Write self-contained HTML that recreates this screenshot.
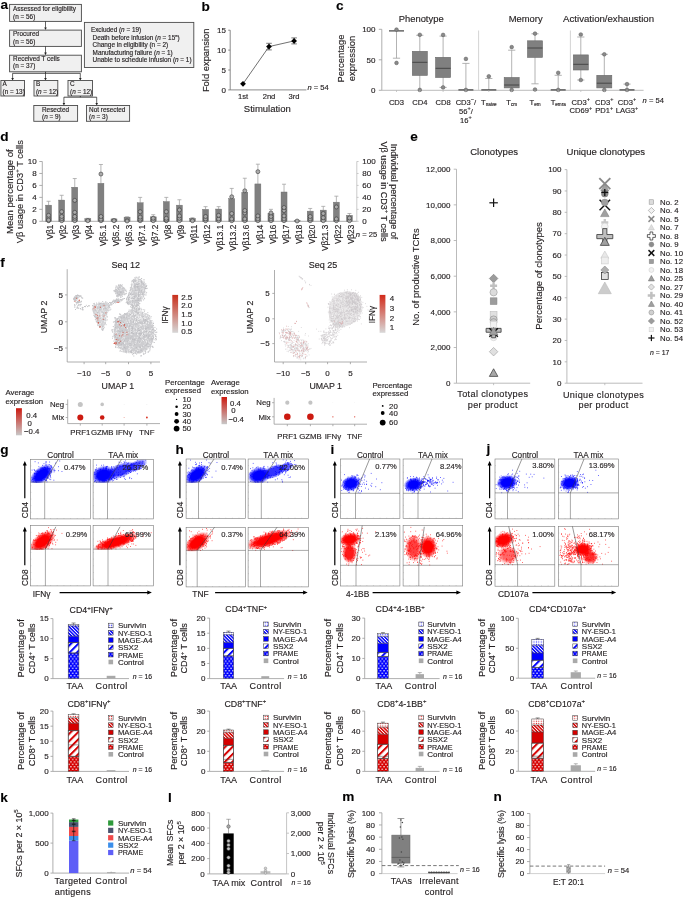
<!DOCTYPE html>
<html><head><meta charset="utf-8"><title>Figure</title>
<style>
html,body{margin:0;padding:0;background:#fff;}
body{width:685px;height:897px;overflow:hidden;}
svg{display:block;will-change:transform;font-family:"Liberation Sans",sans-serif;fill:#231f20;}
text{fill:#231f20;stroke:#231f20;stroke-width:0.15px;}
</style></head><body>
<svg width="685" height="897" viewBox="0 0 685 897">
<rect x="9.6" y="4.4" width="71.8" height="17" fill="#f0f0f0" stroke="#4a4a4a" stroke-width="0.9"/>
<text x="13.1" y="11.04" style="font-size:6.4px">Assessed for eligibility</text>
<text x="13.1" y="18.84" style="font-size:6.4px">(n = 56)</text>
<line x1="45.5" y1="21.4" x2="45.5" y2="27.9" stroke="#222" stroke-width="0.7"/>
<path d="M44.2 27.5L46.8 27.5L45.5 30.1Z" fill="#222"/>
<rect x="9.6" y="30.1" width="71.8" height="16.3" fill="#f0f0f0" stroke="#4a4a4a" stroke-width="0.9"/>
<text x="13.1" y="35.84" style="font-size:6.4px">Procured</text>
<text x="13.1" y="43.74" style="font-size:6.4px">(n = 56)</text>
<line x1="45.5" y1="46.4" x2="45.5" y2="53" stroke="#222" stroke-width="0.7"/>
<path d="M44.2 52.6L46.8 52.6L45.5 55.2Z" fill="#222"/>
<rect x="9.6" y="55.2" width="71.8" height="16.6" fill="#f0f0f0" stroke="#4a4a4a" stroke-width="0.9"/>
<text x="13.1" y="61.24" style="font-size:6.4px">Received T cells</text>
<text x="13.1" y="68.44" style="font-size:6.4px">(n = 37)</text>
<rect x="84.4" y="22.4" width="109.4" height="45.1" fill="#f0f0f0" stroke="#4a4a4a" stroke-width="0.9"/>
<text x="90.9" y="32.14" style="font-size:6.4px">Excluded (<tspan style="font-style:italic">n</tspan> = 19)</text>
<text x="92.6" y="39.64" style="font-size:6.4px">Death before infusion (<tspan style="font-style:italic">n</tspan> = 15<tspan dy="-2.6" style="font-size:4.2px">a</tspan><tspan dy="2.6">)</tspan></text>
<text x="92.6" y="47.24" style="font-size:6.4px">Change in eligibility (n = 2)</text>
<text x="92.6" y="54.84" style="font-size:6.4px">Manufacturing failure (<tspan style="font-style:italic">n</tspan> = 1)</text>
<text x="92.6" y="62.34" style="font-size:6.4px">Unable to schedule infusion (<tspan style="font-style:italic">n</tspan> = 1)</text>
<line x1="45.5" y1="71.8" x2="45.5" y2="73.3" stroke="#222" stroke-width="0.8"/>
<line x1="12.6" y1="73.3" x2="80.3" y2="73.3" stroke="#222" stroke-width="0.8"/>
<line x1="12.6" y1="73.3" x2="12.6" y2="78.3" stroke="#222" stroke-width="0.7"/>
<path d="M11.3 77.9L13.9 77.9L12.6 80.5Z" fill="#222"/>
<line x1="45.5" y1="73.3" x2="45.5" y2="78.3" stroke="#222" stroke-width="0.7"/>
<path d="M44.2 77.9L46.8 77.9L45.5 80.5Z" fill="#222"/>
<line x1="80.3" y1="73.3" x2="80.3" y2="78.3" stroke="#222" stroke-width="0.7"/>
<path d="M79 77.9L81.6 77.9L80.3 80.5Z" fill="#222"/>
<rect x="0.9" y="80.5" width="23.6" height="15.5" fill="#f0f0f0" stroke="#4a4a4a" stroke-width="0.9"/>
<text x="2.6" y="86.44" style="font-size:6.4px">A</text>
<text x="2.6" y="93.74" style="font-size:6.4px">(n = 13)</text>
<rect x="34" y="80.5" width="23.8" height="15.5" fill="#f0f0f0" stroke="#4a4a4a" stroke-width="0.9"/>
<text x="35.9" y="86.44" style="font-size:6.4px">B</text>
<text x="35.9" y="93.74" style="font-size:6.4px">(<tspan style="font-style:italic">n</tspan> = 12)</text>
<rect x="68" y="80.5" width="24.5" height="15.5" fill="#f0f0f0" stroke="#4a4a4a" stroke-width="0.9"/>
<text x="70" y="86.44" style="font-size:6.4px">C</text>
<text x="70" y="93.74" style="font-size:6.4px">(<tspan style="font-style:italic">n</tspan> = 12)</text>
<line x1="80.3" y1="96" x2="80.3" y2="97.2" stroke="#222" stroke-width="0.8"/>
<line x1="63.9" y1="97.2" x2="96.7" y2="97.2" stroke="#222" stroke-width="0.8"/>
<line x1="63.9" y1="97.2" x2="63.9" y2="103.3" stroke="#222" stroke-width="0.7"/>
<path d="M62.6 102.9L65.2 102.9L63.9 105.5Z" fill="#222"/>
<line x1="96.7" y1="97.2" x2="96.7" y2="103.3" stroke="#222" stroke-width="0.7"/>
<path d="M95.4 102.9L98 102.9L96.7 105.5Z" fill="#222"/>
<rect x="33.8" y="105.5" width="43.8" height="15.8" fill="#f0f0f0" stroke="#4a4a4a" stroke-width="0.9"/>
<text x="42" y="111.84" style="font-size:6.4px">Resected</text>
<text x="42" y="119.14" style="font-size:6.4px">(<tspan style="font-style:italic">n</tspan> = 9)</text>
<rect x="86.5" y="105.5" width="43.1" height="15.8" fill="#f0f0f0" stroke="#4a4a4a" stroke-width="0.9"/>
<text x="89.1" y="111.84" style="font-size:6.4px">Not resected</text>
<text x="89.1" y="119.14" style="font-size:6.4px">(<tspan style="font-style:italic">n</tspan> = 3)</text>
<text x="0.5" y="9.2" style="font-size:13.6px;font-weight:bold;fill:#000">a</text>
<text x="201.4" y="10.7" style="font-size:13.6px;font-weight:bold;fill:#000">b</text>
<line x1="230.2" y1="30.2" x2="230.2" y2="89.9" stroke="#6d6d6d" stroke-width="0.8"/>
<line x1="230.2" y1="89.9" x2="306.4" y2="89.9" stroke="#6d6d6d" stroke-width="0.8"/>
<line x1="228.2" y1="30.2" x2="230.2" y2="30.2" stroke="#6d6d6d" stroke-width="0.8"/>
<text x="226" y="33" text-anchor="end" style="font-size:8px">15</text>
<line x1="228.2" y1="50.1" x2="230.2" y2="50.1" stroke="#6d6d6d" stroke-width="0.8"/>
<text x="226" y="52.9" text-anchor="end" style="font-size:8px">10</text>
<line x1="228.2" y1="70" x2="230.2" y2="70" stroke="#6d6d6d" stroke-width="0.8"/>
<text x="226" y="72.8" text-anchor="end" style="font-size:8px">5</text>
<line x1="228.2" y1="89.9" x2="230.2" y2="89.9" stroke="#6d6d6d" stroke-width="0.8"/>
<text x="226" y="92.7" text-anchor="end" style="font-size:8px">0</text>
<path d="M243.0 83.8L269.0 46.6L294.1 40.9" fill="none" stroke="#333" stroke-width="0.7"/>
<path d="M243 80.9L245.9 83.8L243 86.7L240.1 83.8Z" fill="#000"/>
<line x1="269" y1="43.3" x2="269" y2="49.9" stroke="#444" stroke-width="0.7"/>
<line x1="266.2" y1="43.3" x2="271.8" y2="43.3" stroke="#444" stroke-width="0.7"/>
<line x1="266.2" y1="49.9" x2="271.8" y2="49.9" stroke="#444" stroke-width="0.7"/>
<path d="M269 43.7L271.9 46.6L269 49.5L266.1 46.6Z" fill="#000"/>
<line x1="294.1" y1="37.9" x2="294.1" y2="43.9" stroke="#444" stroke-width="0.7"/>
<line x1="291.3" y1="37.9" x2="296.9" y2="37.9" stroke="#444" stroke-width="0.7"/>
<line x1="291.3" y1="43.9" x2="296.9" y2="43.9" stroke="#444" stroke-width="0.7"/>
<path d="M294.1 38L297 40.9L294.1 43.8L291.2 40.9Z" fill="#000"/>
<text x="206.2" y="63.59" text-anchor="middle" style="font-size:9.4px" transform="rotate(-90 206.2 60.3)">Fold expansion</text>
<text x="243" y="98.96" text-anchor="middle" style="font-size:7.6px">1st</text>
<text x="269" y="98.96" text-anchor="middle" style="font-size:7.6px">2nd</text>
<text x="294.1" y="98.96" text-anchor="middle" style="font-size:7.6px">3rd</text>
<text x="267.3" y="111.92" text-anchor="middle" style="font-size:9.5px">Stimulation</text>
<text x="307.4" y="89.56" style="font-size:7.6px"><tspan style="font-style:italic">n</tspan> = 54</text>
<text x="336" y="9.6" style="font-size:13.6px;font-weight:bold;fill:#000">c</text>
<text x="421.2" y="22.19" text-anchor="middle" style="font-size:9.4px">Phenotype</text>
<text x="525.7" y="22.09" text-anchor="middle" style="font-size:9.4px">Memory</text>
<text x="608.6" y="22.18" text-anchor="middle" style="font-size:9.65px">Activation/exhaustion</text>
<line x1="381.8" y1="29.3" x2="381.8" y2="90.3" stroke="#9a9a9a" stroke-width="0.8"/>
<line x1="378.8" y1="29.3" x2="381.8" y2="29.3" stroke="#9a9a9a" stroke-width="0.8"/>
<text x="375.5" y="32.1" text-anchor="end" style="font-size:8px">100</text>
<line x1="378.8" y1="59.8" x2="381.8" y2="59.8" stroke="#9a9a9a" stroke-width="0.8"/>
<text x="375.5" y="62.6" text-anchor="end" style="font-size:8px">50</text>
<line x1="378.8" y1="90.3" x2="381.8" y2="90.3" stroke="#9a9a9a" stroke-width="0.8"/>
<text x="375.5" y="93.1" text-anchor="end" style="font-size:8px">0</text>
<line x1="381.8" y1="90.3" x2="643.6" y2="90.3" stroke="#b4b4b4" stroke-width="0.9"/>
<line x1="478.6" y1="30.5" x2="478.6" y2="90.3" stroke="#c8c8c8" stroke-width="0.8"/>
<line x1="570.4" y1="30.5" x2="570.4" y2="90.3" stroke="#c8c8c8" stroke-width="0.8"/>
<text x="340.5" y="61.79" text-anchor="middle" style="font-size:9.4px" transform="rotate(-90 340.5 58.5)">Percentage</text>
<text x="351.3" y="61.79" text-anchor="middle" style="font-size:9.4px" transform="rotate(-90 351.3 58.5)">expression</text>
<line x1="396.5" y1="30.9" x2="396.5" y2="58.2" stroke="#a0a0a0" stroke-width="0.8"/>
<line x1="392.9" y1="58.2" x2="400.1" y2="58.2" stroke="#a0a0a0" stroke-width="0.8"/>
<line x1="389" y1="30.9" x2="404" y2="30.9" stroke="#404040" stroke-width="1.2"/>
<circle cx="396.5" cy="29.6" r="1.85" fill="#8a8a8a" stroke="#5a5a5a" stroke-width="0.5"/>
<circle cx="396.5" cy="62.9" r="1.85" fill="#8a8a8a" stroke="#5a5a5a" stroke-width="0.5"/>
<line x1="396.5" y1="90.3" x2="396.5" y2="92" stroke="#b4b4b4" stroke-width="0.7"/>
<line x1="419.8" y1="35.3" x2="419.8" y2="89.9" stroke="#a0a0a0" stroke-width="0.8"/>
<line x1="416.2" y1="35.3" x2="423.4" y2="35.3" stroke="#a0a0a0" stroke-width="0.8"/>
<rect x="412.3" y="51.3" width="15" height="24.1" fill="#808080" stroke="#6a6a6a" stroke-width="0.6"/>
<line x1="412.3" y1="62.3" x2="427.3" y2="62.3" stroke="#404040" stroke-width="0.9"/>
<circle cx="419.8" cy="34.8" r="1.85" fill="#8a8a8a" stroke="#5a5a5a" stroke-width="0.5"/>
<circle cx="419.8" cy="89.9" r="1.85" fill="#8a8a8a" stroke="#5a5a5a" stroke-width="0.5"/>
<line x1="419.8" y1="90.3" x2="419.8" y2="92" stroke="#b4b4b4" stroke-width="0.7"/>
<line x1="443.1" y1="36.1" x2="443.1" y2="87.4" stroke="#a0a0a0" stroke-width="0.8"/>
<line x1="439.5" y1="36.1" x2="446.7" y2="36.1" stroke="#a0a0a0" stroke-width="0.8"/>
<line x1="439.5" y1="87.4" x2="446.7" y2="87.4" stroke="#a0a0a0" stroke-width="0.8"/>
<rect x="435.6" y="57.3" width="15" height="20.2" fill="#808080" stroke="#6a6a6a" stroke-width="0.6"/>
<line x1="435.6" y1="68.3" x2="450.6" y2="68.3" stroke="#404040" stroke-width="0.9"/>
<circle cx="443.1" cy="34.9" r="1.85" fill="#8a8a8a" stroke="#5a5a5a" stroke-width="0.5"/>
<circle cx="443.1" cy="87.4" r="1.85" fill="#8a8a8a" stroke="#5a5a5a" stroke-width="0.5"/>
<line x1="443.1" y1="90.3" x2="443.1" y2="92" stroke="#b4b4b4" stroke-width="0.7"/>
<line x1="465.9" y1="63.4" x2="465.9" y2="89.9" stroke="#a0a0a0" stroke-width="0.8"/>
<line x1="462.3" y1="63.4" x2="469.5" y2="63.4" stroke="#a0a0a0" stroke-width="0.8"/>
<line x1="458.4" y1="89.9" x2="473.4" y2="89.9" stroke="#404040" stroke-width="1.2"/>
<circle cx="465.9" cy="58.9" r="1.85" fill="#8a8a8a" stroke="#5a5a5a" stroke-width="0.5"/>
<circle cx="465.9" cy="89.9" r="1.85" fill="#8a8a8a" stroke="#5a5a5a" stroke-width="0.5"/>
<line x1="465.9" y1="90.3" x2="465.9" y2="92" stroke="#b4b4b4" stroke-width="0.7"/>
<line x1="488.8" y1="78.5" x2="488.8" y2="89.9" stroke="#a0a0a0" stroke-width="0.8"/>
<line x1="485.2" y1="78.5" x2="492.4" y2="78.5" stroke="#a0a0a0" stroke-width="0.8"/>
<line x1="481.3" y1="89.9" x2="496.3" y2="89.9" stroke="#404040" stroke-width="1.2"/>
<circle cx="488.8" cy="76.3" r="1.85" fill="#8a8a8a" stroke="#5a5a5a" stroke-width="0.5"/>
<line x1="488.8" y1="90.3" x2="488.8" y2="92" stroke="#b4b4b4" stroke-width="0.7"/>
<line x1="511.7" y1="50.2" x2="511.7" y2="89.9" stroke="#a0a0a0" stroke-width="0.8"/>
<line x1="508.1" y1="50.2" x2="515.3" y2="50.2" stroke="#a0a0a0" stroke-width="0.8"/>
<rect x="504.2" y="77.5" width="15" height="10.4" fill="#808080" stroke="#6a6a6a" stroke-width="0.6"/>
<line x1="504.2" y1="85" x2="519.2" y2="85" stroke="#404040" stroke-width="0.9"/>
<circle cx="511.7" cy="47.1" r="1.85" fill="#8a8a8a" stroke="#5a5a5a" stroke-width="0.5"/>
<circle cx="511.7" cy="89.9" r="1.85" fill="#8a8a8a" stroke="#5a5a5a" stroke-width="0.5"/>
<line x1="511.7" y1="90.3" x2="511.7" y2="92" stroke="#b4b4b4" stroke-width="0.7"/>
<line x1="535" y1="33.8" x2="535" y2="83.8" stroke="#a0a0a0" stroke-width="0.8"/>
<line x1="531.4" y1="33.8" x2="538.6" y2="33.8" stroke="#a0a0a0" stroke-width="0.8"/>
<line x1="531.4" y1="83.8" x2="538.6" y2="83.8" stroke="#a0a0a0" stroke-width="0.8"/>
<rect x="527.5" y="40.8" width="15" height="16.6" fill="#808080" stroke="#6a6a6a" stroke-width="0.6"/>
<line x1="527.5" y1="48" x2="542.5" y2="48" stroke="#404040" stroke-width="0.9"/>
<circle cx="535" cy="33.6" r="1.85" fill="#8a8a8a" stroke="#5a5a5a" stroke-width="0.5"/>
<circle cx="535" cy="89.5" r="1.85" fill="#8a8a8a" stroke="#5a5a5a" stroke-width="0.5"/>
<line x1="535" y1="90.3" x2="535" y2="92" stroke="#b4b4b4" stroke-width="0.7"/>
<line x1="558.2" y1="75.3" x2="558.2" y2="89.9" stroke="#a0a0a0" stroke-width="0.8"/>
<line x1="554.6" y1="75.3" x2="561.8" y2="75.3" stroke="#a0a0a0" stroke-width="0.8"/>
<line x1="550.7" y1="89.9" x2="565.7" y2="89.9" stroke="#404040" stroke-width="1.2"/>
<circle cx="558.2" cy="72.8" r="1.85" fill="#8a8a8a" stroke="#5a5a5a" stroke-width="0.5"/>
<circle cx="558.2" cy="89.9" r="1.85" fill="#8a8a8a" stroke="#5a5a5a" stroke-width="0.5"/>
<line x1="558.2" y1="90.3" x2="558.2" y2="92" stroke="#b4b4b4" stroke-width="0.7"/>
<line x1="580.8" y1="37" x2="580.8" y2="80" stroke="#a0a0a0" stroke-width="0.8"/>
<line x1="577.2" y1="37" x2="584.4" y2="37" stroke="#a0a0a0" stroke-width="0.8"/>
<line x1="577.2" y1="80" x2="584.4" y2="80" stroke="#a0a0a0" stroke-width="0.8"/>
<rect x="573.3" y="54.9" width="15" height="15.1" fill="#808080" stroke="#6a6a6a" stroke-width="0.6"/>
<line x1="573.3" y1="64.3" x2="588.3" y2="64.3" stroke="#404040" stroke-width="0.9"/>
<circle cx="580.8" cy="34.5" r="1.85" fill="#8a8a8a" stroke="#5a5a5a" stroke-width="0.5"/>
<circle cx="580.8" cy="80" r="1.85" fill="#8a8a8a" stroke="#5a5a5a" stroke-width="0.5"/>
<line x1="580.8" y1="90.3" x2="580.8" y2="92" stroke="#b4b4b4" stroke-width="0.7"/>
<line x1="604.3" y1="54.3" x2="604.3" y2="89.9" stroke="#a0a0a0" stroke-width="0.8"/>
<line x1="600.7" y1="54.3" x2="607.9" y2="54.3" stroke="#a0a0a0" stroke-width="0.8"/>
<rect x="596.8" y="75.3" width="15" height="12.6" fill="#808080" stroke="#6a6a6a" stroke-width="0.6"/>
<line x1="596.8" y1="83.2" x2="611.8" y2="83.2" stroke="#404040" stroke-width="0.9"/>
<circle cx="604.3" cy="54.3" r="1.85" fill="#8a8a8a" stroke="#5a5a5a" stroke-width="0.5"/>
<circle cx="604.3" cy="89.9" r="1.85" fill="#8a8a8a" stroke="#5a5a5a" stroke-width="0.5"/>
<line x1="604.3" y1="90.3" x2="604.3" y2="92" stroke="#b4b4b4" stroke-width="0.7"/>
<line x1="627" y1="84.1" x2="627" y2="89.9" stroke="#a0a0a0" stroke-width="0.8"/>
<line x1="623.4" y1="84.1" x2="630.6" y2="84.1" stroke="#a0a0a0" stroke-width="0.8"/>
<line x1="619.5" y1="89.9" x2="634.5" y2="89.9" stroke="#404040" stroke-width="1.2"/>
<circle cx="627" cy="84.1" r="1.85" fill="#8a8a8a" stroke="#5a5a5a" stroke-width="0.5"/>
<circle cx="627" cy="89.9" r="1.85" fill="#8a8a8a" stroke="#5a5a5a" stroke-width="0.5"/>
<line x1="627" y1="90.3" x2="627" y2="92" stroke="#b4b4b4" stroke-width="0.7"/>
<text x="396.5" y="104.66" text-anchor="middle" style="font-size:7.6px">CD3</text>
<text x="419.8" y="104.66" text-anchor="middle" style="font-size:7.6px">CD4</text>
<text x="443.1" y="104.66" text-anchor="middle" style="font-size:7.6px">CD8</text>
<text x="465.9" y="104.66" text-anchor="middle" style="font-size:7.6px">CD3<tspan dy="-3.4" style="font-size:5.5px">−</tspan><tspan dy="3.4">/</tspan></text>
<text x="465.9" y="113.56" text-anchor="middle" style="font-size:7.6px">56<tspan dy="-3.4" style="font-size:5.5px">+</tspan><tspan dy="3.4">/</tspan></text>
<text x="465.9" y="122.66" text-anchor="middle" style="font-size:7.6px">16<tspan dy="-3.4" style="font-size:5.5px">+</tspan></text>
<text x="488.8" y="104.66" text-anchor="middle" style="font-size:7.6px">T<tspan dy="1.8" style="font-size:4.6px">naive</tspan></text>
<text x="511.7" y="104.66" text-anchor="middle" style="font-size:7.6px">T<tspan dy="1.8" style="font-size:4.6px">cm</tspan></text>
<text x="535" y="104.66" text-anchor="middle" style="font-size:7.6px">T<tspan dy="1.8" style="font-size:4.6px">em</tspan></text>
<text x="558.2" y="104.66" text-anchor="middle" style="font-size:7.6px">T<tspan dy="1.8" style="font-size:4.6px">emra</tspan></text>
<text x="580.8" y="104.66" text-anchor="middle" style="font-size:7.6px">CD3<tspan dy="-3.4" style="font-size:5.5px">+</tspan></text>
<text x="580.8" y="113.26" text-anchor="middle" style="font-size:7.6px">CD69<tspan dy="-3.4" style="font-size:5.5px">+</tspan></text>
<text x="604.3" y="104.66" text-anchor="middle" style="font-size:7.6px">CD3<tspan dy="-3.4" style="font-size:5.5px">+</tspan></text>
<text x="604.3" y="113.26" text-anchor="middle" style="font-size:7.6px">PD1<tspan dy="-3.4" style="font-size:5.5px">+</tspan></text>
<text x="627" y="104.66" text-anchor="middle" style="font-size:7.6px">CD3<tspan dy="-3.4" style="font-size:5.5px">+</tspan></text>
<text x="627" y="113.26" text-anchor="middle" style="font-size:7.6px">LAG3<tspan dy="-3.4" style="font-size:5.5px">+</tspan></text>
<text x="642.6" y="103.06" style="font-size:7.6px"><tspan style="font-style:italic">n</tspan> = 54</text>
<text x="0.3" y="141" style="font-size:13.6px;font-weight:bold;fill:#000">d</text>
<line x1="42.3" y1="161.5" x2="42.3" y2="221.3" stroke="#9a9a9a" stroke-width="0.8"/>
<line x1="39.3" y1="221.3" x2="42.3" y2="221.3" stroke="#9a9a9a" stroke-width="0.8"/>
<text x="36.6" y="224.1" text-anchor="end" style="font-size:8px">0</text>
<line x1="39.3" y1="209.34" x2="42.3" y2="209.34" stroke="#9a9a9a" stroke-width="0.8"/>
<text x="36.6" y="212.14" text-anchor="end" style="font-size:8px">2</text>
<line x1="39.3" y1="197.38" x2="42.3" y2="197.38" stroke="#9a9a9a" stroke-width="0.8"/>
<text x="36.6" y="200.18" text-anchor="end" style="font-size:8px">4</text>
<line x1="39.3" y1="185.42" x2="42.3" y2="185.42" stroke="#9a9a9a" stroke-width="0.8"/>
<text x="36.6" y="188.22" text-anchor="end" style="font-size:8px">6</text>
<line x1="39.3" y1="173.46" x2="42.3" y2="173.46" stroke="#9a9a9a" stroke-width="0.8"/>
<text x="36.6" y="176.26" text-anchor="end" style="font-size:8px">8</text>
<line x1="39.3" y1="161.5" x2="42.3" y2="161.5" stroke="#9a9a9a" stroke-width="0.8"/>
<text x="36.6" y="164.3" text-anchor="end" style="font-size:8px">10</text>
<line x1="42.3" y1="221.3" x2="356.8" y2="221.3" stroke="#9a9a9a" stroke-width="0.8"/>
<line x1="356.8" y1="161.5" x2="356.8" y2="221.3" stroke="#bdbdbd" stroke-width="0.8"/>
<line x1="356.8" y1="221.3" x2="358.6" y2="221.3" stroke="#bdbdbd" stroke-width="0.8"/>
<text x="362.3" y="224.1" style="font-size:8px">0</text>
<line x1="356.8" y1="209.34" x2="358.6" y2="209.34" stroke="#bdbdbd" stroke-width="0.8"/>
<text x="362.3" y="212.14" style="font-size:8px">20</text>
<line x1="356.8" y1="197.38" x2="358.6" y2="197.38" stroke="#bdbdbd" stroke-width="0.8"/>
<text x="362.3" y="200.18" style="font-size:8px">40</text>
<line x1="356.8" y1="185.42" x2="358.6" y2="185.42" stroke="#bdbdbd" stroke-width="0.8"/>
<text x="362.3" y="188.22" style="font-size:8px">60</text>
<line x1="356.8" y1="173.46" x2="358.6" y2="173.46" stroke="#bdbdbd" stroke-width="0.8"/>
<text x="362.3" y="176.26" style="font-size:8px">80</text>
<line x1="356.8" y1="161.5" x2="358.6" y2="161.5" stroke="#bdbdbd" stroke-width="0.8"/>
<text x="362.3" y="164.3" style="font-size:8px">100</text>
<text x="366.5" y="236.66" text-anchor="middle" style="font-size:7.6px"><tspan style="font-style:italic">n</tspan> = 25</text>
<text x="10" y="195.02" text-anchor="middle" style="font-size:9.5px" transform="rotate(-90 10 191.7)">Mean percentage of</text>
<text x="20.2" y="194.95" text-anchor="middle" style="font-size:9.3px" transform="rotate(-90 20.2 191.7)">Vβ usage in CD3<tspan dy="-4.0" style="font-size:6px">+</tspan><tspan dy="4.0"> T cells</tspan></text>
<text x="394.6" y="194.65" text-anchor="middle" style="font-size:9px" transform="rotate(90 394.6 191.5)">Individual percentage of</text>
<text x="383.7" y="194.65" text-anchor="middle" style="font-size:9px" transform="rotate(90 383.7 191.5)">Vβ usage in CD3<tspan dy="-4.0" style="font-size:6px">+</tspan><tspan dy="4.0"> T cells</tspan></text>
<line x1="48.6" y1="201.27" x2="48.6" y2="205.15" stroke="#a5a5a5" stroke-width="0.8"/>
<line x1="46.6" y1="201.27" x2="50.6" y2="201.27" stroke="#a5a5a5" stroke-width="0.8"/>
<rect x="45.6" y="205.15" width="6" height="16.15" fill="#808080" stroke="#6a6a6a" stroke-width="0.4"/>
<circle cx="48.6" cy="220.7" r="2" fill="#ababab" stroke="#2e2e2e" stroke-width="0.55"/>
<circle cx="48.6" cy="218.31" r="2" fill="#ababab" stroke="#2e2e2e" stroke-width="0.55"/>
<circle cx="48.6" cy="215.32" r="2" fill="#ababab" stroke="#2e2e2e" stroke-width="0.55"/>
<circle cx="48.6" cy="220.1" r="2" fill="#ababab" stroke="#2e2e2e" stroke-width="0.55"/>
<text x="50.4" y="227.67" text-anchor="end" style="font-size:8.2px" transform="rotate(-90 50.4 224.8)">Vβ1</text>
<line x1="61.68" y1="195.29" x2="61.68" y2="200.07" stroke="#a5a5a5" stroke-width="0.8"/>
<line x1="59.68" y1="195.29" x2="63.68" y2="195.29" stroke="#a5a5a5" stroke-width="0.8"/>
<rect x="58.68" y="200.07" width="6" height="21.23" fill="#808080" stroke="#6a6a6a" stroke-width="0.4"/>
<circle cx="61.68" cy="220.7" r="2" fill="#ababab" stroke="#2e2e2e" stroke-width="0.55"/>
<circle cx="61.68" cy="218.61" r="2" fill="#ababab" stroke="#2e2e2e" stroke-width="0.55"/>
<circle cx="61.68" cy="216.52" r="2" fill="#ababab" stroke="#2e2e2e" stroke-width="0.55"/>
<circle cx="61.68" cy="211.73" r="2" fill="#ababab" stroke="#2e2e2e" stroke-width="0.55"/>
<text x="63.48" y="227.67" text-anchor="end" style="font-size:8.2px" transform="rotate(-90 63.48 224.8)">Vβ2</text>
<line x1="74.76" y1="178.54" x2="74.76" y2="187.21" stroke="#a5a5a5" stroke-width="0.8"/>
<line x1="72.76" y1="178.54" x2="76.76" y2="178.54" stroke="#a5a5a5" stroke-width="0.8"/>
<rect x="71.76" y="187.21" width="6" height="34.09" fill="#808080" stroke="#6a6a6a" stroke-width="0.4"/>
<circle cx="74.76" cy="220.7" r="2" fill="#ababab" stroke="#2e2e2e" stroke-width="0.55"/>
<circle cx="74.76" cy="218.31" r="2" fill="#ababab" stroke="#2e2e2e" stroke-width="0.55"/>
<circle cx="74.76" cy="216.52" r="2" fill="#ababab" stroke="#2e2e2e" stroke-width="0.55"/>
<circle cx="74.76" cy="212.33" r="2" fill="#ababab" stroke="#2e2e2e" stroke-width="0.55"/>
<circle cx="74.76" cy="200.37" r="2" fill="#ababab" stroke="#2e2e2e" stroke-width="0.55"/>
<text x="76.56" y="227.67" text-anchor="end" style="font-size:8.2px" transform="rotate(-90 76.56 224.8)">Vβ3</text>
<line x1="87.84" y1="218.31" x2="87.84" y2="218.61" stroke="#a5a5a5" stroke-width="0.8"/>
<line x1="85.84" y1="218.31" x2="89.84" y2="218.31" stroke="#a5a5a5" stroke-width="0.8"/>
<rect x="84.84" y="218.61" width="6" height="2.69" fill="#808080" stroke="#6a6a6a" stroke-width="0.4"/>
<circle cx="87.84" cy="220.7" r="2" fill="#ababab" stroke="#2e2e2e" stroke-width="0.55"/>
<text x="89.64" y="227.67" text-anchor="end" style="font-size:8.2px" transform="rotate(-90 89.64 224.8)">Vβ4</text>
<line x1="100.92" y1="164.49" x2="100.92" y2="183.33" stroke="#a5a5a5" stroke-width="0.8"/>
<line x1="98.92" y1="164.49" x2="102.92" y2="164.49" stroke="#a5a5a5" stroke-width="0.8"/>
<rect x="97.92" y="183.33" width="6" height="37.97" fill="#808080" stroke="#6a6a6a" stroke-width="0.4"/>
<circle cx="100.92" cy="220.7" r="2" fill="#ababab" stroke="#2e2e2e" stroke-width="0.55"/>
<circle cx="100.92" cy="219.21" r="2" fill="#ababab" stroke="#2e2e2e" stroke-width="0.55"/>
<circle cx="100.92" cy="216.52" r="2" fill="#ababab" stroke="#2e2e2e" stroke-width="0.55"/>
<circle cx="100.92" cy="174.06" r="2" fill="#ababab" stroke="#2e2e2e" stroke-width="0.55"/>
<text x="102.72" y="227.67" text-anchor="end" style="font-size:8.2px" transform="rotate(-90 102.72 224.8)">Vβ5.1</text>
<line x1="114" y1="218.61" x2="114" y2="218.91" stroke="#a5a5a5" stroke-width="0.8"/>
<line x1="112" y1="218.61" x2="116" y2="218.61" stroke="#a5a5a5" stroke-width="0.8"/>
<rect x="111" y="218.91" width="6" height="2.39" fill="#808080" stroke="#6a6a6a" stroke-width="0.4"/>
<circle cx="114" cy="220.7" r="2" fill="#ababab" stroke="#2e2e2e" stroke-width="0.55"/>
<text x="115.8" y="227.67" text-anchor="end" style="font-size:8.2px" transform="rotate(-90 115.8 224.8)">Vβ5.2</text>
<line x1="127.08" y1="216.81" x2="127.08" y2="217.11" stroke="#a5a5a5" stroke-width="0.8"/>
<line x1="125.08" y1="216.81" x2="129.08" y2="216.81" stroke="#a5a5a5" stroke-width="0.8"/>
<rect x="124.08" y="217.11" width="6" height="4.19" fill="#808080" stroke="#6a6a6a" stroke-width="0.4"/>
<circle cx="127.08" cy="221" r="2" fill="#ababab" stroke="#2e2e2e" stroke-width="0.55"/>
<text x="128.88" y="227.67" text-anchor="end" style="font-size:8.2px" transform="rotate(-90 128.88 224.8)">Vβ5.3</text>
<line x1="140.16" y1="197.38" x2="140.16" y2="202.76" stroke="#a5a5a5" stroke-width="0.8"/>
<line x1="138.16" y1="197.38" x2="142.16" y2="197.38" stroke="#a5a5a5" stroke-width="0.8"/>
<rect x="137.16" y="202.76" width="6" height="18.54" fill="#808080" stroke="#6a6a6a" stroke-width="0.4"/>
<circle cx="140.16" cy="220.7" r="2" fill="#ababab" stroke="#2e2e2e" stroke-width="0.55"/>
<circle cx="140.16" cy="219.21" r="2" fill="#ababab" stroke="#2e2e2e" stroke-width="0.55"/>
<circle cx="140.16" cy="217.11" r="2" fill="#ababab" stroke="#2e2e2e" stroke-width="0.55"/>
<circle cx="140.16" cy="211.73" r="2" fill="#ababab" stroke="#2e2e2e" stroke-width="0.55"/>
<text x="141.96" y="227.67" text-anchor="end" style="font-size:8.2px" transform="rotate(-90 141.96 224.8)">Vβ7.1</text>
<line x1="153.24" y1="214.72" x2="153.24" y2="216.81" stroke="#a5a5a5" stroke-width="0.8"/>
<line x1="151.24" y1="214.72" x2="155.24" y2="214.72" stroke="#a5a5a5" stroke-width="0.8"/>
<rect x="150.24" y="216.81" width="6" height="4.49" fill="#808080" stroke="#6a6a6a" stroke-width="0.4"/>
<circle cx="153.24" cy="220.7" r="2" fill="#ababab" stroke="#2e2e2e" stroke-width="0.55"/>
<circle cx="153.24" cy="218.31" r="2" fill="#ababab" stroke="#2e2e2e" stroke-width="0.55"/>
<text x="155.04" y="227.67" text-anchor="end" style="font-size:8.2px" transform="rotate(-90 155.04 224.8)">Vβ7.2</text>
<line x1="166.32" y1="197.38" x2="166.32" y2="201.57" stroke="#a5a5a5" stroke-width="0.8"/>
<line x1="164.32" y1="197.38" x2="168.32" y2="197.38" stroke="#a5a5a5" stroke-width="0.8"/>
<rect x="163.32" y="201.57" width="6" height="19.73" fill="#808080" stroke="#6a6a6a" stroke-width="0.4"/>
<circle cx="166.32" cy="220.7" r="2" fill="#ababab" stroke="#2e2e2e" stroke-width="0.55"/>
<circle cx="166.32" cy="220.1" r="2" fill="#ababab" stroke="#2e2e2e" stroke-width="0.55"/>
<circle cx="166.32" cy="218.31" r="2" fill="#ababab" stroke="#2e2e2e" stroke-width="0.55"/>
<circle cx="166.32" cy="211.73" r="2" fill="#ababab" stroke="#2e2e2e" stroke-width="0.55"/>
<text x="168.12" y="227.67" text-anchor="end" style="font-size:8.2px" transform="rotate(-90 168.12 224.8)">Vβ8</text>
<line x1="179.4" y1="199.77" x2="179.4" y2="205.15" stroke="#a5a5a5" stroke-width="0.8"/>
<line x1="177.4" y1="199.77" x2="181.4" y2="199.77" stroke="#a5a5a5" stroke-width="0.8"/>
<rect x="176.4" y="205.15" width="6" height="16.15" fill="#808080" stroke="#6a6a6a" stroke-width="0.4"/>
<circle cx="179.4" cy="220.7" r="2" fill="#ababab" stroke="#2e2e2e" stroke-width="0.55"/>
<circle cx="179.4" cy="218.31" r="2" fill="#ababab" stroke="#2e2e2e" stroke-width="0.55"/>
<circle cx="179.4" cy="215.92" r="2" fill="#ababab" stroke="#2e2e2e" stroke-width="0.55"/>
<circle cx="179.4" cy="209.94" r="2" fill="#ababab" stroke="#2e2e2e" stroke-width="0.55"/>
<text x="181.2" y="227.67" text-anchor="end" style="font-size:8.2px" transform="rotate(-90 181.2 224.8)">Vβ9</text>
<line x1="192.48" y1="217.71" x2="192.48" y2="218.31" stroke="#a5a5a5" stroke-width="0.8"/>
<line x1="190.48" y1="217.71" x2="194.48" y2="217.71" stroke="#a5a5a5" stroke-width="0.8"/>
<rect x="189.48" y="218.31" width="6" height="2.99" fill="#808080" stroke="#6a6a6a" stroke-width="0.4"/>
<circle cx="192.48" cy="220.7" r="2" fill="#ababab" stroke="#2e2e2e" stroke-width="0.55"/>
<text x="194.28" y="227.67" text-anchor="end" style="font-size:8.2px" transform="rotate(-90 194.28 224.8)">Vβ11</text>
<line x1="205.56" y1="206.65" x2="205.56" y2="209.34" stroke="#a5a5a5" stroke-width="0.8"/>
<line x1="203.56" y1="206.65" x2="207.56" y2="206.65" stroke="#a5a5a5" stroke-width="0.8"/>
<rect x="202.56" y="209.34" width="6" height="11.96" fill="#808080" stroke="#6a6a6a" stroke-width="0.4"/>
<circle cx="205.56" cy="220.7" r="2" fill="#ababab" stroke="#2e2e2e" stroke-width="0.55"/>
<circle cx="205.56" cy="218.91" r="2" fill="#ababab" stroke="#2e2e2e" stroke-width="0.55"/>
<circle cx="205.56" cy="216.52" r="2" fill="#ababab" stroke="#2e2e2e" stroke-width="0.55"/>
<text x="207.36" y="227.67" text-anchor="end" style="font-size:8.2px" transform="rotate(-90 207.36 224.8)">Vβ12</text>
<line x1="218.64" y1="206.65" x2="218.64" y2="209.04" stroke="#a5a5a5" stroke-width="0.8"/>
<line x1="216.64" y1="206.65" x2="220.64" y2="206.65" stroke="#a5a5a5" stroke-width="0.8"/>
<rect x="215.64" y="209.04" width="6" height="12.26" fill="#808080" stroke="#6a6a6a" stroke-width="0.4"/>
<circle cx="218.64" cy="220.7" r="2" fill="#ababab" stroke="#2e2e2e" stroke-width="0.55"/>
<circle cx="218.64" cy="218.91" r="2" fill="#ababab" stroke="#2e2e2e" stroke-width="0.55"/>
<circle cx="218.64" cy="215.32" r="2" fill="#ababab" stroke="#2e2e2e" stroke-width="0.55"/>
<text x="220.44" y="227.67" text-anchor="end" style="font-size:8.2px" transform="rotate(-90 220.44 224.8)">Vβ13.1</text>
<line x1="231.72" y1="188.41" x2="231.72" y2="198.58" stroke="#a5a5a5" stroke-width="0.8"/>
<line x1="229.72" y1="188.41" x2="233.72" y2="188.41" stroke="#a5a5a5" stroke-width="0.8"/>
<rect x="228.72" y="198.58" width="6" height="22.72" fill="#808080" stroke="#6a6a6a" stroke-width="0.4"/>
<circle cx="231.72" cy="220.7" r="2" fill="#ababab" stroke="#2e2e2e" stroke-width="0.55"/>
<circle cx="231.72" cy="218.91" r="2" fill="#ababab" stroke="#2e2e2e" stroke-width="0.55"/>
<circle cx="231.72" cy="213.53" r="2" fill="#ababab" stroke="#2e2e2e" stroke-width="0.55"/>
<circle cx="231.72" cy="196.78" r="2" fill="#ababab" stroke="#2e2e2e" stroke-width="0.55"/>
<text x="233.52" y="227.67" text-anchor="end" style="font-size:8.2px" transform="rotate(-90 233.52 224.8)">Vβ13.2</text>
<line x1="244.8" y1="178.24" x2="244.8" y2="192.3" stroke="#a5a5a5" stroke-width="0.8"/>
<line x1="242.8" y1="178.24" x2="246.8" y2="178.24" stroke="#a5a5a5" stroke-width="0.8"/>
<rect x="241.8" y="192.3" width="6" height="29" fill="#808080" stroke="#6a6a6a" stroke-width="0.4"/>
<circle cx="244.8" cy="220.7" r="2" fill="#ababab" stroke="#2e2e2e" stroke-width="0.55"/>
<circle cx="244.8" cy="218.91" r="2" fill="#ababab" stroke="#2e2e2e" stroke-width="0.55"/>
<circle cx="244.8" cy="212.93" r="2" fill="#ababab" stroke="#2e2e2e" stroke-width="0.55"/>
<circle cx="244.8" cy="210.54" r="2" fill="#ababab" stroke="#2e2e2e" stroke-width="0.55"/>
<circle cx="244.8" cy="190.8" r="2" fill="#ababab" stroke="#2e2e2e" stroke-width="0.55"/>
<text x="246.6" y="227.67" text-anchor="end" style="font-size:8.2px" transform="rotate(-90 246.6 224.8)">Vβ13.6</text>
<line x1="257.88" y1="164.19" x2="257.88" y2="183.93" stroke="#a5a5a5" stroke-width="0.8"/>
<line x1="255.88" y1="164.19" x2="259.88" y2="164.19" stroke="#a5a5a5" stroke-width="0.8"/>
<rect x="254.88" y="183.93" width="6" height="37.38" fill="#808080" stroke="#6a6a6a" stroke-width="0.4"/>
<circle cx="257.88" cy="220.7" r="2" fill="#ababab" stroke="#2e2e2e" stroke-width="0.55"/>
<circle cx="257.88" cy="218.91" r="2" fill="#ababab" stroke="#2e2e2e" stroke-width="0.55"/>
<circle cx="257.88" cy="215.92" r="2" fill="#ababab" stroke="#2e2e2e" stroke-width="0.55"/>
<circle cx="257.88" cy="171.67" r="2" fill="#ababab" stroke="#2e2e2e" stroke-width="0.55"/>
<text x="259.68" y="227.67" text-anchor="end" style="font-size:8.2px" transform="rotate(-90 259.68 224.8)">Vβ14</text>
<line x1="270.96" y1="209.34" x2="270.96" y2="213.23" stroke="#a5a5a5" stroke-width="0.8"/>
<line x1="268.96" y1="209.34" x2="272.96" y2="209.34" stroke="#a5a5a5" stroke-width="0.8"/>
<rect x="267.96" y="213.23" width="6" height="8.07" fill="#808080" stroke="#6a6a6a" stroke-width="0.4"/>
<circle cx="270.96" cy="220.7" r="2" fill="#ababab" stroke="#2e2e2e" stroke-width="0.55"/>
<circle cx="270.96" cy="218.91" r="2" fill="#ababab" stroke="#2e2e2e" stroke-width="0.55"/>
<circle cx="270.96" cy="216.52" r="2" fill="#ababab" stroke="#2e2e2e" stroke-width="0.55"/>
<circle cx="270.96" cy="212.93" r="2" fill="#ababab" stroke="#2e2e2e" stroke-width="0.55"/>
<text x="272.76" y="227.67" text-anchor="end" style="font-size:8.2px" transform="rotate(-90 272.76 224.8)">Vβ16</text>
<line x1="284.04" y1="184.22" x2="284.04" y2="192" stroke="#a5a5a5" stroke-width="0.8"/>
<line x1="282.04" y1="184.22" x2="286.04" y2="184.22" stroke="#a5a5a5" stroke-width="0.8"/>
<rect x="281.04" y="192" width="6" height="29.3" fill="#808080" stroke="#6a6a6a" stroke-width="0.4"/>
<circle cx="284.04" cy="220.7" r="2" fill="#ababab" stroke="#2e2e2e" stroke-width="0.55"/>
<circle cx="284.04" cy="218.91" r="2" fill="#ababab" stroke="#2e2e2e" stroke-width="0.55"/>
<circle cx="284.04" cy="215.92" r="2" fill="#ababab" stroke="#2e2e2e" stroke-width="0.55"/>
<circle cx="284.04" cy="210.54" r="2" fill="#ababab" stroke="#2e2e2e" stroke-width="0.55"/>
<circle cx="284.04" cy="207.55" r="2" fill="#ababab" stroke="#2e2e2e" stroke-width="0.55"/>
<text x="285.84" y="227.67" text-anchor="end" style="font-size:8.2px" transform="rotate(-90 285.84 224.8)">Vβ17</text>
<line x1="297.12" y1="220.4" x2="297.12" y2="220.58" stroke="#a5a5a5" stroke-width="0.8"/>
<line x1="295.12" y1="220.4" x2="299.12" y2="220.4" stroke="#a5a5a5" stroke-width="0.8"/>
<rect x="294.12" y="220.58" width="6" height="0.72" fill="#808080" stroke="#6a6a6a" stroke-width="0.4"/>
<circle cx="297.12" cy="221" r="2" fill="#ababab" stroke="#2e2e2e" stroke-width="0.55"/>
<text x="298.92" y="227.67" text-anchor="end" style="font-size:8.2px" transform="rotate(-90 298.92 224.8)">Vβ18</text>
<line x1="310.2" y1="208.44" x2="310.2" y2="211.13" stroke="#a5a5a5" stroke-width="0.8"/>
<line x1="308.2" y1="208.44" x2="312.2" y2="208.44" stroke="#a5a5a5" stroke-width="0.8"/>
<rect x="307.2" y="211.13" width="6" height="10.17" fill="#808080" stroke="#6a6a6a" stroke-width="0.4"/>
<circle cx="310.2" cy="220.7" r="2" fill="#ababab" stroke="#2e2e2e" stroke-width="0.55"/>
<circle cx="310.2" cy="218.91" r="2" fill="#ababab" stroke="#2e2e2e" stroke-width="0.55"/>
<circle cx="310.2" cy="216.52" r="2" fill="#ababab" stroke="#2e2e2e" stroke-width="0.55"/>
<text x="312" y="227.67" text-anchor="end" style="font-size:8.2px" transform="rotate(-90 312 224.8)">Vβ20</text>
<line x1="323.28" y1="206.35" x2="323.28" y2="210.12" stroke="#a5a5a5" stroke-width="0.8"/>
<line x1="321.28" y1="206.35" x2="325.28" y2="206.35" stroke="#a5a5a5" stroke-width="0.8"/>
<rect x="320.28" y="210.12" width="6" height="11.18" fill="#808080" stroke="#6a6a6a" stroke-width="0.4"/>
<circle cx="323.28" cy="220.7" r="2" fill="#ababab" stroke="#2e2e2e" stroke-width="0.55"/>
<circle cx="323.28" cy="217.71" r="2" fill="#ababab" stroke="#2e2e2e" stroke-width="0.55"/>
<circle cx="323.28" cy="213.53" r="2" fill="#ababab" stroke="#2e2e2e" stroke-width="0.55"/>
<text x="325.08" y="227.67" text-anchor="end" style="font-size:8.2px" transform="rotate(-90 325.08 224.8)">Vβ21.3</text>
<line x1="336.36" y1="196.18" x2="336.36" y2="202.16" stroke="#a5a5a5" stroke-width="0.8"/>
<line x1="334.36" y1="196.18" x2="338.36" y2="196.18" stroke="#a5a5a5" stroke-width="0.8"/>
<rect x="333.36" y="202.16" width="6" height="19.14" fill="#808080" stroke="#6a6a6a" stroke-width="0.4"/>
<circle cx="336.36" cy="220.7" r="2" fill="#ababab" stroke="#2e2e2e" stroke-width="0.55"/>
<circle cx="336.36" cy="218.91" r="2" fill="#ababab" stroke="#2e2e2e" stroke-width="0.55"/>
<circle cx="336.36" cy="206.95" r="2" fill="#ababab" stroke="#2e2e2e" stroke-width="0.55"/>
<text x="338.16" y="227.67" text-anchor="end" style="font-size:8.2px" transform="rotate(-90 338.16 224.8)">Vβ22</text>
<line x1="349.44" y1="213.53" x2="349.44" y2="215.32" stroke="#a5a5a5" stroke-width="0.8"/>
<line x1="347.44" y1="213.53" x2="351.44" y2="213.53" stroke="#a5a5a5" stroke-width="0.8"/>
<rect x="346.44" y="215.32" width="6" height="5.98" fill="#808080" stroke="#6a6a6a" stroke-width="0.4"/>
<circle cx="349.44" cy="220.7" r="2" fill="#ababab" stroke="#2e2e2e" stroke-width="0.55"/>
<circle cx="349.44" cy="218.01" r="2" fill="#ababab" stroke="#2e2e2e" stroke-width="0.55"/>
<text x="351.24" y="227.67" text-anchor="end" style="font-size:8.2px" transform="rotate(-90 351.24 224.8)">Vβ23</text>
<text x="410.3" y="141.2" style="font-size:13.6px;font-weight:bold;fill:#000">e</text>
<text x="494.1" y="155.14" text-anchor="middle" style="font-size:9.55px">Clonotypes</text>
<text x="605.8" y="155.14" text-anchor="middle" style="font-size:9.55px">Unique clonotypes</text>
<line x1="456.5" y1="169.2" x2="456.5" y2="383.2" stroke="#aaaaaa" stroke-width="0.8"/>
<line x1="456.5" y1="383.2" x2="530.2" y2="383.2" stroke="#aaaaaa" stroke-width="0.8"/>
<line x1="453.7" y1="383.2" x2="456.5" y2="383.2" stroke="#aaaaaa" stroke-width="0.8"/>
<text x="450.5" y="386" text-anchor="end" style="font-size:8px">0</text>
<line x1="453.7" y1="347.53" x2="456.5" y2="347.53" stroke="#aaaaaa" stroke-width="0.8"/>
<text x="450.5" y="350.33" text-anchor="end" style="font-size:8px">2,000</text>
<line x1="453.7" y1="311.87" x2="456.5" y2="311.87" stroke="#aaaaaa" stroke-width="0.8"/>
<text x="450.5" y="314.67" text-anchor="end" style="font-size:8px">4,000</text>
<line x1="453.7" y1="276.2" x2="456.5" y2="276.2" stroke="#aaaaaa" stroke-width="0.8"/>
<text x="450.5" y="279" text-anchor="end" style="font-size:8px">6,000</text>
<line x1="453.7" y1="240.53" x2="456.5" y2="240.53" stroke="#aaaaaa" stroke-width="0.8"/>
<text x="450.5" y="243.33" text-anchor="end" style="font-size:8px">8,000</text>
<line x1="453.7" y1="204.87" x2="456.5" y2="204.87" stroke="#aaaaaa" stroke-width="0.8"/>
<text x="450.5" y="207.67" text-anchor="end" style="font-size:8px">10,000</text>
<line x1="453.7" y1="169.2" x2="456.5" y2="169.2" stroke="#aaaaaa" stroke-width="0.8"/>
<text x="450.5" y="172" text-anchor="end" style="font-size:8px">12,000</text>
<line x1="493.6" y1="383.2" x2="493.6" y2="385.2" stroke="#aaaaaa" stroke-width="0.7"/>
<text x="415.3" y="280.3" text-anchor="middle" style="font-size:9.42px" transform="rotate(-90 415.3 277)">No. of productive TCRs</text>
<text x="492.8" y="397.38" text-anchor="middle" style="font-size:9.1px;letter-spacing:0.37px">Total clonotypes</text>
<text x="492.8" y="407.69" text-anchor="middle" style="font-size:9.1px;letter-spacing:0.37px">per product</text>
<line x1="566.9" y1="169.6" x2="566.9" y2="383.2" stroke="#aaaaaa" stroke-width="0.8"/>
<line x1="566.9" y1="383.2" x2="642.5" y2="383.2" stroke="#aaaaaa" stroke-width="0.8"/>
<line x1="564.7" y1="383.2" x2="566.9" y2="383.2" stroke="#aaaaaa" stroke-width="0.8"/>
<text x="561.5" y="386" text-anchor="end" style="font-size:8px">0</text>
<line x1="564.7" y1="361.84" x2="566.9" y2="361.84" stroke="#aaaaaa" stroke-width="0.8"/>
<text x="561.5" y="364.64" text-anchor="end" style="font-size:8px">10</text>
<line x1="564.7" y1="340.48" x2="566.9" y2="340.48" stroke="#aaaaaa" stroke-width="0.8"/>
<text x="561.5" y="343.28" text-anchor="end" style="font-size:8px">20</text>
<line x1="564.7" y1="319.12" x2="566.9" y2="319.12" stroke="#aaaaaa" stroke-width="0.8"/>
<text x="561.5" y="321.92" text-anchor="end" style="font-size:8px">30</text>
<line x1="564.7" y1="297.76" x2="566.9" y2="297.76" stroke="#aaaaaa" stroke-width="0.8"/>
<text x="561.5" y="300.56" text-anchor="end" style="font-size:8px">40</text>
<line x1="564.7" y1="276.4" x2="566.9" y2="276.4" stroke="#aaaaaa" stroke-width="0.8"/>
<text x="561.5" y="279.2" text-anchor="end" style="font-size:8px">50</text>
<line x1="564.7" y1="255.04" x2="566.9" y2="255.04" stroke="#aaaaaa" stroke-width="0.8"/>
<text x="561.5" y="257.84" text-anchor="end" style="font-size:8px">60</text>
<line x1="564.7" y1="233.68" x2="566.9" y2="233.68" stroke="#aaaaaa" stroke-width="0.8"/>
<text x="561.5" y="236.48" text-anchor="end" style="font-size:8px">70</text>
<line x1="564.7" y1="212.32" x2="566.9" y2="212.32" stroke="#aaaaaa" stroke-width="0.8"/>
<text x="561.5" y="215.12" text-anchor="end" style="font-size:8px">80</text>
<line x1="564.7" y1="190.96" x2="566.9" y2="190.96" stroke="#aaaaaa" stroke-width="0.8"/>
<text x="561.5" y="193.76" text-anchor="end" style="font-size:8px">90</text>
<line x1="564.7" y1="169.6" x2="566.9" y2="169.6" stroke="#aaaaaa" stroke-width="0.8"/>
<text x="561.5" y="172.4" text-anchor="end" style="font-size:8px">100</text>
<line x1="604.8" y1="383.2" x2="604.8" y2="385.2" stroke="#aaaaaa" stroke-width="0.7"/>
<text x="538.6" y="279.24" text-anchor="middle" style="font-size:9.54px" transform="rotate(-90 538.6 275.9)">Percentage of clonotypes</text>
<text x="603.5" y="397.79" text-anchor="middle" style="font-size:9.1px;letter-spacing:0.37px">Unique clonotypes</text>
<text x="603.5" y="407.99" text-anchor="middle" style="font-size:9.1px;letter-spacing:0.37px">per product</text>
<rect x="649.15" y="199.75" width="4.5" height="4.5" fill="#dcdcdc" stroke="#9a9a9a" stroke-width="0.55"/>
<text x="660" y="204.73" style="font-size:7.8px">No. 2</text>
<path d="M651.4 207.4L654.5 210.5L651.4 213.6L648.29 210.5Z" fill="#f2f2f2" stroke="#8a8a8a" stroke-width="0.55"/>
<text x="660" y="213.23" style="font-size:7.8px">No. 4</text>
<line x1="648.52" y1="216.12" x2="654.27" y2="221.88" stroke="#8a8a8a" stroke-width="1.43"/>
<line x1="648.52" y1="221.88" x2="654.27" y2="216.12" stroke="#8a8a8a" stroke-width="1.43"/>
<text x="660" y="221.73" style="font-size:7.8px">No. 5</text>
<path d="M651.4 224.51L654.39 229.89L648.41 229.89Z" fill="#dedede" stroke="#c4c4c4" stroke-width="0.55"/>
<text x="660" y="230.23" style="font-size:7.8px">No. 7</text>
<path d="M650.03 231.97H652.77V234.63H655.42V237.37H652.77V240.03H650.03V237.37H647.38V234.63H650.03Z" fill="#ffffff" stroke="#333333" stroke-width="0.77"/>
<text x="660" y="238.73" style="font-size:7.8px">No. 8</text>
<circle cx="651.4" cy="244.5" r="2.44" fill="#8c8c8c" stroke="#777777" stroke-width="0.44"/>
<text x="660" y="247.23" style="font-size:7.8px">No. 9</text>
<line x1="648.52" y1="250.12" x2="654.27" y2="255.88" stroke="#111111" stroke-width="1.43"/>
<line x1="648.52" y1="255.88" x2="654.27" y2="250.12" stroke="#111111" stroke-width="1.43"/>
<text x="660" y="255.73" style="font-size:7.8px">No. 10</text>
<rect x="649.15" y="259.25" width="4.5" height="4.5" fill="#9c9c9c" stroke="#8a8a8a" stroke-width="0.44"/>
<text x="660" y="264.23" style="font-size:7.8px">No. 12</text>
<circle cx="651.4" cy="270" r="2.44" fill="#f2f2f2" stroke="#cccccc" stroke-width="0.55"/>
<text x="660" y="272.73" style="font-size:7.8px">No. 18</text>
<path d="M651.4 275.51L654.39 280.89L648.41 280.89Z" fill="#a0a0a0" stroke="#6a6a6a" stroke-width="0.55"/>
<text x="660" y="281.23" style="font-size:7.8px">No. 25</text>
<path d="M651.4 283.89L654.5 287L651.4 290.11L648.29 287Z" fill="#e2e2e2" stroke="#8f8f8f" stroke-width="0.55"/>
<text x="660" y="289.73" style="font-size:7.8px">No. 27</text>
<path d="M650.15 291.82H652.65V294.25H655.08V296.75H652.65V299.18H650.15V296.75H647.72V294.25H650.15Z" fill="#c0c0c0"/>
<text x="660" y="298.23" style="font-size:7.8px">No. 29</text>
<path d="M651.4 301.01L654.39 306.39L648.41 306.39Z" fill="#a0a0a0" stroke="#777777" stroke-width="0.55"/>
<text x="660" y="306.73" style="font-size:7.8px">No. 40</text>
<circle cx="651.4" cy="312.5" r="2.44" fill="#d0d0d0" stroke="#8a8a8a" stroke-width="0.55"/>
<text x="660" y="315.23" style="font-size:7.8px">No. 41</text>
<path d="M651.4 317.89L654.5 321L651.4 324.11L648.29 321Z" fill="#9c9c9c" stroke="#7a7a7a" stroke-width="0.55"/>
<text x="660" y="323.73" style="font-size:7.8px">No. 52</text>
<rect x="649.15" y="327.25" width="4.5" height="4.5" fill="#f0f0f0" stroke="#cfcfcf" stroke-width="0.55"/>
<text x="660" y="332.23" style="font-size:7.8px">No. 53</text>
<line x1="648.29" y1="338" x2="654.5" y2="338" stroke="#111111" stroke-width="1.21"/>
<line x1="651.4" y1="334.89" x2="651.4" y2="341.11" stroke="#111111" stroke-width="1.21"/>
<text x="660" y="340.73" style="font-size:7.8px">No. 54</text>
<text x="650" y="355.22" style="font-size:6.9px"><tspan style="font-style:italic">n</tspan> = 17</text>
<line x1="489.35" y1="202.8" x2="497.85" y2="202.8" stroke="#111" stroke-width="1.2"/>
<line x1="493.6" y1="198.55" x2="493.6" y2="207.05" stroke="#111" stroke-width="1.2"/>
<path d="M493.6 274.25L497.85 278.5L493.6 282.75L489.35 278.5Z" fill="#9c9c9c" stroke="#7a7a7a" stroke-width="0.6"/>
<path d="M492.41 282.2H494.79V284.51H497.1V286.89H494.79V289.2H492.41V286.89H490.1V284.51H492.41Z" fill="#c0c0c0"/>
<circle cx="493.6" cy="292.3" r="3.61" fill="#dcdcdc" stroke="#9a9a9a" stroke-width="0.6"/>
<rect x="490.2" y="297.8" width="6.8" height="6.8" fill="#9c9c9c" stroke="#8a8a8a" stroke-width="0.5"/>
<circle cx="493.6" cy="337.3" r="3.4" fill="#f2f2f2" stroke="#cccccc" stroke-width="0.6"/>
<path d="M491.65 322.8H495.55V328.35H501.1V332.25H495.55V337.8H491.65V332.25H486.1V328.35H491.65Z" fill="#bfbfbf" stroke="#333333" stroke-width="0.8"/>
<line x1="489.35" y1="328.25" x2="497.85" y2="336.75" stroke="#111" stroke-width="1.4"/>
<line x1="489.35" y1="336.75" x2="497.85" y2="328.25" stroke="#111" stroke-width="1.4"/>
<rect x="490.2" y="311.6" width="6.8" height="6.8" fill="#e0e0e0" stroke="#bdbdbd" stroke-width="0.6"/>
<circle cx="493.6" cy="319.5" r="3.61" fill="#d0d0d0" stroke="#8a8a8a" stroke-width="0.6"/>
<circle cx="493.6" cy="322" r="3.4" fill="#c8c8c8" stroke="#8a8a8a" stroke-width="0.6"/>
<rect x="490.41" y="321.31" width="6.38" height="6.38" fill="#f2f2f2" stroke="#d0d0d0" stroke-width="0.6"/>
<path d="M493.6 327.25L497.85 334.9L489.35 334.9Z" fill="#a0a0a0" stroke="#6a6a6a" stroke-width="0.6"/>
<path d="M493.6 347.45L497.85 351.7L493.6 355.95L489.35 351.7Z" fill="#e0e0e0" stroke="#9a9a9a" stroke-width="0.6"/>
<path d="M493.6 368.75L497.85 376.4L489.35 376.4Z" fill="#a8a8a8" stroke="#333" stroke-width="0.7"/>
<path d="M604.8 183.7L608.8 190.9L600.8 190.9Z" fill="#a0a0a0" stroke="#777" stroke-width="0.5"/>
<line x1="599.3" y1="178.2" x2="610.3" y2="189.2" stroke="#8a8a8a" stroke-width="1.9"/>
<line x1="599.3" y1="189.2" x2="610.3" y2="178.2" stroke="#8a8a8a" stroke-width="1.9"/>
<circle cx="604.8" cy="193.7" r="3.4" fill="#8c8c8c" stroke="#777" stroke-width="0.5"/>
<line x1="601.3" y1="192.4" x2="608.3" y2="192.4" stroke="#111" stroke-width="1.3"/>
<line x1="604.8" y1="188.9" x2="604.8" y2="195.9" stroke="#111" stroke-width="1.3"/>
<line x1="599.55" y1="199.85" x2="610.05" y2="210.35" stroke="#111" stroke-width="1.4"/>
<line x1="599.55" y1="210.35" x2="610.05" y2="199.85" stroke="#111" stroke-width="1.4"/>
<circle cx="604.8" cy="202.5" r="3.4" fill="#a0a0a0" stroke="#888" stroke-width="0.5"/>
<path d="M604.8 208.95L609.05 216.6L600.55 216.6Z" fill="#a0a0a0" stroke="#777" stroke-width="0.5"/>
<path d="M603.61 219H605.99V221.31H608.3V223.69H605.99V226H603.61V223.69H601.3V221.31H603.61Z" fill="#c8c8c8"/>
<circle cx="604.8" cy="226.5" r="3.4" fill="#f2f2f2" stroke="#cccccc" stroke-width="0.6"/>
<path d="M602.72 228.6H606.88V234.52H612.8V238.68H606.88V244.6H602.72V238.68H596.8V234.52H602.72Z" fill="#c0c0c0" stroke="#333" stroke-width="0.8"/>
<path d="M604.8 237.3L609.3 245.4L600.3 245.4Z" fill="#a0a0a0" stroke="#333" stroke-width="0.7"/>
<path d="M604.8 251L608.8 258.2L600.8 258.2Z" fill="#e8e8e8" stroke="#c8c8c8" stroke-width="0.6"/>
<rect x="601.4" y="257.1" width="6.8" height="6.8" fill="#eeeeee" stroke="#cccccc" stroke-width="0.6"/>
<rect x="601.4" y="272.6" width="6.8" height="6.8" fill="#e0e0e0" stroke="#222" stroke-width="0.7"/>
<path d="M604.8 266L608.8 270L604.8 274L600.8 270Z" fill="#b0b0b0" stroke="#8a8a8a" stroke-width="0.6"/>
<path d="M604.8 282L611.3 293.7L598.3 293.7Z" fill="#cccccc" stroke="#bbbbbb" stroke-width="0.6"/>
<text x="0.3" y="266.9" style="font-size:13.6px;font-weight:bold;fill:#000">f</text>
<text x="125.8" y="267.85" text-anchor="middle" style="font-size:9px">Seq 12</text>
<line x1="67.2" y1="269.2" x2="67.2" y2="362" stroke="#9a9a9a" stroke-width="0.8"/>
<line x1="67.2" y1="362" x2="160" y2="362" stroke="#9a9a9a" stroke-width="0.8"/>
<line x1="65" y1="294.9" x2="67.2" y2="294.9" stroke="#9a9a9a" stroke-width="0.8"/>
<text x="63" y="297.7" text-anchor="end" style="font-size:8px">5</text>
<line x1="65" y1="321.8" x2="67.2" y2="321.8" stroke="#9a9a9a" stroke-width="0.8"/>
<text x="63" y="324.6" text-anchor="end" style="font-size:8px">0</text>
<line x1="65" y1="348" x2="67.2" y2="348" stroke="#9a9a9a" stroke-width="0.8"/>
<text x="63" y="350.8" text-anchor="end" style="font-size:8px">−5</text>
<line x1="84.1" y1="362" x2="84.1" y2="364.2" stroke="#9a9a9a" stroke-width="0.8"/>
<text x="84.1" y="376.4" text-anchor="middle" style="font-size:8px">−10</text>
<line x1="105.7" y1="362" x2="105.7" y2="364.2" stroke="#9a9a9a" stroke-width="0.8"/>
<text x="105.7" y="376.4" text-anchor="middle" style="font-size:8px">−5</text>
<line x1="128.5" y1="362" x2="128.5" y2="364.2" stroke="#9a9a9a" stroke-width="0.8"/>
<text x="128.5" y="376.4" text-anchor="middle" style="font-size:8px">0</text>
<line x1="150.9" y1="362" x2="150.9" y2="364.2" stroke="#9a9a9a" stroke-width="0.8"/>
<text x="150.9" y="376.4" text-anchor="middle" style="font-size:8px">5</text>
<path d="M116.0 319.0L122.0 315.0L128.0 312.0L133.0 310.0L136.5 309.0L141.0 311.0L145.0 313.0L149.0 317.0L152.0 322.0L154.5 330.0L154.0 338.0L151.5 345.0L147.0 350.0L140.0 353.5L132.0 353.5L126.0 352.0L120.0 349.0L115.5 344.0L113.5 336.0L114.0 326.0ZM132.0 280.0L138.0 278.0L143.0 281.0L145.5 287.0L145.5 294.0L142.0 300.0L137.0 304.5L131.0 305.5L126.5 303.0L126.5 298.0L129.5 292.0L131.0 286.0ZM115.5 286.5L120.0 285.0L124.5 287.5L125.0 293.0L121.5 296.5L117.0 296.0L114.5 291.0Z" fill="#cdcdd0"/>
<path d="M92.7 305.1L98.6 303.2L105.9 302.2L110.3 304.4L109.5 310.3L106.6 314.6L105.9 323.4L102.2 328.5L98.6 326.3L95.7 319.0L92.7 311.7Z" fill="#d4d4d7"/>
<path d="M115.1 346.8h1M112.4 329.6h1M116.4 318.7h1M147.6 315.3h1M155.0 330.6h1M119.4 314.1h1M152.7 347.2h1M144.9 353.3h1M114.1 317.8h1M131.4 309.5h1M156.0 339.2h1M143.2 354.4h1M112.0 338.2h1M144.8 351.3h1M147.4 352.1h1M114.8 343.8h1M112.3 336.4h1M120.3 314.9h1M148.0 352.0h1M149.4 348.8h1M143.6 353.8h1M156.1 329.0h1M111.5 330.0h1M153.8 342.5h1M151.4 346.2h1M120.8 351.3h1M133.4 307.9h1M147.7 315.1h1M155.4 332.6h1M138.8 307.8h1M155.5 332.2h1M142.7 309.7h1M148.4 351.3h1M150.3 318.0h1M152.4 322.2h1M125.4 352.4h1M147.3 312.7h1M119.5 316.6h1M119.9 314.7h1M134.5 307.2h1M152.0 346.4h1M122.8 351.9h1M144.2 310.0h1M128.2 311.4h1M122.5 351.6h1M155.4 334.8h1M139.0 309.4h1M154.4 327.4h1M141.0 355.8h1M145.2 352.3h1M114.7 321.6h1M124.0 313.6h1M151.4 320.5h1M112.0 332.1h1M155.4 338.9h1M144.8 351.3h1M155.4 340.0h1M150.2 346.6h1M149.3 350.7h1M155.0 338.4h1M113.7 321.8h1M122.9 350.7h1M153.0 323.5h1M136.1 354.1h1M111.5 330.0h1M140.2 355.9h1M149.8 347.4h1M114.8 319.9h1M143.9 311.3h1M154.9 335.7h1M148.9 316.8h1M118.2 347.9h1M114.5 321.7h1M132.2 354.6h1M154.4 334.5h1M115.1 317.7h1M129.7 310.1h1M156.3 332.2h1M114.8 318.6h1M126.1 352.8h1M116.6 347.6h1M124.2 351.2h1M149.1 315.7h1M140.4 308.3h1M155.0 336.4h1M133.3 356.0h1M149.5 349.1h1M113.4 341.1h1M115.5 345.9h1M152.1 347.1h1M137.9 308.7h1M124.5 352.4h1M119.8 350.3h1M142.9 353.2h1M131.4 310.4h1M153.5 339.7h1M135.4 308.7h1M115.0 320.7h1M119.5 351.2h1M128.6 352.8h1M146.8 314.7h1M133.9 308.2h1M119.2 314.0h1M111.8 331.2h1M112.9 322.1h1M115.0 347.3h1M113.8 326.9h1M130.5 310.3h1M156.0 336.9h1M112.8 326.5h1M140.8 309.4h1M118.5 316.6h1M150.6 316.6h1M128.6 310.1h1M127.2 303.4h1M136.5 278.0h1M138.1 277.2h1M146.2 285.5h1M131.4 281.2h1M129.4 290.7h1M146.0 286.5h1M137.9 305.3h1M126.4 298.2h1M146.3 288.3h1M145.3 284.0h1M143.0 299.9h1M145.6 288.7h1M136.8 305.6h1M134.6 305.9h1M130.1 288.8h1M145.6 286.2h1M138.5 303.6h1M136.4 277.3h1M143.9 298.2h1M143.8 282.3h1M133.2 279.4h1M138.5 304.0h1M144.1 298.7h1M145.4 295.1h1M136.2 305.3h1M134.9 278.2h1M134.8 305.7h1M144.5 284.0h1M127.5 303.9h1M146.5 288.4h1M130.0 306.8h1M129.9 287.7h1M141.2 278.8h1M125.7 302.7h1M128.1 293.8h1M134.2 277.9h1M143.5 279.5h1M143.5 281.0h1M146.1 292.4h1M128.7 292.6h1M131.8 306.0h1M127.8 304.6h1M139.3 303.6h1M145.5 293.8h1M126.5 302.0h1M130.8 284.6h1M137.2 304.8h1M139.0 277.0h1M141.0 278.5h1M132.0 305.6h1M137.3 304.7h1M129.9 289.0h1M135.5 277.2h1M120.5 297.3h1M124.9 290.1h1M121.1 285.5h1M125.4 293.8h1M121.8 296.5h1M125.3 290.8h1M121.7 284.8h1M113.8 291.7h1M125.8 293.3h1M124.2 294.7h1M120.0 284.9h1M119.6 284.9h1M125.7 291.6h1M115.2 288.0h1M113.7 290.6h1M120.0 297.1h1M116.4 296.0h1M115.7 285.9h1M116.7 295.9h1M123.4 294.6h1M113.6 290.7h1M118.3 284.7h1M116.0 296.0h1M117.8 296.7h1M115.2 293.7h1M115.2 293.2h1M124.6 293.9h1M125.4 290.1h1M118.1 285.5h1M116.9 296.8h1M98.5 302.3h1M94.0 316.4h1M106.6 316.4h1M110.3 303.2h1M96.0 303.1h1M92.6 305.6h1M91.9 309.8h1M92.4 308.5h1M101.7 329.8h1M110.3 309.2h1M93.4 315.5h1M102.6 328.7h1M97.3 325.6h1M105.6 324.7h1M103.7 327.7h1M102.8 328.6h1M92.1 305.6h1M95.3 319.9h1M110.5 304.4h1M106.6 317.2h1M102.3 330.2h1M106.7 302.5h1M94.6 317.1h1M106.7 319.9h1M101.0 329.0h1M109.1 302.5h1M99.5 327.0h1M99.0 327.3h1M102.2 329.7h1M96.6 321.6h1M111.1 304.9h1M94.9 319.3h1M97.3 324.6h1M102.1 330.0h1M102.8 328.9h1M102.2 301.6h1M93.9 303.4h1M105.3 301.7h1M95.8 321.6h1M96.1 322.0h1M92.9 303.8h1M135.8 311.5h1M134.6 310.0h1M136.1 308.5h1M132.1 307.4h1M139.1 309.2h1M132.6 307.3h1M135.7 306.4h1M136.0 308.9h1M136.7 305.3h1M133.7 311.6h1M135.8 304.4h1M136.5 305.7h1M138.2 309.7h1M131.8 305.2h1M135.0 311.6h1M133.6 305.7h1M136.5 308.7h1M135.9 306.8h1M138.3 305.6h1M137.3 305.1h1M135.2 311.7h1M132.8 305.9h1M139.2 309.2h1M131.1 305.1h1M132.8 306.0h1M138.5 309.5h1M136.5 306.8h1M137.3 307.7h1M131.1 307.7h1M134.1 308.0h1M133.6 304.8h1M136.1 311.3h1M132.2 307.8h1M135.2 310.0h1M135.9 305.5h1M132.3 309.7h1M134.9 310.7h1M136.4 309.8h1M137.7 309.6h1M131.9 304.9h1M138.8 306.7h1M138.5 308.6h1M131.6 305.9h1M132.4 308.9h1M132.1 304.9h1M135.6 306.7h1M131.9 308.3h1M135.3 306.8h1M136.3 305.1h1M138.9 308.5h1M134.2 308.1h1M134.1 309.5h1M134.0 309.5h1M133.2 306.0h1M137.6 310.2h1M137.1 311.4h1M132.3 306.8h1M138.6 310.0h1M137.5 310.9h1M133.9 308.6h1M136.0 311.1h1M136.7 311.7h1M131.9 306.9h1M135.9 304.6h1M136.5 305.9h1M133.6 308.7h1M132.3 307.3h1M133.0 306.6h1M137.1 305.1h1M135.8 306.4h1M110.3 304.0h1M126.1 299.4h1M113.0 303.4h1M114.9 302.9h1M118.0 300.0h1M128.1 298.8h1M115.8 302.4h1M112.5 301.0h1M122.0 299.0h1M128.8 297.4h1M114.7 301.6h1M120.9 300.8h1M121.5 299.9h1M116.5 299.8h1M109.8 302.5h1M128.4 297.4h1M127.2 298.3h1M127.9 299.1h1M118.7 300.9h1M117.3 301.5h1M120.2 300.1h1M112.4 302.1h1M116.6 300.5h1M120.1 299.6h1M126.1 298.7h1M115.6 301.4h1M124.0 298.5h1M112.0 301.6h1M111.6 302.3h1M112.9 301.0h1M109.1 304.5h1M128.3 297.6h1M119.4 299.3h1M110.5 303.7h1M114.0 301.9h1M123.0 298.9h1M114.6 301.3h1M121.7 300.0h1M111.1 302.6h1M111.8 304.0h1M114.1 302.4h1M130.5 297.5h1M127.5 299.0h1M120.9 299.7h1M128.9 297.0h1M116.3 299.4h1M114.6 300.2h1M118.5 300.4h1M114.5 300.9h1M116.3 300.6h1M119.4 301.8h1M118.2 301.6h1M115.8 299.4h1M118.1 299.0h1M114.6 300.4h1M116.6 299.6h1M117.5 299.1h1M114.9 301.2h1M113.3 300.0h1M114.1 302.1h1M116.8 301.0h1M116.5 301.0h1M116.5 301.6h1M116.2 298.9h1M113.4 301.3h1M119.1 301.7h1M119.1 301.7h1M115.0 300.4h1M114.4 300.8h1M118.1 300.5h1M73.1 298.3h1M73.8 301.1h1M78.3 296.8h1M76.1 299.1h1M77.2 297.0h1M74.3 300.0h1M74.2 297.7h1M79.0 296.3h1M74.7 300.0h1M75.9 297.5h1M75.8 297.3h1M73.8 298.6h1M76.0 295.8h1M78.0 302.1h1M80.9 301.2h1M77.3 301.7h1M80.2 302.0h1M74.6 299.6h1M74.0 297.6h1M77.0 298.9h1M76.6 302.4h1M75.0 297.7h1M80.3 296.3h1M76.2 300.3h1M77.1 295.1h1M73.6 298.7h1M77.7 302.9h1M75.1 300.3h1M79.7 302.1h1M77.1 302.5h1M73.9 297.2h1M76.3 302.9h1M74.5 299.2h1M78.4 302.6h1M78.3 302.3h1M79.4 296.7h1M76.4 295.5h1M75.1 295.8h1M76.2 296.3h1M76.3 298.5h1M80.4 296.4h1M74.9 298.0h1M77.5 295.6h1M77.7 295.5h1M75.9 297.7h1M78.1 295.6h1M81.2 297.6h1M77.4 302.4h1M73.7 299.7h1M76.1 295.5h1M77.0 301.6h1M76.8 295.4h1M77.0 298.2h1M77.8 301.3h1M76.0 297.1h1M75.8 302.6h1M78.2 297.9h1M77.4 295.2h1M78.6 301.5h1M73.9 300.0h1M74.5 296.8h1M73.1 299.3h1M74.6 298.3h1M76.9 301.8h1M79.3 295.6h1M76.7 297.1h1M76.7 302.9h1M74.4 297.3h1M81.0 301.7h1M78.6 302.3h1M75.6 302.3h1M80.3 295.7h1M79.1 301.7h1M77.1 297.6h1M81.6 298.0h1M82.2 298.2h1M77.4 302.6h1M73.7 298.5h1M75.4 296.2h1M77.4 301.6h1M74.3 307.3h1M78.0 305.1h1M76.8 307.1h1M78.2 304.8h1M76.1 304.1h1M80.4 309.1h1M78.3 308.2h1M75.0 309.5h1M77.8 308.2h1M79.6 305.8h1M79.5 304.8h1M82.3 309.9h1M82.5 309.7h1M79.6 304.6h1M74.2 304.5h1M81.7 307.3h1M77.4 305.7h1M82.1 307.5h1M74.3 306.1h1M82.1 308.6h1M82.6 307.6h1M80.0 308.5h1M74.4 305.5h1M80.4 304.7h1M77.1 307.9h1M76.3 308.1h1M81.8 309.6h1M80.4 304.4h1M76.9 307.1h1M80.5 304.3h1M88.5 305.7h1M85.8 305.3h1M88.5 305.9h1M84.0 306.5h1M84.9 306.7h1M84.7 306.5h1M87.0 306.6h1M88.3 305.8h1M98.7 304.1h1M104.4 303.6h1M104.5 318.1h1M103.5 319.0h1M92.9 310.8h1M99.6 309.4h1M104.9 304.8h1M98.1 312.6h1M100.1 323.3h1M96.1 316.2h1M97.8 315.0h1M101.9 309.2h1M102.1 303.9h1M98.8 309.7h1M105.0 317.8h1M93.7 305.6h1M95.5 317.1h1M103.7 318.1h1M101.7 309.3h1M97.3 307.9h1M98.0 318.2h1M98.3 319.7h1M94.0 304.8h1M109.4 305.5h1M105.3 316.1h1M100.6 302.9h1M105.0 303.2h1M102.0 326.5h1M104.6 305.3h1M105.4 320.7h1M98.5 322.5h1M102.9 313.1h1M102.0 309.5h1M98.9 322.5h1M99.2 307.2h1M103.1 303.8h1M103.5 318.6h1M109.5 310.0h1M96.8 308.0h1M101.4 313.2h1M98.2 324.0h1M102.1 304.9h1M108.1 303.5h1M105.1 308.3h1M104.8 324.1h1M105.5 308.6h1M102.2 303.6h1M99.2 326.1h1M93.9 310.0h1M98.9 304.4h1M99.0 307.6h1M100.3 318.4h1M104.3 304.7h1M102.1 303.7h1M100.5 323.4h1M97.0 312.5h1M102.5 316.3h1M104.9 308.1h1M96.2 314.9h1M97.7 316.8h1M100.0 303.5h1M109.3 307.7h1M92.8 305.5h1M103.4 314.7h1M95.1 305.7h1M103.2 319.1h1M95.1 310.2h1M95.2 315.1h1M104.7 323.5h1M101.3 326.2h1M106.9 307.9h1M98.8 303.7h1M106.2 314.7h1M100.3 325.0h1M97.5 318.4h1M95.3 317.2h1M93.9 314.3h1M94.1 313.2h1M100.5 303.6h1M99.9 306.0h1M100.8 303.9h1M100.2 305.8h1M95.5 309.5h1M104.1 318.8h1M93.5 307.5h1M100.3 324.4h1M102.5 313.0h1M109.1 307.6h1M108.0 306.2h1M97.0 318.4h1M97.6 318.2h1M97.8 322.2h1M102.9 309.0h1M104.1 310.4h1M103.4 308.6h1M97.5 311.8h1M103.3 326.8h1M103.7 317.5h1M98.4 312.2h1M102.7 308.7h1" stroke="#c4c4c7" stroke-width="1" fill="none"/>
<path d="M139.8 347.4h1M143.0 319.0h1M114.6 325.3h1M131.3 346.7h1M135.9 332.0h1M138.3 333.6h1M141.3 333.8h1M136.2 319.5h1M118.6 328.6h1M125.5 334.6h1M134.8 329.2h1M120.8 344.1h1M117.0 319.1h1M124.9 318.0h1M135.0 316.7h1M139.8 335.7h1M139.1 330.4h1M138.6 322.2h1M132.5 339.6h1M122.3 341.6h1M137.5 352.4h1M138.8 333.4h1M145.0 321.8h1M128.8 328.2h1M143.6 341.0h1M153.8 331.0h1M129.3 312.9h1M114.2 335.3h1M143.0 336.4h1M145.6 328.4h1M143.9 335.9h1M139.5 333.4h1M140.9 333.9h1M117.2 339.0h1M142.4 328.0h1M153.3 330.4h1M120.3 331.8h1M128.2 316.4h1M142.7 316.6h1M134.7 353.4h1M150.7 329.0h1M139.6 329.5h1M120.2 324.8h1M131.6 347.7h1M118.2 333.0h1M132.8 333.6h1M146.0 335.7h1M126.8 351.5h1M138.1 321.1h1M135.9 347.6h1M115.4 337.8h1M133.5 321.8h1M120.0 319.3h1M131.4 327.8h1M138.2 321.0h1M138.9 330.1h1M146.1 344.8h1M135.9 323.9h1M123.9 340.7h1M131.4 339.4h1M124.0 347.3h1M124.3 347.7h1M131.5 326.8h1M137.2 332.3h1M136.0 333.9h1M152.4 342.1h1M147.1 321.3h1M133.8 346.5h1M126.4 330.8h1M153.2 337.8h1M148.5 335.3h1M150.8 339.0h1M123.3 325.6h1M133.2 313.9h1M151.4 330.5h1M121.7 330.9h1M146.5 321.2h1M137.6 313.1h1M123.4 317.3h1M134.2 339.6h1M122.8 339.6h1M137.5 342.4h1M134.4 316.9h1M117.0 337.7h1M117.0 333.1h1M121.5 320.7h1M145.0 328.9h1M119.5 339.2h1M131.7 332.9h1M142.3 346.3h1M145.7 320.0h1M145.5 313.6h1M118.8 331.6h1M121.1 334.0h1M125.1 351.0h1M131.3 345.3h1M152.2 329.1h1M145.0 330.9h1M129.9 314.5h1M140.5 350.0h1M141.7 323.1h1M135.0 324.9h1M129.5 343.4h1M134.5 315.5h1M143.5 320.3h1M130.0 320.0h1M138.0 328.2h1M141.5 327.9h1M145.6 333.5h1M117.8 330.9h1M123.9 322.3h1M152.4 330.4h1M143.8 315.9h1M139.3 314.3h1M153.0 325.4h1M140.7 311.0h1M123.1 343.7h1M145.0 319.4h1M134.3 344.6h1M138.2 332.4h1M121.2 332.3h1M137.9 329.5h1M139.6 334.1h1M140.0 327.3h1M148.0 332.7h1M147.4 343.4h1M141.8 333.6h1M140.6 320.0h1M138.6 333.4h1M138.4 328.1h1M123.3 322.5h1M142.1 348.4h1M126.6 323.0h1M131.9 328.1h1M139.4 342.6h1M145.0 345.0h1M131.9 328.9h1M140.2 323.0h1M147.5 327.6h1M136.3 332.1h1M124.9 330.2h1M145.9 321.4h1M116.3 322.3h1M152.0 339.0h1M147.3 346.1h1M120.8 331.4h1M117.4 325.9h1M133.8 345.4h1M125.4 338.7h1M119.3 320.4h1M115.9 334.8h1M137.5 340.7h1M130.7 350.7h1M143.1 334.3h1M125.5 333.5h1M138.1 351.5h1M152.2 329.8h1M121.9 342.9h1M139.3 347.0h1M136.1 320.4h1M132.8 329.7h1M127.9 334.8h1M119.6 320.3h1M135.0 341.8h1M130.0 349.1h1M138.4 338.3h1M125.2 349.0h1M127.8 346.6h1M141.5 316.9h1M143.5 315.9h1M129.3 325.8h1M127.2 325.1h1M120.1 326.8h1M117.3 344.4h1M128.0 340.7h1M131.0 352.4h1M149.6 340.4h1M151.6 327.4h1M137.8 312.1h1M128.4 323.6h1M130.8 330.6h1M148.0 337.1h1M119.6 338.7h1M123.1 336.5h1M130.5 351.5h1M131.9 321.1h1M126.2 351.6h1M127.8 319.8h1M135.4 338.8h1M127.0 341.2h1M133.8 339.8h1M141.2 313.1h1M126.0 317.1h1M125.3 314.1h1M114.6 332.3h1M144.6 316.1h1M117.4 341.4h1M133.6 322.2h1M145.7 331.5h1M135.0 325.6h1M129.5 345.8h1M117.8 328.2h1M135.6 315.9h1M135.8 341.6h1M138.2 330.3h1M120.5 337.6h1M131.7 339.2h1M115.2 322.1h1M118.1 343.0h1M133.1 321.7h1M145.5 332.2h1M125.4 326.5h1M149.5 333.2h1M152.1 333.0h1M141.4 313.7h1M131.4 336.2h1M130.3 338.0h1M127.6 338.1h1M122.0 330.8h1M131.0 332.4h1M142.8 316.4h1M133.0 353.3h1M138.5 341.7h1M129.4 326.6h1M132.7 321.1h1M136.3 341.6h1M148.8 331.6h1M141.9 312.5h1M140.5 350.4h1M138.7 330.8h1M134.4 327.3h1M120.8 317.8h1M146.1 332.0h1M115.1 336.4h1M147.6 338.0h1M121.0 331.6h1M132.4 316.4h1M124.4 317.3h1M140.0 338.7h1M130.9 329.3h1M151.5 337.9h1M132.6 342.2h1M143.9 322.7h1M116.4 341.6h1M144.2 335.7h1M118.3 342.1h1M120.7 344.5h1M139.0 337.3h1M116.6 325.2h1M143.5 313.9h1M115.1 327.4h1M148.5 337.0h1M147.8 346.5h1M142.2 318.2h1M120.6 323.2h1M120.1 341.7h1M144.8 320.9h1M136.7 312.8h1M143.8 337.9h1M147.6 342.8h1M135.3 290.3h1M138.6 299.7h1M137.7 303.9h1M131.7 302.7h1M143.2 287.5h1M137.1 297.9h1M140.9 282.6h1M139.2 290.1h1M133.4 298.2h1M137.0 286.8h1M127.6 299.7h1M140.8 301.0h1M131.8 290.7h1M132.1 300.7h1M135.1 279.4h1M138.0 292.9h1M136.4 286.4h1M135.7 288.1h1M137.6 296.5h1M131.7 294.7h1M131.4 298.5h1M130.4 294.3h1M140.5 300.0h1M136.6 303.1h1M133.3 285.3h1M138.4 281.5h1M138.9 288.6h1M136.6 287.4h1M128.6 302.0h1M145.1 288.5h1M141.2 290.5h1M135.5 295.8h1M127.0 303.2h1M132.9 296.6h1M128.1 299.7h1M136.6 280.5h1M141.3 291.9h1M141.4 295.4h1M137.3 282.7h1M134.7 285.9h1M140.9 281.3h1M128.5 303.4h1M130.7 294.4h1M137.6 289.0h1M133.1 281.9h1M139.7 288.2h1M137.9 300.5h1M133.2 303.6h1M138.3 283.4h1M136.3 279.9h1M136.7 283.9h1M137.6 286.6h1M139.9 279.4h1M142.5 290.3h1M138.4 280.6h1M143.8 284.1h1M134.3 280.0h1M135.2 304.4h1M136.9 295.6h1M138.0 284.6h1M127.0 297.1h1M142.7 283.8h1M132.4 294.5h1M138.2 295.2h1M137.0 284.4h1M128.1 302.1h1M133.4 286.5h1M135.7 284.4h1M136.0 300.0h1M133.2 298.7h1M141.3 287.7h1M140.6 287.7h1M128.7 297.7h1M131.3 291.7h1M141.9 294.5h1M139.7 298.4h1M137.8 296.2h1M136.9 292.7h1M144.4 286.3h1M130.1 291.8h1M132.4 297.6h1M130.5 295.0h1M134.0 296.7h1M135.4 281.1h1M128.2 294.9h1M138.2 294.8h1M136.1 291.9h1M134.8 300.4h1M139.2 300.1h1M130.8 291.4h1M137.7 302.6h1M144.9 286.0h1M138.2 298.7h1M132.1 286.4h1M138.4 298.3h1M137.3 286.9h1M139.5 300.4h1M145.1 287.9h1M136.7 300.3h1M126.9 302.0h1M141.2 298.2h1M133.0 291.5h1M128.1 295.6h1M130.1 290.7h1M141.5 293.5h1M139.0 279.4h1M130.3 294.1h1M140.3 280.5h1M134.4 287.2h1M128.9 294.9h1M118.3 294.7h1M120.8 292.1h1M115.9 290.0h1M115.4 291.4h1M116.9 293.0h1M117.3 291.0h1M122.0 286.4h1M121.0 286.5h1M120.1 286.1h1M117.5 290.2h1M120.2 292.5h1M124.2 288.9h1M118.2 287.4h1M122.2 289.2h1M116.7 287.2h1M118.9 294.6h1M119.1 294.4h1M119.5 291.7h1M117.2 289.7h1M119.3 287.9h1M117.6 288.9h1M116.6 291.6h1M117.3 287.1h1M123.3 292.9h1M116.5 288.6h1" stroke="#bcbcc0" stroke-width="1" fill="none"/>
<path d="M134.3 346.1h0.8M147.7 347.3h0.8M127.3 328.1h0.8M122.1 323.2h0.8M120.7 346.7h0.8M118.1 328.6h0.8M122.5 320.0h0.8M143.7 324.8h0.8M139.6 319.1h0.8M115.5 333.2h0.8M133.4 347.4h0.8M138.6 310.7h0.8M146.1 342.0h0.8M151.9 322.3h0.8M145.1 333.0h0.8M133.5 332.4h0.8M129.7 346.9h0.8M120.7 324.5h0.8M133.1 311.7h0.8M124.3 343.4h0.8M131.0 334.7h0.8M118.7 325.8h0.8M136.3 342.1h0.8M124.0 342.4h0.8M135.8 316.7h0.8M146.9 348.3h0.8M152.8 324.8h0.8M145.9 341.1h0.8M136.7 326.2h0.8M126.3 345.3h0.8M116.3 334.4h0.8M142.4 318.7h0.8M145.5 340.7h0.8M127.1 328.5h0.8M143.1 340.5h0.8M132.5 351.4h0.8M139.4 348.3h0.8M121.5 327.2h0.8M125.5 331.2h0.8M143.7 313.0h0.8M130.2 330.8h0.8M128.8 319.8h0.8M116.9 332.9h0.8M127.3 351.2h0.8M139.5 328.1h0.8M141.7 336.2h0.8M133.8 331.5h0.8M130.3 349.3h0.8M146.1 323.0h0.8M127.1 328.2h0.8M125.6 342.8h0.8M117.4 333.7h0.8M142.8 324.3h0.8M143.4 324.8h0.8M139.0 313.6h0.8M126.5 333.9h0.8M138.6 329.6h0.8M115.0 333.0h0.8M149.0 321.1h0.8M122.0 336.6h0.8M116.5 336.8h0.8M149.7 343.3h0.8M137.7 347.9h0.8M148.3 320.9h0.8M129.1 352.3h0.8M152.1 337.5h0.8M139.3 324.2h0.8M117.2 323.7h0.8M123.0 337.1h0.8M140.4 337.0h0.8M128.7 349.7h0.8M132.7 344.6h0.8M121.0 324.8h0.8M146.3 322.0h0.8M143.4 335.7h0.8M128.9 321.4h0.8M142.0 330.5h0.8M139.1 326.3h0.8M124.8 322.0h0.8M122.8 339.9h0.8M134.3 353.0h0.8M145.5 338.8h0.8M143.9 318.2h0.8M134.4 309.8h0.8M134.8 310.4h0.8M127.7 330.1h0.8M119.1 318.0h0.8M119.6 337.9h0.8M148.1 323.1h0.8M143.6 350.7h0.8M144.7 344.0h0.8M142.3 327.8h0.8M137.0 350.4h0.8M136.9 310.1h0.8M131.8 347.8h0.8M142.6 330.5h0.8M151.8 342.7h0.8M122.7 340.2h0.8M151.9 328.2h0.8M126.6 322.5h0.8M122.4 338.3h0.8M146.1 337.9h0.8M125.3 326.9h0.8M146.0 341.8h0.8M135.2 341.9h0.8M147.1 332.2h0.8M141.4 347.0h0.8M147.6 316.0h0.8M114.7 340.5h0.8M146.9 317.4h0.8M148.4 342.7h0.8M140.5 336.7h0.8M122.3 346.1h0.8M142.2 333.5h0.8M151.0 328.8h0.8M130.4 319.4h0.8M148.2 323.2h0.8M143.2 351.3h0.8M126.7 335.3h0.8M130.5 311.9h0.8M147.9 331.0h0.8M120.2 319.2h0.8M114.4 325.8h0.8M129.3 346.7h0.8M148.7 319.7h0.8M143.9 324.9h0.8M144.9 338.4h0.8M116.4 329.9h0.8M130.9 329.4h0.8M136.3 339.7h0.8M130.0 332.1h0.8M147.4 339.3h0.8M129.4 348.1h0.8M153.1 340.1h0.8M128.6 342.2h0.8M134.1 351.4h0.8M134.1 337.3h0.8M141.6 337.0h0.8M120.8 334.3h0.8M131.1 339.3h0.8M145.2 318.2h0.8M128.7 320.4h0.8M152.9 330.8h0.8M131.9 351.9h0.8M145.6 347.2h0.8M134.1 314.6h0.8M128.8 312.7h0.8M129.9 329.1h0.8M133.2 352.5h0.8M135.3 316.4h0.8M120.8 339.2h0.8M134.7 327.2h0.8M133.7 327.2h0.8M141.3 335.4h0.8M115.5 331.1h0.8M123.8 334.9h0.8M132.5 342.9h0.8M138.8 331.6h0.8M118.1 341.5h0.8M121.6 325.9h0.8M137.4 320.8h0.8M148.9 333.3h0.8M132.5 323.4h0.8M137.1 337.8h0.8M137.7 350.8h0.8M131.6 325.5h0.8M144.2 333.7h0.8M124.5 350.0h0.8M135.6 349.5h0.8M148.5 345.3h0.8M138.5 331.7h0.8M125.4 316.3h0.8M131.7 346.1h0.8M136.2 352.7h0.8M146.3 333.2h0.8M137.7 327.6h0.8M120.8 349.1h0.8M141.3 325.0h0.8M144.0 327.8h0.8M141.9 331.5h0.8M139.4 350.0h0.8M150.0 330.4h0.8M129.4 340.8h0.8M140.9 313.2h0.8M134.4 321.4h0.8M140.1 316.4h0.8M125.7 320.2h0.8M125.0 334.2h0.8M148.9 337.5h0.8M140.0 342.9h0.8M129.5 328.0h0.8M140.2 318.2h0.8M144.4 350.0h0.8M118.8 336.5h0.8M127.7 317.0h0.8M138.4 332.9h0.8M135.5 331.8h0.8M138.8 343.6h0.8M143.1 340.4h0.8M147.4 329.9h0.8M139.7 314.0h0.8M116.8 329.1h0.8M141.4 319.4h0.8M133.6 329.9h0.8M123.8 337.2h0.8M128.4 324.3h0.8M131.6 334.7h0.8M123.6 350.6h0.8M117.8 340.0h0.8M116.2 332.6h0.8M126.8 351.3h0.8M131.5 346.3h0.8M128.4 332.5h0.8M129.1 322.6h0.8M133.0 329.9h0.8M121.0 332.1h0.8M137.2 334.5h0.8M143.8 329.2h0.8M118.3 322.5h0.8M130.6 327.4h0.8M122.1 347.3h0.8M125.9 333.3h0.8M138.5 314.8h0.8M131.2 314.9h0.8M135.7 341.5h0.8M118.1 329.4h0.8M140.8 325.6h0.8M152.2 331.0h0.8M129.4 340.0h0.8M147.8 331.0h0.8M148.7 342.8h0.8M130.4 340.5h0.8M134.7 314.0h0.8M150.1 319.5h0.8M134.0 322.5h0.8M134.2 326.0h0.8M136.0 328.3h0.8M144.6 338.3h0.8M124.9 317.8h0.8M123.2 323.5h0.8M130.9 331.4h0.8M124.2 322.1h0.8M139.5 310.7h0.8M137.9 335.1h0.8M117.9 319.7h0.8M143.8 341.9h0.8M128.0 348.3h0.8M120.2 319.2h0.8M136.9 332.7h0.8M145.9 322.7h0.8M150.5 337.1h0.8M141.8 334.6h0.8M122.2 334.1h0.8M127.0 322.7h0.8M124.0 343.3h0.8M140.1 315.0h0.8M142.4 348.1h0.8M138.2 348.2h0.8M136.1 331.5h0.8M130.2 334.2h0.8M150.9 335.6h0.8M144.1 329.7h0.8M149.7 343.2h0.8M134.4 322.4h0.8M139.7 312.2h0.8M134.8 328.0h0.8M138.0 321.6h0.8M150.6 330.5h0.8M147.5 320.6h0.8M149.9 333.3h0.8M135.9 328.3h0.8M152.1 334.0h0.8M135.4 325.2h0.8M132.3 321.0h0.8M131.7 320.7h0.8M116.7 325.3h0.8M114.6 338.5h0.8M126.5 321.1h0.8M136.0 322.0h0.8M143.2 322.5h0.8M141.7 320.7h0.8M139.9 325.0h0.8M134.3 321.2h0.8M135.6 337.9h0.8M148.2 320.4h0.8M136.9 334.2h0.8M149.3 330.4h0.8M130.2 327.1h0.8M153.2 334.8h0.8M135.3 343.6h0.8M138.3 332.1h0.8M140.5 320.6h0.8M143.0 345.7h0.8M144.5 313.8h0.8M126.7 350.0h0.8M146.2 315.6h0.8M122.1 341.6h0.8M135.2 317.4h0.8M148.7 332.8h0.8M114.0 326.6h0.8M149.9 341.0h0.8M124.3 338.0h0.8M144.8 333.9h0.8M118.3 319.9h0.8M143.5 314.5h0.8M128.9 350.5h0.8M130.3 315.8h0.8M140.2 324.5h0.8M145.9 325.3h0.8M147.5 345.7h0.8M120.8 333.3h0.8M131.8 314.5h0.8M150.9 324.2h0.8M138.6 311.7h0.8M141.5 314.8h0.8M140.7 329.9h0.8M132.9 318.7h0.8M119.7 346.6h0.8M138.3 342.2h0.8M143.8 326.9h0.8M136.0 322.5h0.8M140.4 328.2h0.8M145.6 322.0h0.8M129.1 312.7h0.8M114.2 327.9h0.8M129.1 348.3h0.8M117.4 345.9h0.8M128.2 319.9h0.8M138.5 324.8h0.8M141.3 341.0h0.8M145.0 324.2h0.8M134.6 321.4h0.8M130.4 349.7h0.8M123.8 327.9h0.8M150.7 329.1h0.8M146.8 332.8h0.8M127.8 341.1h0.8M140.3 325.9h0.8M148.3 341.1h0.8M142.6 330.1h0.8M141.0 347.5h0.8M130.2 342.0h0.8M142.0 331.3h0.8M145.1 330.6h0.8M118.4 332.3h0.8M144.4 316.3h0.8M132.4 346.1h0.8M127.9 325.2h0.8M142.1 334.5h0.8M125.3 315.9h0.8M130.7 348.6h0.8M142.0 339.6h0.8M119.4 346.5h0.8M114.3 332.3h0.8M130.0 349.9h0.8M139.1 319.0h0.8M116.1 330.0h0.8M136.1 329.8h0.8M137.3 311.7h0.8M128.2 345.9h0.8M132.0 283.2h0.8M129.9 303.8h0.8M143.0 289.1h0.8M132.8 288.1h0.8M139.4 281.2h0.8M140.5 287.8h0.8M131.3 302.4h0.8M129.9 296.4h0.8M134.8 279.3h0.8M131.9 286.5h0.8M141.2 299.2h0.8M130.5 288.3h0.8M132.6 283.7h0.8M136.7 281.7h0.8M132.5 286.0h0.8M135.3 303.8h0.8M140.5 289.8h0.8M130.1 295.5h0.8M141.1 297.9h0.8M136.1 297.9h0.8M132.8 304.1h0.8M140.6 300.0h0.8M136.8 303.2h0.8M135.4 304.2h0.8M134.9 304.2h0.8M132.5 292.2h0.8M137.1 293.1h0.8M130.0 297.4h0.8M136.5 289.1h0.8M128.7 303.0h0.8M137.3 280.3h0.8M132.6 287.0h0.8M133.5 289.4h0.8M144.6 293.3h0.8M130.9 290.4h0.8M133.4 291.3h0.8M129.9 298.5h0.8M144.2 295.3h0.8M136.7 292.4h0.8M139.6 288.1h0.8M142.0 296.6h0.8M127.3 300.7h0.8M130.9 294.9h0.8M136.1 279.7h0.8M132.1 282.1h0.8M142.7 287.9h0.8M135.6 299.6h0.8M129.9 291.8h0.8M144.1 293.6h0.8M132.2 295.4h0.8M136.0 291.7h0.8M138.6 297.6h0.8M139.5 300.0h0.8M142.5 290.0h0.8M126.9 298.5h0.8M142.2 285.3h0.8M141.6 288.5h0.8M137.2 296.8h0.8M140.1 283.7h0.8M139.3 282.6h0.8M131.1 299.4h0.8M128.7 294.0h0.8M145.1 290.2h0.8M136.0 278.9h0.8M138.3 282.2h0.8M140.6 295.9h0.8M132.0 286.7h0.8M131.7 293.1h0.8M137.3 281.6h0.8M129.4 295.2h0.8M131.8 296.3h0.8M127.8 301.6h0.8M136.7 278.5h0.8M133.3 295.4h0.8M130.7 300.9h0.8M137.4 283.2h0.8M145.3 293.0h0.8M129.0 298.8h0.8M142.4 295.6h0.8M131.6 303.5h0.8M142.0 280.9h0.8M132.7 283.7h0.8M130.5 291.7h0.8M130.5 296.8h0.8M133.2 303.2h0.8M137.1 291.6h0.8M140.9 293.5h0.8M135.1 282.8h0.8M141.7 295.3h0.8M135.3 298.4h0.8M138.5 285.1h0.8M138.8 297.8h0.8M131.7 299.2h0.8M142.9 290.6h0.8M137.2 296.0h0.8M130.0 292.4h0.8M138.6 301.5h0.8M131.6 282.6h0.8M134.5 282.5h0.8M131.4 291.4h0.8M139.5 280.9h0.8M129.8 291.0h0.8M136.4 282.8h0.8M139.0 293.5h0.8M138.4 280.4h0.8M136.4 285.5h0.8M139.6 296.1h0.8M131.7 284.3h0.8M145.4 293.2h0.8M139.7 284.8h0.8M136.2 281.1h0.8M130.5 299.5h0.8M133.0 304.6h0.8M136.6 279.3h0.8M137.2 279.9h0.8M132.6 286.9h0.8M145.4 290.0h0.8M132.2 287.1h0.8M132.2 282.5h0.8M132.5 297.0h0.8M133.2 284.3h0.8M127.2 299.7h0.8M132.2 285.4h0.8M137.0 279.9h0.8M142.4 299.0h0.8M142.4 291.1h0.8M128.7 296.4h0.8M139.3 278.8h0.8M143.7 286.6h0.8M133.6 299.8h0.8M136.8 295.2h0.8M129.3 300.7h0.8M141.2 295.8h0.8M142.3 297.7h0.8M145.4 290.2h0.8M133.1 285.4h0.8M139.7 282.5h0.8M135.3 291.8h0.8M132.5 299.6h0.8M130.7 300.1h0.8M141.1 295.3h0.8M131.0 296.3h0.8M127.7 297.1h0.8M133.3 297.2h0.8M129.6 295.6h0.8M131.7 290.1h0.8M130.1 299.5h0.8M139.7 280.3h0.8M130.7 297.4h0.8M135.9 288.1h0.8M108.2 309.2h0.8M99.9 324.2h0.8M106.0 307.0h0.8M99.7 316.9h0.8M104.2 321.1h0.8M99.6 312.2h0.8M95.8 318.7h0.8M98.5 322.9h0.8M107.2 311.6h0.8M94.4 307.7h0.8M106.9 302.8h0.8M100.7 316.7h0.8M100.8 314.6h0.8M95.4 308.5h0.8M96.0 309.6h0.8M102.3 309.0h0.8M97.4 305.1h0.8M100.4 314.1h0.8M93.5 309.8h0.8M101.3 314.2h0.8M105.1 317.2h0.8M105.1 304.0h0.8M97.9 309.4h0.8M101.2 313.2h0.8M94.6 305.6h0.8M103.1 307.4h0.8M103.5 315.2h0.8M97.7 323.3h0.8M97.3 310.2h0.8M93.5 308.6h0.8M105.5 315.1h0.8M97.4 311.5h0.8M101.7 310.3h0.8M101.8 302.9h0.8M99.5 305.2h0.8M101.1 316.1h0.8M97.9 324.5h0.8M94.8 312.2h0.8M105.0 316.5h0.8M100.5 323.4h0.8M101.0 327.1h0.8M102.2 313.5h0.8M99.8 311.9h0.8M98.3 319.7h0.8M104.4 318.5h0.8M101.9 319.9h0.8M104.9 321.4h0.8M107.0 308.1h0.8M103.6 323.8h0.8M96.2 307.1h0.8M96.5 316.2h0.8M108.4 311.4h0.8M99.7 319.6h0.8M104.8 311.7h0.8M95.9 315.7h0.8M102.2 308.0h0.8M95.3 308.5h0.8M98.1 314.6h0.8M109.3 309.3h0.8M109.2 308.4h0.8M98.0 313.1h0.8M102.4 308.7h0.8M101.2 317.0h0.8M104.2 321.7h0.8M93.1 305.3h0.8M97.2 305.6h0.8M95.4 308.3h0.8M101.5 316.7h0.8M105.9 317.7h0.8M94.1 314.3h0.8M96.3 314.6h0.8M98.4 317.5h0.8M104.3 310.2h0.8M99.6 315.3h0.8M104.1 302.8h0.8M96.6 319.3h0.8M98.5 315.8h0.8M104.5 317.0h0.8M100.2 313.1h0.8M96.3 313.4h0.8M101.9 309.7h0.8M102.3 317.8h0.8M99.6 323.5h0.8M100.7 326.5h0.8M93.5 309.7h0.8M104.4 316.5h0.8M105.6 316.6h0.8M106.8 306.3h0.8M101.0 318.7h0.8M108.8 304.5h0.8M105.6 321.1h0.8M103.9 317.9h0.8M101.1 313.8h0.8M103.3 311.1h0.8M100.4 315.7h0.8M105.2 324.2h0.8M94.8 304.4h0.8M101.6 304.2h0.8M101.0 322.1h0.8M100.5 325.2h0.8M118.3 290.6h0.8M117.3 286.5h0.8M120.6 286.4h0.8M116.1 288.3h0.8M116.8 287.8h0.8M124.7 291.7h0.8M121.4 287.8h0.8M121.3 287.7h0.8M119.5 288.5h0.8M122.6 289.6h0.8M118.0 287.0h0.8M121.8 286.5h0.8M120.9 290.1h0.8M123.9 292.4h0.8M123.1 293.9h0.8M116.3 288.6h0.8M116.3 294.3h0.8M124.4 291.6h0.8M121.5 296.2h0.8M120.0 290.1h0.8M115.8 287.2h0.8M116.6 291.1h0.8M117.0 289.4h0.8M115.3 288.3h0.8M115.6 293.0h0.8M132.6 317.1h0.8M128.7 317.2h0.8M132.1 314.3h0.8M138.3 316.3h0.8M134.1 312.8h0.8M138.5 311.3h0.8M128.2 314.1h0.8M135.9 313.8h0.8M142.9 315.6h0.8M140.8 317.5h0.8M139.8 318.6h0.8M139.7 311.8h0.8M145.5 316.8h0.8M138.5 321.4h0.8M136.8 316.2h0.8M144.2 315.9h0.8M137.1 319.1h0.8M142.7 317.2h0.8M139.6 313.4h0.8M133.9 313.8h0.8M132.6 313.2h0.8M145.1 318.4h0.8M134.5 312.2h0.8M142.1 319.2h0.8M141.5 318.9h0.8M140.6 311.3h0.8M131.5 315.2h0.8M129.9 312.9h0.8M135.3 319.7h0.8M145.4 315.4h0.8M136.7 318.7h0.8M135.3 313.6h0.8M131.9 317.7h0.8M143.1 313.4h0.8M143.6 317.6h0.8M140.0 316.8h0.8M139.3 318.3h0.8M141.6 312.8h0.8M146.0 315.6h0.8M138.3 317.9h0.8M134.8 317.5h0.8M130.0 313.3h0.8M143.4 313.5h0.8M130.4 318.1h0.8M146.5 318.8h0.8M128.2 312.7h0.8M140.2 316.9h0.8M141.1 311.8h0.8M138.2 319.5h0.8M144.4 314.3h0.8M141.4 317.0h0.8M138.4 317.6h0.8M137.3 315.2h0.8M144.0 318.1h0.8M138.6 316.5h0.8M135.1 317.6h0.8M136.1 315.2h0.8M141.4 318.6h0.8M138.4 316.0h0.8M130.3 316.5h0.8" stroke="#ffffff" stroke-width="0.8" fill="none" opacity="0.85"/>
<path d="M103.5 305.7h1M102.7 319.4h1M99.3 315.9h1M100.0 307.3h1M103.6 316.0h1M105.4 312.9h1M99.6 326.6h1M97.9 323.1h1M97.5 317.7h1M95.6 314.4h1M99.4 327.1h1M94.6 306.8h1M94.9 307.8h1M97.6 322.9h1M96.4 318.4h1M97.9 322.6h1M97.4 319.9h1M96.8 315.6h1M93.4 308.9h1M94.4 307.0h1M75.9 298.3h1M78.6 300.3h1M78.9 300.2h1M74.5 301.3h1M115.8 339.5h1M122.6 332.4h1M117.7 322.0h1M120.0 322.6h1M117.6 340.0h1M120.9 325.8h1M119.0 335.9h1M118.3 321.3h1M118.9 324.9h1M115.6 334.2h1M125.1 327.6h1M122.3 334.7h1M124.1 324.5h1M120.1 341.2h1M117.3 321.6h1M126.4 332.3h1M118.7 342.9h1M126.5 334.8h1M121.4 336.0h1M115.7 343.3h1M123.5 325.3h1M124.0 325.9h1M113.6 343.5h1M113.9 343.5h1M115.2 344.2h1M115.3 342.9h1M114.0 342.8h1M115.7 342.8h1M118.1 302.4h1M116.8 302.4h1" stroke="#cf4a3a" stroke-width="1" fill="none" opacity="0.8"/>
<text x="43.8" y="320.08" text-anchor="middle" style="font-size:8.8px" transform="rotate(-90 43.8 317)">UMAP 2</text>
<defs><linearGradient id="g1" x1="0" y1="0" x2="0" y2="1"><stop offset="0" stop-color="#c9301c"/><stop offset="1" stop-color="#d6d6d6"/></linearGradient></defs>
<rect x="172.3" y="294.9" width="5.8" height="37.9" fill="url(#g1)"/>
<text x="181.2" y="299.8" style="font-size:8px">2.5</text>
<text x="181.2" y="308.4" style="font-size:8px">2.0</text>
<text x="181.2" y="317" style="font-size:8px">1.5</text>
<text x="181.2" y="325.6" style="font-size:8px">1.0</text>
<text x="181.2" y="334.2" style="font-size:8px">0.5</text>
<text x="165" y="317.87" text-anchor="middle" style="font-size:8.2px" transform="rotate(-90 165 315)">IFNγ</text>
<text x="117.9" y="389.38" text-anchor="middle" style="font-size:8.8px">UMAP 1</text>
<text x="322.9" y="267.85" text-anchor="middle" style="font-size:9px">Seq 25</text>
<line x1="274.5" y1="270" x2="274.5" y2="362" stroke="#9a9a9a" stroke-width="0.8"/>
<line x1="274.5" y1="362" x2="367" y2="362" stroke="#9a9a9a" stroke-width="0.8"/>
<line x1="272.3" y1="293.4" x2="274.5" y2="293.4" stroke="#9a9a9a" stroke-width="0.8"/>
<text x="269.6" y="296.2" text-anchor="end" style="font-size:8px">5</text>
<line x1="272.3" y1="318.8" x2="274.5" y2="318.8" stroke="#9a9a9a" stroke-width="0.8"/>
<text x="269.6" y="321.6" text-anchor="end" style="font-size:8px">0</text>
<line x1="272.3" y1="343.6" x2="274.5" y2="343.6" stroke="#9a9a9a" stroke-width="0.8"/>
<text x="269.6" y="346.4" text-anchor="end" style="font-size:8px">−5</text>
<line x1="283.2" y1="362" x2="283.2" y2="364.2" stroke="#9a9a9a" stroke-width="0.8"/>
<text x="283.2" y="376.4" text-anchor="middle" style="font-size:8px">−10</text>
<line x1="305.7" y1="362" x2="305.7" y2="364.2" stroke="#9a9a9a" stroke-width="0.8"/>
<text x="305.7" y="376.4" text-anchor="middle" style="font-size:8px">−5</text>
<line x1="327.6" y1="362" x2="327.6" y2="364.2" stroke="#9a9a9a" stroke-width="0.8"/>
<text x="327.6" y="376.4" text-anchor="middle" style="font-size:8px">0</text>
<line x1="350.4" y1="362" x2="350.4" y2="364.2" stroke="#9a9a9a" stroke-width="0.8"/>
<text x="350.4" y="376.4" text-anchor="middle" style="font-size:8px">5</text>
<path d="M338.0 293.0L347.0 291.0L355.0 292.5L360.0 297.0L362.0 305.0L361.0 313.0L357.0 320.0L350.0 325.0L342.0 327.5L335.0 326.0L330.0 321.0L328.5 313.0L329.5 304.0L333.0 297.0Z" fill="#e7e5e6"/>
<path d="M339.9 312.7h0.8M336.1 298.7h0.8M338.0 323.8h0.8M337.4 317.1h0.8M349.3 317.7h0.8M329.0 311.7h0.8M329.4 312.0h0.8M345.1 319.0h0.8M352.2 318.1h0.8M359.9 313.1h0.8M336.0 304.8h0.8M342.6 325.2h0.8M346.6 310.9h0.8M351.4 309.8h0.8M339.9 316.8h0.8M349.7 314.1h0.8M344.2 315.2h0.8M357.2 310.7h0.8M337.9 312.0h0.8M355.8 307.9h0.8M345.8 305.4h0.8M341.6 327.3h0.8M348.6 307.9h0.8M329.9 308.3h0.8M331.0 320.9h0.8M354.7 303.1h0.8M337.1 322.1h0.8M353.1 317.9h0.8M331.7 310.7h0.8M354.2 302.5h0.8M344.1 326.8h0.8M356.7 306.0h0.8M353.5 314.1h0.8M339.9 324.0h0.8M344.3 303.9h0.8M334.9 322.3h0.8M336.6 306.0h0.8M338.0 316.1h0.8M345.2 297.0h0.8M336.3 308.6h0.8M333.5 308.8h0.8M332.4 321.3h0.8M354.0 319.2h0.8M337.7 303.2h0.8M355.4 319.9h0.8M350.9 295.4h0.8M329.5 310.5h0.8M337.6 305.6h0.8M346.6 310.3h0.8M336.8 298.9h0.8M354.7 316.1h0.8M346.7 310.6h0.8M338.2 317.4h0.8M337.6 304.0h0.8M348.3 313.7h0.8M341.1 318.5h0.8M356.4 313.9h0.8M338.7 319.1h0.8M341.8 296.0h0.8M329.4 316.8h0.8M349.3 310.2h0.8M359.1 315.2h0.8M342.9 297.6h0.8M329.9 312.5h0.8M360.2 298.4h0.8M341.2 311.2h0.8M346.4 296.8h0.8M337.7 320.9h0.8M332.9 321.3h0.8M340.8 296.7h0.8M337.6 308.4h0.8M339.6 318.1h0.8M342.4 301.7h0.8M340.5 320.1h0.8M340.5 322.4h0.8M357.3 310.8h0.8M342.1 298.3h0.8M336.6 323.5h0.8M346.5 310.4h0.8M333.0 315.1h0.8M347.0 303.4h0.8M349.6 323.9h0.8M341.4 314.7h0.8M336.6 317.9h0.8M334.1 302.2h0.8M346.0 311.3h0.8M343.5 304.8h0.8M336.5 300.3h0.8M339.2 295.6h0.8M341.3 293.9h0.8M349.5 314.6h0.8M343.4 317.9h0.8M356.9 319.3h0.8M355.2 304.3h0.8M335.7 325.5h0.8M353.7 318.8h0.8M349.9 301.6h0.8M343.5 306.8h0.8M349.8 303.3h0.8M338.6 304.4h0.8M354.4 321.7h0.8M332.9 309.3h0.8M354.4 299.9h0.8M342.6 326.9h0.8M339.9 321.6h0.8M346.6 298.3h0.8M333.3 318.6h0.8M334.8 320.2h0.8M356.9 312.3h0.8M332.9 316.5h0.8M335.7 295.8h0.8M355.3 309.3h0.8M352.7 302.1h0.8M357.7 297.9h0.8M348.4 318.5h0.8M333.7 300.7h0.8M332.9 304.0h0.8M349.9 303.9h0.8M356.2 306.7h0.8M331.4 318.8h0.8M346.1 313.8h0.8M353.7 307.2h0.8M353.2 300.1h0.8M352.2 298.1h0.8M347.5 297.9h0.8M337.3 321.7h0.8M339.3 296.8h0.8M335.5 311.0h0.8M349.1 304.2h0.8M340.1 305.6h0.8M356.6 298.4h0.8M339.0 299.8h0.8M334.9 309.8h0.8M347.9 317.2h0.8M338.8 318.9h0.8M339.8 296.7h0.8M357.1 307.4h0.8M334.0 303.0h0.8M341.0 296.4h0.8M347.1 291.3h0.8M347.4 304.2h0.8M357.2 305.2h0.8M353.9 303.7h0.8M338.6 316.0h0.8M350.7 309.5h0.8M356.0 295.3h0.8M329.2 308.1h0.8M333.5 307.5h0.8M350.0 296.3h0.8M337.4 316.9h0.8M352.8 321.1h0.8M346.3 319.2h0.8M344.4 292.9h0.8M355.8 293.6h0.8M333.4 306.0h0.8M338.4 324.8h0.8M343.7 316.8h0.8M340.6 296.4h0.8M339.2 323.9h0.8M352.1 308.2h0.8M347.6 297.7h0.8M339.7 312.1h0.8M352.1 295.5h0.8M335.4 309.4h0.8M341.4 302.3h0.8M347.2 321.2h0.8M347.5 312.1h0.8M347.0 296.1h0.8M333.2 309.0h0.8M341.6 319.1h0.8M337.7 309.5h0.8M344.8 317.9h0.8M349.1 310.6h0.8M356.4 307.3h0.8M338.6 321.8h0.8M354.9 303.2h0.8M351.6 323.3h0.8M357.3 313.4h0.8M334.4 298.5h0.8M357.5 318.4h0.8M334.3 303.7h0.8M345.0 293.0h0.8M335.3 318.4h0.8M349.7 306.4h0.8M353.7 309.1h0.8M332.9 320.7h0.8M343.0 310.1h0.8M343.9 319.2h0.8M350.9 310.7h0.8M351.3 323.0h0.8M335.4 324.6h0.8M351.6 319.8h0.8M353.4 321.6h0.8M345.6 306.9h0.8M340.0 323.8h0.8M347.0 323.3h0.8M331.4 321.0h0.8M351.1 315.6h0.8M353.9 299.3h0.8M341.4 312.6h0.8M337.1 306.3h0.8M336.2 300.9h0.8M343.8 297.6h0.8M353.1 292.4h0.8M356.1 296.9h0.8M354.5 321.4h0.8M360.9 310.9h0.8M338.2 304.1h0.8M352.0 308.9h0.8M360.9 304.6h0.8M351.8 301.2h0.8M360.0 308.3h0.8M347.3 294.4h0.8M350.4 296.0h0.8M347.5 320.7h0.8M345.8 301.4h0.8M349.6 307.5h0.8M330.5 315.3h0.8M346.6 294.3h0.8M349.3 294.8h0.8M330.5 317.4h0.8M355.0 299.2h0.8M353.7 295.4h0.8M344.3 319.0h0.8M333.0 306.0h0.8M349.2 301.0h0.8M337.5 318.1h0.8M360.3 307.1h0.8M341.2 319.3h0.8M349.5 321.1h0.8M345.6 324.2h0.8M361.5 304.4h0.8M344.3 294.9h0.8M344.8 317.1h0.8M332.9 316.6h0.8M333.9 320.6h0.8M345.5 314.8h0.8M360.5 302.9h0.8M346.9 305.9h0.8M355.8 312.6h0.8M351.3 303.4h0.8M347.0 300.6h0.8M348.2 298.2h0.8M352.6 318.5h0.8M340.7 322.7h0.8M333.9 309.2h0.8M338.6 296.2h0.8M345.1 298.4h0.8M350.5 294.4h0.8M333.2 305.4h0.8M347.8 312.0h0.8M341.4 313.6h0.8M353.5 306.4h0.8M353.0 299.0h0.8M338.6 322.9h0.8M342.3 326.9h0.8M346.5 310.6h0.8M349.2 318.9h0.8M349.4 292.0h0.8M345.5 320.5h0.8M352.6 293.1h0.8M331.2 320.6h0.8M339.9 316.4h0.8M356.9 296.9h0.8M332.0 301.7h0.8M361.5 307.4h0.8M338.8 296.1h0.8M329.6 315.1h0.8M333.6 311.9h0.8M335.6 308.9h0.8M351.8 298.6h0.8M354.6 311.8h0.8M333.9 313.4h0.8M331.3 318.8h0.8M350.6 317.7h0.8M352.6 303.8h0.8M340.2 313.4h0.8M329.7 304.9h0.8M331.3 314.0h0.8M335.4 315.5h0.8M336.7 315.5h0.8M338.0 322.4h0.8M353.3 301.9h0.8M348.1 304.3h0.8M338.4 313.6h0.8M342.3 312.5h0.8M345.9 295.9h0.8M344.6 318.5h0.8M343.7 317.7h0.8M331.5 308.4h0.8M329.5 313.3h0.8M346.2 300.9h0.8M345.9 303.7h0.8M354.0 303.3h0.8M356.6 300.1h0.8M332.8 308.7h0.8M336.0 324.3h0.8M338.8 320.1h0.8M344.7 299.2h0.8M349.3 317.4h0.8M344.1 316.0h0.8M351.1 305.9h0.8M348.8 313.3h0.8M340.7 309.0h0.8M351.2 296.3h0.8M336.7 299.6h0.8M360.0 309.2h0.8M352.3 300.5h0.8M340.2 300.7h0.8M350.3 314.0h0.8M343.3 294.9h0.8M348.3 304.1h0.8M339.1 307.5h0.8M347.1 293.1h0.8M335.4 305.4h0.8M333.4 307.2h0.8M341.5 321.4h0.8M334.9 311.9h0.8M334.7 320.3h0.8M354.8 306.4h0.8M342.1 295.4h0.8M341.5 309.1h0.8M336.7 314.1h0.8M344.5 298.6h0.8M345.2 304.8h0.8M332.9 322.6h0.8M345.1 314.1h0.8M342.8 299.3h0.8M341.9 296.0h0.8M351.0 313.5h0.8M347.1 315.7h0.8M340.6 326.8h0.8M355.0 318.4h0.8M341.7 315.5h0.8M336.1 316.9h0.8M350.8 307.5h0.8M344.7 305.7h0.8M342.7 323.1h0.8M341.3 303.6h0.8M353.2 311.5h0.8M342.6 322.8h0.8M333.4 314.8h0.8M348.9 299.7h0.8M353.4 314.8h0.8M349.8 311.0h0.8M345.3 295.5h0.8M349.7 294.4h0.8M344.5 312.7h0.8M348.8 321.1h0.8M355.8 302.7h0.8M350.0 295.4h0.8M355.5 306.1h0.8M352.9 295.1h0.8M357.6 298.3h0.8M341.6 302.4h0.8M354.0 300.8h0.8M351.2 321.2h0.8M334.0 324.5h0.8M341.6 318.7h0.8M348.9 295.3h0.8M340.5 303.8h0.8M335.9 323.8h0.8M336.7 311.2h0.8M352.8 313.2h0.8M333.4 301.4h0.8M359.2 311.8h0.8M338.4 306.8h0.8M346.3 306.4h0.8M352.0 321.7h0.8M330.2 313.0h0.8M349.0 317.5h0.8M332.6 299.9h0.8M359.0 302.3h0.8M358.2 315.0h0.8M359.7 312.1h0.8M335.1 311.7h0.8M337.8 323.3h0.8M336.8 315.2h0.8M355.0 302.2h0.8M333.7 314.9h0.8M340.2 307.1h0.8M339.9 302.3h0.8M342.4 319.9h0.8M348.0 318.6h0.8M345.5 314.0h0.8M360.0 299.3h0.8M345.3 303.5h0.8M356.7 299.3h0.8M354.7 314.2h0.8M336.7 311.4h0.8M358.2 301.2h0.8M330.7 320.8h0.8M335.0 318.9h0.8M346.6 292.6h0.8M349.6 314.3h0.8M341.4 319.4h0.8M330.2 311.1h0.8M341.9 295.2h0.8M346.9 313.6h0.8M345.8 321.2h0.8M346.1 297.9h0.8M347.0 302.6h0.8M332.7 308.3h0.8M355.8 308.7h0.8M336.6 318.6h0.8M343.0 311.7h0.8M336.3 316.6h0.8M343.5 294.7h0.8M346.9 294.7h0.8M337.4 323.7h0.8M348.3 311.7h0.8M357.1 299.4h0.8M359.5 304.8h0.8M330.9 316.4h0.8M335.6 305.0h0.8M341.3 312.7h0.8M330.8 319.0h0.8M338.5 309.8h0.8M349.6 298.7h0.8M339.2 315.4h0.8M333.3 302.9h0.8M359.2 309.7h0.8M352.8 298.7h0.8M339.4 307.8h0.8M346.2 298.6h0.8M335.8 311.0h0.8M337.0 323.0h0.8M357.0 317.1h0.8M336.3 305.4h0.8M352.8 314.5h0.8M345.9 293.1h0.8M348.3 297.4h0.8M341.8 326.0h0.8M345.9 318.0h0.8M334.1 309.6h0.8M344.0 314.2h0.8M329.5 307.1h0.8M338.5 310.2h0.8M351.9 302.0h0.8M341.2 324.7h0.8M336.8 317.2h0.8M334.7 325.2h0.8M342.0 300.1h0.8M339.1 312.0h0.8M348.8 313.9h0.8M354.3 295.2h0.8M338.2 297.9h0.8M354.4 313.0h0.8M343.3 320.7h0.8M349.1 297.0h0.8M352.2 293.7h0.8M342.5 293.6h0.8M353.3 302.0h0.8M332.2 321.2h0.8M355.2 303.6h0.8M340.0 294.5h0.8M336.4 309.3h0.8M354.5 299.2h0.8M353.4 312.5h0.8M336.9 310.1h0.8M340.0 307.4h0.8M352.6 320.8h0.8M353.9 309.1h0.8M343.9 300.5h0.8M343.6 296.2h0.8M353.6 322.0h0.8M332.3 318.6h0.8M351.6 299.6h0.8M354.3 296.9h0.8M342.8 309.1h0.8M357.6 315.5h0.8M352.7 316.8h0.8M329.6 304.1h0.8M355.9 313.0h0.8M337.2 298.4h0.8M333.1 322.9h0.8M345.7 322.0h0.8M351.7 309.9h0.8M331.6 317.1h0.8M360.4 313.9h0.8M338.2 321.0h0.8M347.2 313.0h0.8M342.4 323.9h0.8M337.8 300.8h0.8M337.5 309.7h0.8M340.4 326.6h0.8M350.0 324.5h0.8M331.8 312.5h0.8M349.2 311.9h0.8M354.1 317.5h0.8M355.2 312.0h0.8M337.6 326.1h0.8M340.6 292.9h0.8M350.7 297.0h0.8M344.1 315.1h0.8M334.9 324.0h0.8M337.3 312.1h0.8M339.2 315.5h0.8M360.8 307.3h0.8M337.5 298.9h0.8M342.1 306.5h0.8M342.2 304.7h0.8M342.1 319.7h0.8M349.6 300.2h0.8M350.5 299.2h0.8M341.0 316.7h0.8M357.5 309.3h0.8M349.2 296.6h0.8M345.1 311.3h0.8M354.8 292.7h0.8M355.8 295.9h0.8M343.1 302.1h0.8M357.1 305.8h0.8M351.2 310.2h0.8M347.8 298.8h0.8M343.6 304.1h0.8M355.5 302.0h0.8M347.3 297.0h0.8M334.3 321.1h0.8M331.9 299.2h0.8M357.4 300.2h0.8M358.2 299.7h0.8M355.0 306.1h0.8M359.4 310.3h0.8M351.0 310.2h0.8M359.3 304.6h0.8M355.9 304.4h0.8M354.3 296.1h0.8M356.5 294.6h0.8M355.4 309.6h0.8M360.7 309.6h0.8M350.7 294.0h0.8M359.6 302.3h0.8M355.2 310.2h0.8M354.3 307.4h0.8M351.3 305.6h0.8M351.1 298.1h0.8M356.4 303.6h0.8M349.3 302.4h0.8M354.9 306.6h0.8M354.4 293.5h0.8M351.0 303.7h0.8M357.8 300.5h0.8M351.9 309.1h0.8M348.3 302.0h0.8M352.3 298.1h0.8M352.1 293.4h0.8M354.6 297.3h0.8M345.3 301.7h0.8M352.4 303.9h0.8M352.3 310.2h0.8M350.9 298.7h0.8M351.0 302.9h0.8M347.9 296.7h0.8M357.3 295.7h0.8M356.7 301.3h0.8M351.5 307.2h0.8M358.8 300.5h0.8M346.6 292.3h0.8M359.3 305.2h0.8M350.0 295.0h0.8M349.5 303.3h0.8M353.7 308.2h0.8M356.7 310.4h0.8M350.9 309.7h0.8M358.6 309.0h0.8M355.9 311.9h0.8M352.2 301.8h0.8M347.8 293.3h0.8M353.3 292.9h0.8M349.8 298.2h0.8M358.2 301.9h0.8M355.0 308.4h0.8M348.5 292.8h0.8M345.6 292.9h0.8M357.0 295.3h0.8M350.6 293.7h0.8M349.9 298.1h0.8M347.9 293.5h0.8M360.1 300.2h0.8M350.7 294.9h0.8M350.6 308.1h0.8M355.8 296.6h0.8M357.1 303.4h0.8M356.2 299.0h0.8M351.4 299.2h0.8M352.9 311.3h0.8M347.7 301.8h0.8M353.0 302.7h0.8M359.0 306.8h0.8M355.8 299.8h0.8M357.4 299.3h0.8M349.6 293.0h0.8M357.6 298.7h0.8M356.8 296.4h0.8M353.0 311.1h0.8M357.9 308.9h0.8M358.7 307.1h0.8M359.6 308.1h0.8M358.4 302.1h0.8M348.9 302.9h0.8M350.1 303.4h0.8M359.6 305.0h0.8M359.1 298.1h0.8M357.1 308.0h0.8M357.8 300.1h0.8M347.6 302.2h0.8M359.6 299.7h0.8M353.3 308.9h0.8M360.8 301.3h0.8M352.6 304.5h0.8M351.5 301.2h0.8M356.1 293.9h0.8M348.8 301.0h0.8M353.4 309.4h0.8M351.0 305.1h0.8M352.3 304.4h0.8M352.3 297.2h0.8M355.4 307.3h0.8M350.0 293.1h0.8M356.6 310.3h0.8M360.2 307.4h0.8M357.8 300.2h0.8M360.3 304.3h0.8M349.4 296.3h0.8M356.4 311.7h0.8M356.7 297.7h0.8M352.1 301.1h0.8M352.7 303.2h0.8M360.7 311.9h0.8M351.8 296.2h0.8M349.3 292.9h0.8M351.1 308.0h0.8M352.3 311.7h0.8M351.7 299.2h0.8M351.9 306.7h0.8M351.5 303.4h0.8M357.4 306.6h0.8M346.1 298.3h0.8M352.8 306.8h0.8M347.4 300.0h0.8M351.0 297.4h0.8M350.6 299.4h0.8M357.4 304.0h0.8M349.3 297.7h0.8M360.6 311.4h0.8M357.4 300.3h0.8M360.7 306.2h0.8M357.0 295.7h0.8M355.9 295.3h0.8M355.5 309.1h0.8M353.9 301.1h0.8M353.1 312.0h0.8M354.5 295.7h0.8M359.8 304.8h0.8M352.7 311.5h0.8M356.2 307.9h0.8M351.4 311.1h0.8M355.9 297.2h0.8M357.1 310.4h0.8M351.5 295.7h0.8M346.2 299.9h0.8M347.6 297.1h0.8M359.9 306.5h0.8M358.9 302.8h0.8M355.4 293.6h0.8M358.1 298.1h0.8M350.2 302.9h0.8M359.8 311.6h0.8M359.6 309.6h0.8M352.2 309.5h0.8M345.8 296.7h0.8M351.6 300.4h0.8M345.6 293.1h0.8M349.1 302.9h0.8M347.0 294.4h0.8M360.3 307.3h0.8M355.7 297.3h0.8M357.2 303.6h0.8M356.7 306.9h0.8M360.8 306.9h0.8M354.6 297.8h0.8M351.5 297.0h0.8M354.2 308.6h0.8M354.3 294.8h0.8M355.4 309.5h0.8M346.3 302.1h0.8M359.9 299.6h0.8M348.0 300.7h0.8M345.8 302.0h0.8M355.3 308.8h0.8M352.5 297.4h0.8M359.6 308.3h0.8M346.6 301.6h0.8M352.1 301.7h0.8M348.4 304.7h0.8M360.1 301.9h0.8M353.6 301.8h0.8M348.4 301.1h0.8M348.4 296.1h0.8M347.1 294.1h0.8M348.9 306.9h0.8M355.2 311.7h0.8M348.7 306.1h0.8M355.5 302.0h0.8M354.9 293.1h0.8M348.7 293.6h0.8M351.9 303.4h0.8M350.4 298.2h0.8M360.4 304.0h0.8M353.8 302.0h0.8M351.9 292.7h0.8M346.1 301.1h0.8M350.3 297.7h0.8M349.2 306.6h0.8M358.0 311.2h0.8M354.1 295.9h0.8M358.0 296.7h0.8M351.0 305.6h0.8M352.6 294.6h0.8M331.8 296.9h0.8M344.2 290.2h0.8M351.2 289.8h0.8M359.0 319.6h0.8M357.2 293.3h0.8M337.0 328.1h0.8M362.8 307.6h0.8M358.0 319.3h0.8M358.0 295.1h0.8M330.4 302.1h0.8M328.2 304.3h0.8M358.2 292.3h0.8M360.2 297.2h0.8M360.2 316.4h0.8M338.6 327.6h0.8M355.4 290.4h0.8M340.5 329.4h0.8M361.8 313.0h0.8M327.6 307.2h0.8M329.4 318.0h0.8M334.1 294.1h0.8M360.3 318.0h0.8M329.6 322.3h0.8M332.8 325.1h0.8M362.1 307.0h0.8M360.1 295.7h0.8M327.9 303.5h0.8M333.9 294.7h0.8M361.4 297.4h0.8M358.6 319.4h0.8M361.6 310.1h0.8M328.0 303.9h0.8M359.0 316.7h0.8M357.1 320.0h0.8M356.9 321.2h0.8M333.4 326.5h0.8M330.7 340.5h0.8M323.0 336.2h0.8M324.7 342.9h0.8M329.6 332.5h0.8M321.0 338.2h0.8M330.7 332.3h0.8M337.5 329.5h0.8M328.4 332.3h0.8M337.6 326.7h0.8M324.0 337.2h0.8M323.8 332.7h0.8M332.2 328.3h0.8M335.5 326.7h0.8M340.7 326.3h0.8M332.2 334.8h0.8M336.5 333.8h0.8M327.2 339.6h0.8M328.7 328.4h0.8M331.8 328.6h0.8M324.3 338.4h0.8M328.9 341.1h0.8M326.1 334.9h0.8M322.1 342.2h0.8M329.2 328.2h0.8M334.9 333.7h0.8M337.4 326.4h0.8M332.4 337.0h0.8M323.8 339.0h0.8M339.4 325.6h0.8M326.5 332.7h0.8M330.9 335.3h0.8M333.3 327.1h0.8M328.2 333.2h0.8M328.2 336.5h0.8M336.4 327.6h0.8M335.8 336.6h0.8M330.8 339.7h0.8M325.8 343.3h0.8M331.0 335.4h0.8M336.4 330.1h0.8M338.9 330.3h0.8M334.9 329.7h0.8M338.5 332.3h0.8M329.3 341.5h0.8M325.0 336.5h0.8M326.5 341.5h0.8M329.1 329.2h0.8M330.1 332.0h0.8M325.8 334.9h0.8M329.4 333.1h0.8M328.2 334.0h0.8M324.6 332.3h0.8M337.7 328.8h0.8M325.9 340.5h0.8M331.3 338.4h0.8M332.8 331.1h0.8M338.8 325.1h0.8M325.6 335.5h0.8M329.4 342.1h0.8M334.8 326.5h0.8M328.9 333.0h0.8M326.4 340.0h0.8M320.9 338.6h0.8M334.0 332.1h0.8M324.3 338.1h0.8M333.1 326.1h0.8M321.0 339.7h0.8M334.2 325.5h0.8M333.7 336.4h0.8M323.5 341.8h0.8M339.0 327.2h0.8M335.3 330.0h0.8M339.6 326.3h0.8M335.7 332.4h0.8M324.5 339.4h0.8M332.4 324.0h0.8M321.6 340.0h0.8M326.8 343.3h0.8M326.5 332.3h0.8M325.5 338.2h0.8M334.7 327.9h0.8M333.6 337.5h0.8M335.8 332.4h0.8M335.2 338.8h0.8M337.6 330.7h0.8M336.8 327.6h0.8M330.2 337.5h0.8M332.4 333.4h0.8M330.0 335.0h0.8M332.9 323.6h0.8M322.4 337.9h0.8M325.0 340.0h0.8M336.0 336.3h0.8M330.4 340.2h0.8M332.2 334.2h0.8M326.1 333.1h0.8M328.9 343.1h0.8M325.8 339.5h0.8M324.2 340.8h0.8M330.3 341.1h0.8M335.8 332.8h0.8M327.0 340.2h0.8M328.3 331.7h0.8M322.4 340.0h0.8M333.0 335.2h0.8M321.9 340.7h0.8M337.2 325.2h0.8M333.7 332.5h0.8M333.3 330.5h0.8M328.7 334.8h0.8M323.2 340.8h0.8M339.3 325.4h0.8M339.4 325.5h0.8M335.4 326.7h0.8M323.1 338.7h0.8M328.7 341.4h0.8M325.1 342.9h0.8M325.1 334.5h0.8M324.2 334.4h0.8M326.8 340.4h0.8M332.0 330.1h0.8M323.4 338.6h0.8M325.7 338.8h0.8M335.4 336.2h0.8M326.3 337.3h0.8M323.0 337.9h0.8M324.2 334.5h0.8M329.7 332.5h0.8M333.4 334.3h0.8M325.7 340.3h0.8M332.6 327.8h0.8M330.7 327.7h0.8M325.3 338.4h0.8M335.4 323.9h0.8M327.2 334.9h0.8M329.8 328.1h0.8M335.2 330.5h0.8M322.4 336.8h0.8M324.4 339.6h0.8M324.2 337.0h0.8M338.4 326.0h0.8M332.2 327.9h0.8M322.5 340.0h0.8M325.3 343.7h0.8M326.9 337.5h0.8M328.7 334.0h0.8M339.0 327.2h0.8M323.3 334.8h0.8M322.9 334.9h0.8M332.1 338.4h0.8M337.6 325.3h0.8M328.1 328.3h0.8M327.9 343.9h0.8M332.7 324.9h0.8M333.0 331.9h0.8M324.0 343.3h0.8M333.8 330.7h0.8M324.2 335.8h0.8M333.6 334.6h0.8M325.0 333.0h0.8M324.6 336.4h0.8M325.0 341.2h0.8M329.0 343.8h0.8M337.9 326.1h0.8M321.0 338.8h0.8M335.1 329.3h0.8M334.1 339.9h0.8M321.5 336.1h0.8M322.9 338.6h0.8M329.7 342.7h0.8M327.8 338.8h0.8M332.9 324.2h0.8M334.8 329.1h0.8M334.2 332.8h0.8M330.5 338.6h0.8M327.6 337.1h0.8M331.3 326.0h0.8M323.4 337.6h0.8M322.2 335.1h0.8M329.9 330.7h0.8M334.9 327.7h0.8M330.5 335.1h0.8M332.4 332.3h0.8M336.9 331.5h0.8M322.4 335.7h0.8M323.6 342.9h0.8M333.8 336.1h0.8M329.8 341.6h0.8M328.9 343.3h0.8M335.6 337.7h0.8M330.1 331.2h0.8M328.9 330.8h0.8M328.9 335.8h0.8M324.0 342.6h0.8M333.2 326.9h0.8M327.1 336.4h0.8M333.1 330.7h0.8M331.2 325.4h0.8M324.5 340.3h0.8M322.3 342.4h0.8M324.2 340.6h0.8M335.9 326.8h0.8M337.7 326.0h0.8M338.7 328.0h0.8M329.0 336.7h0.8M332.5 335.5h0.8M331.1 328.8h0.8M328.0 344.2h0.8M333.5 334.1h0.8M337.4 335.4h0.8M329.7 345.1h0.8M332.6 341.8h0.8M336.3 322.8h0.8M329.6 325.5h0.8M324.4 344.7h0.8M333.4 342.8h0.8M330.4 325.0h0.8M336.6 323.2h0.8M321.3 336.0h0.8M332.5 343.1h0.8M329.8 345.0h0.8M325.5 328.9h0.8M331.2 343.4h0.8M337.4 324.3h0.8M321.6 343.6h0.8M332.6 342.2h0.8M335.5 339.6h0.8M328.4 326.9h0.8M330.1 325.0h0.8M318.8 339.0h0.8M334.1 322.7h0.8M338.6 323.8h0.8M329.0 345.2h0.8M324.0 345.2h0.8M333.2 342.3h0.8M340.3 323.7h0.8M320.6 335.6h0.8M335.7 339.5h0.8M321.6 335.2h0.8M301.7 346.1h0.8M285.3 334.8h0.8M297.1 347.2h0.8M291.2 331.7h0.8M282.1 331.1h0.8M289.8 345.6h0.8M298.2 340.1h0.8M303.8 344.1h0.8M302.0 344.6h0.8M292.7 352.9h0.8M306.7 348.1h0.8M296.9 342.7h0.8M306.5 348.8h0.8M294.4 350.4h0.8M297.1 337.4h0.8M289.3 333.2h0.8M288.7 337.8h0.8M299.0 355.7h0.8M286.4 332.4h0.8M299.1 344.6h0.8M294.4 355.8h0.8M293.0 335.8h0.8M302.9 346.9h0.8M281.9 330.3h0.8M302.9 340.8h0.8M293.7 349.6h0.8M294.4 337.6h0.8M297.9 350.1h0.8M301.8 352.4h0.8M305.1 350.2h0.8M293.4 347.2h0.8M290.2 333.5h0.8M288.7 339.0h0.8M303.5 345.7h0.8M295.4 345.0h0.8M295.7 349.9h0.8M305.8 345.4h0.8M285.2 332.7h0.8M281.9 335.5h0.8M281.4 332.3h0.8M306.9 350.3h0.8M290.4 333.7h0.8M301.1 343.8h0.8M281.7 334.7h0.8M290.9 328.9h0.8M296.6 349.7h0.8M295.1 348.0h0.8M303.9 351.3h0.8M291.6 346.8h0.8M289.6 348.8h0.8M291.8 351.9h0.8M294.9 354.1h0.8M298.3 348.2h0.8M294.2 337.9h0.8M285.0 330.8h0.8M305.2 345.0h0.8M304.8 350.6h0.8M289.9 335.7h0.8M300.0 345.4h0.8M285.9 339.0h0.8M294.1 333.0h0.8M291.8 343.2h0.8M299.4 352.2h0.8M300.6 347.1h0.8M300.0 348.1h0.8M288.6 339.5h0.8M291.2 349.1h0.8M298.2 339.7h0.8M298.2 338.7h0.8M296.7 356.4h0.8M292.5 346.1h0.8M289.4 337.9h0.8M291.6 342.9h0.8M294.8 344.9h0.8M293.4 351.6h0.8M289.0 347.5h0.8M289.9 339.6h0.8M301.0 356.6h0.8M285.2 339.2h0.8M304.3 342.8h0.8M295.8 339.3h0.8M296.9 353.1h0.8M297.4 340.0h0.8M292.3 346.7h0.8M306.2 349.5h0.8M295.6 344.7h0.8M292.2 347.2h0.8M291.9 335.1h0.8M298.6 349.8h0.8M289.8 350.2h0.8M303.5 347.9h0.8M287.5 342.0h0.8M287.9 330.4h0.8M301.1 340.5h0.8M282.7 335.2h0.8M290.7 344.6h0.8M293.1 345.0h0.8M297.4 337.6h0.8M301.8 356.6h0.8M289.1 337.2h0.8M284.5 329.9h0.8M281.7 331.3h0.8M301.5 355.8h0.8M290.6 336.1h0.8M301.8 353.1h0.8M294.2 352.4h0.8M287.6 345.3h0.8M294.3 335.3h0.8M287.3 329.6h0.8M295.5 351.9h0.8M299.7 346.0h0.8M288.8 337.8h0.8M293.4 342.5h0.8M298.6 351.0h0.8M282.0 335.5h0.8M298.1 337.8h0.8M301.8 350.0h0.8M296.1 345.0h0.8M288.6 331.4h0.8M297.5 340.4h0.8M296.2 348.5h0.8M292.9 349.9h0.8M302.2 355.9h0.8M285.7 341.3h0.8M299.4 355.2h0.8M291.9 349.9h0.8M282.0 335.8h0.8M307.6 347.2h0.8M291.2 337.3h0.8M298.6 350.6h0.8M298.3 339.3h0.8M288.0 333.3h0.8M297.7 344.3h0.8M288.8 334.4h0.8M296.2 354.6h0.8M284.7 335.8h0.8M293.7 340.7h0.8M298.2 346.2h0.8M294.2 348.4h0.8M288.8 331.7h0.8M305.7 351.1h0.8M300.0 346.1h0.8M287.7 347.5h0.8M286.7 338.4h0.8M301.2 343.0h0.8M295.6 348.2h0.8M284.9 335.8h0.8M289.4 345.0h0.8M282.1 337.5h0.8M305.6 344.3h0.8M287.0 337.3h0.8M301.6 354.4h0.8M291.5 349.8h0.8M294.3 348.2h0.8M303.4 342.5h0.8M301.2 350.5h0.8M296.3 338.3h0.8M297.5 349.6h0.8M292.6 350.5h0.8M297.1 345.8h0.8M289.6 342.6h0.8M305.4 348.0h0.8M286.5 337.5h0.8M283.2 332.2h0.8M289.6 329.6h0.8M295.1 336.2h0.8M283.7 330.1h0.8M283.2 331.0h0.8M295.7 347.2h0.8M304.8 347.8h0.8M303.4 348.9h0.8M306.3 345.7h0.8M290.5 344.9h0.8M291.1 336.5h0.8M295.1 349.9h0.8M293.3 333.8h0.8M296.1 341.4h0.8M306.7 348.7h0.8M297.0 338.8h0.8M299.1 353.8h0.8M301.1 344.7h0.8M303.3 344.3h0.8M290.3 344.4h0.8M286.2 337.9h0.8M291.0 345.8h0.8M302.3 355.3h0.8M295.9 348.1h0.8M286.9 330.1h0.8M302.0 348.4h0.8M306.1 344.8h0.8M304.1 349.8h0.8M290.2 347.7h0.8M284.8 330.5h0.8M291.3 340.7h0.8M296.4 352.1h0.8M291.2 336.3h0.8M288.2 346.2h0.8M299.9 353.9h0.8M292.0 331.6h0.8M289.4 333.5h0.8M295.4 335.2h0.8M289.6 331.9h0.8M303.3 350.2h0.8M289.1 332.6h0.8M291.4 343.6h0.8M290.2 337.5h0.8M290.0 333.6h0.8M300.3 347.5h0.8M301.0 344.5h0.8M293.3 347.0h0.8M284.0 336.5h0.8M298.8 344.9h0.8M288.9 339.0h0.8M303.9 349.1h0.8M290.3 330.3h0.8M304.9 343.6h0.8M301.6 349.7h0.8M299.2 356.5h0.8M299.2 350.8h0.8M292.0 349.3h0.8M288.6 350.3h0.8M303.1 347.3h0.8M297.1 348.1h0.8M300.6 339.6h0.8M291.5 347.3h0.8M302.8 343.0h0.8M286.4 336.4h0.8M289.4 329.1h0.8M298.7 342.2h0.8M290.7 352.6h0.8M300.5 348.1h0.8M306.1 348.5h0.8M298.0 340.9h0.8M303.1 353.9h0.8M295.0 343.5h0.8M286.7 338.3h0.8M290.8 347.0h0.8M306.9 348.3h0.8M286.7 345.2h0.8M288.4 339.8h0.8M305.2 344.0h0.8M295.7 336.0h0.8M303.4 351.0h0.8M289.2 332.2h0.8M295.0 345.0h0.8M289.5 340.6h0.8M284.0 342.2h0.8M284.0 341.3h0.8M301.3 342.1h0.8M289.8 346.2h0.8M294.2 349.0h0.8M284.9 342.8h0.8M296.1 348.0h0.8M301.4 343.6h0.8M294.1 345.1h0.8M301.6 351.2h0.8M290.4 350.0h0.8M291.0 348.3h0.8M283.3 337.6h0.8M291.8 334.2h0.8M297.4 336.1h0.8M291.1 331.7h0.8M297.9 356.6h0.8M289.4 350.4h0.8M290.3 348.4h0.8M291.4 349.4h0.8M293.3 332.0h0.8M285.0 334.6h0.8M304.4 341.9h0.8M283.6 331.5h0.8M307.6 346.0h0.8M279.7 338.6h0.8M305.0 356.9h0.8M302.9 358.8h0.8M300.4 358.0h0.8M306.7 355.9h0.8M310.6 348.4h0.8M307.5 352.8h0.8M281.7 330.7h0.8M303.4 358.1h0.8M308.7 354.9h0.8M280.5 337.1h0.8M298.6 359.0h0.8M296.7 358.3h0.8M298.5 335.7h0.8M303.4 340.3h0.8M288.2 351.7h0.8M283.2 329.2h0.8M309.2 349.0h0.8M293.3 355.8h0.8M280.8 337.5h0.8M307.4 344.9h0.8M306.4 356.2h0.8M291.2 326.7h0.8M280.1 337.2h0.8M287.9 326.5h0.8M304.9 357.1h0.8M304.8 358.1h0.8M293.1 356.6h0.8M297.2 357.3h0.8M298.9 336.5h0.8M283.1 328.0h0.8M307.9 351.2h0.8M279.8 337.1h0.8M281.0 340.6h0.8M300.4 359.8h0.8M307.8 351.0h0.8M278.8 332.6h0.8M304.9 358.8h0.8M309.6 349.0h0.8M283.1 341.6h0.8M302.4 339.9h0.8M297.7 335.5h0.8M284.8 344.6h0.8M307.8 343.6h0.8M309.2 284.8h0.8M310.6 285.4h0.8M299.1 276.8h0.8M305.2 282.9h0.8M300.6 277.9h0.8M309.2 284.4h0.8M301.1 278.0h0.8M300.1 277.7h0.8M301.7 279.2h0.8M298.7 276.2h0.8M300.9 277.9h0.8M305.3 282.0h0.8M299.8 277.0h0.8M302.1 278.5h0.8M304.3 280.8h0.8M302.3 279.1h0.8M307.7 305.6h0.8M308.6 307.6h0.8M308.0 306.1h0.8M308.3 305.9h0.8M308.6 307.3h0.8M307.5 304.8h0.8M323.0 332.2h0.8M323.1 331.2h0.8M323.7 331.1h0.8M316.0 329.1h0.8M320.5 331.3h0.8M318.4 331.4h0.8M329.9 306.5h0.8M329.1 308.9h0.8M345.8 321.6h0.8M355.0 297.1h0.8M327.9 312.1h0.8M348.8 316.2h0.8M343.8 305.9h0.8M365.1 303.6h0.8M348.0 295.0h0.8M337.0 312.0h0.8M352.1 303.3h0.8M366.5 306.4h0.8M347.4 305.3h0.8M354.7 318.5h0.8M351.8 302.9h0.8M348.6 305.5h0.8M346.9 289.7h0.8M367.6 309.9h0.8M358.2 308.1h0.8M355.3 312.5h0.8M343.8 312.5h0.8M339.2 293.5h0.8M347.0 305.8h0.8M350.6 317.7h0.8M335.0 307.3h0.8M347.7 308.4h0.8M360.9 323.9h0.8M328.6 303.9h0.8M328.8 319.9h0.8M339.2 325.2h0.8M340.0 306.1h0.8M356.0 304.4h0.8M347.7 323.8h0.8M331.3 294.0h0.8M333.6 311.0h0.8M340.0 314.1h0.8M340.3 314.3h0.8M349.0 327.7h0.8M332.5 307.4h0.8M362.5 302.4h0.8M350.3 303.0h0.8M337.7 300.9h0.8M332.7 324.1h0.8M361.6 308.4h0.8M355.2 321.0h0.8M350.9 294.8h0.8M332.0 316.8h0.8M333.6 307.2h0.8M359.4 296.8h0.8M329.1 301.9h0.8M308.1 336.0h0.8M297.3 339.9h0.8M304.7 335.1h0.8M304.9 347.0h0.8M300.9 327.5h0.8M288.1 339.6h0.8M289.6 334.4h0.8M301.5 347.1h0.8M288.4 340.5h0.8M306.2 341.4h0.8M286.7 351.3h0.8M285.2 346.0h0.8M290.7 329.5h0.8M302.8 351.4h0.8M284.4 336.0h0.8M295.8 337.8h0.8M296.4 337.8h0.8M305.1 333.5h0.8M302.9 347.7h0.8M289.5 331.6h0.8M285.0 349.2h0.8M284.4 341.6h0.8M298.3 331.4h0.8M302.6 343.1h0.8M286.6 349.1h0.8M297.5 346.0h0.8M288.1 345.6h0.8M296.6 357.4h0.8M305.6 343.0h0.8M296.4 341.2h0.8" stroke="#cac6c8" stroke-width="0.8" fill="none" opacity="0.9"/>
<path d="M352.4 294.9h0.7M339.7 304.7h0.7M332.4 323.0h0.7M359.8 304.8h0.7M332.0 317.4h0.7M344.1 296.8h0.7M351.3 305.8h0.7M336.2 307.1h0.7M340.5 295.4h0.7M335.2 301.5h0.7M342.4 295.6h0.7M332.8 314.6h0.7M353.1 304.7h0.7M351.0 295.7h0.7M330.8 319.7h0.7M335.3 296.2h0.7M334.9 299.5h0.7M349.1 314.0h0.7M344.9 325.8h0.7M337.5 305.8h0.7M338.2 302.5h0.7M355.8 293.3h0.7M349.0 321.1h0.7M340.7 298.6h0.7M334.4 302.8h0.7M345.0 314.0h0.7M330.8 317.1h0.7M330.7 306.3h0.7M343.9 320.3h0.7M347.3 293.9h0.7M351.7 321.5h0.7M337.7 297.6h0.7M343.9 299.6h0.7M358.7 314.6h0.7M340.0 310.9h0.7M350.2 319.7h0.7M341.7 322.3h0.7M332.9 322.2h0.7M337.6 293.8h0.7M352.5 308.6h0.7M346.5 324.7h0.7M331.2 310.7h0.7M345.6 295.4h0.7M339.0 311.2h0.7M341.1 308.6h0.7M339.6 297.1h0.7M361.2 308.9h0.7M339.0 323.7h0.7M351.0 306.0h0.7M348.1 325.4h0.7M331.6 311.4h0.7M349.9 303.4h0.7M346.2 319.7h0.7M344.3 298.7h0.7M347.3 294.7h0.7M355.2 314.8h0.7M341.1 326.7h0.7M332.9 321.4h0.7M358.4 302.3h0.7M359.9 301.8h0.7M355.6 318.0h0.7M336.9 298.2h0.7M347.3 300.3h0.7M344.0 304.4h0.7M350.7 291.7h0.7M347.7 319.6h0.7M332.5 308.0h0.7M339.8 321.7h0.7M361.0 307.8h0.7M355.8 312.8h0.7M344.8 294.8h0.7M348.7 292.2h0.7M339.2 319.0h0.7M336.9 323.1h0.7M360.6 312.9h0.7M334.5 316.3h0.7M330.2 305.9h0.7M361.0 306.6h0.7M359.3 306.7h0.7M348.5 315.2h0.7M351.3 316.8h0.7M351.2 303.1h0.7M358.6 312.6h0.7M345.6 310.1h0.7M354.1 297.4h0.7M341.8 309.2h0.7M350.5 324.6h0.7M345.3 303.7h0.7M351.8 316.9h0.7M338.1 326.2h0.7M347.6 320.5h0.7M344.8 320.9h0.7M336.5 314.8h0.7M354.7 305.7h0.7M349.4 308.4h0.7M359.7 313.8h0.7M338.4 303.2h0.7M333.4 322.2h0.7M360.0 312.0h0.7M342.8 326.7h0.7M359.4 313.1h0.7M351.8 312.1h0.7M346.1 322.8h0.7M351.6 321.6h0.7M357.2 295.4h0.7M349.7 296.5h0.7M358.8 307.0h0.7M347.7 294.8h0.7M351.1 296.8h0.7M358.3 314.5h0.7M343.5 316.3h0.7M355.9 317.5h0.7M352.0 313.7h0.7M359.6 307.6h0.7M331.9 306.7h0.7M360.2 302.1h0.7M353.0 303.5h0.7M355.1 315.2h0.7M342.3 309.6h0.7M347.7 306.6h0.7M336.9 325.8h0.7M350.6 316.7h0.7M356.1 297.2h0.7M347.4 323.0h0.7M334.0 298.8h0.7M345.4 312.4h0.7M353.2 313.2h0.7M332.4 302.4h0.7M335.4 313.3h0.7M336.5 299.1h0.7M347.0 292.1h0.7M345.8 308.4h0.7M331.9 317.3h0.7M340.9 299.3h0.7M352.0 305.8h0.7M346.5 313.0h0.7M332.2 315.6h0.7M352.3 320.1h0.7M347.5 312.5h0.7M331.2 301.3h0.7M330.2 310.3h0.7M352.8 317.9h0.7M339.3 308.1h0.7M338.4 325.8h0.7M336.7 295.1h0.7M348.9 297.6h0.7M353.5 317.5h0.7M332.3 315.5h0.7M353.2 299.5h0.7M335.4 320.5h0.7M349.1 298.6h0.7M359.3 298.4h0.7M341.6 292.6h0.7M344.9 293.6h0.7M339.3 294.4h0.7M330.6 315.5h0.7M356.2 305.9h0.7M358.2 308.9h0.7M338.1 314.8h0.7M361.5 305.8h0.7" stroke="#ffffff" stroke-width="0.7" fill="none" opacity="0.8"/>
<path d="M282.8 336.6h0.8M303.4 351.1h0.8M296.0 335.4h0.8M295.1 337.4h0.8M287.1 337.4h0.8M307.2 347.1h0.8M296.9 350.4h0.8M302.9 350.2h0.8M291.8 338.6h0.8M302.0 353.5h0.8M296.6 342.2h0.8M289.0 336.7h0.8M286.7 333.5h0.8M299.7 351.1h0.8M295.0 356.0h0.8M302.8 348.8h0.8M294.0 333.4h0.8M296.3 340.0h0.8M301.6 355.3h0.8M283.5 338.2h0.8M285.4 329.0h0.8M293.9 334.3h0.8M289.7 334.4h0.8M293.8 352.6h0.8M292.6 337.4h0.8M291.3 345.9h0.8M286.0 332.9h0.8M286.3 339.2h0.8M285.0 332.6h0.8M305.8 346.2h0.8M291.6 333.9h0.8M290.5 352.3h0.8M288.0 331.6h0.8M282.6 332.5h0.8M287.6 342.7h0.8M281.9 332.8h0.8M288.8 333.5h0.8M295.2 335.3h0.8M299.2 337.4h0.8M303.0 342.1h0.8M305.5 354.6h0.8M296.9 339.4h0.8M301.5 350.3h0.8M302.9 343.3h0.8M303.3 342.7h0.8M302.3 345.8h0.8M290.8 340.9h0.8M293.0 346.6h0.8M282.8 337.4h0.8M284.0 335.6h0.8M282.7 333.4h0.8M295.4 350.9h0.8M288.7 335.2h0.8M297.6 343.9h0.8M289.7 333.9h0.8M286.3 329.2h0.8M295.4 354.5h0.8M294.5 346.4h0.8M297.3 354.9h0.8M296.9 353.5h0.8M282.3 335.3h0.8M296.8 345.6h0.8M303.6 341.5h0.8M289.8 332.6h0.8M296.4 341.9h0.8M288.8 337.4h0.8M283.1 329.7h0.8M305.9 347.7h0.8M300.2 355.7h0.8M287.1 332.7h0.8M292.0 341.9h0.8M292.8 353.4h0.8M297.0 354.0h0.8M288.7 338.5h0.8M285.8 337.9h0.8M283.0 330.3h0.8M299.3 340.9h0.8M307.9 349.5h0.8M290.1 335.0h0.8M298.5 356.7h0.8M299.9 343.4h0.8M286.4 336.2h0.8M301.3 351.0h0.8M298.5 350.9h0.8M286.3 343.7h0.8M292.9 347.0h0.8M286.0 332.4h0.8M301.1 345.8h0.8M289.9 332.2h0.8M300.5 345.4h0.8M301.7 346.0h0.8M285.2 337.7h0.8M295.4 344.6h0.8M292.4 337.9h0.8M285.1 338.3h0.8M306.0 348.7h0.8M287.6 347.0h0.8M285.9 342.7h0.8M298.9 356.0h0.8M293.5 352.9h0.8M289.4 340.4h0.8M303.4 352.0h0.8M306.9 350.0h0.8M300.5 342.6h0.8M304.6 354.3h0.8M287.7 328.8h0.8M307.2 347.8h0.8M294.4 338.5h0.8M295.3 350.9h0.8M305.5 349.7h0.8M297.0 348.8h0.8M289.7 332.3h0.8M295.7 341.4h0.8M286.6 337.8h0.8M303.4 349.0h0.8M290.0 333.4h0.8M289.9 332.6h0.8M291.3 349.7h0.8M299.4 346.8h0.8M293.0 335.9h0.8M279.1 333.7h0.8M281.1 329.7h0.8M293.1 355.7h0.8M305.2 357.4h0.8M280.1 335.9h0.8M304.7 341.1h0.8M306.4 341.9h0.8M298.9 357.2h0.8M298.9 357.8h0.8M286.1 326.2h0.8M341.9 322.4h0.8M333.8 321.3h0.8M339.0 322.6h0.8M340.0 322.9h0.8M342.1 321.6h0.8M341.4 323.5h0.8M341.1 324.1h0.8M341.8 323.3h0.8M301.3 289.1h0.8M301.7 288.7h0.8M302.0 288.9h0.8M301.1 289.8h0.8M302.4 287.5h0.8M307.8 306.0h0.8M307.3 305.0h0.8M306.7 303.6h0.8M306.4 302.7h0.8M307.8 306.6h0.8M294.8 323.5h0.8M296.0 321.6h0.8M296.2 321.3h0.8M294.7 323.4h0.8M294.6 323.3h0.8" stroke="#d99a9a" stroke-width="0.8" fill="none" opacity="0.85"/>
<text x="249.6" y="320.08" text-anchor="middle" style="font-size:8.8px" transform="rotate(-90 249.6 317)">UMAP 2</text>
<defs><linearGradient id="g2" x1="0" y1="0" x2="0" y2="1"><stop offset="0" stop-color="#d22a1a"/><stop offset="1" stop-color="#d8d8d8"/></linearGradient></defs>
<rect x="379.6" y="294.9" width="5.8" height="37.9" fill="url(#g2)"/>
<text x="389.8" y="300.6" style="font-size:8px">4</text>
<text x="389.8" y="311.4" style="font-size:8px">3</text>
<text x="389.8" y="321" style="font-size:8px">2</text>
<text x="389.8" y="330.4" style="font-size:8px">1</text>
<text x="372.3" y="317.37" text-anchor="middle" style="font-size:8.2px" transform="rotate(-90 372.3 314.5)">IFNγ</text>
<text x="325.7" y="388.78" text-anchor="middle" style="font-size:8.8px">UMAP 1</text>
<line x1="67.7" y1="399.4" x2="67.7" y2="423.6" stroke="#9a9a9a" stroke-width="0.8"/>
<line x1="67.7" y1="423.6" x2="160" y2="423.6" stroke="#9a9a9a" stroke-width="0.8"/>
<line x1="65.7" y1="404.4" x2="67.7" y2="404.4" stroke="#9a9a9a" stroke-width="0.8"/>
<line x1="65.7" y1="417.5" x2="67.7" y2="417.5" stroke="#9a9a9a" stroke-width="0.8"/>
<text x="64.2" y="407.13" text-anchor="end" style="font-size:7.8px">Neg</text>
<text x="64.2" y="420.23" text-anchor="end" style="font-size:7.8px">Mix</text>
<line x1="80.3" y1="423.6" x2="80.3" y2="425.6" stroke="#9a9a9a" stroke-width="0.8"/>
<circle cx="80.3" cy="404.4" r="2.5" fill="#c4c4c4"/>
<circle cx="80.3" cy="417.5" r="3" fill="#cc1a10"/>
<text x="80.3" y="434.73" text-anchor="middle" style="font-size:7.8px">PRF1</text>
<line x1="102.2" y1="423.6" x2="102.2" y2="425.6" stroke="#9a9a9a" stroke-width="0.8"/>
<circle cx="102.2" cy="404.4" r="1.8" fill="#c4c4c4"/>
<circle cx="102.2" cy="417.5" r="2.3" fill="#cc1a10"/>
<text x="102.2" y="434.73" text-anchor="middle" style="font-size:7.8px">GZMB</text>
<line x1="124.1" y1="423.6" x2="124.1" y2="425.6" stroke="#9a9a9a" stroke-width="0.8"/>
<circle cx="124.1" cy="404.4" r="0.35" fill="#dddddd"/>
<circle cx="124.1" cy="417.5" r="0.45" fill="#e07060"/>
<text x="124.1" y="434.73" text-anchor="middle" style="font-size:7.8px">IFNγ</text>
<line x1="146.9" y1="423.6" x2="146.9" y2="425.6" stroke="#9a9a9a" stroke-width="0.8"/>
<circle cx="146.9" cy="404.4" r="0.4" fill="#d8d8d8"/>
<circle cx="146.9" cy="417.5" r="0.9" fill="#d83020"/>
<text x="146.9" y="434.73" text-anchor="middle" style="font-size:7.8px">TNF</text>
<text x="5.5" y="394.83" style="font-size:7.8px">Average</text>
<text x="5.5" y="404.23" style="font-size:7.8px">expression</text>
<defs><linearGradient id="g3" x1="0" y1="0" x2="0" y2="1"><stop offset="0" stop-color="#cc1a10"/><stop offset="1" stop-color="#c8c8c8"/></linearGradient></defs>
<rect x="16" y="408.2" width="5.9" height="27.1" fill="url(#g3)"/>
<text x="26.3" y="417.63" style="font-size:7.8px">0.4</text>
<text x="27.5" y="425.53" style="font-size:7.8px">0</text>
<text x="24" y="433.73" style="font-size:7.8px">−0.4</text>
<text x="165" y="384.63" style="font-size:7.8px">Percentage</text>
<text x="165" y="393.43" style="font-size:7.8px">expressed</text>
<circle cx="176.6" cy="399.4" r="0.6" fill="#000"/>
<text x="182.5" y="402.13" style="font-size:7.8px">10</text>
<circle cx="176.6" cy="406.7" r="1.3" fill="#000"/>
<text x="182.5" y="409.43" style="font-size:7.8px">20</text>
<circle cx="176.6" cy="414" r="1.9" fill="#000"/>
<text x="182.5" y="416.73" style="font-size:7.8px">30</text>
<circle cx="176.6" cy="421.3" r="2.4" fill="#000"/>
<text x="182.5" y="424.03" style="font-size:7.8px">40</text>
<circle cx="176.6" cy="428.6" r="2.9" fill="#000"/>
<text x="182.5" y="431.33" style="font-size:7.8px">50</text>
<line x1="274.1" y1="397.9" x2="274.1" y2="424.2" stroke="#9a9a9a" stroke-width="0.8"/>
<line x1="274.1" y1="424.2" x2="367" y2="424.2" stroke="#9a9a9a" stroke-width="0.8"/>
<line x1="272.1" y1="402.7" x2="274.1" y2="402.7" stroke="#9a9a9a" stroke-width="0.8"/>
<line x1="272.1" y1="416.8" x2="274.1" y2="416.8" stroke="#9a9a9a" stroke-width="0.8"/>
<text x="270.6" y="405.43" text-anchor="end" style="font-size:7.8px">Neg</text>
<text x="270.6" y="419.53" text-anchor="end" style="font-size:7.8px">Mix</text>
<line x1="287.3" y1="424.2" x2="287.3" y2="426.2" stroke="#9a9a9a" stroke-width="0.8"/>
<circle cx="287.3" cy="402.7" r="2.1" fill="#c4c4c4"/>
<circle cx="287.3" cy="416.8" r="3.3" fill="#cc1a10"/>
<text x="287.3" y="438.83" text-anchor="middle" style="font-size:7.8px">PRF1</text>
<line x1="310.4" y1="424.2" x2="310.4" y2="426.2" stroke="#9a9a9a" stroke-width="0.8"/>
<circle cx="310.4" cy="402.7" r="2.1" fill="#c4c4c4"/>
<circle cx="310.4" cy="416.8" r="3.3" fill="#cc1a10"/>
<text x="310.4" y="438.83" text-anchor="middle" style="font-size:7.8px">GZMB</text>
<line x1="332.9" y1="424.2" x2="332.9" y2="426.2" stroke="#9a9a9a" stroke-width="0.8"/>
<circle cx="332.9" cy="402.7" r="0.3" fill="#dddddd"/>
<circle cx="332.9" cy="416.8" r="0.6" fill="#d83020"/>
<text x="332.9" y="438.83" text-anchor="middle" style="font-size:7.8px">IFNγ</text>
<line x1="354.7" y1="424.2" x2="354.7" y2="426.2" stroke="#9a9a9a" stroke-width="0.8"/>
<circle cx="354.7" cy="402.7" r="0.3" fill="#dddddd"/>
<circle cx="354.7" cy="416.8" r="0.6" fill="#d83020"/>
<text x="354.7" y="438.83" text-anchor="middle" style="font-size:7.8px">TNF</text>
<text x="210.9" y="385.23" style="font-size:7.8px">Average</text>
<text x="210.9" y="394.23" style="font-size:7.8px">expression</text>
<defs><linearGradient id="g4" x1="0" y1="0" x2="0" y2="1"><stop offset="0" stop-color="#cc1a10"/><stop offset="1" stop-color="#c8c8c8"/></linearGradient></defs>
<rect x="221.5" y="397" width="5.5" height="27.2" fill="url(#g4)"/>
<text x="230.1" y="406.13" style="font-size:7.8px">0.4</text>
<text x="231.3" y="413.43" style="font-size:7.8px">0</text>
<text x="228.5" y="421.53" style="font-size:7.8px">−0.4</text>
<text x="372.4" y="387.73" style="font-size:7.8px">Percentage</text>
<text x="372.4" y="396.43" style="font-size:7.8px">expressed</text>
<circle cx="382.7" cy="405.9" r="0.9" fill="#000"/>
<text x="389.1" y="408.63" style="font-size:7.8px">20</text>
<circle cx="382.7" cy="413" r="1.9" fill="#000"/>
<text x="389.1" y="415.73" style="font-size:7.8px">40</text>
<circle cx="382.7" cy="422.6" r="2.9" fill="#000"/>
<text x="389.1" y="425.33" style="font-size:7.8px">60</text>
<defs><radialGradient id="rgB"><stop offset="0" stop-color="#0000ff"/><stop offset="0.5" stop-color="#0000ff"/><stop offset="0.72" stop-color="#0000ff" stop-opacity="0.6"/><stop offset="1" stop-color="#0000ff" stop-opacity="0"/></radialGradient><radialGradient id="rgR"><stop offset="0" stop-color="#ff0000"/><stop offset="0.5" stop-color="#ff0000"/><stop offset="0.72" stop-color="#ff0000" stop-opacity="0.6"/><stop offset="1" stop-color="#ff0000" stop-opacity="0"/></radialGradient></defs>
<text x="0.3" y="453.6" style="font-size:13.6px;font-weight:bold;fill:#000">g</text>
<text x="60.55" y="457.87" text-anchor="middle" style="font-size:8.2px">Control</text>
<text x="123.25" y="457.87" text-anchor="middle" style="font-size:8.2px">TAA mix</text>
<clipPath id="cpg0"><rect x="30.5" y="459.3" width="60.1" height="23.6"/></clipPath>
<g clip-path="url(#cpg0)">
<ellipse cx="41.5" cy="474.8" rx="14.44" ry="7.79" fill="url(#rgB)" transform="rotate(-40 41.5 474.8)"/>
<path d="M36.7 472.0h0.75M37.4 471.5h0.75M31.9 479.3h0.75M50.4 479.6h0.75M46.1 465.0h0.75M33.7 480.1h0.75M41.3 468.9h0.75M55.0 463.1h0.75M32.7 479.3h0.75M34.7 478.8h0.75M48.8 470.4h0.75M43.7 469.1h0.75M34.4 478.4h0.75M34.1 478.0h0.75M41.0 480.0h0.75M34.1 473.3h0.75M31.6 477.4h0.75M47.0 467.9h0.75M51.7 467.8h0.75M36.8 471.7h0.75M49.5 473.6h0.75M45.1 467.8h0.75M31.2 480.9h0.75M35.5 481.4h0.75M59.4 461.0h0.75M40.1 470.7h0.75M45.7 469.2h0.75M43.9 467.1h0.75M37.7 470.2h0.75M40.2 468.9h0.75M46.8 476.3h0.75M33.8 469.5h0.75M42.8 479.4h0.75M46.7 468.7h0.75M48.7 472.7h0.75M41.2 480.7h0.75M48.8 472.7h0.75M35.0 480.9h0.75M32.4 481.3h0.75M36.6 473.1h0.75M47.6 468.8h0.75M41.8 468.2h0.75M47.4 468.4h0.75M45.8 480.3h0.75M44.5 467.5h0.75M47.5 478.2h0.75M36.5 473.7h0.75M46.6 466.8h0.75M40.2 469.9h0.75M38.3 471.6h0.75M44.3 479.5h0.75M47.7 468.9h0.75M33.4 477.8h0.75M36.2 480.1h0.75M42.0 465.4h0.75M49.0 468.3h0.75M48.7 468.7h0.75M46.2 468.1h0.75M49.5 474.1h0.75M50.4 477.7h0.75M47.3 469.5h0.75M39.4 480.7h0.75M42.2 468.0h0.75M43.7 467.8h0.75M50.0 476.3h0.75M53.5 480.2h0.75M36.5 473.3h0.75M45.1 465.0h0.75M36.4 470.9h0.75M36.2 482.2h0.75M41.6 468.5h0.75M47.2 474.8h0.75M35.5 480.3h0.75M49.2 469.5h0.75M35.7 481.0h0.75M39.9 470.8h0.75M34.1 474.9h0.75M48.4 471.3h0.75M40.2 480.1h0.75M46.6 481.8h0.75M33.3 481.3h0.75M34.3 473.4h0.75M54.3 470.7h0.75M42.7 467.7h0.75M47.5 466.8h0.75M34.9 476.4h0.75M35.4 479.3h0.75M51.3 467.3h0.75M38.0 472.4h0.75M50.1 471.5h0.75M45.0 477.4h0.75M46.9 467.4h0.75M51.3 470.1h0.75M42.8 468.6h0.75M50.0 475.7h0.75M47.8 472.9h0.75M35.2 477.5h0.75M33.3 478.6h0.75M46.7 475.0h0.75M44.3 478.2h0.75M50.8 466.1h0.75M48.3 473.9h0.75M51.1 471.4h0.75M49.3 479.1h0.75M48.6 471.6h0.75M34.4 476.6h0.75M54.6 470.6h0.75M39.6 469.9h0.75M50.0 469.9h0.75M44.4 467.5h0.75M34.2 478.7h0.75M45.5 468.3h0.75M48.2 477.9h0.75M31.9 479.1h0.75M45.5 480.2h0.75M50.8 466.7h0.75M41.3 469.9h0.75M34.9 474.0h0.75M38.2 472.1h0.75M41.7 480.6h0.75M40.7 467.7h0.75M50.1 468.6h0.75M45.5 468.7h0.75M46.3 480.3h0.75M49.5 470.8h0.75M37.0 471.7h0.75M46.5 477.7h0.75M35.7 473.2h0.75M36.2 473.9h0.75M47.2 478.0h0.75M34.7 473.7h0.75M45.8 462.0h0.75M53.8 469.2h0.75M40.8 474.1h0.75M44.4 472.0h0.75M44.6 467.8h0.75M51.3 472.4h0.75M45.6 461.9h0.75M53.7 471.9h0.75M45.5 463.1h0.75M45.6 475.9h0.75M48.8 464.5h0.75M48.8 474.2h0.75M34.0 470.5h0.75M42.5 477.4h0.75M37.6 470.3h0.75M58.1 470.7h0.75M40.7 473.6h0.75M43.6 463.7h0.75M41.1 474.3h0.75M33.8 476.2h0.75M61.6 471.5h0.75M43.2 473.4h0.75M37.9 462.9h0.75M43.4 468.4h0.75M34.7 461.7h0.75M50.5 465.5h0.75M44.8 468.5h0.75M49.3 462.0h0.75M31.7 470.1h0.75M46.1 475.8h0.75M58.0 466.7h0.75M45.8 471.0h0.75M35.2 471.2h0.75M48.4 468.8h0.75M38.3 475.0h0.75M47.6 468.7h0.75M38.5 466.7h0.75M53.3 470.1h0.75" stroke="#0000ff" stroke-width="0.75" fill="none"/>
</g>
<clipPath id="cpg1"><rect x="93.1" y="459.3" width="60.3" height="23.6"/></clipPath>
<g clip-path="url(#cpg1)">
<ellipse cx="103.5" cy="475" rx="12.35" ry="9.5" fill="url(#rgB)" transform="rotate(-15 103.5 475)"/>
<ellipse cx="121" cy="470.5" rx="17.1" ry="7.22" fill="url(#rgB)" transform="rotate(-22 121 470.5)" opacity="0.8"/>
<ellipse cx="137" cy="465.5" rx="11.4" ry="5.32" fill="url(#rgB)" transform="rotate(-25 137 465.5)" opacity="0.65"/>
<path d="M100.7 469.2h0.75M97.3 472.8h0.75M108.8 477.8h0.75M111.2 468.7h0.75M114.3 468.2h0.75M111.4 466.9h0.75M104.1 480.9h0.75M120.0 472.0h0.75M110.1 471.9h0.75M113.9 470.1h0.75M108.8 477.9h0.75M97.0 471.0h0.75M106.0 468.8h0.75M102.5 469.7h0.75M102.8 469.1h0.75M108.0 478.0h0.75M113.9 474.7h0.75M109.0 477.0h0.75M95.2 480.7h0.75M94.5 472.3h0.75M104.0 480.8h0.75M100.2 470.0h0.75M99.0 470.9h0.75M97.0 473.0h0.75M111.3 475.4h0.75M98.2 479.6h0.75M110.2 471.7h0.75M94.5 473.7h0.75M113.4 477.7h0.75M112.4 472.1h0.75M96.6 473.5h0.75M106.8 478.9h0.75M110.4 470.0h0.75M108.0 470.7h0.75M103.2 480.7h0.75M109.8 479.7h0.75M111.6 471.9h0.75M95.6 469.5h0.75M110.0 475.9h0.75M98.7 468.9h0.75M95.1 470.8h0.75M97.1 475.3h0.75M96.1 465.1h0.75M106.1 481.1h0.75M96.3 476.5h0.75M101.5 480.4h0.75M103.4 468.5h0.75M114.7 478.4h0.75M97.1 475.1h0.75M106.0 466.9h0.75M97.6 472.0h0.75M97.0 470.7h0.75M94.7 480.7h0.75M113.1 470.1h0.75M97.4 473.9h0.75M105.8 466.5h0.75M97.4 477.4h0.75M112.9 475.3h0.75M111.3 471.8h0.75M106.4 470.2h0.75M96.9 477.5h0.75M108.0 481.8h0.75M102.2 480.4h0.75M96.2 477.0h0.75M103.1 467.3h0.75M105.7 468.3h0.75M99.1 479.9h0.75M104.6 480.5h0.75M96.4 475.1h0.75M95.9 470.1h0.75M111.3 479.6h0.75M96.0 467.9h0.75M99.0 481.2h0.75M94.5 472.3h0.75M102.1 481.3h0.75M99.2 479.5h0.75M98.7 470.0h0.75M96.6 472.9h0.75M96.1 482.2h0.75M110.8 478.6h0.75M99.9 469.1h0.75M100.1 469.6h0.75M103.3 480.2h0.75M106.2 468.4h0.75M98.3 470.6h0.75M110.7 475.9h0.75M100.1 470.5h0.75M97.1 476.0h0.75M109.9 473.5h0.75M110.1 472.2h0.75M94.0 474.4h0.75M104.4 480.7h0.75M103.3 465.1h0.75M110.2 470.0h0.75M110.7 472.7h0.75M106.4 467.1h0.75M110.1 477.5h0.75M112.8 477.7h0.75M105.1 469.7h0.75M108.2 479.7h0.75M95.1 474.3h0.75M110.9 470.2h0.75M104.9 467.9h0.75M108.4 478.6h0.75M105.3 468.6h0.75M109.5 479.9h0.75M112.1 477.6h0.75M99.5 480.2h0.75M104.0 481.6h0.75M95.1 478.2h0.75M110.3 474.7h0.75M98.8 471.5h0.75M111.4 473.0h0.75M113.3 480.3h0.75M107.0 466.4h0.75M105.3 480.8h0.75M103.0 480.4h0.75M111.9 479.1h0.75M99.8 469.7h0.75M97.1 477.2h0.75M112.6 471.6h0.75M112.2 471.3h0.75M96.9 475.5h0.75M110.6 477.6h0.75M116.2 472.2h0.75M96.5 478.5h0.75M94.1 481.7h0.75M96.6 474.2h0.75M102.8 481.7h0.75M109.6 472.7h0.75M112.0 480.9h0.75M109.5 472.6h0.75M109.0 479.9h0.75M111.0 478.6h0.75M109.7 476.9h0.75M111.8 477.1h0.75M118.2 474.5h0.75M111.1 479.0h0.75M123.7 461.7h0.75M106.3 469.3h0.75M128.1 471.2h0.75M125.7 462.4h0.75M129.8 469.9h0.75M130.3 464.2h0.75M119.0 466.8h0.75M109.7 478.7h0.75M118.6 462.2h0.75M115.8 466.0h0.75M129.4 477.4h0.75M116.1 477.6h0.75M120.4 475.1h0.75M114.0 478.3h0.75M136.2 462.7h0.75M127.9 473.3h0.75M111.7 473.7h0.75M119.4 467.0h0.75M108.6 469.5h0.75M102.8 481.3h0.75M124.3 478.3h0.75M130.2 472.4h0.75M138.1 467.3h0.75M119.7 465.3h0.75M118.0 475.6h0.75M112.1 469.3h0.75M124.2 476.2h0.75M122.5 466.0h0.75M109.1 471.6h0.75M115.9 479.4h0.75M129.2 469.2h0.75M133.0 463.4h0.75M123.7 473.5h0.75M120.4 466.5h0.75M115.7 469.0h0.75M128.8 469.9h0.75M122.4 474.2h0.75M113.1 476.7h0.75M136.4 466.0h0.75M129.1 468.9h0.75M109.5 470.6h0.75M109.7 472.4h0.75M130.2 472.3h0.75M131.1 463.7h0.75M134.2 464.0h0.75M111.4 470.3h0.75M122.5 474.3h0.75M113.5 475.3h0.75M108.3 479.4h0.75M109.6 473.0h0.75M103.9 477.3h0.75M122.0 466.0h0.75M142.3 463.2h0.75M114.3 478.8h0.75M111.3 476.1h0.75M133.1 467.1h0.75M114.0 476.0h0.75M104.8 476.4h0.75M125.9 473.9h0.75M107.1 475.0h0.75M117.3 467.4h0.75M107.7 472.7h0.75M125.9 465.7h0.75M130.3 469.2h0.75M110.2 470.9h0.75M130.6 469.3h0.75M108.9 472.6h0.75M103.8 476.9h0.75M138.6 463.0h0.75M109.2 473.9h0.75M129.0 471.3h0.75M127.0 463.8h0.75M131.3 465.3h0.75M104.8 475.3h0.75M113.4 466.8h0.75M110.8 478.7h0.75M117.3 467.8h0.75M125.3 460.9h0.75M111.9 469.0h0.75M123.7 463.9h0.75M128.3 470.7h0.75M130.3 469.4h0.75M125.7 473.8h0.75M114.7 475.7h0.75M113.8 469.9h0.75M127.7 463.8h0.75M130.7 467.9h0.75M138.0 465.6h0.75M126.3 465.0h0.75M129.3 465.5h0.75M117.5 475.4h0.75M120.5 475.5h0.75M132.5 465.0h0.75M113.6 475.0h0.75M107.4 475.3h0.75M113.0 476.0h0.75M122.2 466.0h0.75M113.2 475.5h0.75M137.2 460.1h0.75M118.7 465.6h0.75M111.5 467.2h0.75M124.2 462.6h0.75M126.3 465.7h0.75M117.5 465.9h0.75M109.6 471.8h0.75M110.4 472.2h0.75M112.8 476.6h0.75M134.9 463.2h0.75M110.8 471.3h0.75M106.9 476.5h0.75M139.6 461.9h0.75M130.3 465.0h0.75M136.2 469.7h0.75M130.5 467.8h0.75M130.3 470.4h0.75M131.7 463.8h0.75M132.6 465.1h0.75M135.2 471.0h0.75M142.5 461.9h0.75M126.4 466.8h0.75M133.2 471.1h0.75M134.2 470.5h0.75M134.8 469.6h0.75M140.3 468.7h0.75M144.0 464.2h0.75M131.4 464.6h0.75M130.6 465.5h0.75M145.4 460.2h0.75M131.0 468.4h0.75M136.7 469.4h0.75M138.6 468.8h0.75M129.5 465.6h0.75M127.4 470.7h0.75M128.0 463.0h0.75M140.8 468.6h0.75M129.3 469.4h0.75M131.0 471.8h0.75M132.8 469.9h0.75M131.7 464.3h0.75M128.4 466.0h0.75M129.7 465.8h0.75M141.5 465.9h0.75M131.1 468.1h0.75M142.5 461.2h0.75M138.8 466.2h0.75M136.9 464.4h0.75M94.6 481.6h0.75M118.1 472.4h0.75M123.1 476.7h0.75M117.9 469.4h0.75M122.3 474.2h0.75M95.9 471.4h0.75M125.8 471.2h0.75M121.0 474.9h0.75M99.0 476.2h0.75M117.8 474.2h0.75M120.7 462.6h0.75M105.4 475.8h0.75M124.9 479.5h0.75M120.0 477.4h0.75M130.9 464.9h0.75M111.3 467.0h0.75M105.0 480.2h0.75M135.8 462.7h0.75M133.6 464.9h0.75M137.6 467.0h0.75M116.7 479.3h0.75M125.5 471.8h0.75M139.1 463.5h0.75M129.2 471.5h0.75M136.8 468.9h0.75M133.6 466.7h0.75M106.2 480.4h0.75M105.7 467.9h0.75M129.3 478.3h0.75M136.9 473.8h0.75M136.2 465.4h0.75M111.8 475.3h0.75M125.5 470.1h0.75M108.1 469.4h0.75M101.3 465.3h0.75M137.7 463.9h0.75M101.8 480.5h0.75M134.2 465.2h0.75M94.8 469.3h0.75M131.3 478.6h0.75M114.0 474.0h0.75" stroke="#0000ff" stroke-width="0.75" fill="none"/>
</g>
<clipPath id="cpg2"><rect x="30.5" y="525.6" width="60.1" height="24.3"/></clipPath>
<g clip-path="url(#cpg2)">
<ellipse cx="42.5" cy="541.5" rx="14.82" ry="8.17" fill="url(#rgR)" transform="rotate(-38 42.5 541.5)"/>
<path d="M48.9 545.7h0.75M46.4 547.2h0.75M48.1 542.1h0.75M41.7 533.1h0.75M45.2 548.3h0.75M51.0 531.6h0.75M42.6 548.9h0.75M49.7 535.6h0.75M40.1 548.2h0.75M31.3 544.9h0.75M36.1 543.0h0.75M48.2 541.4h0.75M48.3 544.2h0.75M44.5 535.0h0.75M42.0 535.5h0.75M49.8 543.0h0.75M35.3 545.6h0.75M50.8 535.3h0.75M47.4 543.8h0.75M41.2 537.2h0.75M44.3 545.6h0.75M51.5 535.1h0.75M44.0 535.5h0.75M39.8 548.5h0.75M42.7 547.2h0.75M50.5 537.1h0.75M36.2 546.8h0.75M48.1 543.3h0.75M49.6 539.5h0.75M45.2 548.1h0.75M35.7 546.2h0.75M37.1 537.8h0.75M49.5 543.6h0.75M49.9 536.3h0.75M52.0 533.1h0.75M34.5 548.3h0.75M47.8 534.0h0.75M47.0 532.9h0.75M38.5 539.2h0.75M35.5 548.1h0.75M48.1 533.5h0.75M39.3 536.4h0.75M49.2 539.4h0.75M48.7 540.5h0.75M38.4 539.2h0.75M37.9 536.5h0.75M35.6 543.6h0.75M49.6 539.0h0.75M49.1 545.1h0.75M45.6 547.5h0.75M42.6 534.9h0.75M34.8 540.5h0.75M38.7 538.2h0.75M38.4 533.0h0.75M31.7 548.7h0.75M50.1 540.0h0.75M53.4 534.2h0.75M40.4 548.2h0.75M45.1 532.4h0.75M32.2 547.2h0.75M37.7 535.7h0.75M39.7 536.7h0.75M46.7 530.7h0.75M33.3 544.2h0.75M36.9 549.1h0.75M55.3 544.8h0.75M48.5 547.0h0.75M39.3 538.5h0.75M32.9 540.4h0.75M39.6 535.3h0.75M48.3 544.7h0.75M35.8 549.1h0.75M36.9 547.0h0.75M53.7 540.6h0.75M53.4 538.1h0.75M43.6 533.7h0.75M41.3 533.5h0.75M51.2 536.7h0.75M39.8 535.4h0.75M51.7 532.4h0.75M47.7 534.6h0.75M41.8 534.1h0.75M45.7 535.0h0.75M48.1 533.1h0.75M36.9 539.6h0.75M47.0 545.0h0.75M32.3 547.3h0.75M49.2 533.8h0.75M40.9 549.1h0.75M47.2 531.7h0.75M36.3 540.9h0.75M42.8 535.5h0.75M49.5 539.5h0.75M45.6 534.3h0.75M46.7 530.5h0.75M48.1 543.3h0.75M44.2 545.6h0.75M49.3 536.4h0.75M47.2 544.1h0.75M35.7 540.6h0.75M44.1 535.0h0.75M52.1 543.2h0.75M49.5 540.4h0.75M43.8 534.6h0.75M39.5 533.7h0.75M49.0 539.3h0.75M52.5 544.1h0.75M48.9 536.8h0.75M37.3 539.7h0.75M45.5 547.0h0.75M44.8 546.7h0.75M54.3 539.7h0.75M39.2 537.6h0.75M54.2 536.0h0.75M47.7 548.6h0.75M50.2 537.2h0.75M40.8 548.5h0.75M38.3 547.2h0.75M44.5 547.4h0.75M41.3 535.7h0.75M32.8 542.0h0.75M36.1 542.2h0.75M46.4 546.4h0.75M46.8 535.4h0.75M51.5 539.6h0.75M47.0 533.9h0.75M35.5 539.5h0.75M43.7 535.7h0.75M35.6 542.7h0.75M42.0 533.1h0.75M53.2 531.6h0.75M48.2 536.1h0.75M55.0 535.4h0.75M50.1 538.4h0.75M48.1 527.6h0.75M43.4 547.1h0.75M37.9 539.1h0.75M53.3 532.2h0.75M50.0 529.7h0.75M46.7 534.3h0.75M50.1 535.5h0.75M49.5 534.3h0.75M33.8 544.6h0.75M31.1 547.1h0.75M47.7 532.9h0.75M33.3 539.8h0.75M51.3 539.4h0.75M42.4 542.6h0.75M52.3 535.8h0.75M45.2 539.3h0.75M61.6 533.4h0.75M52.9 529.7h0.75M51.3 535.6h0.75M37.9 535.1h0.75M56.8 540.0h0.75M45.8 545.7h0.75M55.4 542.3h0.75M40.9 542.3h0.75M35.9 535.5h0.75M51.9 538.1h0.75M45.0 532.7h0.75M50.0 542.7h0.75M41.8 536.4h0.75M52.1 535.0h0.75M37.8 542.3h0.75M48.6 540.7h0.75M42.5 549.0h0.75M39.0 549.0h0.75M47.0 545.1h0.75M34.1 540.6h0.75M44.5 546.1h0.75M38.0 541.0h0.75M44.7 535.7h0.75M44.5 538.9h0.75M50.0 542.5h0.75M41.9 543.9h0.75M51.6 548.7h0.75M56.2 530.1h0.75M51.3 530.1h0.75M45.4 535.9h0.75" stroke="#ff0000" stroke-width="0.75" fill="none"/>
</g>
<clipPath id="cpg3"><rect x="93.1" y="525.6" width="60.3" height="24.3"/></clipPath>
<g clip-path="url(#cpg3)">
<ellipse cx="116" cy="542" rx="23.94" ry="6.46" fill="url(#rgR)" transform="rotate(-18 116 542)"/>
<path d="M114.9 536.4h0.75M100.1 541.5h0.75M127.7 535.6h0.75M127.4 535.5h0.75M122.7 543.1h0.75M118.3 535.5h0.75M111.1 548.0h0.75M129.3 537.0h0.75M127.8 544.7h0.75M107.5 547.3h0.75M127.8 535.9h0.75M107.8 541.5h0.75M121.1 536.3h0.75M126.0 541.1h0.75M105.2 542.2h0.75M104.1 545.5h0.75M131.5 541.0h0.75M126.7 536.8h0.75M98.2 545.3h0.75M104.5 542.0h0.75M110.0 540.2h0.75M104.0 546.1h0.75M102.0 543.8h0.75M135.4 537.3h0.75M109.0 538.9h0.75M107.0 540.3h0.75M128.4 542.6h0.75M120.3 535.5h0.75M123.7 543.9h0.75M113.8 538.6h0.75M119.6 544.9h0.75M104.0 543.0h0.75M126.0 541.7h0.75M106.7 547.9h0.75M107.0 541.2h0.75M108.2 547.3h0.75M128.9 538.4h0.75M110.7 539.2h0.75M104.9 544.0h0.75M121.3 536.4h0.75M122.9 530.5h0.75M124.8 536.4h0.75M142.8 536.6h0.75M127.2 534.5h0.75M123.8 542.5h0.75M106.9 548.4h0.75M129.7 531.0h0.75M135.3 536.5h0.75M110.4 539.7h0.75M105.5 542.6h0.75M101.9 544.7h0.75M132.9 531.7h0.75M131.8 535.3h0.75M104.0 546.2h0.75M131.9 541.3h0.75M103.8 546.7h0.75M101.8 544.0h0.75M128.8 534.6h0.75M131.8 536.7h0.75M98.1 544.7h0.75M111.6 548.9h0.75M114.0 539.0h0.75M104.7 542.7h0.75M111.7 539.6h0.75M97.5 548.7h0.75M107.2 539.4h0.75M114.4 547.2h0.75M103.9 546.0h0.75M113.4 546.4h0.75M118.0 545.2h0.75M120.0 537.2h0.75M105.3 543.3h0.75M111.2 548.9h0.75M118.8 535.3h0.75M106.6 542.3h0.75M110.2 548.4h0.75M126.5 542.9h0.75M100.4 547.7h0.75M132.5 533.8h0.75M111.7 539.0h0.75M131.3 540.0h0.75M97.6 547.0h0.75M122.0 537.2h0.75M130.8 541.1h0.75M123.3 536.8h0.75M100.1 547.0h0.75M107.0 539.3h0.75M101.6 547.9h0.75M112.9 546.3h0.75M118.6 546.5h0.75M132.1 540.6h0.75M102.2 539.9h0.75M127.6 536.0h0.75M117.3 545.5h0.75M127.8 537.0h0.75M108.3 539.6h0.75M114.8 538.2h0.75M117.6 537.7h0.75M124.9 542.8h0.75M102.7 542.6h0.75M106.6 541.1h0.75M133.7 535.7h0.75M129.7 536.5h0.75M104.9 546.8h0.75M102.2 546.9h0.75M105.6 547.5h0.75M102.2 548.2h0.75M111.5 538.3h0.75M127.8 541.2h0.75M112.8 546.9h0.75M132.1 534.3h0.75M120.3 533.6h0.75M131.6 534.8h0.75M115.0 538.7h0.75M116.6 536.2h0.75M99.0 547.4h0.75M123.5 543.6h0.75M98.0 548.9h0.75M118.0 533.6h0.75M133.5 539.1h0.75M121.4 536.2h0.75M130.1 536.1h0.75M113.2 546.7h0.75M120.4 532.3h0.75M98.0 548.2h0.75M128.1 537.8h0.75M129.0 537.1h0.75M133.2 537.9h0.75M120.0 544.7h0.75M126.3 536.3h0.75M101.2 542.9h0.75M126.7 535.3h0.75M133.3 544.0h0.75M133.2 538.7h0.75M108.5 549.1h0.75M105.8 547.8h0.75M123.0 543.7h0.75M132.7 541.2h0.75M113.1 547.9h0.75M123.9 543.9h0.75M125.5 536.5h0.75M97.8 546.3h0.75M132.5 531.9h0.75M102.9 541.3h0.75M105.6 547.2h0.75M122.0 536.4h0.75M107.5 539.0h0.75M97.9 546.7h0.75M109.6 538.8h0.75M126.7 542.6h0.75M115.0 536.7h0.75M128.0 541.0h0.75M111.7 539.3h0.75M128.4 535.4h0.75M115.5 538.4h0.75M104.1 545.3h0.75M97.5 541.3h0.75M128.1 536.4h0.75M105.4 541.6h0.75M102.0 544.9h0.75M142.4 533.8h0.75M129.3 535.5h0.75M128.1 540.8h0.75M131.7 539.4h0.75M107.3 548.9h0.75M96.7 546.2h0.75M117.8 536.2h0.75M107.8 541.9h0.75M134.4 536.3h0.75M109.5 546.9h0.75M117.9 545.0h0.75M129.7 539.6h0.75M109.4 540.8h0.75M128.3 535.0h0.75M102.4 541.6h0.75M134.3 532.5h0.75M131.6 530.7h0.75M102.3 546.9h0.75M130.1 540.6h0.75M108.9 540.4h0.75M137.1 533.9h0.75M115.5 538.1h0.75M106.0 547.7h0.75M104.1 542.5h0.75M107.2 548.0h0.75M125.9 536.0h0.75M103.0 544.7h0.75M102.0 544.9h0.75M123.0 534.5h0.75M128.9 539.3h0.75M119.4 535.7h0.75M96.6 547.2h0.75M131.1 533.6h0.75M104.8 546.5h0.75M127.6 536.0h0.75M111.7 539.7h0.75M132.9 540.9h0.75M122.8 544.8h0.75M130.0 537.2h0.75M132.0 540.8h0.75M99.9 542.5h0.75M112.1 539.7h0.75M135.4 538.1h0.75M96.2 546.2h0.75M131.2 536.5h0.75M116.6 537.4h0.75M103.3 544.6h0.75M118.9 537.7h0.75M124.9 542.4h0.75M118.5 545.6h0.75M100.2 544.0h0.75M99.4 546.3h0.75M97.9 545.6h0.75M97.7 548.6h0.75M125.3 534.7h0.75M133.1 532.5h0.75M127.4 539.6h0.75M102.7 544.8h0.75M122.4 543.7h0.75M101.0 548.9h0.75M122.1 536.6h0.75M130.1 538.6h0.75M112.9 536.0h0.75M118.8 545.1h0.75M102.7 546.1h0.75M129.5 539.6h0.75M133.2 539.2h0.75M97.7 547.8h0.75M104.0 548.3h0.75M126.8 540.8h0.75M108.5 539.4h0.75M109.1 539.4h0.75M123.6 543.0h0.75M124.1 543.0h0.75M108.1 547.5h0.75M115.9 545.7h0.75M102.7 544.7h0.75M108.1 541.7h0.75M120.5 534.1h0.75M124.7 536.5h0.75M114.9 542.7h0.75M113.5 543.2h0.75M111.2 537.2h0.75M121.2 539.4h0.75M150.8 532.7h0.75M119.7 547.8h0.75M99.5 544.3h0.75M107.3 537.9h0.75M131.7 540.7h0.75M132.3 529.5h0.75M119.9 538.4h0.75M121.6 540.7h0.75M97.8 547.1h0.75M124.0 535.5h0.75M118.5 542.2h0.75M117.7 539.8h0.75M99.6 540.8h0.75M114.9 544.9h0.75M99.4 544.6h0.75M107.7 546.5h0.75M110.4 547.2h0.75M132.2 539.9h0.75M131.5 537.3h0.75M131.0 538.2h0.75M110.8 543.6h0.75M104.1 545.9h0.75M123.2 536.5h0.75M131.2 541.5h0.75M101.1 543.1h0.75M112.0 542.6h0.75M127.2 541.9h0.75M135.5 545.4h0.75M130.2 546.5h0.75M118.3 533.7h0.75M115.6 549.0h0.75M126.1 546.2h0.75M110.1 547.5h0.75M121.7 546.7h0.75M114.6 544.8h0.75M125.0 541.9h0.75M101.4 547.7h0.75M117.1 538.3h0.75M116.4 535.4h0.75M121.0 537.9h0.75M127.1 547.7h0.75M127.2 535.9h0.75M108.1 542.6h0.75M110.3 542.6h0.75M124.0 537.8h0.75M120.0 538.3h0.75M128.3 537.8h0.75M132.0 532.4h0.75M123.4 538.3h0.75M102.4 545.6h0.75M131.5 543.9h0.75" stroke="#ff0000" stroke-width="0.75" fill="none"/>
</g>
<rect x="30.5" y="459.3" width="60.1" height="59.6" fill="none" stroke="#7a7a7a" stroke-width="0.6"/>
<line x1="30.5" y1="482.1" x2="90.6" y2="482.1" stroke="#555" stroke-width="0.5"/>
<line x1="44.7" y1="482.1" x2="44.7" y2="518.9" stroke="#555" stroke-width="0.5"/>
<line x1="44.7" y1="482.1" x2="58.3" y2="459.3" stroke="#333" stroke-width="0.5"/>
<line x1="30.5" y1="465.92" x2="31.4" y2="465.92" stroke="#999" stroke-width="0.35"/>
<line x1="37.18" y1="518" x2="37.18" y2="518.9" stroke="#999" stroke-width="0.35"/>
<line x1="30.5" y1="472.54" x2="31.4" y2="472.54" stroke="#999" stroke-width="0.35"/>
<line x1="43.86" y1="518" x2="43.86" y2="518.9" stroke="#999" stroke-width="0.35"/>
<line x1="30.5" y1="479.17" x2="31.4" y2="479.17" stroke="#999" stroke-width="0.35"/>
<line x1="50.53" y1="518" x2="50.53" y2="518.9" stroke="#999" stroke-width="0.35"/>
<line x1="30.5" y1="485.79" x2="31.4" y2="485.79" stroke="#999" stroke-width="0.35"/>
<line x1="57.21" y1="518" x2="57.21" y2="518.9" stroke="#999" stroke-width="0.35"/>
<line x1="30.5" y1="492.41" x2="31.4" y2="492.41" stroke="#999" stroke-width="0.35"/>
<line x1="63.89" y1="518" x2="63.89" y2="518.9" stroke="#999" stroke-width="0.35"/>
<line x1="30.5" y1="499.03" x2="31.4" y2="499.03" stroke="#999" stroke-width="0.35"/>
<line x1="70.57" y1="518" x2="70.57" y2="518.9" stroke="#999" stroke-width="0.35"/>
<line x1="30.5" y1="505.66" x2="31.4" y2="505.66" stroke="#999" stroke-width="0.35"/>
<line x1="77.24" y1="518" x2="77.24" y2="518.9" stroke="#999" stroke-width="0.35"/>
<line x1="30.5" y1="512.28" x2="31.4" y2="512.28" stroke="#999" stroke-width="0.35"/>
<line x1="83.92" y1="518" x2="83.92" y2="518.9" stroke="#999" stroke-width="0.35"/>
<text x="85.6" y="469.86" text-anchor="end" style="font-size:7.6px">0.47%</text>
<rect x="93.1" y="459.3" width="60.3" height="59.6" fill="none" stroke="#7a7a7a" stroke-width="0.6"/>
<line x1="93.1" y1="482.1" x2="153.4" y2="482.1" stroke="#555" stroke-width="0.5"/>
<line x1="107.5" y1="482.1" x2="107.5" y2="518.9" stroke="#555" stroke-width="0.5"/>
<line x1="107.5" y1="482.1" x2="121.5" y2="459.3" stroke="#333" stroke-width="0.5"/>
<line x1="93.1" y1="465.92" x2="94" y2="465.92" stroke="#999" stroke-width="0.35"/>
<line x1="99.8" y1="518" x2="99.8" y2="518.9" stroke="#999" stroke-width="0.35"/>
<line x1="93.1" y1="472.54" x2="94" y2="472.54" stroke="#999" stroke-width="0.35"/>
<line x1="106.5" y1="518" x2="106.5" y2="518.9" stroke="#999" stroke-width="0.35"/>
<line x1="93.1" y1="479.17" x2="94" y2="479.17" stroke="#999" stroke-width="0.35"/>
<line x1="113.2" y1="518" x2="113.2" y2="518.9" stroke="#999" stroke-width="0.35"/>
<line x1="93.1" y1="485.79" x2="94" y2="485.79" stroke="#999" stroke-width="0.35"/>
<line x1="119.9" y1="518" x2="119.9" y2="518.9" stroke="#999" stroke-width="0.35"/>
<line x1="93.1" y1="492.41" x2="94" y2="492.41" stroke="#999" stroke-width="0.35"/>
<line x1="126.6" y1="518" x2="126.6" y2="518.9" stroke="#999" stroke-width="0.35"/>
<line x1="93.1" y1="499.03" x2="94" y2="499.03" stroke="#999" stroke-width="0.35"/>
<line x1="133.3" y1="518" x2="133.3" y2="518.9" stroke="#999" stroke-width="0.35"/>
<line x1="93.1" y1="505.66" x2="94" y2="505.66" stroke="#999" stroke-width="0.35"/>
<line x1="140" y1="518" x2="140" y2="518.9" stroke="#999" stroke-width="0.35"/>
<line x1="93.1" y1="512.28" x2="94" y2="512.28" stroke="#999" stroke-width="0.35"/>
<line x1="146.7" y1="518" x2="146.7" y2="518.9" stroke="#999" stroke-width="0.35"/>
<text x="148.2" y="469.86" text-anchor="end" style="font-size:7.6px">26.37%</text>
<rect x="30.5" y="525.6" width="60.1" height="60.3" fill="none" stroke="#7a7a7a" stroke-width="0.6"/>
<line x1="30.5" y1="549.1" x2="90.6" y2="549.1" stroke="#555" stroke-width="0.5"/>
<line x1="45.4" y1="549.1" x2="45.4" y2="585.9" stroke="#555" stroke-width="0.5"/>
<line x1="45.4" y1="549.1" x2="55.8" y2="526.8" stroke="#333" stroke-width="0.5"/>
<line x1="30.5" y1="532.3" x2="31.4" y2="532.3" stroke="#999" stroke-width="0.35"/>
<line x1="37.18" y1="585" x2="37.18" y2="585.9" stroke="#999" stroke-width="0.35"/>
<line x1="30.5" y1="539" x2="31.4" y2="539" stroke="#999" stroke-width="0.35"/>
<line x1="43.86" y1="585" x2="43.86" y2="585.9" stroke="#999" stroke-width="0.35"/>
<line x1="30.5" y1="545.7" x2="31.4" y2="545.7" stroke="#999" stroke-width="0.35"/>
<line x1="50.53" y1="585" x2="50.53" y2="585.9" stroke="#999" stroke-width="0.35"/>
<line x1="30.5" y1="552.4" x2="31.4" y2="552.4" stroke="#999" stroke-width="0.35"/>
<line x1="57.21" y1="585" x2="57.21" y2="585.9" stroke="#999" stroke-width="0.35"/>
<line x1="30.5" y1="559.1" x2="31.4" y2="559.1" stroke="#999" stroke-width="0.35"/>
<line x1="63.89" y1="585" x2="63.89" y2="585.9" stroke="#999" stroke-width="0.35"/>
<line x1="30.5" y1="565.8" x2="31.4" y2="565.8" stroke="#999" stroke-width="0.35"/>
<line x1="70.57" y1="585" x2="70.57" y2="585.9" stroke="#999" stroke-width="0.35"/>
<line x1="30.5" y1="572.5" x2="31.4" y2="572.5" stroke="#999" stroke-width="0.35"/>
<line x1="77.24" y1="585" x2="77.24" y2="585.9" stroke="#999" stroke-width="0.35"/>
<line x1="30.5" y1="579.2" x2="31.4" y2="579.2" stroke="#999" stroke-width="0.35"/>
<line x1="83.92" y1="585" x2="83.92" y2="585.9" stroke="#999" stroke-width="0.35"/>
<text x="87.4" y="536.86" text-anchor="end" style="font-size:7.6px">0.29%</text>
<rect x="93.1" y="525.6" width="60.3" height="60.3" fill="none" stroke="#7a7a7a" stroke-width="0.6"/>
<line x1="93.1" y1="549.1" x2="153.4" y2="549.1" stroke="#555" stroke-width="0.5"/>
<line x1="108" y1="549.1" x2="108" y2="585.9" stroke="#555" stroke-width="0.5"/>
<line x1="108" y1="549.1" x2="120" y2="526.8" stroke="#333" stroke-width="0.5"/>
<line x1="93.1" y1="532.3" x2="94" y2="532.3" stroke="#999" stroke-width="0.35"/>
<line x1="99.8" y1="585" x2="99.8" y2="585.9" stroke="#999" stroke-width="0.35"/>
<line x1="93.1" y1="539" x2="94" y2="539" stroke="#999" stroke-width="0.35"/>
<line x1="106.5" y1="585" x2="106.5" y2="585.9" stroke="#999" stroke-width="0.35"/>
<line x1="93.1" y1="545.7" x2="94" y2="545.7" stroke="#999" stroke-width="0.35"/>
<line x1="113.2" y1="585" x2="113.2" y2="585.9" stroke="#999" stroke-width="0.35"/>
<line x1="93.1" y1="552.4" x2="94" y2="552.4" stroke="#999" stroke-width="0.35"/>
<line x1="119.9" y1="585" x2="119.9" y2="585.9" stroke="#999" stroke-width="0.35"/>
<line x1="93.1" y1="559.1" x2="94" y2="559.1" stroke="#999" stroke-width="0.35"/>
<line x1="126.6" y1="585" x2="126.6" y2="585.9" stroke="#999" stroke-width="0.35"/>
<line x1="93.1" y1="565.8" x2="94" y2="565.8" stroke="#999" stroke-width="0.35"/>
<line x1="133.3" y1="585" x2="133.3" y2="585.9" stroke="#999" stroke-width="0.35"/>
<line x1="93.1" y1="572.5" x2="94" y2="572.5" stroke="#999" stroke-width="0.35"/>
<line x1="140" y1="585" x2="140" y2="585.9" stroke="#999" stroke-width="0.35"/>
<line x1="93.1" y1="579.2" x2="94" y2="579.2" stroke="#999" stroke-width="0.35"/>
<line x1="146.7" y1="585" x2="146.7" y2="585.9" stroke="#999" stroke-width="0.35"/>
<text x="150.7" y="536.86" text-anchor="end" style="font-size:7.6px">65.99%</text>
<line x1="24.8" y1="498.3" x2="24.8" y2="464" stroke="#000" stroke-width="1.2"/>
<path d="M22.8 465.6L26.8 465.6L24.8 461Z" fill="#000"/>
<line x1="24.8" y1="565.3" x2="24.8" y2="529.8" stroke="#000" stroke-width="1.2"/>
<path d="M22.8 531.4L26.8 531.4L24.8 526.8Z" fill="#000"/>
<text x="24.8" y="512.87" text-anchor="middle" style="font-size:8.2px" transform="rotate(-90 24.8 510)">CD4</text>
<text x="24.8" y="580.57" text-anchor="middle" style="font-size:8.2px" transform="rotate(-90 24.8 577.7)">CD8</text>
<text x="32.8" y="596.54" style="font-size:8.4px">IFNγ</text>
<line x1="59.6" y1="592.6" x2="148.9" y2="592.6" stroke="#000" stroke-width="1.2"/>
<path d="M147.3 590.6L147.3 594.6L151.9 592.6Z" fill="#000"/>
<text x="175.5" y="454.3" style="font-size:13.6px;font-weight:bold;fill:#000">h</text>
<text x="215.85" y="457.87" text-anchor="middle" style="font-size:8.2px">Control</text>
<text x="278.25" y="457.87" text-anchor="middle" style="font-size:8.2px">TAA mix</text>
<clipPath id="cph0"><rect x="186.1" y="459" width="59.5" height="23.9"/></clipPath>
<g clip-path="url(#cph0)">
<ellipse cx="196.5" cy="474.8" rx="13.87" ry="7.79" fill="url(#rgB)" transform="rotate(-38 196.5 474.8)"/>
<path d="M204.5 466.4h0.75M195.8 481.1h0.75M205.1 475.7h0.75M203.4 473.5h0.75M195.9 480.6h0.75M198.4 469.1h0.75M189.9 475.9h0.75M201.4 475.8h0.75M203.1 472.9h0.75M195.7 468.0h0.75M189.2 474.0h0.75M189.4 478.6h0.75M206.2 460.0h0.75M203.5 471.9h0.75M192.4 472.3h0.75M190.3 478.1h0.75M197.8 468.4h0.75M199.3 465.8h0.75M188.6 480.0h0.75M203.0 472.7h0.75M187.4 477.8h0.75M187.8 475.6h0.75M203.7 469.6h0.75M206.9 470.4h0.75M194.7 470.5h0.75M199.2 481.5h0.75M193.7 467.8h0.75M191.0 473.4h0.75M205.0 473.2h0.75M196.3 467.8h0.75M202.7 468.9h0.75M202.0 469.1h0.75M199.7 477.7h0.75M202.0 475.1h0.75M206.8 474.3h0.75M200.5 479.5h0.75M197.1 468.2h0.75M197.8 479.3h0.75M203.8 469.4h0.75M202.1 470.1h0.75M191.6 482.0h0.75M188.6 474.4h0.75M189.3 479.7h0.75M188.7 474.5h0.75M201.1 466.7h0.75M204.0 466.7h0.75M196.6 470.0h0.75M201.3 469.2h0.75M195.0 469.2h0.75M195.8 481.0h0.75M206.6 468.5h0.75M190.2 477.0h0.75M206.0 477.3h0.75M200.7 477.9h0.75M189.4 481.6h0.75M192.4 470.2h0.75M200.2 469.0h0.75M202.4 474.8h0.75M193.3 470.8h0.75M191.6 473.3h0.75M202.6 468.4h0.75M196.9 480.7h0.75M189.3 480.5h0.75M188.5 474.7h0.75M207.3 467.7h0.75M189.3 472.6h0.75M198.4 465.6h0.75M201.2 462.5h0.75M188.1 477.2h0.75M190.2 477.5h0.75M206.1 473.9h0.75M202.7 468.5h0.75M198.7 467.0h0.75M189.8 473.5h0.75M199.2 480.0h0.75M199.3 465.3h0.75M187.9 474.2h0.75M186.9 475.6h0.75M190.5 473.2h0.75M197.9 468.6h0.75M200.3 477.6h0.75M186.7 479.5h0.75M186.9 476.6h0.75M204.2 474.6h0.75M198.1 478.9h0.75M198.5 469.2h0.75M193.1 480.4h0.75M190.9 474.5h0.75M203.2 468.3h0.75M200.0 467.1h0.75M202.5 469.1h0.75M195.7 469.8h0.75M201.7 469.0h0.75M199.4 468.0h0.75M188.5 468.2h0.75M191.0 479.4h0.75M192.0 481.4h0.75M198.4 467.6h0.75M201.1 478.7h0.75M203.6 470.5h0.75M192.3 472.1h0.75M197.8 468.0h0.75M189.2 478.8h0.75M199.0 478.4h0.75M189.3 475.0h0.75M191.2 481.1h0.75M187.9 471.9h0.75M203.8 467.8h0.75M203.1 470.4h0.75M193.0 480.9h0.75M207.9 469.7h0.75M191.6 482.2h0.75M193.6 481.2h0.75M190.1 475.9h0.75M201.5 467.3h0.75M201.3 467.2h0.75M207.1 466.5h0.75M191.6 481.6h0.75M208.7 471.4h0.75M196.7 480.6h0.75M191.6 469.3h0.75M196.9 469.8h0.75M199.1 463.0h0.75M192.8 477.6h0.75M211.7 477.2h0.75M201.6 475.1h0.75M196.0 468.4h0.75M197.9 468.5h0.75M202.8 478.2h0.75M193.5 467.6h0.75M215.6 471.1h0.75M206.8 467.2h0.75M193.2 481.5h0.75M206.0 467.3h0.75M200.1 478.3h0.75M195.1 462.3h0.75M195.8 469.5h0.75M190.0 460.1h0.75M196.1 463.9h0.75M192.1 467.1h0.75M201.1 464.4h0.75M191.0 470.6h0.75M209.3 468.4h0.75M201.0 477.9h0.75M216.6 462.5h0.75M199.6 480.4h0.75M207.1 474.8h0.75M195.6 464.7h0.75M195.5 464.5h0.75M209.8 463.2h0.75M203.3 472.2h0.75M208.6 462.7h0.75M186.9 472.9h0.75M196.6 467.7h0.75M205.2 477.5h0.75M198.0 480.9h0.75" stroke="#0000ff" stroke-width="0.75" fill="none"/>
</g>
<clipPath id="cph1"><rect x="248.1" y="459" width="60.3" height="23.9"/></clipPath>
<g clip-path="url(#cph1)">
<ellipse cx="259" cy="475.5" rx="11.78" ry="8.74" fill="url(#rgB)" transform="rotate(-15 259 475.5)"/>
<ellipse cx="274" cy="471.5" rx="13.3" ry="6.27" fill="url(#rgB)" transform="rotate(-22 274 471.5)" opacity="0.8"/>
<ellipse cx="286" cy="467" rx="7.6" ry="4.56" fill="url(#rgB)" transform="rotate(-25 286 467)" opacity="0.65"/>
<path d="M265.3 471.8h0.75M263.2 471.2h0.75M256.7 480.2h0.75M262.6 480.0h0.75M251.4 478.2h0.75M254.7 481.7h0.75M259.7 469.3h0.75M262.0 480.5h0.75M268.3 477.9h0.75M265.2 475.0h0.75M253.0 477.4h0.75M252.6 472.3h0.75M267.8 475.3h0.75M257.4 482.1h0.75M250.6 472.6h0.75M267.6 472.6h0.75M252.6 476.7h0.75M253.1 478.6h0.75M260.1 468.0h0.75M260.1 481.2h0.75M264.9 475.9h0.75M252.5 467.8h0.75M262.9 470.6h0.75M267.2 471.6h0.75M266.2 474.9h0.75M255.1 480.1h0.75M253.1 474.7h0.75M253.0 478.7h0.75M265.1 475.5h0.75M264.5 478.6h0.75M264.4 470.7h0.75M250.7 473.7h0.75M251.3 474.2h0.75M265.2 476.7h0.75M265.2 476.8h0.75M265.4 470.4h0.75M252.7 478.4h0.75M250.2 475.7h0.75M264.0 470.8h0.75M251.7 470.4h0.75M265.7 472.5h0.75M251.9 476.6h0.75M265.0 477.5h0.75M252.9 472.3h0.75M263.8 466.4h0.75M254.2 470.2h0.75M260.5 470.3h0.75M266.8 476.6h0.75M263.3 468.1h0.75M265.8 477.3h0.75M259.5 469.9h0.75M255.8 480.4h0.75M249.9 476.9h0.75M260.4 479.9h0.75M261.2 480.0h0.75M266.5 471.4h0.75M252.2 477.0h0.75M257.8 468.2h0.75M253.7 473.3h0.75M268.1 475.9h0.75M261.9 482.1h0.75M258.7 470.9h0.75M249.9 477.9h0.75M250.4 481.4h0.75M252.5 474.2h0.75M252.8 480.1h0.75M267.6 478.2h0.75M258.0 481.9h0.75M254.1 481.2h0.75M250.3 474.8h0.75M250.2 468.6h0.75M250.9 474.8h0.75M262.0 471.0h0.75M264.9 473.5h0.75M264.4 468.4h0.75M253.4 478.6h0.75M267.4 482.2h0.75M267.4 474.4h0.75M254.9 479.5h0.75M256.6 481.8h0.75M260.5 470.6h0.75M252.8 463.4h0.75M255.5 479.7h0.75M252.2 473.9h0.75M257.6 466.8h0.75M255.1 482.2h0.75M253.1 477.8h0.75M264.3 469.9h0.75M251.4 477.1h0.75M252.6 473.4h0.75M252.2 476.0h0.75M251.2 476.3h0.75M262.8 471.3h0.75M263.2 466.9h0.75M250.6 473.1h0.75M265.4 476.8h0.75M259.7 480.6h0.75M267.2 478.2h0.75M265.0 472.9h0.75M255.2 472.4h0.75M267.2 473.0h0.75M267.5 476.6h0.75M252.9 476.3h0.75M251.6 479.5h0.75M262.0 471.1h0.75M253.8 472.2h0.75M264.6 470.7h0.75M264.9 473.3h0.75M265.0 477.7h0.75M258.2 469.4h0.75M270.3 468.9h0.75M252.7 474.7h0.75M252.0 474.2h0.75M258.3 471.0h0.75M254.2 479.9h0.75M253.6 474.1h0.75M260.5 480.2h0.75M262.8 468.4h0.75M260.3 470.7h0.75M250.4 475.5h0.75M254.7 472.0h0.75M267.2 470.6h0.75M265.5 471.4h0.75M257.2 481.5h0.75M251.1 476.0h0.75M253.8 471.6h0.75M256.3 467.4h0.75M254.8 481.0h0.75M262.8 471.3h0.75M278.3 467.2h0.75M278.3 472.8h0.75M270.4 476.9h0.75M277.8 465.2h0.75M271.2 468.5h0.75M277.0 478.8h0.75M258.2 476.2h0.75M282.2 472.3h0.75M263.1 471.1h0.75M281.8 468.8h0.75M276.4 466.0h0.75M279.0 472.6h0.75M266.6 476.9h0.75M276.4 474.5h0.75M267.5 472.1h0.75M281.6 471.5h0.75M269.5 477.0h0.75M273.3 468.1h0.75M266.7 474.6h0.75M285.4 462.2h0.75M277.0 467.2h0.75M279.6 466.3h0.75M264.9 474.4h0.75M278.9 467.7h0.75M266.2 472.9h0.75M264.9 474.6h0.75M283.9 474.7h0.75M268.4 469.3h0.75M284.4 466.4h0.75M281.6 468.4h0.75M285.0 469.4h0.75M270.6 477.0h0.75M263.9 475.4h0.75M280.1 468.0h0.75M269.8 477.5h0.75M262.5 481.4h0.75M284.2 468.3h0.75M279.4 472.0h0.75M279.7 466.9h0.75M267.1 473.0h0.75M280.9 466.7h0.75M275.4 474.8h0.75M263.3 472.3h0.75M283.2 467.9h0.75M278.6 472.7h0.75M283.2 471.3h0.75M282.6 465.7h0.75M265.8 470.6h0.75M275.7 462.9h0.75M276.0 466.2h0.75M279.9 467.9h0.75M266.7 476.0h0.75M269.6 475.4h0.75M285.1 471.9h0.75M274.9 479.8h0.75M281.4 468.0h0.75M279.9 465.8h0.75M267.7 475.3h0.75M269.6 478.1h0.75M282.1 472.8h0.75M281.8 469.1h0.75M261.3 475.5h0.75M275.6 476.1h0.75M279.6 467.4h0.75M281.1 470.9h0.75M275.4 466.4h0.75M271.2 475.6h0.75M283.9 465.2h0.75M274.6 466.9h0.75M278.2 475.1h0.75M274.4 475.7h0.75M281.0 470.1h0.75M279.1 473.2h0.75M280.3 466.9h0.75M279.8 467.4h0.75M272.5 466.7h0.75M269.3 475.6h0.75M276.2 464.1h0.75M267.7 471.8h0.75M276.0 474.4h0.75M261.4 473.5h0.75M268.2 471.2h0.75M266.2 474.0h0.75M267.0 477.6h0.75M268.0 475.5h0.75M272.4 477.5h0.75M287.5 469.5h0.75M293.9 464.5h0.75M287.4 470.5h0.75M278.8 469.2h0.75M288.4 464.4h0.75M287.8 470.1h0.75M290.6 463.6h0.75M287.7 462.8h0.75M290.3 465.7h0.75M288.3 464.1h0.75M289.8 467.7h0.75M291.5 466.1h0.75M295.5 464.6h0.75M284.4 464.1h0.75M279.1 469.0h0.75M291.4 465.6h0.75M282.4 468.9h0.75M286.4 471.1h0.75M285.2 464.2h0.75M287.4 463.3h0.75M282.2 468.6h0.75M283.9 470.3h0.75M288.4 468.8h0.75M287.1 470.4h0.75M288.5 463.0h0.75M284.8 470.5h0.75M292.0 464.7h0.75M287.8 469.5h0.75M282.6 469.2h0.75M280.2 471.0h0.75M290.9 464.1h0.75M290.6 467.2h0.75M289.6 466.6h0.75M278.8 474.3h0.75M282.6 465.2h0.75M262.7 472.0h0.75M248.8 474.0h0.75M290.0 477.0h0.75M285.6 471.8h0.75M282.8 459.8h0.75M262.9 473.9h0.75M286.6 464.2h0.75M290.0 461.4h0.75M255.6 468.2h0.75M276.7 467.4h0.75M256.1 472.8h0.75M274.5 466.7h0.75M282.0 482.1h0.75M288.7 477.5h0.75M276.3 472.5h0.75M297.3 467.8h0.75M294.3 460.6h0.75M281.0 471.0h0.75M279.0 471.5h0.75M267.5 466.9h0.75M259.7 476.7h0.75M281.5 479.7h0.75M281.9 481.2h0.75M283.1 465.1h0.75M259.2 472.6h0.75M285.3 473.0h0.75M250.4 475.8h0.75M275.2 471.5h0.75M274.9 473.4h0.75M272.9 475.6h0.75M285.9 460.2h0.75M287.7 475.2h0.75M263.8 473.0h0.75M272.4 462.7h0.75M264.0 472.1h0.75M287.0 462.7h0.75" stroke="#0000ff" stroke-width="0.75" fill="none"/>
</g>
<clipPath id="cph2"><rect x="186.1" y="527.3" width="59.5" height="23.9"/></clipPath>
<g clip-path="url(#cph2)">
<ellipse cx="197" cy="542.5" rx="14.44" ry="8.17" fill="url(#rgR)" transform="rotate(-36 197 542.5)"/>
<path d="M196.6 547.6h0.75M194.8 538.7h0.75M198.6 531.3h0.75M202.3 544.6h0.75M190.1 548.7h0.75M202.5 543.5h0.75M204.3 542.8h0.75M211.7 540.7h0.75M206.5 533.1h0.75M207.1 536.2h0.75M205.3 545.6h0.75M189.1 530.8h0.75M187.9 546.4h0.75M191.4 541.9h0.75M200.1 545.7h0.75M192.5 538.6h0.75M204.7 538.3h0.75M188.7 548.9h0.75M206.3 540.5h0.75M204.6 539.5h0.75M187.0 544.7h0.75M188.0 545.7h0.75M207.2 536.5h0.75M203.0 542.2h0.75M190.4 540.1h0.75M212.1 531.4h0.75M198.6 536.7h0.75M197.0 549.3h0.75M195.0 536.8h0.75M205.1 536.7h0.75M190.6 543.6h0.75M203.1 534.2h0.75M198.5 547.2h0.75M196.8 548.8h0.75M202.0 549.3h0.75M206.5 541.5h0.75M203.6 544.1h0.75M189.7 546.9h0.75M192.2 548.3h0.75M201.5 536.6h0.75M191.6 542.1h0.75M189.8 544.3h0.75M190.1 549.2h0.75M196.0 549.3h0.75M204.5 538.6h0.75M202.5 544.4h0.75M194.1 539.3h0.75M190.0 544.1h0.75M206.3 538.5h0.75M191.9 538.2h0.75M205.9 544.1h0.75M203.7 541.5h0.75M208.5 537.8h0.75M199.7 536.9h0.75M204.4 541.1h0.75M190.8 531.7h0.75M200.1 550.5h0.75M203.6 540.9h0.75M205.5 535.1h0.75M192.6 535.0h0.75M195.1 537.5h0.75M190.1 544.9h0.75M208.2 540.9h0.75M198.6 536.3h0.75M190.9 538.5h0.75M204.5 539.7h0.75M197.4 536.8h0.75M201.9 543.7h0.75M189.6 545.8h0.75M200.2 546.8h0.75M190.4 541.9h0.75M202.4 543.4h0.75M190.7 547.0h0.75M204.6 542.5h0.75M190.0 538.8h0.75M196.1 535.5h0.75M199.1 536.5h0.75M189.8 544.8h0.75M205.3 542.4h0.75M203.0 535.8h0.75M202.0 529.3h0.75M204.6 548.1h0.75M196.4 537.8h0.75M192.2 548.1h0.75M202.1 546.0h0.75M202.4 544.5h0.75M201.9 544.6h0.75M187.3 547.2h0.75M206.9 541.7h0.75M194.9 538.5h0.75M210.0 538.0h0.75M191.6 550.1h0.75M197.0 548.6h0.75M197.3 547.9h0.75M203.5 546.5h0.75M201.5 544.7h0.75M211.5 534.3h0.75M206.9 535.9h0.75M204.1 536.7h0.75M189.0 540.9h0.75M197.6 547.8h0.75M200.1 534.9h0.75M197.8 547.4h0.75M202.0 543.8h0.75M191.0 541.0h0.75M198.2 547.5h0.75M187.6 542.2h0.75M190.3 541.0h0.75M203.4 544.0h0.75M191.9 540.9h0.75M197.1 532.9h0.75M201.9 535.6h0.75M188.5 550.0h0.75M196.3 537.1h0.75M194.0 536.6h0.75M188.6 550.2h0.75M188.9 547.6h0.75M196.9 537.1h0.75M206.0 536.9h0.75M195.8 548.9h0.75M206.2 528.5h0.75M209.8 536.6h0.75M191.7 547.7h0.75M205.5 545.6h0.75M190.9 547.7h0.75M208.7 536.6h0.75M191.5 550.3h0.75M209.6 536.1h0.75M197.8 536.3h0.75M203.1 545.1h0.75M204.3 540.4h0.75M206.2 543.6h0.75M189.4 546.6h0.75M189.4 540.5h0.75M195.6 542.6h0.75M212.3 533.0h0.75M197.5 549.2h0.75M192.8 537.6h0.75M203.7 538.5h0.75M188.7 540.8h0.75M191.6 545.6h0.75M194.7 535.1h0.75M190.6 539.2h0.75M190.5 543.7h0.75M194.5 548.8h0.75M195.6 544.7h0.75M194.3 539.3h0.75M195.5 536.3h0.75M210.5 529.7h0.75M204.7 539.6h0.75M196.0 540.7h0.75M197.0 544.0h0.75M210.2 535.3h0.75M201.1 535.4h0.75M193.6 545.2h0.75M206.3 546.8h0.75M200.3 538.9h0.75M201.9 535.9h0.75M201.0 539.8h0.75M206.8 530.1h0.75M196.4 542.9h0.75M200.0 536.0h0.75M194.7 548.9h0.75M189.7 545.6h0.75M201.7 535.4h0.75M196.1 540.9h0.75M203.5 539.2h0.75M189.1 536.9h0.75M197.0 536.4h0.75" stroke="#ff0000" stroke-width="0.75" fill="none"/>
</g>
<clipPath id="cph3"><rect x="248.1" y="527.3" width="60.3" height="23.9"/></clipPath>
<g clip-path="url(#cph3)">
<ellipse cx="269" cy="539.5" rx="24.7" ry="7.22" fill="url(#rgR)" transform="rotate(-17 269 539.5)"/>
<path d="M283.4 529.9h0.75M283.9 540.3h0.75M276.4 534.0h0.75M277.3 533.5h0.75M257.2 548.5h0.75M276.3 533.1h0.75M251.3 545.1h0.75M256.1 542.3h0.75M261.2 546.3h0.75M255.8 544.6h0.75M278.9 542.3h0.75M265.0 536.0h0.75M285.1 538.8h0.75M259.0 539.8h0.75M272.9 546.8h0.75M274.6 533.2h0.75M255.6 544.0h0.75M256.9 545.4h0.75M272.8 533.7h0.75M283.3 540.4h0.75M265.1 533.2h0.75M256.1 537.7h0.75M275.4 533.8h0.75M271.9 543.0h0.75M254.4 545.1h0.75M277.5 543.5h0.75M255.0 543.7h0.75M264.9 545.6h0.75M258.8 538.5h0.75M262.3 545.7h0.75M283.2 534.7h0.75M285.8 534.2h0.75M255.8 544.2h0.75M269.1 547.1h0.75M267.9 532.9h0.75M254.4 543.6h0.75M260.2 538.0h0.75M269.1 545.4h0.75M257.4 548.1h0.75M254.6 542.7h0.75M250.8 539.5h0.75M283.3 536.8h0.75M259.2 539.1h0.75M256.5 543.2h0.75M258.1 548.2h0.75M269.8 545.0h0.75M261.5 537.8h0.75M270.2 535.1h0.75M272.0 542.5h0.75M272.6 543.0h0.75M265.2 534.5h0.75M275.6 533.5h0.75M286.0 535.6h0.75M281.8 533.1h0.75M280.2 532.4h0.75M272.5 543.7h0.75M262.4 544.8h0.75M268.6 546.0h0.75M264.5 536.4h0.75M250.3 540.4h0.75M257.6 544.8h0.75M275.6 534.3h0.75M275.9 541.4h0.75M252.0 548.8h0.75M256.0 540.4h0.75M249.7 548.6h0.75M279.8 541.6h0.75M256.4 541.0h0.75M274.3 541.7h0.75M268.2 546.0h0.75M282.2 534.6h0.75M259.7 548.7h0.75M254.4 543.8h0.75M253.3 536.8h0.75M276.3 541.4h0.75M261.3 545.3h0.75M261.8 546.9h0.75M255.8 538.5h0.75M271.1 532.6h0.75M258.0 547.4h0.75M270.9 535.1h0.75M257.6 538.2h0.75M253.1 544.3h0.75M280.5 533.3h0.75M279.2 533.0h0.75M294.3 534.0h0.75M265.9 545.3h0.75M258.5 544.9h0.75M279.3 543.1h0.75M259.1 546.4h0.75M281.7 536.4h0.75M276.5 534.1h0.75M253.8 538.1h0.75M267.1 546.1h0.75M264.6 536.9h0.75M259.7 544.9h0.75M268.5 544.1h0.75M285.7 535.3h0.75M253.7 542.7h0.75M277.4 534.0h0.75M253.9 536.8h0.75M255.2 538.3h0.75M280.6 539.3h0.75M280.8 538.6h0.75M276.8 531.8h0.75M280.3 538.0h0.75M265.9 544.5h0.75M268.3 533.3h0.75M288.6 529.4h0.75M289.3 532.0h0.75M271.8 533.5h0.75M259.9 544.7h0.75M254.0 543.3h0.75M285.8 534.4h0.75M251.7 542.8h0.75M256.9 539.2h0.75M265.7 536.7h0.75M264.7 545.4h0.75M256.1 547.7h0.75M273.1 543.5h0.75M278.8 530.6h0.75M258.1 540.3h0.75M249.9 547.2h0.75M261.4 538.2h0.75M277.7 542.5h0.75M256.4 545.6h0.75M280.5 540.4h0.75M261.0 537.5h0.75M281.9 537.7h0.75M255.8 539.5h0.75M264.0 545.4h0.75M260.2 536.9h0.75M253.4 542.6h0.75M255.7 539.2h0.75M254.0 546.3h0.75M265.1 545.5h0.75M285.1 533.3h0.75M253.3 543.7h0.75M278.0 532.7h0.75M262.9 546.7h0.75M254.9 541.9h0.75M277.5 543.3h0.75M259.5 539.0h0.75M278.2 532.7h0.75M274.5 533.5h0.75M261.9 536.2h0.75M286.6 533.6h0.75M264.8 536.6h0.75M260.2 535.8h0.75M284.7 534.6h0.75M254.0 545.7h0.75M268.3 533.5h0.75M275.5 533.7h0.75M252.9 546.3h0.75M254.1 543.3h0.75M280.5 538.9h0.75M263.0 548.1h0.75M289.1 536.4h0.75M258.4 545.5h0.75M251.2 544.0h0.75M260.7 546.7h0.75M269.7 543.5h0.75M257.0 541.5h0.75M282.4 534.3h0.75M277.5 530.8h0.75M262.0 536.8h0.75M284.4 539.6h0.75M277.9 533.7h0.75M260.6 545.8h0.75M257.3 548.3h0.75M249.6 540.9h0.75M274.8 544.5h0.75M280.5 538.4h0.75M291.0 530.6h0.75M289.1 532.3h0.75M282.3 534.8h0.75M280.5 534.9h0.75M280.1 540.7h0.75M269.0 545.1h0.75M274.8 534.4h0.75M260.1 538.0h0.75M277.7 530.6h0.75M255.0 541.6h0.75M251.6 540.0h0.75M257.3 538.0h0.75M272.5 531.1h0.75M272.1 544.5h0.75M277.9 539.7h0.75M271.4 542.8h0.75M282.1 531.6h0.75M265.6 532.9h0.75M268.5 534.7h0.75M263.6 532.1h0.75M255.2 538.0h0.75M276.9 542.0h0.75M256.6 545.5h0.75M256.4 542.8h0.75M262.6 546.0h0.75M254.4 542.6h0.75M270.0 543.3h0.75M255.1 539.8h0.75M274.0 533.9h0.75M277.8 532.0h0.75M273.3 533.4h0.75M254.0 545.6h0.75M254.7 542.6h0.75M286.0 537.4h0.75M291.3 532.0h0.75M282.2 535.4h0.75M254.2 539.4h0.75M271.0 534.2h0.75M269.4 543.5h0.75M278.0 543.0h0.75M257.3 544.3h0.75M254.8 545.3h0.75M251.4 545.5h0.75M251.1 541.2h0.75M261.4 548.9h0.75M286.1 531.6h0.75M255.5 545.3h0.75M271.6 543.1h0.75M256.1 542.3h0.75M252.1 544.5h0.75M273.8 544.5h0.75M292.1 533.7h0.75M263.3 546.4h0.75M292.9 539.7h0.75M297.7 529.0h0.75M254.6 545.5h0.75M250.6 546.3h0.75M255.9 547.8h0.75M281.9 540.1h0.75M257.6 545.9h0.75M268.4 534.4h0.75M265.4 533.4h0.75M259.8 546.2h0.75M275.9 533.8h0.75M286.1 533.5h0.75M253.3 544.4h0.75M285.2 536.3h0.75M282.0 541.0h0.75M254.5 538.7h0.75M283.1 530.3h0.75M255.0 542.9h0.75M269.4 533.6h0.75M273.6 532.0h0.75M276.1 533.7h0.75M286.2 538.8h0.75M252.7 546.0h0.75M266.9 544.6h0.75M281.4 538.2h0.75M254.1 541.7h0.75M256.9 538.3h0.75M264.2 545.0h0.75M283.3 535.0h0.75M287.7 533.1h0.75M296.6 531.4h0.75M283.8 536.8h0.75M279.0 539.1h0.75M283.5 534.9h0.75M265.3 534.5h0.75M253.0 544.2h0.75M249.6 544.9h0.75M272.3 534.7h0.75M262.1 544.2h0.75M274.3 537.5h0.75M271.4 545.2h0.75M284.5 538.4h0.75M254.4 543.2h0.75M264.1 549.3h0.75M276.7 534.5h0.75M287.2 530.3h0.75M258.6 543.8h0.75M261.3 543.8h0.75M262.6 544.3h0.75M280.7 547.8h0.75M282.9 533.4h0.75M259.4 548.8h0.75M269.0 537.4h0.75M281.8 547.6h0.75M281.6 532.5h0.75M260.1 543.9h0.75M284.7 532.8h0.75M270.3 539.5h0.75M278.9 531.3h0.75M271.4 538.5h0.75M255.4 550.3h0.75M264.0 547.6h0.75M263.8 539.6h0.75M259.1 538.1h0.75M266.4 537.0h0.75M269.6 531.4h0.75M274.7 531.1h0.75M282.4 539.0h0.75M271.8 532.4h0.75M286.4 533.8h0.75M285.3 537.0h0.75M270.5 539.9h0.75M272.4 538.4h0.75M292.4 550.6h0.75M266.3 542.1h0.75M255.7 548.5h0.75M270.9 531.8h0.75M264.3 541.1h0.75M280.2 536.0h0.75M266.8 539.5h0.75M279.9 542.4h0.75M289.9 536.2h0.75M288.0 530.7h0.75M267.7 538.3h0.75M274.5 541.0h0.75M277.4 542.7h0.75M260.2 541.5h0.75M257.6 537.9h0.75M289.8 535.5h0.75M283.0 529.0h0.75M277.0 544.5h0.75M272.1 541.7h0.75M271.9 531.4h0.75" stroke="#ff0000" stroke-width="0.75" fill="none"/>
</g>
<rect x="186.1" y="459" width="59.5" height="59.6" fill="none" stroke="#7a7a7a" stroke-width="0.6"/>
<line x1="186.1" y1="482.1" x2="245.6" y2="482.1" stroke="#555" stroke-width="0.5"/>
<line x1="198.5" y1="482.1" x2="198.5" y2="518.6" stroke="#555" stroke-width="0.5"/>
<line x1="198.5" y1="482.1" x2="214" y2="459" stroke="#333" stroke-width="0.5"/>
<line x1="186.1" y1="465.62" x2="187" y2="465.62" stroke="#999" stroke-width="0.35"/>
<line x1="192.71" y1="517.7" x2="192.71" y2="518.6" stroke="#999" stroke-width="0.35"/>
<line x1="186.1" y1="472.24" x2="187" y2="472.24" stroke="#999" stroke-width="0.35"/>
<line x1="199.32" y1="517.7" x2="199.32" y2="518.6" stroke="#999" stroke-width="0.35"/>
<line x1="186.1" y1="478.87" x2="187" y2="478.87" stroke="#999" stroke-width="0.35"/>
<line x1="205.93" y1="517.7" x2="205.93" y2="518.6" stroke="#999" stroke-width="0.35"/>
<line x1="186.1" y1="485.49" x2="187" y2="485.49" stroke="#999" stroke-width="0.35"/>
<line x1="212.54" y1="517.7" x2="212.54" y2="518.6" stroke="#999" stroke-width="0.35"/>
<line x1="186.1" y1="492.11" x2="187" y2="492.11" stroke="#999" stroke-width="0.35"/>
<line x1="219.16" y1="517.7" x2="219.16" y2="518.6" stroke="#999" stroke-width="0.35"/>
<line x1="186.1" y1="498.73" x2="187" y2="498.73" stroke="#999" stroke-width="0.35"/>
<line x1="225.77" y1="517.7" x2="225.77" y2="518.6" stroke="#999" stroke-width="0.35"/>
<line x1="186.1" y1="505.36" x2="187" y2="505.36" stroke="#999" stroke-width="0.35"/>
<line x1="232.38" y1="517.7" x2="232.38" y2="518.6" stroke="#999" stroke-width="0.35"/>
<line x1="186.1" y1="511.98" x2="187" y2="511.98" stroke="#999" stroke-width="0.35"/>
<line x1="238.99" y1="517.7" x2="238.99" y2="518.6" stroke="#999" stroke-width="0.35"/>
<text x="242.9" y="469.66" text-anchor="end" style="font-size:7.6px">0.74%</text>
<rect x="248.1" y="459" width="60.3" height="59.6" fill="none" stroke="#7a7a7a" stroke-width="0.6"/>
<line x1="248.1" y1="482.1" x2="308.4" y2="482.1" stroke="#555" stroke-width="0.5"/>
<line x1="261.3" y1="482.1" x2="261.3" y2="518.6" stroke="#555" stroke-width="0.5"/>
<line x1="261.3" y1="482.1" x2="276" y2="459" stroke="#333" stroke-width="0.5"/>
<line x1="248.1" y1="465.62" x2="249" y2="465.62" stroke="#999" stroke-width="0.35"/>
<line x1="254.8" y1="517.7" x2="254.8" y2="518.6" stroke="#999" stroke-width="0.35"/>
<line x1="248.1" y1="472.24" x2="249" y2="472.24" stroke="#999" stroke-width="0.35"/>
<line x1="261.5" y1="517.7" x2="261.5" y2="518.6" stroke="#999" stroke-width="0.35"/>
<line x1="248.1" y1="478.87" x2="249" y2="478.87" stroke="#999" stroke-width="0.35"/>
<line x1="268.2" y1="517.7" x2="268.2" y2="518.6" stroke="#999" stroke-width="0.35"/>
<line x1="248.1" y1="485.49" x2="249" y2="485.49" stroke="#999" stroke-width="0.35"/>
<line x1="274.9" y1="517.7" x2="274.9" y2="518.6" stroke="#999" stroke-width="0.35"/>
<line x1="248.1" y1="492.11" x2="249" y2="492.11" stroke="#999" stroke-width="0.35"/>
<line x1="281.6" y1="517.7" x2="281.6" y2="518.6" stroke="#999" stroke-width="0.35"/>
<line x1="248.1" y1="498.73" x2="249" y2="498.73" stroke="#999" stroke-width="0.35"/>
<line x1="288.3" y1="517.7" x2="288.3" y2="518.6" stroke="#999" stroke-width="0.35"/>
<line x1="248.1" y1="505.36" x2="249" y2="505.36" stroke="#999" stroke-width="0.35"/>
<line x1="295" y1="517.7" x2="295" y2="518.6" stroke="#999" stroke-width="0.35"/>
<line x1="248.1" y1="511.98" x2="249" y2="511.98" stroke="#999" stroke-width="0.35"/>
<line x1="301.7" y1="517.7" x2="301.7" y2="518.6" stroke="#999" stroke-width="0.35"/>
<text x="305" y="469.66" text-anchor="end" style="font-size:7.6px">22.06%</text>
<rect x="186.1" y="527.3" width="59.5" height="59.6" fill="none" stroke="#7a7a7a" stroke-width="0.6"/>
<line x1="186.1" y1="550.4" x2="245.6" y2="550.4" stroke="#555" stroke-width="0.5"/>
<line x1="197.2" y1="550.4" x2="197.2" y2="586.9" stroke="#555" stroke-width="0.5"/>
<line x1="197.2" y1="550.4" x2="214.5" y2="527.3" stroke="#333" stroke-width="0.5"/>
<line x1="186.1" y1="533.92" x2="187" y2="533.92" stroke="#999" stroke-width="0.35"/>
<line x1="192.71" y1="586" x2="192.71" y2="586.9" stroke="#999" stroke-width="0.35"/>
<line x1="186.1" y1="540.54" x2="187" y2="540.54" stroke="#999" stroke-width="0.35"/>
<line x1="199.32" y1="586" x2="199.32" y2="586.9" stroke="#999" stroke-width="0.35"/>
<line x1="186.1" y1="547.17" x2="187" y2="547.17" stroke="#999" stroke-width="0.35"/>
<line x1="205.93" y1="586" x2="205.93" y2="586.9" stroke="#999" stroke-width="0.35"/>
<line x1="186.1" y1="553.79" x2="187" y2="553.79" stroke="#999" stroke-width="0.35"/>
<line x1="212.54" y1="586" x2="212.54" y2="586.9" stroke="#999" stroke-width="0.35"/>
<line x1="186.1" y1="560.41" x2="187" y2="560.41" stroke="#999" stroke-width="0.35"/>
<line x1="219.16" y1="586" x2="219.16" y2="586.9" stroke="#999" stroke-width="0.35"/>
<line x1="186.1" y1="567.03" x2="187" y2="567.03" stroke="#999" stroke-width="0.35"/>
<line x1="225.77" y1="586" x2="225.77" y2="586.9" stroke="#999" stroke-width="0.35"/>
<line x1="186.1" y1="573.66" x2="187" y2="573.66" stroke="#999" stroke-width="0.35"/>
<line x1="232.38" y1="586" x2="232.38" y2="586.9" stroke="#999" stroke-width="0.35"/>
<line x1="186.1" y1="580.28" x2="187" y2="580.28" stroke="#999" stroke-width="0.35"/>
<line x1="238.99" y1="586" x2="238.99" y2="586.9" stroke="#999" stroke-width="0.35"/>
<text x="242.9" y="537.16" text-anchor="end" style="font-size:7.6px">0.37%</text>
<rect x="248.1" y="527.3" width="60.3" height="59.6" fill="none" stroke="#7a7a7a" stroke-width="0.6"/>
<line x1="248.1" y1="550.4" x2="308.4" y2="550.4" stroke="#555" stroke-width="0.5"/>
<line x1="260.5" y1="550.4" x2="260.5" y2="586.9" stroke="#555" stroke-width="0.5"/>
<line x1="260.5" y1="550.4" x2="277" y2="527.3" stroke="#333" stroke-width="0.5"/>
<line x1="248.1" y1="533.92" x2="249" y2="533.92" stroke="#999" stroke-width="0.35"/>
<line x1="254.8" y1="586" x2="254.8" y2="586.9" stroke="#999" stroke-width="0.35"/>
<line x1="248.1" y1="540.54" x2="249" y2="540.54" stroke="#999" stroke-width="0.35"/>
<line x1="261.5" y1="586" x2="261.5" y2="586.9" stroke="#999" stroke-width="0.35"/>
<line x1="248.1" y1="547.17" x2="249" y2="547.17" stroke="#999" stroke-width="0.35"/>
<line x1="268.2" y1="586" x2="268.2" y2="586.9" stroke="#999" stroke-width="0.35"/>
<line x1="248.1" y1="553.79" x2="249" y2="553.79" stroke="#999" stroke-width="0.35"/>
<line x1="274.9" y1="586" x2="274.9" y2="586.9" stroke="#999" stroke-width="0.35"/>
<line x1="248.1" y1="560.41" x2="249" y2="560.41" stroke="#999" stroke-width="0.35"/>
<line x1="281.6" y1="586" x2="281.6" y2="586.9" stroke="#999" stroke-width="0.35"/>
<line x1="248.1" y1="567.03" x2="249" y2="567.03" stroke="#999" stroke-width="0.35"/>
<line x1="288.3" y1="586" x2="288.3" y2="586.9" stroke="#999" stroke-width="0.35"/>
<line x1="248.1" y1="573.66" x2="249" y2="573.66" stroke="#999" stroke-width="0.35"/>
<line x1="295" y1="586" x2="295" y2="586.9" stroke="#999" stroke-width="0.35"/>
<line x1="248.1" y1="580.28" x2="249" y2="580.28" stroke="#999" stroke-width="0.35"/>
<line x1="301.7" y1="586" x2="301.7" y2="586.9" stroke="#999" stroke-width="0.35"/>
<text x="305" y="537.16" text-anchor="end" style="font-size:7.6px">64.39%</text>
<line x1="179.9" y1="498.3" x2="179.9" y2="464" stroke="#000" stroke-width="1.2"/>
<path d="M177.9 465.6L181.9 465.6L179.9 461Z" fill="#000"/>
<line x1="179.9" y1="565.3" x2="179.9" y2="529.8" stroke="#000" stroke-width="1.2"/>
<path d="M177.9 531.4L181.9 531.4L179.9 526.8Z" fill="#000"/>
<text x="179.9" y="512.87" text-anchor="middle" style="font-size:8.2px" transform="rotate(-90 179.9 510)">CD4</text>
<text x="179.9" y="580.57" text-anchor="middle" style="font-size:8.2px" transform="rotate(-90 179.9 577.7)">CD8</text>
<text x="192.3" y="596.54" style="font-size:8.4px">TNF</text>
<line x1="215.1" y1="592.6" x2="304.7" y2="592.6" stroke="#000" stroke-width="1.2"/>
<path d="M303.1 590.6L303.1 594.6L307.7 592.6Z" fill="#000"/>
<text x="330.6" y="454.3" style="font-size:13.6px;font-weight:bold;fill:#000">i</text>
<text x="370.15" y="457.87" text-anchor="middle" style="font-size:8.2px">Control</text>
<text x="432.9" y="457.87" text-anchor="middle" style="font-size:8.2px">TAA mix</text>
<clipPath id="cpi0"><rect x="340.4" y="459" width="59.5" height="35.1"/></clipPath>
<g clip-path="url(#cpi0)">
<ellipse cx="351" cy="483.5" rx="10.07" ry="7.6" fill="url(#rgB)" transform="rotate(-15 351 483.5)"/>
<path d="M351.6 475.5h0.75M349.6 489.1h0.75M348.2 488.8h0.75M355.6 486.2h0.75M343.2 487.3h0.75M356.5 481.7h0.75M357.9 480.1h0.75M363.6 474.8h0.75M352.8 478.0h0.75M357.6 475.5h0.75M357.4 481.0h0.75M347.7 486.9h0.75M344.0 485.2h0.75M344.5 480.8h0.75M345.4 484.6h0.75M357.7 480.4h0.75M356.2 479.9h0.75M344.1 486.0h0.75M356.6 475.6h0.75M343.3 482.3h0.75M353.3 490.4h0.75M351.8 476.2h0.75M344.0 474.6h0.75M353.5 487.3h0.75M351.6 489.9h0.75M344.9 485.5h0.75M352.8 479.5h0.75M355.3 486.7h0.75M350.3 479.4h0.75M357.9 483.3h0.75M354.4 477.3h0.75M349.8 478.9h0.75M354.3 487.1h0.75M348.3 489.3h0.75M350.8 477.5h0.75M347.9 480.4h0.75M346.9 491.0h0.75M354.6 479.1h0.75M345.0 486.7h0.75M358.6 479.2h0.75M346.1 482.2h0.75M343.6 487.0h0.75M349.0 478.9h0.75M356.7 481.3h0.75M341.4 490.5h0.75M346.6 480.3h0.75M348.0 490.6h0.75M358.4 484.0h0.75M348.5 487.7h0.75M349.1 487.8h0.75M363.5 482.7h0.75M353.9 486.6h0.75M361.5 480.6h0.75M353.1 488.1h0.75M344.0 483.2h0.75M358.7 486.4h0.75M357.5 489.1h0.75M355.2 487.5h0.75M349.5 487.5h0.75M346.0 483.1h0.75M346.8 489.9h0.75M343.5 486.5h0.75M344.8 481.8h0.75M355.2 477.4h0.75M352.7 479.0h0.75M355.6 479.5h0.75M348.7 489.1h0.75M356.0 484.9h0.75M341.1 480.1h0.75M355.2 478.1h0.75M356.2 481.4h0.75M350.1 479.6h0.75M354.5 486.1h0.75M351.2 489.4h0.75M359.4 479.2h0.75M343.9 488.2h0.75M359.7 493.0h0.75M345.4 483.0h0.75M345.1 483.9h0.75M347.6 478.9h0.75M353.1 479.6h0.75M354.2 476.9h0.75M347.4 479.8h0.75M344.1 485.6h0.75M345.1 481.4h0.75M347.7 488.2h0.75M345.2 489.5h0.75M351.7 489.2h0.75M350.5 479.1h0.75M358.2 488.7h0.75M351.8 477.1h0.75M349.8 479.7h0.75M351.2 479.2h0.75M354.2 478.7h0.75M353.6 488.4h0.75M347.3 478.8h0.75M345.6 479.7h0.75M354.9 487.6h0.75M345.9 485.7h0.75M346.4 489.3h0.75M344.7 488.0h0.75M355.4 476.6h0.75M360.9 486.5h0.75M346.1 481.9h0.75M356.7 474.6h0.75M358.2 482.8h0.75M346.3 487.5h0.75M346.1 488.3h0.75M359.1 490.4h0.75M342.3 485.1h0.75M341.1 486.0h0.75M355.9 485.5h0.75M351.7 487.8h0.75M345.9 486.3h0.75M357.4 484.7h0.75M361.6 477.6h0.75M344.9 484.3h0.75M356.3 482.3h0.75M347.5 490.1h0.75M344.7 483.2h0.75M355.5 485.2h0.75M354.6 486.3h0.75M353.3 479.3h0.75M359.7 479.3h0.75M346.1 481.4h0.75M350.0 488.4h0.75M349.8 487.6h0.75M355.7 480.1h0.75M357.3 487.7h0.75M356.4 482.9h0.75M350.6 478.7h0.75M358.2 482.3h0.75M344.9 487.4h0.75M355.3 485.8h0.75M346.6 489.4h0.75M349.7 479.7h0.75M355.9 484.3h0.75M352.8 490.8h0.75M347.1 480.3h0.75M351.0 489.5h0.75M350.9 478.9h0.75M345.7 487.9h0.75M356.2 481.9h0.75M350.0 488.1h0.75M348.4 492.4h0.75M358.5 480.9h0.75M344.9 488.1h0.75M364.4 477.0h0.75M366.3 484.1h0.75M358.6 483.8h0.75M348.7 490.2h0.75M353.7 484.7h0.75M351.4 487.4h0.75M370.8 473.4h0.75M343.4 481.2h0.75M357.8 492.2h0.75M357.1 481.6h0.75M351.5 488.7h0.75M361.0 491.6h0.75M364.0 484.3h0.75M346.4 486.4h0.75M350.2 484.1h0.75M353.8 485.6h0.75M376.0 479.0h0.75M347.7 477.0h0.75M353.6 476.0h0.75M360.1 484.3h0.75M381.5 482.7h0.75M366.2 484.5h0.75M363.9 479.9h0.75M353.9 482.5h0.75M371.5 483.4h0.75M355.9 482.0h0.75M364.7 475.8h0.75M348.4 483.2h0.75M370.5 485.3h0.75M358.3 478.0h0.75M349.3 492.2h0.75M361.9 484.2h0.75M343.4 489.2h0.75M353.1 484.1h0.75M379.9 489.7h0.75M365.1 488.1h0.75M361.0 490.7h0.75M360.9 478.7h0.75M348.7 480.4h0.75M366.3 481.3h0.75M353.3 489.3h0.75M371.3 486.3h0.75M375.4 486.7h0.75M368.0 489.2h0.75" stroke="#0000ff" stroke-width="0.75" fill="none"/>
</g>
<clipPath id="cpi1"><rect x="403.1" y="459" width="59.6" height="35.1"/></clipPath>
<g clip-path="url(#cpi1)">
<ellipse cx="413.5" cy="484.5" rx="9.88" ry="7.22" fill="url(#rgB)" transform="rotate(-10 413.5 484.5)"/>
<path d="M410.6 480.3h0.75M409.9 480.8h0.75M421.0 480.5h0.75M412.5 490.0h0.75M406.9 478.1h0.75M407.3 488.2h0.75M423.8 489.1h0.75M420.3 488.2h0.75M419.0 484.1h0.75M412.5 490.6h0.75M407.3 487.3h0.75M421.1 483.2h0.75M418.7 489.5h0.75M419.9 481.6h0.75M410.1 488.6h0.75M417.8 487.2h0.75M416.6 487.7h0.75M407.7 484.0h0.75M414.1 491.9h0.75M407.1 477.8h0.75M410.4 489.2h0.75M407.5 486.1h0.75M420.0 486.4h0.75M407.8 485.9h0.75M419.1 477.9h0.75M418.1 486.7h0.75M409.1 481.5h0.75M412.3 490.3h0.75M410.2 479.5h0.75M411.4 479.5h0.75M407.5 482.8h0.75M412.9 488.4h0.75M411.2 480.6h0.75M410.2 479.0h0.75M413.0 476.6h0.75M423.1 485.0h0.75M406.5 488.7h0.75M415.7 479.3h0.75M407.7 487.2h0.75M417.1 488.6h0.75M411.3 481.0h0.75M422.6 482.3h0.75M417.1 490.7h0.75M417.4 480.9h0.75M419.8 487.0h0.75M410.2 476.6h0.75M420.0 487.9h0.75M408.2 490.8h0.75M406.5 490.6h0.75M419.5 485.7h0.75M414.5 490.4h0.75M409.7 488.4h0.75M406.2 483.9h0.75M408.3 489.3h0.75M418.0 487.9h0.75M420.5 483.8h0.75M413.8 478.9h0.75M412.6 488.5h0.75M421.6 483.3h0.75M408.3 484.4h0.75M417.1 480.0h0.75M412.9 480.7h0.75M409.1 486.8h0.75M414.2 488.3h0.75M409.0 487.1h0.75M423.2 485.5h0.75M417.6 480.4h0.75M419.9 490.2h0.75M408.7 482.4h0.75M418.1 488.4h0.75M406.2 487.1h0.75M407.7 488.0h0.75M413.3 479.1h0.75M405.7 486.0h0.75M408.4 486.8h0.75M420.5 484.9h0.75M406.6 490.0h0.75M414.8 488.6h0.75M419.3 484.3h0.75M415.8 488.1h0.75M413.4 492.1h0.75M408.2 484.9h0.75M422.7 483.4h0.75M415.1 479.4h0.75M417.1 487.5h0.75M410.6 488.8h0.75M419.1 483.9h0.75M419.3 487.5h0.75M406.2 489.4h0.75M415.5 478.7h0.75M413.0 489.1h0.75M415.0 480.6h0.75M414.7 479.6h0.75M411.8 493.0h0.75M424.5 486.6h0.75M407.9 485.8h0.75M412.8 489.9h0.75M410.8 488.0h0.75M408.7 489.2h0.75M418.8 483.8h0.75M409.9 489.5h0.75M419.0 482.7h0.75M416.0 490.0h0.75M420.5 488.1h0.75M419.6 482.6h0.75M420.8 487.7h0.75M417.8 481.3h0.75M415.4 488.5h0.75M412.0 489.6h0.75M415.9 477.6h0.75M406.6 485.9h0.75M415.2 479.8h0.75M415.4 488.4h0.75M417.4 486.6h0.75M419.2 478.9h0.75M415.6 489.2h0.75M419.3 482.5h0.75M419.4 480.1h0.75M408.2 486.4h0.75M409.8 488.3h0.75M414.6 480.1h0.75M416.0 489.2h0.75M417.1 478.0h0.75M423.3 484.4h0.75M428.1 485.3h0.75M425.2 484.4h0.75M431.3 479.4h0.75M426.1 482.9h0.75M421.3 486.9h0.75M421.4 486.6h0.75M421.4 481.0h0.75M431.5 481.9h0.75M431.4 484.4h0.75M422.9 482.3h0.75M422.9 482.1h0.75M421.6 483.7h0.75M430.2 479.2h0.75M428.7 481.5h0.75M425.3 478.8h0.75M429.6 482.3h0.75M428.4 480.6h0.75M422.6 486.8h0.75M430.8 482.1h0.75M435.2 482.5h0.75M429.4 480.2h0.75M418.2 482.8h0.75M437.3 482.8h0.75M422.4 481.7h0.75M430.7 483.8h0.75M425.4 479.0h0.75M429.5 481.8h0.75M429.9 479.8h0.75M427.6 481.3h0.75M428.5 486.0h0.75M427.0 483.2h0.75M432.5 481.8h0.75M431.8 480.6h0.75M436.0 483.4h0.75M437.3 482.3h0.75M427.2 480.6h0.75M420.1 482.3h0.75M422.0 479.1h0.75M421.6 479.1h0.75M423.7 481.7h0.75M432.6 483.2h0.75M436.0 482.4h0.75M427.6 480.5h0.75M421.8 486.1h0.75M429.1 486.2h0.75M429.7 480.0h0.75M437.3 479.8h0.75M436.8 482.6h0.75M427.0 480.6h0.75M427.1 481.4h0.75M422.6 482.7h0.75M431.8 484.7h0.75M423.7 478.5h0.75M424.6 485.5h0.75M425.9 484.3h0.75M422.4 481.6h0.75M434.6 483.8h0.75M427.3 479.9h0.75M432.9 480.4h0.75M425.8 479.6h0.75M432.1 478.7h0.75M434.7 488.2h0.75M433.3 483.2h0.75M417.4 483.8h0.75M430.0 480.8h0.75M433.0 485.3h0.75M430.1 481.9h0.75M423.6 478.2h0.75M430.2 486.2h0.75M425.0 482.0h0.75M420.8 482.9h0.75M441.3 483.9h0.75M427.0 483.3h0.75M439.2 482.0h0.75M420.6 483.6h0.75M428.6 477.3h0.75M427.7 480.9h0.75M432.1 477.7h0.75M428.5 486.1h0.75M427.7 484.4h0.75M420.3 483.9h0.75M429.5 482.9h0.75M423.1 482.3h0.75M421.6 481.7h0.75M421.7 483.1h0.75M430.2 479.5h0.75M423.5 476.5h0.75M424.0 482.5h0.75M420.9 481.8h0.75M417.5 482.0h0.75M437.2 485.3h0.75M414.7 486.0h0.75M452.7 482.3h0.75M425.6 484.5h0.75M416.7 487.9h0.75M436.0 478.4h0.75M411.7 481.3h0.75M431.5 483.6h0.75M421.5 479.1h0.75M433.9 482.5h0.75M417.5 493.2h0.75M420.8 482.5h0.75M414.3 491.6h0.75M441.9 480.2h0.75M415.3 488.4h0.75M419.3 485.8h0.75M425.9 483.0h0.75M423.2 481.8h0.75M427.7 474.8h0.75M428.9 478.2h0.75M410.9 488.5h0.75M413.2 483.1h0.75M416.0 477.2h0.75M435.1 481.8h0.75M438.0 479.8h0.75M429.4 486.8h0.75M430.2 492.0h0.75M422.9 482.3h0.75M440.2 477.5h0.75M412.5 484.6h0.75M447.4 491.0h0.75M428.3 480.6h0.75M428.0 485.7h0.75M436.3 477.1h0.75M408.5 490.3h0.75M410.5 490.9h0.75M405.2 488.4h0.75M442.7 482.1h0.75M417.7 479.0h0.75M411.0 485.5h0.75M443.5 478.4h0.75M419.9 483.9h0.75M417.4 480.5h0.75M424.4 481.6h0.75" stroke="#0000ff" stroke-width="0.75" fill="none"/>
</g>
<clipPath id="cpi2"><rect x="340.4" y="525.6" width="59.5" height="40.5"/></clipPath>
<g clip-path="url(#cpi2)">
<ellipse cx="350" cy="539.5" rx="11.02" ry="6.84" fill="url(#rgR)" transform="rotate(-10 350 539.5)"/>
<ellipse cx="349.5" cy="553" rx="7.6" ry="10.45" fill="url(#rgR)" transform="rotate(0 349.5 553)" opacity="0.9"/>
<path d="M342.3 545.8h0.75M353.0 532.8h0.75M354.0 534.1h0.75M360.1 540.1h0.75M348.6 545.0h0.75M343.0 539.6h0.75M348.3 544.6h0.75M362.7 538.2h0.75M350.7 543.4h0.75M346.8 535.0h0.75M352.6 533.2h0.75M352.4 535.8h0.75M354.6 545.8h0.75M355.9 540.3h0.75M346.5 544.8h0.75M345.3 535.9h0.75M354.5 544.8h0.75M343.6 542.7h0.75M355.4 537.0h0.75M353.1 542.4h0.75M358.5 538.3h0.75M343.8 541.9h0.75M354.3 534.7h0.75M350.4 534.7h0.75M356.0 539.6h0.75M347.6 534.4h0.75M356.4 542.8h0.75M357.2 535.3h0.75M348.7 546.2h0.75M344.9 544.8h0.75M343.1 537.9h0.75M350.6 534.5h0.75M353.1 536.2h0.75M344.2 536.2h0.75M348.5 548.4h0.75M359.3 536.2h0.75M354.4 536.6h0.75M357.1 533.9h0.75M353.8 543.8h0.75M344.5 537.6h0.75M359.8 542.3h0.75M342.4 540.1h0.75M357.3 543.4h0.75M344.7 536.4h0.75M342.9 544.5h0.75M352.6 534.9h0.75M350.4 546.7h0.75M342.8 542.5h0.75M342.3 538.6h0.75M350.2 535.3h0.75M353.4 543.7h0.75M350.2 545.5h0.75M343.7 536.8h0.75M347.7 530.9h0.75M347.6 543.7h0.75M355.4 535.3h0.75M357.4 533.4h0.75M346.4 537.1h0.75M348.4 536.0h0.75M348.9 533.1h0.75M349.6 543.8h0.75M356.4 542.9h0.75M347.9 547.0h0.75M359.4 538.1h0.75M346.0 536.9h0.75M346.0 535.7h0.75M357.5 539.2h0.75M357.5 535.4h0.75M360.0 540.6h0.75M350.1 533.2h0.75M355.7 539.5h0.75M358.3 536.2h0.75M349.9 534.5h0.75M344.9 536.0h0.75M344.4 538.2h0.75M354.4 535.5h0.75M343.6 535.3h0.75M343.0 538.3h0.75M359.6 543.6h0.75M350.5 544.0h0.75M347.6 543.3h0.75M346.0 537.0h0.75M353.2 534.3h0.75M356.4 537.3h0.75M354.6 536.9h0.75M342.9 540.2h0.75M353.9 544.7h0.75M341.4 542.2h0.75M342.5 542.4h0.75M345.2 542.8h0.75M359.1 538.9h0.75M356.9 533.0h0.75M345.3 537.2h0.75M349.5 544.7h0.75M357.2 536.4h0.75M341.0 541.3h0.75M360.2 535.7h0.75M351.5 544.4h0.75M358.4 539.1h0.75M366.9 533.2h0.75M355.7 543.4h0.75M343.6 540.6h0.75M355.0 541.2h0.75M350.5 535.8h0.75M344.3 543.0h0.75M350.8 533.8h0.75M350.9 535.4h0.75M347.5 545.9h0.75M350.5 543.8h0.75M344.6 537.5h0.75M343.0 540.8h0.75M347.2 544.2h0.75M359.4 542.6h0.75M351.7 542.9h0.75M358.6 544.4h0.75M357.2 538.1h0.75M362.0 533.0h0.75M351.3 531.5h0.75M348.6 543.9h0.75M348.3 546.2h0.75M354.2 535.6h0.75M346.6 544.2h0.75M353.4 542.2h0.75M345.9 533.1h0.75M357.9 538.7h0.75M353.4 533.1h0.75M348.3 543.8h0.75M345.7 543.0h0.75M342.8 541.0h0.75M351.9 544.5h0.75M344.9 533.7h0.75M354.7 536.2h0.75M360.5 538.5h0.75M351.6 548.0h0.75M345.5 534.5h0.75M348.6 536.0h0.75M349.2 545.1h0.75M346.8 543.6h0.75M343.7 539.2h0.75M341.4 548.8h0.75M347.6 545.9h0.75M350.6 558.5h0.75M351.5 558.1h0.75M357.2 560.5h0.75M348.5 563.8h0.75M345.7 549.1h0.75M352.8 540.4h0.75M344.3 548.2h0.75M344.7 554.7h0.75M343.7 556.1h0.75M354.9 549.2h0.75M350.4 559.8h0.75M351.9 548.5h0.75M347.8 545.0h0.75M348.4 559.7h0.75M356.5 559.7h0.75M345.5 554.1h0.75M348.1 547.1h0.75M343.5 555.4h0.75M347.8 544.4h0.75M355.2 552.0h0.75M344.8 555.7h0.75M347.6 559.1h0.75M347.3 548.4h0.75M341.1 551.4h0.75M353.7 551.0h0.75M345.1 559.2h0.75M343.2 551.3h0.75M356.3 549.6h0.75M352.8 560.4h0.75M349.7 559.8h0.75M351.7 562.7h0.75M350.9 561.0h0.75M348.1 561.2h0.75M355.5 553.5h0.75M350.2 546.6h0.75M352.3 543.1h0.75M352.1 548.3h0.75M343.4 546.4h0.75M345.1 556.3h0.75M357.1 552.4h0.75M342.5 546.3h0.75M350.5 561.0h0.75M349.1 546.7h0.75M352.2 557.3h0.75M352.9 560.3h0.75M350.0 546.0h0.75M344.8 554.0h0.75M345.1 556.7h0.75M353.7 548.6h0.75M346.7 547.3h0.75M354.2 558.0h0.75M347.5 558.2h0.75M345.6 548.9h0.75M346.3 557.2h0.75M347.5 558.7h0.75M346.7 546.7h0.75M348.8 544.9h0.75M351.2 548.1h0.75M353.6 555.8h0.75M353.0 558.5h0.75M346.1 555.7h0.75M344.6 558.9h0.75M345.0 554.9h0.75M345.5 556.5h0.75M346.1 547.4h0.75M354.5 555.2h0.75M346.3 564.1h0.75M349.6 544.3h0.75M344.8 552.5h0.75M347.8 548.0h0.75M342.1 554.5h0.75M341.7 539.0h0.75M356.5 555.2h0.75M354.9 550.6h0.75M341.8 543.2h0.75M342.7 547.9h0.75M343.4 555.9h0.75M354.5 540.7h0.75M349.6 530.6h0.75M361.1 557.4h0.75M375.3 531.8h0.75M343.5 546.6h0.75M347.6 539.3h0.75M352.8 544.8h0.75M356.8 529.1h0.75M343.8 546.8h0.75M357.9 535.6h0.75M356.3 561.8h0.75M341.9 531.8h0.75M355.1 552.3h0.75M348.2 535.8h0.75M357.5 558.4h0.75M359.7 556.8h0.75M350.3 547.3h0.75M342.3 546.7h0.75M362.6 548.5h0.75M345.7 536.9h0.75M356.2 559.0h0.75M362.3 528.4h0.75M352.1 546.9h0.75M349.2 545.2h0.75M357.5 546.9h0.75M349.5 550.2h0.75M364.3 551.0h0.75M356.1 564.8h0.75M350.4 550.3h0.75M347.0 531.3h0.75M358.0 546.2h0.75M358.5 550.4h0.75M347.6 529.3h0.75M359.9 542.6h0.75M345.1 548.6h0.75M358.4 531.1h0.75M361.0 549.9h0.75M355.6 529.4h0.75M361.2 564.5h0.75M358.1 545.9h0.75M354.7 548.9h0.75M354.0 554.9h0.75M365.5 554.4h0.75M360.4 557.7h0.75M363.8 548.8h0.75M351.5 544.1h0.75M344.9 535.1h0.75M362.1 552.3h0.75M357.4 538.8h0.75M354.4 538.3h0.75M346.3 545.0h0.75M343.9 548.9h0.75M368.3 555.9h0.75M369.4 555.1h0.75M362.5 560.1h0.75M351.9 561.1h0.75M342.8 540.6h0.75M356.3 543.0h0.75M349.5 544.9h0.75M356.3 530.6h0.75M362.4 541.5h0.75M347.9 565.2h0.75M347.7 547.6h0.75M353.1 550.7h0.75M360.3 558.0h0.75" stroke="#ff0000" stroke-width="0.75" fill="none"/>
</g>
<clipPath id="cpi3"><rect x="403.1" y="525.6" width="59.6" height="40.5"/></clipPath>
<g clip-path="url(#cpi3)">
<ellipse cx="428" cy="547" rx="9.12" ry="11.4" fill="url(#rgR)" transform="rotate(0 428 547)"/>
<ellipse cx="413.5" cy="548" rx="8.55" ry="13.3" fill="url(#rgR)" transform="rotate(0 413.5 548)" opacity="0.75"/>
<path d="M429.8 537.9h0.75M424.0 550.6h0.75M431.4 551.2h0.75M430.5 539.0h0.75M425.4 558.7h0.75M421.4 537.3h0.75M433.0 551.0h0.75M422.3 542.4h0.75M422.6 546.4h0.75M433.3 549.7h0.75M438.4 549.9h0.75M433.9 549.8h0.75M419.7 546.4h0.75M434.6 552.0h0.75M416.5 545.2h0.75M423.5 549.3h0.75M433.9 556.9h0.75M420.4 540.0h0.75M431.8 539.3h0.75M431.2 541.6h0.75M433.6 548.4h0.75M424.3 550.6h0.75M433.1 544.2h0.75M428.0 556.1h0.75M425.9 553.4h0.75M427.9 536.2h0.75M423.3 537.4h0.75M430.1 534.8h0.75M432.0 540.7h0.75M422.2 547.7h0.75M428.3 553.9h0.75M423.5 550.0h0.75M427.6 538.8h0.75M422.2 544.7h0.75M426.5 536.1h0.75M429.3 541.3h0.75M434.9 545.2h0.75M424.6 540.8h0.75M433.2 540.3h0.75M422.3 551.3h0.75M432.7 545.4h0.75M429.1 555.7h0.75M427.6 555.1h0.75M420.8 554.2h0.75M431.5 554.9h0.75M422.6 551.5h0.75M431.5 551.2h0.75M421.8 548.2h0.75M434.2 556.6h0.75M432.8 542.2h0.75M422.4 544.2h0.75M435.1 540.1h0.75M436.1 543.3h0.75M433.1 538.8h0.75M433.2 553.8h0.75M422.0 537.4h0.75M429.1 556.8h0.75M427.0 538.2h0.75M424.3 552.1h0.75M432.4 544.4h0.75M414.2 539.1h0.75M434.1 545.0h0.75M421.7 543.8h0.75M432.7 550.1h0.75M431.2 551.6h0.75M432.7 546.4h0.75M426.4 539.9h0.75M433.9 550.7h0.75M433.3 541.9h0.75M429.2 554.0h0.75M423.5 541.0h0.75M422.5 546.6h0.75M433.8 538.3h0.75M433.7 548.2h0.75M429.6 538.4h0.75M425.6 541.4h0.75M424.1 552.5h0.75M433.0 546.9h0.75M428.3 554.7h0.75M432.0 541.9h0.75M422.5 544.9h0.75M421.7 539.5h0.75M426.6 554.3h0.75M433.1 548.1h0.75M422.2 550.5h0.75M435.4 547.2h0.75M437.6 546.7h0.75M425.1 552.9h0.75M433.8 546.4h0.75M436.0 548.3h0.75M425.1 552.1h0.75M425.8 541.3h0.75M423.4 543.4h0.75M422.7 547.1h0.75M423.8 539.3h0.75M432.9 545.4h0.75M436.5 548.2h0.75M434.6 553.2h0.75M428.2 553.0h0.75M427.0 558.2h0.75M426.5 556.1h0.75M433.8 542.2h0.75M422.5 551.5h0.75M404.9 541.6h0.75M409.1 550.8h0.75M410.9 537.4h0.75M409.9 557.1h0.75M409.1 545.3h0.75M407.7 549.3h0.75M406.2 553.7h0.75M415.6 558.3h0.75M420.4 546.2h0.75M408.2 553.9h0.75M407.6 543.5h0.75M404.4 540.0h0.75M410.2 559.3h0.75M415.9 542.1h0.75M406.6 546.9h0.75M417.1 553.6h0.75M406.4 546.1h0.75M419.1 538.3h0.75M419.0 552.5h0.75M404.0 541.2h0.75M405.5 546.3h0.75M416.4 541.0h0.75M415.5 537.2h0.75M408.6 542.2h0.75M416.5 556.4h0.75M410.6 542.8h0.75M413.3 540.9h0.75M408.8 550.2h0.75M406.5 539.9h0.75M405.8 554.4h0.75M410.2 554.5h0.75M409.6 542.8h0.75M408.4 550.8h0.75M405.9 545.6h0.75M410.4 531.7h0.75M415.8 554.1h0.75M408.8 542.6h0.75M417.3 562.0h0.75M408.0 551.4h0.75M418.4 553.1h0.75M424.4 541.9h0.75M413.9 536.8h0.75M415.0 555.4h0.75M405.0 537.1h0.75M411.0 541.3h0.75M418.4 547.2h0.75M410.0 557.4h0.75M414.1 556.1h0.75M420.5 545.0h0.75M414.6 537.1h0.75M408.5 544.0h0.75M412.3 536.0h0.75M413.7 538.0h0.75M420.9 546.0h0.75M414.6 555.6h0.75M418.2 545.9h0.75M414.0 556.4h0.75M411.7 540.7h0.75M409.1 551.0h0.75M415.4 554.4h0.75M417.5 538.0h0.75M409.8 543.8h0.75M408.8 554.1h0.75M419.1 551.5h0.75M412.3 557.8h0.75M414.0 558.6h0.75M413.0 539.9h0.75M410.5 539.7h0.75M417.2 558.9h0.75M409.7 542.0h0.75M413.8 540.9h0.75M415.6 558.8h0.75M413.5 556.1h0.75M408.4 559.1h0.75M409.9 538.1h0.75M406.9 550.7h0.75M424.7 547.2h0.75M416.7 556.1h0.75M411.9 556.6h0.75M418.2 539.8h0.75M407.5 543.1h0.75M418.6 554.0h0.75M409.6 557.2h0.75M416.9 555.1h0.75M417.6 551.3h0.75M406.6 541.9h0.75M409.4 547.8h0.75M411.9 546.4h0.75M421.4 561.1h0.75M425.8 534.2h0.75M421.0 557.3h0.75M421.8 530.0h0.75M419.9 560.3h0.75M413.1 536.2h0.75M419.6 562.7h0.75M437.1 541.1h0.75M408.8 544.2h0.75M429.3 550.2h0.75M417.5 543.9h0.75M428.5 542.4h0.75M429.6 555.4h0.75M446.6 551.2h0.75M421.2 564.5h0.75M425.0 541.8h0.75M406.2 553.0h0.75M419.7 553.2h0.75M404.2 551.2h0.75M422.2 559.2h0.75M431.2 545.8h0.75M433.1 553.0h0.75M425.9 544.7h0.75M421.3 539.3h0.75M420.2 544.4h0.75M418.2 546.5h0.75M409.7 549.7h0.75M436.5 558.9h0.75M426.1 541.7h0.75M415.4 531.2h0.75M436.5 548.5h0.75M434.6 548.5h0.75M425.1 543.5h0.75M416.0 555.5h0.75M417.6 548.5h0.75M423.4 535.2h0.75M423.8 559.5h0.75M427.7 541.8h0.75M416.5 560.1h0.75M412.6 538.6h0.75M421.6 541.6h0.75M423.1 553.3h0.75M412.1 535.9h0.75M412.8 537.0h0.75M420.1 553.4h0.75M416.6 537.2h0.75M409.8 551.9h0.75M428.3 559.3h0.75M429.8 545.5h0.75M410.0 548.7h0.75M406.3 539.2h0.75M419.8 557.7h0.75M428.6 543.6h0.75M428.9 557.0h0.75M416.9 548.9h0.75M417.5 565.1h0.75M420.3 550.6h0.75M429.4 565.0h0.75M404.5 554.6h0.75M411.9 536.4h0.75M414.2 559.2h0.75M420.3 543.1h0.75M422.6 551.4h0.75M421.1 549.6h0.75M408.9 562.3h0.75M415.0 535.9h0.75M423.4 553.5h0.75M428.9 558.9h0.75M420.1 554.7h0.75M426.2 556.7h0.75M423.6 552.5h0.75M415.3 555.9h0.75M427.8 556.2h0.75M410.5 527.4h0.75M433.9 538.9h0.75M407.9 553.5h0.75M419.1 553.0h0.75M421.5 554.0h0.75M408.8 540.7h0.75M421.0 544.5h0.75M410.8 550.9h0.75M411.9 544.5h0.75M420.9 553.6h0.75M429.5 554.5h0.75M411.1 545.6h0.75M419.1 535.1h0.75M419.7 551.3h0.75M436.8 557.9h0.75M435.3 555.5h0.75M438.0 538.4h0.75M421.3 556.1h0.75M418.5 543.5h0.75M410.4 543.1h0.75M414.9 547.1h0.75M404.0 532.1h0.75M413.5 548.9h0.75M418.2 536.3h0.75M415.8 537.0h0.75M420.0 547.0h0.75M425.9 541.1h0.75M441.7 546.1h0.75M409.3 538.3h0.75M431.9 556.6h0.75M420.0 556.7h0.75M432.8 545.4h0.75M421.2 547.9h0.75M419.8 544.7h0.75M442.3 540.8h0.75M416.7 555.9h0.75M414.1 536.1h0.75M414.7 541.9h0.75M420.5 556.8h0.75M436.5 549.6h0.75M446.9 553.2h0.75M423.2 551.0h0.75M406.7 562.8h0.75M407.1 555.0h0.75M432.7 546.9h0.75M411.1 555.3h0.75M405.2 549.1h0.75M421.1 540.7h0.75M413.4 552.2h0.75M426.3 555.3h0.75M412.9 547.8h0.75M434.9 552.4h0.75M416.2 549.7h0.75M419.3 552.8h0.75M408.7 564.4h0.75M404.4 549.1h0.75M413.5 548.1h0.75M406.6 552.7h0.75M443.4 539.6h0.75M435.2 553.3h0.75M416.1 540.4h0.75M428.8 561.3h0.75M408.5 536.1h0.75M414.9 558.2h0.75M426.4 539.8h0.75M413.2 562.6h0.75M427.3 543.1h0.75M418.2 554.5h0.75M437.1 552.3h0.75M426.7 544.5h0.75M414.5 560.9h0.75M408.1 550.5h0.75M408.9 546.6h0.75M417.6 558.0h0.75M420.1 563.5h0.75M421.5 563.6h0.75M414.4 542.8h0.75M419.0 545.5h0.75M416.3 546.5h0.75M417.1 562.5h0.75" stroke="#ff0000" stroke-width="0.75" fill="none"/>
</g>
<rect x="340.4" y="459" width="59.5" height="59.6" fill="none" stroke="#7a7a7a" stroke-width="0.6"/>
<line x1="340.4" y1="493.3" x2="399.9" y2="493.3" stroke="#555" stroke-width="0.5"/>
<line x1="355.5" y1="493.3" x2="355.5" y2="518.6" stroke="#555" stroke-width="0.5"/>
<line x1="355.5" y1="493.3" x2="369.6" y2="459" stroke="#333" stroke-width="0.5"/>
<line x1="340.4" y1="465.62" x2="341.3" y2="465.62" stroke="#999" stroke-width="0.35"/>
<line x1="347.01" y1="517.7" x2="347.01" y2="518.6" stroke="#999" stroke-width="0.35"/>
<line x1="340.4" y1="472.24" x2="341.3" y2="472.24" stroke="#999" stroke-width="0.35"/>
<line x1="353.62" y1="517.7" x2="353.62" y2="518.6" stroke="#999" stroke-width="0.35"/>
<line x1="340.4" y1="478.87" x2="341.3" y2="478.87" stroke="#999" stroke-width="0.35"/>
<line x1="360.23" y1="517.7" x2="360.23" y2="518.6" stroke="#999" stroke-width="0.35"/>
<line x1="340.4" y1="485.49" x2="341.3" y2="485.49" stroke="#999" stroke-width="0.35"/>
<line x1="366.84" y1="517.7" x2="366.84" y2="518.6" stroke="#999" stroke-width="0.35"/>
<line x1="340.4" y1="492.11" x2="341.3" y2="492.11" stroke="#999" stroke-width="0.35"/>
<line x1="373.46" y1="517.7" x2="373.46" y2="518.6" stroke="#999" stroke-width="0.35"/>
<line x1="340.4" y1="498.73" x2="341.3" y2="498.73" stroke="#999" stroke-width="0.35"/>
<line x1="380.07" y1="517.7" x2="380.07" y2="518.6" stroke="#999" stroke-width="0.35"/>
<line x1="340.4" y1="505.36" x2="341.3" y2="505.36" stroke="#999" stroke-width="0.35"/>
<line x1="386.68" y1="517.7" x2="386.68" y2="518.6" stroke="#999" stroke-width="0.35"/>
<line x1="340.4" y1="511.98" x2="341.3" y2="511.98" stroke="#999" stroke-width="0.35"/>
<line x1="393.29" y1="517.7" x2="393.29" y2="518.6" stroke="#999" stroke-width="0.35"/>
<text x="396.9" y="468.66" text-anchor="end" style="font-size:7.6px">0.77%</text>
<rect x="403.1" y="459" width="59.6" height="59.6" fill="none" stroke="#7a7a7a" stroke-width="0.6"/>
<line x1="403.1" y1="493.3" x2="462.7" y2="493.3" stroke="#555" stroke-width="0.5"/>
<line x1="418" y1="493.3" x2="418" y2="518.6" stroke="#555" stroke-width="0.5"/>
<line x1="418" y1="493.3" x2="432" y2="459" stroke="#333" stroke-width="0.5"/>
<line x1="403.1" y1="465.62" x2="404" y2="465.62" stroke="#999" stroke-width="0.35"/>
<line x1="409.72" y1="517.7" x2="409.72" y2="518.6" stroke="#999" stroke-width="0.35"/>
<line x1="403.1" y1="472.24" x2="404" y2="472.24" stroke="#999" stroke-width="0.35"/>
<line x1="416.34" y1="517.7" x2="416.34" y2="518.6" stroke="#999" stroke-width="0.35"/>
<line x1="403.1" y1="478.87" x2="404" y2="478.87" stroke="#999" stroke-width="0.35"/>
<line x1="422.97" y1="517.7" x2="422.97" y2="518.6" stroke="#999" stroke-width="0.35"/>
<line x1="403.1" y1="485.49" x2="404" y2="485.49" stroke="#999" stroke-width="0.35"/>
<line x1="429.59" y1="517.7" x2="429.59" y2="518.6" stroke="#999" stroke-width="0.35"/>
<line x1="403.1" y1="492.11" x2="404" y2="492.11" stroke="#999" stroke-width="0.35"/>
<line x1="436.21" y1="517.7" x2="436.21" y2="518.6" stroke="#999" stroke-width="0.35"/>
<line x1="403.1" y1="498.73" x2="404" y2="498.73" stroke="#999" stroke-width="0.35"/>
<line x1="442.83" y1="517.7" x2="442.83" y2="518.6" stroke="#999" stroke-width="0.35"/>
<line x1="403.1" y1="505.36" x2="404" y2="505.36" stroke="#999" stroke-width="0.35"/>
<line x1="449.46" y1="517.7" x2="449.46" y2="518.6" stroke="#999" stroke-width="0.35"/>
<line x1="403.1" y1="511.98" x2="404" y2="511.98" stroke="#999" stroke-width="0.35"/>
<line x1="456.08" y1="517.7" x2="456.08" y2="518.6" stroke="#999" stroke-width="0.35"/>
<text x="461.5" y="468.66" text-anchor="end" style="font-size:7.6px">8.24%</text>
<rect x="340.4" y="525.6" width="59.5" height="60.4" fill="none" stroke="#7a7a7a" stroke-width="0.6"/>
<line x1="340.4" y1="565.3" x2="399.9" y2="565.3" stroke="#555" stroke-width="0.5"/>
<line x1="356" y1="565.3" x2="356" y2="586" stroke="#555" stroke-width="0.5"/>
<line x1="356" y1="565.3" x2="362.2" y2="525.6" stroke="#333" stroke-width="0.5"/>
<line x1="340.4" y1="532.31" x2="341.3" y2="532.31" stroke="#999" stroke-width="0.35"/>
<line x1="347.01" y1="585.1" x2="347.01" y2="586" stroke="#999" stroke-width="0.35"/>
<line x1="340.4" y1="539.02" x2="341.3" y2="539.02" stroke="#999" stroke-width="0.35"/>
<line x1="353.62" y1="585.1" x2="353.62" y2="586" stroke="#999" stroke-width="0.35"/>
<line x1="340.4" y1="545.73" x2="341.3" y2="545.73" stroke="#999" stroke-width="0.35"/>
<line x1="360.23" y1="585.1" x2="360.23" y2="586" stroke="#999" stroke-width="0.35"/>
<line x1="340.4" y1="552.44" x2="341.3" y2="552.44" stroke="#999" stroke-width="0.35"/>
<line x1="366.84" y1="585.1" x2="366.84" y2="586" stroke="#999" stroke-width="0.35"/>
<line x1="340.4" y1="559.16" x2="341.3" y2="559.16" stroke="#999" stroke-width="0.35"/>
<line x1="373.46" y1="585.1" x2="373.46" y2="586" stroke="#999" stroke-width="0.35"/>
<line x1="340.4" y1="565.87" x2="341.3" y2="565.87" stroke="#999" stroke-width="0.35"/>
<line x1="380.07" y1="585.1" x2="380.07" y2="586" stroke="#999" stroke-width="0.35"/>
<line x1="340.4" y1="572.58" x2="341.3" y2="572.58" stroke="#999" stroke-width="0.35"/>
<line x1="386.68" y1="585.1" x2="386.68" y2="586" stroke="#999" stroke-width="0.35"/>
<line x1="340.4" y1="579.29" x2="341.3" y2="579.29" stroke="#999" stroke-width="0.35"/>
<line x1="393.29" y1="585.1" x2="393.29" y2="586" stroke="#999" stroke-width="0.35"/>
<text x="396.5" y="536.86" text-anchor="end" style="font-size:7.6px">2.13%</text>
<rect x="403.1" y="525.6" width="59.6" height="60.4" fill="none" stroke="#7a7a7a" stroke-width="0.6"/>
<line x1="403.1" y1="565.3" x2="462.7" y2="565.3" stroke="#555" stroke-width="0.5"/>
<line x1="418.8" y1="565.3" x2="418.8" y2="586" stroke="#555" stroke-width="0.5"/>
<line x1="418.8" y1="565.3" x2="424.3" y2="526.8" stroke="#333" stroke-width="0.5"/>
<line x1="403.1" y1="532.31" x2="404" y2="532.31" stroke="#999" stroke-width="0.35"/>
<line x1="409.72" y1="585.1" x2="409.72" y2="586" stroke="#999" stroke-width="0.35"/>
<line x1="403.1" y1="539.02" x2="404" y2="539.02" stroke="#999" stroke-width="0.35"/>
<line x1="416.34" y1="585.1" x2="416.34" y2="586" stroke="#999" stroke-width="0.35"/>
<line x1="403.1" y1="545.73" x2="404" y2="545.73" stroke="#999" stroke-width="0.35"/>
<line x1="422.97" y1="585.1" x2="422.97" y2="586" stroke="#999" stroke-width="0.35"/>
<line x1="403.1" y1="552.44" x2="404" y2="552.44" stroke="#999" stroke-width="0.35"/>
<line x1="429.59" y1="585.1" x2="429.59" y2="586" stroke="#999" stroke-width="0.35"/>
<line x1="403.1" y1="559.16" x2="404" y2="559.16" stroke="#999" stroke-width="0.35"/>
<line x1="436.21" y1="585.1" x2="436.21" y2="586" stroke="#999" stroke-width="0.35"/>
<line x1="403.1" y1="565.87" x2="404" y2="565.87" stroke="#999" stroke-width="0.35"/>
<line x1="442.83" y1="585.1" x2="442.83" y2="586" stroke="#999" stroke-width="0.35"/>
<line x1="403.1" y1="572.58" x2="404" y2="572.58" stroke="#999" stroke-width="0.35"/>
<line x1="449.46" y1="585.1" x2="449.46" y2="586" stroke="#999" stroke-width="0.35"/>
<line x1="403.1" y1="579.29" x2="404" y2="579.29" stroke="#999" stroke-width="0.35"/>
<line x1="456.08" y1="585.1" x2="456.08" y2="586" stroke="#999" stroke-width="0.35"/>
<text x="461.5" y="536.86" text-anchor="end" style="font-size:7.6px">64.96%</text>
<line x1="334.8" y1="498.3" x2="334.8" y2="464" stroke="#000" stroke-width="1.2"/>
<path d="M332.8 465.6L336.8 465.6L334.8 461Z" fill="#000"/>
<line x1="334.8" y1="565.3" x2="334.8" y2="529.8" stroke="#000" stroke-width="1.2"/>
<path d="M332.8 531.4L336.8 531.4L334.8 526.8Z" fill="#000"/>
<text x="334.8" y="512.87" text-anchor="middle" style="font-size:8.2px" transform="rotate(-90 334.8 510)">CD4</text>
<text x="334.8" y="580.57" text-anchor="middle" style="font-size:8.2px" transform="rotate(-90 334.8 577.7)">CD8</text>
<text x="346" y="596.54" style="font-size:8.4px">4-1BB</text>
<line x1="372.6" y1="592.6" x2="458" y2="592.6" stroke="#000" stroke-width="1.2"/>
<path d="M456.4 590.6L456.4 594.6L461 592.6Z" fill="#000"/>
<text x="486.4" y="453.4" style="font-size:13.6px;font-weight:bold;fill:#000">j</text>
<text x="524.9" y="457.87" text-anchor="middle" style="font-size:8.2px">Control</text>
<text x="588.35" y="457.87" text-anchor="middle" style="font-size:8.2px">TAA mix</text>
<clipPath id="cpj0"><rect x="495" y="459" width="59.8" height="34.7"/></clipPath>
<g clip-path="url(#cpj0)">
<ellipse cx="507" cy="482.5" rx="10.64" ry="7.6" fill="url(#rgB)" transform="rotate(-10 507 482.5)"/>
<path d="M503.5 476.3h0.75M517.6 481.4h0.75M508.8 476.7h0.75M512.9 489.5h0.75M502.5 479.2h0.75M510.9 486.7h0.75M502.0 484.8h0.75M513.4 485.9h0.75M513.9 479.7h0.75M512.1 480.4h0.75M501.6 477.7h0.75M500.5 480.7h0.75M511.9 483.9h0.75M505.6 478.7h0.75M509.8 477.3h0.75M505.8 488.2h0.75M511.3 485.8h0.75M500.0 482.8h0.75M506.7 476.7h0.75M508.9 478.6h0.75M509.8 486.0h0.75M501.0 482.0h0.75M506.7 478.5h0.75M502.8 486.1h0.75M515.6 483.2h0.75M505.8 489.3h0.75M507.4 474.4h0.75M512.2 480.8h0.75M512.8 483.8h0.75M501.9 484.8h0.75M513.0 482.2h0.75M512.5 483.8h0.75M509.6 488.3h0.75M512.9 480.8h0.75M504.0 487.4h0.75M518.7 480.0h0.75M510.6 485.6h0.75M501.0 479.6h0.75M511.8 488.8h0.75M515.4 476.7h0.75M510.1 478.2h0.75M502.5 485.9h0.75M506.7 477.6h0.75M501.5 483.7h0.75M513.6 482.6h0.75M511.9 478.2h0.75M512.3 474.0h0.75M505.7 486.8h0.75M519.2 482.3h0.75M502.1 486.1h0.75M511.7 485.1h0.75M512.0 480.0h0.75M498.2 483.3h0.75M501.1 483.4h0.75M512.4 485.0h0.75M500.0 479.7h0.75M504.7 487.0h0.75M506.9 491.8h0.75M512.4 487.3h0.75M508.7 489.6h0.75M508.5 486.3h0.75M508.0 487.5h0.75M501.0 480.1h0.75M504.2 488.8h0.75M509.5 477.8h0.75M509.5 489.8h0.75M495.8 488.5h0.75M508.0 477.5h0.75M502.9 479.3h0.75M509.2 477.6h0.75M504.1 486.5h0.75M516.0 484.6h0.75M510.6 485.3h0.75M511.9 478.5h0.75M503.3 479.6h0.75M512.3 484.3h0.75M511.5 474.9h0.75M505.3 477.6h0.75M500.4 478.1h0.75M514.5 483.4h0.75M505.0 486.5h0.75M500.4 486.6h0.75M502.2 476.8h0.75M504.1 477.3h0.75M501.4 482.7h0.75M513.7 483.3h0.75M513.7 478.0h0.75M509.1 487.5h0.75M512.2 485.9h0.75M504.0 488.6h0.75M501.3 483.1h0.75M504.1 486.2h0.75M518.1 485.1h0.75M513.9 483.9h0.75M511.8 484.6h0.75M500.7 480.8h0.75M517.1 480.8h0.75M501.3 484.1h0.75M508.0 487.8h0.75M514.4 481.1h0.75M512.7 481.4h0.75M506.4 486.6h0.75M512.3 483.3h0.75M501.1 483.3h0.75M513.5 483.2h0.75M511.6 479.5h0.75M501.6 480.0h0.75M507.1 490.5h0.75M508.1 473.8h0.75M507.8 478.2h0.75M514.7 479.9h0.75M518.5 475.9h0.75M503.0 486.3h0.75M513.8 475.9h0.75M501.8 477.8h0.75M502.9 479.3h0.75M501.5 487.2h0.75M511.8 485.0h0.75M515.9 482.4h0.75M503.9 488.2h0.75M512.1 479.7h0.75M499.5 479.5h0.75M500.8 483.8h0.75M502.8 489.1h0.75M514.4 477.3h0.75M513.2 480.3h0.75M501.6 483.8h0.75M509.0 487.3h0.75M506.2 490.4h0.75M513.6 487.4h0.75M498.9 480.0h0.75M510.7 476.7h0.75M504.9 489.4h0.75M512.0 487.2h0.75M510.2 478.5h0.75M505.4 488.0h0.75M505.0 478.1h0.75M497.6 484.9h0.75M512.8 485.5h0.75M512.6 478.9h0.75M503.7 479.0h0.75M511.4 488.0h0.75M505.7 487.5h0.75M495.7 484.6h0.75M499.7 482.9h0.75M512.3 484.1h0.75M512.1 485.9h0.75M501.3 481.7h0.75M499.0 483.1h0.75M499.3 489.0h0.75M502.0 479.3h0.75M497.9 483.0h0.75M508.0 489.6h0.75M500.7 489.4h0.75M509.9 488.4h0.75M515.5 480.2h0.75M533.7 474.4h0.75M510.7 480.0h0.75M498.6 484.6h0.75M500.9 487.6h0.75M503.1 477.3h0.75M507.2 487.7h0.75M505.5 483.3h0.75M502.7 486.2h0.75M512.6 490.7h0.75M503.3 489.3h0.75M501.4 492.8h0.75M516.5 477.2h0.75M499.3 477.1h0.75M530.4 474.2h0.75M527.0 487.8h0.75M512.6 483.4h0.75M504.3 483.9h0.75M526.7 482.8h0.75M518.1 478.4h0.75M506.9 478.3h0.75M517.2 477.4h0.75M524.5 487.3h0.75M518.4 476.2h0.75M525.9 474.1h0.75M516.6 487.6h0.75M508.9 480.3h0.75M514.4 484.6h0.75M531.8 476.8h0.75M509.9 486.8h0.75M508.8 489.7h0.75M508.6 482.7h0.75M510.9 484.6h0.75M502.7 482.7h0.75M501.4 483.9h0.75M517.2 481.4h0.75M512.2 470.2h0.75M517.9 491.7h0.75M506.4 488.8h0.75M513.3 487.5h0.75M514.3 488.2h0.75M528.8 477.3h0.75M543.5 478.1h0.75M508.1 491.8h0.75M516.7 473.4h0.75M510.7 484.2h0.75M504.2 480.7h0.75M515.7 490.2h0.75M506.1 490.8h0.75M505.8 482.4h0.75M502.6 481.1h0.75M509.4 479.2h0.75M519.4 471.3h0.75M516.2 483.1h0.75M500.8 476.0h0.75M518.9 482.2h0.75M524.3 484.9h0.75" stroke="#0000ff" stroke-width="0.75" fill="none"/>
</g>
<clipPath id="cpj1"><rect x="558.4" y="459" width="59.9" height="34.7"/></clipPath>
<g clip-path="url(#cpj1)">
<ellipse cx="569.5" cy="483" rx="10.07" ry="7.22" fill="url(#rgB)" transform="rotate(-10 569.5 483)"/>
<path d="M574.8 484.3h0.75M567.7 487.2h0.75M572.9 486.5h0.75M564.8 480.5h0.75M570.6 475.2h0.75M572.9 487.1h0.75M574.6 479.8h0.75M565.8 477.2h0.75M572.8 478.7h0.75M564.9 485.5h0.75M565.2 479.7h0.75M581.1 481.1h0.75M561.8 482.8h0.75M575.0 487.7h0.75M566.6 487.0h0.75M569.2 476.5h0.75M575.4 485.2h0.75M575.1 488.2h0.75M574.4 485.6h0.75M574.6 479.4h0.75M577.9 485.4h0.75M563.6 489.8h0.75M563.4 480.7h0.75M560.0 487.0h0.75M575.6 487.0h0.75M564.9 487.6h0.75M565.7 477.2h0.75M573.7 487.0h0.75M562.0 485.4h0.75M562.2 481.6h0.75M561.1 476.5h0.75M567.9 478.6h0.75M566.6 477.9h0.75M569.1 478.0h0.75M566.4 487.5h0.75M560.9 490.3h0.75M572.7 475.8h0.75M573.6 480.2h0.75M567.4 492.4h0.75M567.1 488.8h0.75M574.7 483.0h0.75M576.9 479.0h0.75M563.4 485.4h0.75M568.7 478.3h0.75M577.3 481.0h0.75M577.4 485.2h0.75M565.2 480.8h0.75M569.4 487.3h0.75M573.1 486.8h0.75M563.3 484.4h0.75M568.3 487.6h0.75M575.4 484.8h0.75M572.7 476.6h0.75M563.1 484.8h0.75M571.6 489.8h0.75M579.3 480.3h0.75M568.5 488.7h0.75M573.2 476.7h0.75M575.0 480.8h0.75M576.9 480.2h0.75M577.1 480.9h0.75M564.8 481.6h0.75M564.9 485.2h0.75M561.3 484.1h0.75M569.2 488.0h0.75M575.2 482.0h0.75M575.2 483.5h0.75M575.2 484.2h0.75M563.2 484.3h0.75M576.5 487.9h0.75M565.4 480.1h0.75M563.2 488.5h0.75M569.3 478.1h0.75M573.9 478.2h0.75M567.4 487.8h0.75M571.6 486.5h0.75M566.6 479.5h0.75M577.9 484.7h0.75M571.5 477.9h0.75M576.7 487.0h0.75M572.0 475.0h0.75M566.9 488.4h0.75M574.6 483.9h0.75M576.9 471.6h0.75M574.1 478.9h0.75M568.0 491.9h0.75M569.2 490.2h0.75M574.6 477.9h0.75M582.1 482.8h0.75M567.8 490.4h0.75M576.6 481.3h0.75M568.3 479.4h0.75M564.9 488.1h0.75M563.7 486.0h0.75M579.5 476.3h0.75M575.0 482.6h0.75M565.1 478.5h0.75M564.7 487.5h0.75M565.3 479.7h0.75M567.8 475.9h0.75M570.2 477.0h0.75M572.3 479.6h0.75M567.9 489.0h0.75M566.6 488.6h0.75M575.8 475.7h0.75M572.7 486.2h0.75M582.2 487.3h0.75M572.3 478.6h0.75M573.1 486.0h0.75M560.6 487.5h0.75M575.5 483.8h0.75M566.6 475.8h0.75M561.0 481.7h0.75M561.5 483.8h0.75M565.9 486.0h0.75M566.4 479.3h0.75M570.0 488.3h0.75M575.5 485.3h0.75M576.7 478.4h0.75M578.7 485.2h0.75M573.8 479.2h0.75M563.6 487.6h0.75M580.8 476.3h0.75M574.0 480.3h0.75M577.2 484.3h0.75M574.7 482.7h0.75M579.7 480.0h0.75M573.6 487.6h0.75M566.8 479.0h0.75M572.3 486.3h0.75M573.9 487.1h0.75M564.7 474.9h0.75M577.0 480.9h0.75M575.2 477.9h0.75M578.2 484.4h0.75M584.5 481.8h0.75M595.5 470.2h0.75M571.5 487.7h0.75M572.8 489.2h0.75M580.6 482.7h0.75M598.1 475.5h0.75M583.2 474.1h0.75M574.1 481.6h0.75M584.3 478.0h0.75M587.3 492.4h0.75M563.4 481.9h0.75M576.3 482.1h0.75M589.1 480.4h0.75M572.6 482.0h0.75M579.7 479.2h0.75M582.1 482.7h0.75M576.5 487.3h0.75M573.9 475.5h0.75M582.5 477.1h0.75M574.4 486.3h0.75M559.8 487.9h0.75M576.6 484.8h0.75M564.9 475.9h0.75M570.3 481.0h0.75M570.2 475.4h0.75M577.1 488.4h0.75M580.0 474.5h0.75M577.1 485.2h0.75M572.4 486.6h0.75M582.2 482.9h0.75M564.1 486.4h0.75M564.3 478.7h0.75M576.8 489.9h0.75M573.2 488.1h0.75M590.6 484.5h0.75M592.4 480.5h0.75M587.2 486.7h0.75M576.8 485.9h0.75M574.9 481.8h0.75M566.0 488.9h0.75M571.6 486.3h0.75M577.1 479.3h0.75M562.7 478.6h0.75M577.4 487.9h0.75M568.1 485.0h0.75M566.6 480.7h0.75M584.1 478.2h0.75M583.0 486.5h0.75M584.9 488.2h0.75M568.0 492.1h0.75M573.7 481.2h0.75M570.5 485.9h0.75M565.7 491.0h0.75M563.4 487.3h0.75M563.9 488.6h0.75M582.4 474.6h0.75M561.0 485.1h0.75" stroke="#0000ff" stroke-width="0.75" fill="none"/>
</g>
<clipPath id="cpj2"><rect x="495" y="526.4" width="59.8" height="39.1"/></clipPath>
<g clip-path="url(#cpj2)">
<ellipse cx="503.5" cy="540" rx="11.4" ry="7.6" fill="url(#rgR)" transform="rotate(-20 503.5 540)"/>
<ellipse cx="508" cy="555" rx="10.45" ry="9.5" fill="url(#rgR)" transform="rotate(0 508 555)" opacity="0.6"/>
<path d="M511.9 542.8h0.75M505.8 544.9h0.75M499.6 534.1h0.75M518.9 535.9h0.75M497.6 541.4h0.75M497.7 542.4h0.75M504.0 550.6h0.75M505.6 546.5h0.75M510.6 539.8h0.75M508.1 543.6h0.75M498.1 544.5h0.75M514.9 541.1h0.75M497.9 542.2h0.75M507.0 548.4h0.75M500.7 532.2h0.75M509.1 541.5h0.75M504.9 545.5h0.75M499.2 537.4h0.75M502.7 534.6h0.75M507.9 544.1h0.75M512.1 536.3h0.75M503.9 546.1h0.75M499.0 545.6h0.75M502.2 546.0h0.75M508.4 536.0h0.75M505.7 543.6h0.75M496.5 546.2h0.75M515.6 538.5h0.75M506.1 543.9h0.75M513.3 541.8h0.75M496.5 541.4h0.75M506.1 543.9h0.75M502.2 544.3h0.75M500.1 535.2h0.75M498.9 537.2h0.75M504.2 544.6h0.75M496.4 541.4h0.75M497.0 541.5h0.75M498.9 543.2h0.75M502.5 531.4h0.75M506.3 535.0h0.75M497.6 544.2h0.75M511.8 539.0h0.75M497.8 542.6h0.75M507.2 534.8h0.75M509.5 535.3h0.75M503.3 544.5h0.75M497.7 538.6h0.75M518.9 539.6h0.75M512.2 537.5h0.75M506.8 545.5h0.75M497.1 538.4h0.75M509.5 535.2h0.75M509.8 532.7h0.75M513.1 538.0h0.75M509.3 537.8h0.75M502.8 545.1h0.75M509.7 537.2h0.75M509.8 545.3h0.75M510.7 534.9h0.75M512.8 536.9h0.75M509.8 538.5h0.75M507.4 536.0h0.75M496.5 541.9h0.75M505.2 544.8h0.75M507.0 532.8h0.75M506.4 544.6h0.75M503.6 545.5h0.75M505.5 544.7h0.75M507.0 535.4h0.75M504.9 534.8h0.75M508.2 541.7h0.75M499.0 544.0h0.75M503.2 545.6h0.75M510.7 540.4h0.75M499.0 536.8h0.75M499.9 546.0h0.75M506.0 533.3h0.75M502.3 535.0h0.75M503.8 546.4h0.75M498.2 538.4h0.75M503.8 535.4h0.75M499.6 544.9h0.75M503.5 544.2h0.75M498.3 539.2h0.75M498.5 543.4h0.75M504.1 549.9h0.75M513.4 540.4h0.75M508.2 535.0h0.75M504.7 534.6h0.75M511.4 539.8h0.75M515.9 535.7h0.75M506.6 535.5h0.75M510.6 536.4h0.75M511.1 538.8h0.75M509.5 539.6h0.75M508.3 541.8h0.75M500.8 546.1h0.75M498.3 543.8h0.75M500.4 536.8h0.75M513.1 536.6h0.75M511.3 535.5h0.75M502.2 546.6h0.75M502.9 544.3h0.75M497.1 538.7h0.75M498.9 536.3h0.75M507.4 542.5h0.75M510.3 538.8h0.75M502.0 545.6h0.75M512.2 533.4h0.75M507.3 543.8h0.75M501.1 547.8h0.75M501.1 535.1h0.75M496.1 540.4h0.75M505.7 533.9h0.75M500.7 545.8h0.75M498.3 542.9h0.75M497.9 546.9h0.75M505.5 535.5h0.75M509.4 542.0h0.75M501.5 535.9h0.75M497.2 546.3h0.75M516.2 538.2h0.75M509.7 537.5h0.75M502.2 534.6h0.75M497.3 544.8h0.75M505.5 549.6h0.75M511.2 533.8h0.75M498.4 544.3h0.75M505.2 535.0h0.75M498.0 540.0h0.75M509.1 537.5h0.75M509.0 545.0h0.75M509.5 531.1h0.75M502.3 534.0h0.75M496.5 541.5h0.75M508.2 545.5h0.75M499.3 537.3h0.75M495.6 541.8h0.75M507.9 542.2h0.75M497.4 546.0h0.75M500.1 536.3h0.75M498.7 537.1h0.75M499.7 543.8h0.75M510.0 547.5h0.75M509.0 540.2h0.75M498.1 558.5h0.75M511.2 559.8h0.75M509.6 560.9h0.75M510.3 563.2h0.75M513.9 556.5h0.75M513.3 551.5h0.75M504.3 563.6h0.75M516.7 552.1h0.75M505.1 546.8h0.75M513.8 552.8h0.75M503.4 552.4h0.75M500.3 560.8h0.75M513.9 555.6h0.75M515.4 557.7h0.75M507.7 564.4h0.75M512.1 558.6h0.75M509.0 562.6h0.75M507.9 564.6h0.75M500.5 558.0h0.75M504.4 551.2h0.75M496.5 553.6h0.75M499.4 550.8h0.75M515.0 556.9h0.75M518.9 550.4h0.75M506.3 559.7h0.75M501.8 553.4h0.75M507.2 546.5h0.75M508.3 548.1h0.75M513.2 551.2h0.75M510.2 549.8h0.75M516.3 551.7h0.75M501.4 554.5h0.75M503.2 549.7h0.75M499.4 557.3h0.75M499.6 561.5h0.75M519.5 555.7h0.75M502.7 546.2h0.75M498.4 560.0h0.75M517.8 553.8h0.75M498.0 554.2h0.75M504.6 550.3h0.75M506.9 559.9h0.75M497.7 550.6h0.75M510.7 561.8h0.75M502.5 553.9h0.75M512.6 551.8h0.75M502.4 552.7h0.75M522.4 543.2h0.75M514.9 555.3h0.75M514.9 555.9h0.75M510.6 560.7h0.75M513.3 560.5h0.75M512.1 559.2h0.75M511.7 562.3h0.75M512.0 550.6h0.75M513.7 556.5h0.75M506.2 561.1h0.75M513.0 558.7h0.75M500.1 554.6h0.75M499.6 554.5h0.75M504.7 550.5h0.75M496.1 552.5h0.75M502.8 559.0h0.75M512.5 550.0h0.75M513.4 562.3h0.75M509.0 546.5h0.75M504.5 551.0h0.75M498.3 542.5h0.75M517.7 534.2h0.75M513.3 554.8h0.75M506.7 544.6h0.75M504.3 532.0h0.75M514.7 534.7h0.75M528.2 547.5h0.75M503.3 549.2h0.75M497.7 549.2h0.75M528.7 553.3h0.75M496.0 538.3h0.75M507.8 543.9h0.75M512.5 548.7h0.75M520.4 550.6h0.75M506.4 536.6h0.75M509.7 559.3h0.75M518.0 543.3h0.75M521.2 547.2h0.75M519.1 545.2h0.75M505.4 538.2h0.75M506.8 555.2h0.75M510.0 545.6h0.75M512.2 564.8h0.75M525.2 535.4h0.75M507.4 548.7h0.75M503.0 540.3h0.75M528.2 537.2h0.75M511.6 555.1h0.75M499.9 555.4h0.75M516.4 544.9h0.75M505.1 551.5h0.75M509.9 551.2h0.75M528.3 542.8h0.75M511.3 556.3h0.75M509.8 551.1h0.75M503.5 554.9h0.75M505.7 560.0h0.75M515.7 545.2h0.75M517.4 560.5h0.75M503.0 542.3h0.75M517.9 545.8h0.75M495.7 554.4h0.75M528.1 548.0h0.75M500.7 558.1h0.75M501.6 550.3h0.75M501.1 540.8h0.75M510.4 540.4h0.75M528.3 542.5h0.75M517.0 555.8h0.75M527.2 540.1h0.75M517.7 549.0h0.75M519.7 540.2h0.75M528.0 540.1h0.75M506.3 551.7h0.75M512.1 529.1h0.75M503.9 544.2h0.75M511.4 551.4h0.75M502.3 535.4h0.75M521.1 549.0h0.75M510.3 551.6h0.75M502.7 547.8h0.75M508.5 560.9h0.75M509.5 547.6h0.75M506.9 538.7h0.75M517.2 553.7h0.75M499.4 559.7h0.75M495.9 556.2h0.75M506.1 558.6h0.75M522.2 562.5h0.75M513.2 548.1h0.75M502.3 534.3h0.75M498.1 552.8h0.75M521.5 553.8h0.75M498.4 544.3h0.75M520.2 560.1h0.75M499.3 538.2h0.75M499.2 543.5h0.75M506.5 545.7h0.75M539.7 546.6h0.75M514.0 531.4h0.75M522.4 543.1h0.75M515.0 540.6h0.75M500.5 555.8h0.75M521.6 551.4h0.75M515.9 535.5h0.75M502.1 564.5h0.75M525.3 553.9h0.75M514.0 538.6h0.75M497.2 560.7h0.75M503.7 554.7h0.75M531.2 549.0h0.75M499.5 559.6h0.75M499.4 542.0h0.75M496.3 545.6h0.75M510.0 562.6h0.75M517.8 552.6h0.75M520.3 551.6h0.75M498.3 558.7h0.75M513.3 552.5h0.75M516.5 530.5h0.75M504.9 552.7h0.75M509.0 555.3h0.75M501.6 546.0h0.75" stroke="#ff0000" stroke-width="0.75" fill="none"/>
</g>
<clipPath id="cpj3"><rect x="558.4" y="526.4" width="59.9" height="39.1"/></clipPath>
<g clip-path="url(#cpj3)">
<ellipse cx="583" cy="549.5" rx="9.88" ry="7.22" fill="url(#rgR)" transform="rotate(0 583 549.5)"/>
<ellipse cx="590" cy="557" rx="7.6" ry="7.6" fill="url(#rgR)" transform="rotate(0 590 557)" opacity="0.8"/>
<path d="M579.1 542.5h0.75M577.6 547.3h0.75M587.9 547.3h0.75M585.5 545.7h0.75M580.2 552.8h0.75M577.5 543.9h0.75M586.7 554.3h0.75M576.2 550.4h0.75M592.7 553.3h0.75M573.4 551.1h0.75M585.6 546.1h0.75M587.8 546.7h0.75M574.0 546.2h0.75M587.6 553.0h0.75M587.0 546.5h0.75M566.9 549.4h0.75M578.7 556.6h0.75M580.9 553.0h0.75M583.6 544.4h0.75M586.7 545.1h0.75M582.7 540.9h0.75M582.4 541.9h0.75M578.0 545.7h0.75M580.5 544.1h0.75M591.1 547.8h0.75M586.6 552.4h0.75M579.5 546.7h0.75M591.5 555.0h0.75M589.0 545.5h0.75M578.0 552.1h0.75M574.7 550.3h0.75M591.8 552.6h0.75M583.8 554.0h0.75M586.7 546.6h0.75M588.5 549.5h0.75M587.6 543.2h0.75M584.3 544.5h0.75M578.2 552.3h0.75M589.8 548.9h0.75M577.2 552.5h0.75M576.8 553.6h0.75M586.2 553.7h0.75M581.7 554.1h0.75M581.0 555.9h0.75M584.3 545.9h0.75M586.5 553.7h0.75M587.0 555.4h0.75M583.5 554.7h0.75M577.0 551.5h0.75M586.1 553.0h0.75M578.8 545.8h0.75M574.8 547.3h0.75M584.0 543.5h0.75M585.0 555.7h0.75M587.0 545.1h0.75M576.0 548.8h0.75M585.1 554.7h0.75M584.0 541.8h0.75M579.7 546.3h0.75M587.0 552.2h0.75M576.6 548.4h0.75M581.2 544.9h0.75M587.6 545.0h0.75M588.7 541.9h0.75M589.8 548.5h0.75M581.3 545.9h0.75M591.8 550.6h0.75M580.8 557.9h0.75M591.0 546.5h0.75M591.9 554.7h0.75M579.4 554.0h0.75M587.1 546.7h0.75M590.0 550.7h0.75M576.2 547.5h0.75M574.7 551.5h0.75M582.0 545.1h0.75M586.9 545.8h0.75M579.8 545.8h0.75M577.1 554.2h0.75M585.9 553.6h0.75M582.6 553.8h0.75M587.6 545.1h0.75M580.2 555.1h0.75M583.8 544.1h0.75M587.6 545.8h0.75M577.8 547.0h0.75M584.1 545.7h0.75M589.5 554.1h0.75M581.4 545.7h0.75M584.5 545.5h0.75M577.1 551.2h0.75M587.2 545.8h0.75M592.1 554.6h0.75M587.0 553.4h0.75M581.9 543.9h0.75M576.6 551.4h0.75M578.2 544.8h0.75M590.2 551.9h0.75M591.1 550.4h0.75M581.8 545.5h0.75M588.6 547.9h0.75M577.9 549.8h0.75M583.5 545.6h0.75M589.7 550.3h0.75M575.8 548.7h0.75M590.9 546.5h0.75M577.6 544.7h0.75M587.1 545.0h0.75M586.8 553.3h0.75M587.6 546.4h0.75M582.3 544.4h0.75M590.4 545.6h0.75M590.7 548.9h0.75M583.6 559.6h0.75M583.3 555.9h0.75M592.6 553.2h0.75M584.9 553.8h0.75M593.7 554.1h0.75M585.1 559.8h0.75M599.5 556.9h0.75M593.5 549.2h0.75M596.1 556.4h0.75M585.3 555.3h0.75M586.9 553.3h0.75M585.8 555.0h0.75M585.1 549.9h0.75M593.8 554.2h0.75M585.5 560.1h0.75M583.1 556.0h0.75M594.7 558.1h0.75M587.2 553.8h0.75M585.4 553.8h0.75M587.7 551.7h0.75M594.8 557.5h0.75M588.2 563.3h0.75M595.4 558.8h0.75M594.4 560.6h0.75M587.3 553.1h0.75M591.7 553.5h0.75M594.4 561.9h0.75M592.5 561.2h0.75M588.8 546.9h0.75M587.9 553.1h0.75M594.7 556.7h0.75M586.6 558.9h0.75M593.0 561.8h0.75M596.5 558.3h0.75M597.4 557.1h0.75M584.6 553.2h0.75M593.8 559.8h0.75M586.0 558.8h0.75M594.1 552.6h0.75M596.3 554.2h0.75M586.5 554.9h0.75M593.1 559.9h0.75M594.8 560.2h0.75M584.1 554.5h0.75M586.5 553.7h0.75M593.4 559.3h0.75M593.2 562.9h0.75M585.2 552.8h0.75M585.7 564.1h0.75M586.7 551.0h0.75M595.9 557.7h0.75M577.2 555.9h0.75M569.7 557.9h0.75M570.3 547.0h0.75M568.7 554.5h0.75M569.6 560.5h0.75M568.3 541.8h0.75M570.9 546.5h0.75M570.3 560.8h0.75M576.3 552.7h0.75M569.1 546.7h0.75M578.5 546.2h0.75M568.6 554.0h0.75M570.5 561.7h0.75M580.0 549.3h0.75M590.8 543.6h0.75M564.8 556.6h0.75M564.1 556.8h0.75M566.0 560.3h0.75M568.9 553.7h0.75M576.1 560.0h0.75M565.0 543.4h0.75M561.8 556.0h0.75M577.7 555.2h0.75M567.7 542.8h0.75M582.3 554.8h0.75M589.7 546.8h0.75M586.9 547.4h0.75M571.5 561.3h0.75M565.6 555.5h0.75M571.7 553.8h0.75M579.3 546.5h0.75M592.9 554.9h0.75M571.2 562.0h0.75M574.4 549.8h0.75M586.3 534.1h0.75M578.5 557.2h0.75M560.9 557.5h0.75M564.2 542.8h0.75M560.5 549.8h0.75M566.0 552.8h0.75M571.7 558.9h0.75M569.2 544.0h0.75M573.3 547.8h0.75M577.2 543.4h0.75M582.2 562.4h0.75M578.4 549.1h0.75M562.8 555.3h0.75M571.3 552.4h0.75M580.8 549.8h0.75M574.6 552.7h0.75M574.5 554.1h0.75M569.1 559.1h0.75M566.5 547.0h0.75M568.6 553.4h0.75M563.3 553.4h0.75M568.9 556.4h0.75M572.6 547.9h0.75M568.3 555.6h0.75M567.8 544.4h0.75M573.9 551.8h0.75M567.0 550.9h0.75M575.2 541.9h0.75M589.7 560.1h0.75M581.9 559.8h0.75M583.7 562.4h0.75M573.1 552.9h0.75M570.3 543.3h0.75M595.2 551.0h0.75M573.9 557.9h0.75M580.8 533.5h0.75M584.3 557.6h0.75M586.1 549.2h0.75M581.1 558.7h0.75M571.5 542.2h0.75M579.4 537.5h0.75M574.9 554.2h0.75M579.4 562.7h0.75M581.1 559.8h0.75M585.4 559.7h0.75M572.7 562.7h0.75M574.3 553.0h0.75M564.1 549.7h0.75M563.8 560.6h0.75M571.3 551.1h0.75M569.0 552.4h0.75M569.7 545.3h0.75M579.7 561.7h0.75M570.0 546.8h0.75M576.1 547.3h0.75M565.5 546.9h0.75M572.0 552.7h0.75M576.9 550.8h0.75M576.1 550.3h0.75M580.1 551.0h0.75M575.5 543.8h0.75M561.2 534.4h0.75M566.0 556.1h0.75M568.7 535.0h0.75M569.9 555.0h0.75M577.7 549.4h0.75M569.4 546.1h0.75M578.0 548.1h0.75M578.1 556.7h0.75M571.2 556.7h0.75M565.0 544.5h0.75M589.3 529.3h0.75M561.9 540.3h0.75M559.9 554.3h0.75M570.3 541.8h0.75M569.7 560.8h0.75M569.9 553.9h0.75M566.0 546.1h0.75M586.4 546.9h0.75M581.9 552.5h0.75M568.5 550.7h0.75M583.7 552.4h0.75M571.4 550.1h0.75M585.7 546.4h0.75M581.9 558.3h0.75M572.0 545.7h0.75M577.8 554.4h0.75M567.9 545.2h0.75M573.4 552.4h0.75M564.4 553.6h0.75M561.3 555.5h0.75M573.1 551.5h0.75M578.3 551.5h0.75M579.8 544.5h0.75M592.6 553.5h0.75M569.3 556.1h0.75M564.6 560.0h0.75M563.5 555.0h0.75M563.5 551.4h0.75M571.4 554.3h0.75M583.3 555.9h0.75M575.1 558.3h0.75M584.9 554.1h0.75M569.5 555.1h0.75M571.2 545.3h0.75M566.3 557.4h0.75M568.1 560.0h0.75M568.6 540.5h0.75M571.5 540.1h0.75M579.4 540.8h0.75M570.0 550.0h0.75M574.1 561.1h0.75M561.1 533.7h0.75M572.6 561.2h0.75M576.1 550.2h0.75M569.6 550.2h0.75M561.1 555.5h0.75M571.6 559.3h0.75M586.6 558.1h0.75M576.8 543.0h0.75M587.4 558.0h0.75M571.2 551.6h0.75M576.7 537.4h0.75M572.6 562.6h0.75M564.9 563.0h0.75M572.8 551.1h0.75M570.3 550.6h0.75M577.8 557.9h0.75M568.6 557.4h0.75M562.3 536.2h0.75M564.4 545.7h0.75M579.1 546.2h0.75M582.2 562.4h0.75M570.4 554.5h0.75M577.2 555.4h0.75M567.6 551.3h0.75M570.2 552.2h0.75M569.6 553.6h0.75M572.9 546.5h0.75M574.7 537.3h0.75M566.6 554.7h0.75M561.2 556.1h0.75M587.3 549.6h0.75M568.7 558.6h0.75M582.6 547.8h0.75M579.4 535.9h0.75M582.2 561.2h0.75M578.0 560.8h0.75M577.5 555.2h0.75M585.4 553.5h0.75M563.8 540.6h0.75M592.7 545.9h0.75M581.6 548.8h0.75M583.7 548.8h0.75M581.0 535.8h0.75M565.6 555.5h0.75M571.9 547.5h0.75M564.4 563.8h0.75M581.1 557.0h0.75M560.8 548.1h0.75M589.1 559.4h0.75M566.3 559.6h0.75M580.0 541.9h0.75M583.5 551.6h0.75M580.7 551.8h0.75M583.4 543.7h0.75M581.2 546.3h0.75M577.5 553.9h0.75M567.1 554.2h0.75M583.9 540.9h0.75M581.4 543.2h0.75M570.6 561.7h0.75M567.4 557.4h0.75M581.0 543.5h0.75M575.0 550.0h0.75M560.3 550.4h0.75M560.7 545.9h0.75M582.1 551.3h0.75M575.4 546.8h0.75M571.5 549.4h0.75M580.8 549.3h0.75M594.1 543.3h0.75M588.9 543.2h0.75M578.9 551.9h0.75M581.3 550.3h0.75M587.4 555.4h0.75M568.0 553.4h0.75M573.6 554.2h0.75M587.9 557.8h0.75M568.9 548.1h0.75M574.8 554.3h0.75M570.4 553.7h0.75M578.6 558.7h0.75M560.4 562.1h0.75M586.6 541.4h0.75M570.6 555.0h0.75M574.4 550.5h0.75M586.7 546.5h0.75M572.3 540.9h0.75M582.6 542.1h0.75M584.5 541.3h0.75M580.7 557.9h0.75M581.2 546.2h0.75M584.9 557.9h0.75M566.3 537.8h0.75M571.7 547.9h0.75M578.5 538.4h0.75M567.7 536.7h0.75M583.1 538.5h0.75M559.6 555.5h0.75M579.0 552.8h0.75M569.1 554.4h0.75M585.4 559.1h0.75M571.6 552.7h0.75M580.9 556.2h0.75M567.0 547.6h0.75M566.5 547.3h0.75M566.8 549.7h0.75M568.3 550.0h0.75M569.8 558.7h0.75M559.7 550.8h0.75M586.0 547.2h0.75M582.1 542.8h0.75M589.7 559.3h0.75M578.0 554.2h0.75M585.0 550.5h0.75M565.5 546.1h0.75M569.0 560.8h0.75M578.3 541.5h0.75M577.8 562.5h0.75M581.1 557.1h0.75M568.8 553.5h0.75M592.4 563.1h0.75M569.1 541.2h0.75M568.1 553.3h0.75M586.1 547.7h0.75M586.9 544.1h0.75M584.8 549.9h0.75M569.4 534.2h0.75M582.3 552.9h0.75M577.4 556.5h0.75M571.9 552.7h0.75M570.8 553.5h0.75M582.8 553.3h0.75M568.5 561.3h0.75M587.7 549.5h0.75M590.0 548.9h0.75M561.3 564.4h0.75M574.0 549.8h0.75M567.6 564.4h0.75M589.8 555.8h0.75M574.7 550.0h0.75M580.2 551.9h0.75M569.9 550.2h0.75M571.6 558.0h0.75M569.9 558.4h0.75M579.2 546.8h0.75M585.7 556.1h0.75M580.9 550.7h0.75M583.0 557.8h0.75M582.3 551.3h0.75M568.2 556.4h0.75M573.3 554.7h0.75M573.9 542.8h0.75M564.8 563.9h0.75M579.7 554.8h0.75M584.8 546.8h0.75M567.9 560.2h0.75M566.3 548.3h0.75M570.7 548.1h0.75M563.8 551.8h0.75M577.0 552.2h0.75M573.6 543.5h0.75M572.5 547.8h0.75M567.4 557.3h0.75M587.1 550.5h0.75M564.5 547.5h0.75M572.3 557.9h0.75M567.4 564.4h0.75M562.0 552.8h0.75M568.6 563.6h0.75M570.9 560.5h0.75M585.2 544.3h0.75M595.3 554.5h0.75M584.6 547.2h0.75M591.1 543.6h0.75M575.3 557.6h0.75M592.6 557.1h0.75M582.5 539.9h0.75M590.4 557.3h0.75M567.9 545.2h0.75M605.4 544.4h0.75M566.8 553.9h0.75M602.1 564.2h0.75M568.8 543.1h0.75M604.9 554.1h0.75M572.8 551.2h0.75M561.9 558.1h0.75M583.2 538.1h0.75M593.0 554.3h0.75M589.0 549.4h0.75M580.2 554.7h0.75M579.8 538.8h0.75M561.4 546.9h0.75M584.2 531.8h0.75M597.5 559.8h0.75M570.7 559.6h0.75M578.5 563.0h0.75M587.4 559.9h0.75M574.2 561.9h0.75M607.8 552.4h0.75M562.1 556.1h0.75M574.1 552.5h0.75M565.6 559.7h0.75M587.1 549.3h0.75M565.1 534.1h0.75M569.0 548.3h0.75M600.1 558.8h0.75M611.3 561.2h0.75M582.6 545.5h0.75M567.1 536.4h0.75M576.3 548.2h0.75M573.2 553.7h0.75M563.6 536.7h0.75M591.4 543.7h0.75M591.7 545.7h0.75M584.2 539.7h0.75M592.0 545.8h0.75M574.7 554.6h0.75M577.2 534.9h0.75M574.3 558.2h0.75M567.9 547.6h0.75M582.9 547.9h0.75M582.0 540.3h0.75M560.2 552.6h0.75M568.2 546.9h0.75M588.0 552.8h0.75M574.1 537.6h0.75M578.1 536.3h0.75M564.4 528.5h0.75M562.3 558.8h0.75M591.4 558.2h0.75M566.2 539.2h0.75M595.5 558.6h0.75M564.8 529.5h0.75M567.3 538.7h0.75M588.5 561.2h0.75M597.6 542.0h0.75M566.3 552.8h0.75M572.4 548.6h0.75M599.4 544.3h0.75M580.8 545.0h0.75M567.4 555.3h0.75M596.6 562.5h0.75M571.5 553.3h0.75M567.3 535.1h0.75M605.1 540.0h0.75M601.4 553.4h0.75M575.4 544.4h0.75M577.1 561.1h0.75M588.5 559.6h0.75M571.4 542.4h0.75M597.4 555.0h0.75M586.2 560.4h0.75M578.5 546.2h0.75M577.5 537.1h0.75M598.5 546.8h0.75M585.0 554.1h0.75M581.4 564.2h0.75M608.6 547.4h0.75M579.6 546.1h0.75M571.8 545.2h0.75M594.8 553.9h0.75M590.6 554.3h0.75M568.2 549.7h0.75M576.9 537.9h0.75M581.8 551.1h0.75M571.8 549.8h0.75M568.4 553.9h0.75" stroke="#ff0000" stroke-width="0.75" fill="none"/>
</g>
<rect x="495" y="459" width="59.8" height="59.9" fill="none" stroke="#7a7a7a" stroke-width="0.6"/>
<line x1="495" y1="492.9" x2="554.8" y2="492.9" stroke="#555" stroke-width="0.5"/>
<line x1="507.5" y1="492.9" x2="507.5" y2="518.9" stroke="#555" stroke-width="0.5"/>
<line x1="507.5" y1="492.9" x2="521.9" y2="459" stroke="#333" stroke-width="0.5"/>
<line x1="495" y1="465.66" x2="495.9" y2="465.66" stroke="#999" stroke-width="0.35"/>
<line x1="501.64" y1="518" x2="501.64" y2="518.9" stroke="#999" stroke-width="0.35"/>
<line x1="495" y1="472.31" x2="495.9" y2="472.31" stroke="#999" stroke-width="0.35"/>
<line x1="508.29" y1="518" x2="508.29" y2="518.9" stroke="#999" stroke-width="0.35"/>
<line x1="495" y1="478.97" x2="495.9" y2="478.97" stroke="#999" stroke-width="0.35"/>
<line x1="514.93" y1="518" x2="514.93" y2="518.9" stroke="#999" stroke-width="0.35"/>
<line x1="495" y1="485.62" x2="495.9" y2="485.62" stroke="#999" stroke-width="0.35"/>
<line x1="521.58" y1="518" x2="521.58" y2="518.9" stroke="#999" stroke-width="0.35"/>
<line x1="495" y1="492.28" x2="495.9" y2="492.28" stroke="#999" stroke-width="0.35"/>
<line x1="528.22" y1="518" x2="528.22" y2="518.9" stroke="#999" stroke-width="0.35"/>
<line x1="495" y1="498.93" x2="495.9" y2="498.93" stroke="#999" stroke-width="0.35"/>
<line x1="534.87" y1="518" x2="534.87" y2="518.9" stroke="#999" stroke-width="0.35"/>
<line x1="495" y1="505.59" x2="495.9" y2="505.59" stroke="#999" stroke-width="0.35"/>
<line x1="541.51" y1="518" x2="541.51" y2="518.9" stroke="#999" stroke-width="0.35"/>
<line x1="495" y1="512.24" x2="495.9" y2="512.24" stroke="#999" stroke-width="0.35"/>
<line x1="548.16" y1="518" x2="548.16" y2="518.9" stroke="#999" stroke-width="0.35"/>
<text x="553.8" y="467.96" text-anchor="end" style="font-size:7.6px">3.80%</text>
<rect x="558.4" y="459" width="59.9" height="59.9" fill="none" stroke="#7a7a7a" stroke-width="0.6"/>
<line x1="558.4" y1="492.9" x2="618.3" y2="492.9" stroke="#555" stroke-width="0.5"/>
<line x1="570.4" y1="492.9" x2="570.4" y2="518.9" stroke="#555" stroke-width="0.5"/>
<line x1="570.4" y1="492.9" x2="584" y2="459" stroke="#333" stroke-width="0.5"/>
<line x1="558.4" y1="465.66" x2="559.3" y2="465.66" stroke="#999" stroke-width="0.35"/>
<line x1="565.06" y1="518" x2="565.06" y2="518.9" stroke="#999" stroke-width="0.35"/>
<line x1="558.4" y1="472.31" x2="559.3" y2="472.31" stroke="#999" stroke-width="0.35"/>
<line x1="571.71" y1="518" x2="571.71" y2="518.9" stroke="#999" stroke-width="0.35"/>
<line x1="558.4" y1="478.97" x2="559.3" y2="478.97" stroke="#999" stroke-width="0.35"/>
<line x1="578.37" y1="518" x2="578.37" y2="518.9" stroke="#999" stroke-width="0.35"/>
<line x1="558.4" y1="485.62" x2="559.3" y2="485.62" stroke="#999" stroke-width="0.35"/>
<line x1="585.02" y1="518" x2="585.02" y2="518.9" stroke="#999" stroke-width="0.35"/>
<line x1="558.4" y1="492.28" x2="559.3" y2="492.28" stroke="#999" stroke-width="0.35"/>
<line x1="591.68" y1="518" x2="591.68" y2="518.9" stroke="#999" stroke-width="0.35"/>
<line x1="558.4" y1="498.93" x2="559.3" y2="498.93" stroke="#999" stroke-width="0.35"/>
<line x1="598.33" y1="518" x2="598.33" y2="518.9" stroke="#999" stroke-width="0.35"/>
<line x1="558.4" y1="505.59" x2="559.3" y2="505.59" stroke="#999" stroke-width="0.35"/>
<line x1="604.99" y1="518" x2="604.99" y2="518.9" stroke="#999" stroke-width="0.35"/>
<line x1="558.4" y1="512.24" x2="559.3" y2="512.24" stroke="#999" stroke-width="0.35"/>
<line x1="611.64" y1="518" x2="611.64" y2="518.9" stroke="#999" stroke-width="0.35"/>
<text x="614.6" y="467.96" text-anchor="end" style="font-size:7.6px">13.69%</text>
<rect x="495" y="526.4" width="59.8" height="59.8" fill="none" stroke="#7a7a7a" stroke-width="0.6"/>
<line x1="495" y1="564.7" x2="554.8" y2="564.7" stroke="#555" stroke-width="0.5"/>
<line x1="517.6" y1="564.7" x2="517.6" y2="586.2" stroke="#555" stroke-width="0.5"/>
<line x1="508.7" y1="526.4" x2="517.6" y2="564.7" stroke="#333" stroke-width="0.5"/>
<line x1="495" y1="533.04" x2="495.9" y2="533.04" stroke="#999" stroke-width="0.35"/>
<line x1="501.64" y1="585.3" x2="501.64" y2="586.2" stroke="#999" stroke-width="0.35"/>
<line x1="495" y1="539.69" x2="495.9" y2="539.69" stroke="#999" stroke-width="0.35"/>
<line x1="508.29" y1="585.3" x2="508.29" y2="586.2" stroke="#999" stroke-width="0.35"/>
<line x1="495" y1="546.33" x2="495.9" y2="546.33" stroke="#999" stroke-width="0.35"/>
<line x1="514.93" y1="585.3" x2="514.93" y2="586.2" stroke="#999" stroke-width="0.35"/>
<line x1="495" y1="552.98" x2="495.9" y2="552.98" stroke="#999" stroke-width="0.35"/>
<line x1="521.58" y1="585.3" x2="521.58" y2="586.2" stroke="#999" stroke-width="0.35"/>
<line x1="495" y1="559.62" x2="495.9" y2="559.62" stroke="#999" stroke-width="0.35"/>
<line x1="528.22" y1="585.3" x2="528.22" y2="586.2" stroke="#999" stroke-width="0.35"/>
<line x1="495" y1="566.27" x2="495.9" y2="566.27" stroke="#999" stroke-width="0.35"/>
<line x1="534.87" y1="585.3" x2="534.87" y2="586.2" stroke="#999" stroke-width="0.35"/>
<line x1="495" y1="572.91" x2="495.9" y2="572.91" stroke="#999" stroke-width="0.35"/>
<line x1="541.51" y1="585.3" x2="541.51" y2="586.2" stroke="#999" stroke-width="0.35"/>
<line x1="495" y1="579.56" x2="495.9" y2="579.56" stroke="#999" stroke-width="0.35"/>
<line x1="548.16" y1="585.3" x2="548.16" y2="586.2" stroke="#999" stroke-width="0.35"/>
<text x="553.8" y="537.46" text-anchor="end" style="font-size:7.6px">1.00%</text>
<rect x="558.4" y="526.4" width="59.9" height="59.8" fill="none" stroke="#7a7a7a" stroke-width="0.6"/>
<line x1="558.4" y1="564.7" x2="618.3" y2="564.7" stroke="#555" stroke-width="0.5"/>
<line x1="581" y1="564.7" x2="581" y2="586.2" stroke="#555" stroke-width="0.5"/>
<line x1="572.4" y1="526.4" x2="581" y2="564.7" stroke="#333" stroke-width="0.5"/>
<line x1="558.4" y1="533.04" x2="559.3" y2="533.04" stroke="#999" stroke-width="0.35"/>
<line x1="565.06" y1="585.3" x2="565.06" y2="586.2" stroke="#999" stroke-width="0.35"/>
<line x1="558.4" y1="539.69" x2="559.3" y2="539.69" stroke="#999" stroke-width="0.35"/>
<line x1="571.71" y1="585.3" x2="571.71" y2="586.2" stroke="#999" stroke-width="0.35"/>
<line x1="558.4" y1="546.33" x2="559.3" y2="546.33" stroke="#999" stroke-width="0.35"/>
<line x1="578.37" y1="585.3" x2="578.37" y2="586.2" stroke="#999" stroke-width="0.35"/>
<line x1="558.4" y1="552.98" x2="559.3" y2="552.98" stroke="#999" stroke-width="0.35"/>
<line x1="585.02" y1="585.3" x2="585.02" y2="586.2" stroke="#999" stroke-width="0.35"/>
<line x1="558.4" y1="559.62" x2="559.3" y2="559.62" stroke="#999" stroke-width="0.35"/>
<line x1="591.68" y1="585.3" x2="591.68" y2="586.2" stroke="#999" stroke-width="0.35"/>
<line x1="558.4" y1="566.27" x2="559.3" y2="566.27" stroke="#999" stroke-width="0.35"/>
<line x1="598.33" y1="585.3" x2="598.33" y2="586.2" stroke="#999" stroke-width="0.35"/>
<line x1="558.4" y1="572.91" x2="559.3" y2="572.91" stroke="#999" stroke-width="0.35"/>
<line x1="604.99" y1="585.3" x2="604.99" y2="586.2" stroke="#999" stroke-width="0.35"/>
<line x1="558.4" y1="579.56" x2="559.3" y2="579.56" stroke="#999" stroke-width="0.35"/>
<line x1="611.64" y1="585.3" x2="611.64" y2="586.2" stroke="#999" stroke-width="0.35"/>
<text x="614.5" y="537.46" text-anchor="end" style="font-size:7.6px">68.17%</text>
<line x1="489.6" y1="498.3" x2="489.6" y2="464" stroke="#000" stroke-width="1.2"/>
<path d="M487.6 465.6L491.6 465.6L489.6 461Z" fill="#000"/>
<line x1="489.6" y1="565.3" x2="489.6" y2="529.8" stroke="#000" stroke-width="1.2"/>
<path d="M487.6 531.4L491.6 531.4L489.6 526.8Z" fill="#000"/>
<text x="489.6" y="512.87" text-anchor="middle" style="font-size:8.2px" transform="rotate(-90 489.6 510)">CD4</text>
<text x="489.6" y="580.57" text-anchor="middle" style="font-size:8.2px" transform="rotate(-90 489.6 577.7)">CD8</text>
<text x="498" y="596.54" style="font-size:8.4px">CD107a</text>
<line x1="532.4" y1="592.6" x2="613.2" y2="592.6" stroke="#000" stroke-width="1.2"/>
<path d="M611.6 590.6L611.6 594.6L616.2 592.6Z" fill="#000"/>
<defs><pattern id="pPB" patternUnits="userSpaceOnUse" x="68.2" width="3.6" height="4.8"><rect width="3.6" height="4.8" fill="#0000ff"/><ellipse cx="0.9" cy="1.2" rx="0.8" ry="0.65" fill="#fff"/><ellipse cx="2.7" cy="3.6" rx="0.8" ry="0.65" fill="#fff"/></pattern><pattern id="pSB" patternUnits="userSpaceOnUse" width="5.2" height="5.2" patternTransform="rotate(45)"><rect width="5.2" height="5.2" fill="#fff"/><rect width="2.0" height="5.2" fill="#0000ff"/></pattern><pattern id="pNB" patternUnits="userSpaceOnUse" width="2.4" height="2.4" patternTransform="rotate(-45)"><rect width="2.4" height="2.4" fill="#0000ff"/><rect width="0.9" height="2.4" fill="#fff"/></pattern><pattern id="pVB" patternUnits="userSpaceOnUse" width="2.4" height="2.4"><rect width="2.4" height="2.4" fill="#fff"/><circle cx="1.2" cy="1.2" r="0.6" fill="#0000ff"/></pattern><pattern id="pPR" patternUnits="userSpaceOnUse" x="68.2" width="3.6" height="4.8"><rect width="3.6" height="4.8" fill="#d60000"/><ellipse cx="0.9" cy="1.2" rx="0.8" ry="0.65" fill="#fff"/><ellipse cx="2.7" cy="3.6" rx="0.8" ry="0.65" fill="#fff"/></pattern><pattern id="pSR" patternUnits="userSpaceOnUse" width="5.2" height="5.2" patternTransform="rotate(45)"><rect width="5.2" height="5.2" fill="#fff"/><rect width="2.0" height="5.2" fill="#d60000"/></pattern><pattern id="pNR" patternUnits="userSpaceOnUse" width="2.4" height="2.4" patternTransform="rotate(-45)"><rect width="2.4" height="2.4" fill="#d60000"/><rect width="0.9" height="2.4" fill="#fff"/></pattern><pattern id="pVR" patternUnits="userSpaceOnUse" width="2.4" height="2.4"><rect width="2.4" height="2.4" fill="#fff"/><circle cx="1.2" cy="1.2" r="0.6" fill="#d60000"/></pattern></defs>
<line x1="52.9" y1="618.6" x2="52.9" y2="678.6" stroke="#9a9a9a" stroke-width="0.8"/>
<line x1="52.9" y1="678.6" x2="129" y2="678.6" stroke="#9a9a9a" stroke-width="0.8"/>
<line x1="50.5" y1="678.6" x2="52.9" y2="678.6" stroke="#9a9a9a" stroke-width="0.8"/>
<text x="48.7" y="681.4" text-anchor="end" style="font-size:8px">0</text>
<line x1="50.5" y1="658.6" x2="52.9" y2="658.6" stroke="#9a9a9a" stroke-width="0.8"/>
<text x="48.7" y="661.4" text-anchor="end" style="font-size:8px">5</text>
<line x1="50.5" y1="638.6" x2="52.9" y2="638.6" stroke="#9a9a9a" stroke-width="0.8"/>
<text x="48.7" y="641.4" text-anchor="end" style="font-size:8px">10</text>
<line x1="50.5" y1="618.6" x2="52.9" y2="618.6" stroke="#9a9a9a" stroke-width="0.8"/>
<text x="48.7" y="621.4" text-anchor="end" style="font-size:8px">15</text>
<text x="91.2" y="613.48" text-anchor="middle" style="font-size:8.8px">CD4<tspan dy="-3.9" style="font-size:6px">+</tspan><tspan dy="3.9">IFNγ</tspan><tspan dy="-3.9" style="font-size:6px">+</tspan></text>
<rect x="68.2" y="653" width="10.7" height="25.6" fill="url(#pPB)"/>
<rect x="68.2" y="642.6" width="10.7" height="10.4" fill="url(#pSB)"/>
<rect x="68.2" y="636.2" width="10.7" height="6.4" fill="#0000ff"/>
<rect x="68.2" y="626" width="10.7" height="10.2" fill="url(#pNB)"/>
<rect x="68.2" y="624.6" width="10.7" height="1.4" fill="url(#pVB)"/>
<rect x="68.2" y="624.6" width="10.7" height="54" fill="none" stroke="#444" stroke-width="0.5"/>
<line x1="68.2" y1="653" x2="78.9" y2="653" stroke="#333" stroke-width="0.5"/>
<line x1="68.2" y1="642.6" x2="78.9" y2="642.6" stroke="#333" stroke-width="0.5"/>
<line x1="68.2" y1="636.2" x2="78.9" y2="636.2" stroke="#333" stroke-width="0.5"/>
<line x1="68.2" y1="626" x2="78.9" y2="626" stroke="#333" stroke-width="0.5"/>
<rect x="68.2" y="642.6" width="10.7" height="10.4" fill="none" stroke="#444" stroke-width="0.55"/>
<line x1="73.55" y1="624.6" x2="73.55" y2="623" stroke="#444" stroke-width="0.6"/>
<line x1="71.55" y1="623" x2="75.55" y2="623" stroke="#444" stroke-width="0.6"/>
<rect x="106.7" y="675.8" width="8.7" height="2.8" fill="#a9a9a9"/>
<rect x="108.5" y="623.2" width="4.6" height="4.6" fill="url(#pVB)" stroke="#333" stroke-width="0.5"/>
<text x="117.9" y="628.3" style="font-size:8px">Survivin</text>
<rect x="108.5" y="630.5" width="4.6" height="4.6" fill="url(#pNB)" stroke="#333" stroke-width="0.5"/>
<text x="117.9" y="635.6" style="font-size:8px" textLength="34.1" lengthAdjust="spacingAndGlyphs">NY-ESO-1</text>
<rect x="108.5" y="637.8" width="4.6" height="4.6" fill="#0000ff" stroke="#333" stroke-width="0.5"/>
<text x="117.9" y="642.9" style="font-size:8px" textLength="34.6" lengthAdjust="spacingAndGlyphs">MAGE-A4</text>
<rect x="108.5" y="645.1" width="4.6" height="4.6" fill="url(#pSB)" stroke="#333" stroke-width="0.5"/>
<text x="117.9" y="650.2" style="font-size:8px">SSX2</text>
<rect x="108.5" y="652.4" width="4.6" height="4.6" fill="url(#pPB)" stroke="#333" stroke-width="0.5"/>
<text x="117.9" y="657.5" style="font-size:8px" textLength="25.4" lengthAdjust="spacingAndGlyphs">PRAME</text>
<rect x="108.5" y="659.7" width="4.6" height="4.6" fill="#a9a9a9"/>
<text x="117.9" y="664.8" style="font-size:8px">Control</text>
<text x="132.8" y="679.31" style="font-size:6.9px"><tspan style="font-style:italic">n</tspan> = 16</text>
<text x="21.1" y="651.57" text-anchor="middle" style="font-size:9.35px" transform="rotate(-90 21.1 648.3)">Percentage of</text>
<text x="32.3" y="651.78" text-anchor="middle" style="font-size:9.1px" transform="rotate(-90 32.3 648.6)">CD4<tspan dy="-3.9" style="font-size:6px">+</tspan><tspan dy="3.9"> T cells</tspan></text>
<text x="74.8" y="689.25" text-anchor="middle" style="font-size:9px">TAA</text>
<text x="111.7" y="689.25" text-anchor="middle" style="font-size:9px;letter-spacing:0.45px">Control</text>
<line x1="209.6" y1="618.1" x2="209.6" y2="678.6" stroke="#9a9a9a" stroke-width="0.8"/>
<line x1="209.6" y1="678.6" x2="284.1" y2="678.6" stroke="#9a9a9a" stroke-width="0.8"/>
<line x1="207.2" y1="678.6" x2="209.6" y2="678.6" stroke="#9a9a9a" stroke-width="0.8"/>
<text x="205.4" y="681.4" text-anchor="end" style="font-size:8px">0</text>
<line x1="207.2" y1="663.48" x2="209.6" y2="663.48" stroke="#9a9a9a" stroke-width="0.8"/>
<text x="205.4" y="666.27" text-anchor="end" style="font-size:8px">5</text>
<line x1="207.2" y1="648.35" x2="209.6" y2="648.35" stroke="#9a9a9a" stroke-width="0.8"/>
<text x="205.4" y="651.15" text-anchor="end" style="font-size:8px">10</text>
<line x1="207.2" y1="633.23" x2="209.6" y2="633.23" stroke="#9a9a9a" stroke-width="0.8"/>
<text x="205.4" y="636.02" text-anchor="end" style="font-size:8px">15</text>
<line x1="207.2" y1="618.1" x2="209.6" y2="618.1" stroke="#9a9a9a" stroke-width="0.8"/>
<text x="205.4" y="620.9" text-anchor="end" style="font-size:8px">20</text>
<text x="246.2" y="612.48" text-anchor="middle" style="font-size:8.8px">CD4<tspan dy="-3.9" style="font-size:6px">+</tspan><tspan dy="3.9">TNF</tspan><tspan dy="-3.9" style="font-size:6px">+</tspan></text>
<rect x="223.3" y="655.91" width="10.4" height="22.69" fill="url(#pPB)"/>
<rect x="223.3" y="648.35" width="10.4" height="7.56" fill="url(#pSB)"/>
<rect x="223.3" y="642.3" width="10.4" height="6.05" fill="#0000ff"/>
<rect x="223.3" y="634.74" width="10.4" height="7.56" fill="url(#pNB)"/>
<rect x="223.3" y="632.32" width="10.4" height="2.42" fill="url(#pVB)"/>
<rect x="223.3" y="632.32" width="10.4" height="46.28" fill="none" stroke="#444" stroke-width="0.5"/>
<line x1="223.3" y1="655.91" x2="233.7" y2="655.91" stroke="#333" stroke-width="0.5"/>
<line x1="223.3" y1="648.35" x2="233.7" y2="648.35" stroke="#333" stroke-width="0.5"/>
<line x1="223.3" y1="642.3" x2="233.7" y2="642.3" stroke="#333" stroke-width="0.5"/>
<line x1="223.3" y1="634.74" x2="233.7" y2="634.74" stroke="#333" stroke-width="0.5"/>
<rect x="223.3" y="648.35" width="10.4" height="7.56" fill="none" stroke="#444" stroke-width="0.55"/>
<line x1="228.5" y1="632.32" x2="228.5" y2="631.11" stroke="#444" stroke-width="0.6"/>
<line x1="226.5" y1="631.11" x2="230.5" y2="631.11" stroke="#444" stroke-width="0.6"/>
<rect x="261.3" y="676.18" width="7.9" height="2.42" fill="#a9a9a9"/>
<rect x="263.7" y="622" width="4.6" height="4.6" fill="url(#pVB)" stroke="#333" stroke-width="0.5"/>
<text x="272.9" y="627.1" style="font-size:8px">Survivin</text>
<rect x="263.7" y="629.3" width="4.6" height="4.6" fill="url(#pNB)" stroke="#333" stroke-width="0.5"/>
<text x="272.9" y="634.4" style="font-size:8px" textLength="34.1" lengthAdjust="spacingAndGlyphs">NY-ESO-1</text>
<rect x="263.7" y="636.6" width="4.6" height="4.6" fill="#0000ff" stroke="#333" stroke-width="0.5"/>
<text x="272.9" y="641.7" style="font-size:8px" textLength="34.6" lengthAdjust="spacingAndGlyphs">MAGE-A4</text>
<rect x="263.7" y="643.9" width="4.6" height="4.6" fill="url(#pSB)" stroke="#333" stroke-width="0.5"/>
<text x="272.9" y="649" style="font-size:8px">SSX2</text>
<rect x="263.7" y="651.2" width="4.6" height="4.6" fill="url(#pPB)" stroke="#333" stroke-width="0.5"/>
<text x="272.9" y="656.3" style="font-size:8px" textLength="25.4" lengthAdjust="spacingAndGlyphs">PRAME</text>
<rect x="263.7" y="658.5" width="4.6" height="4.6" fill="#a9a9a9"/>
<text x="272.9" y="663.6" style="font-size:8px">Control</text>
<text x="287.8" y="678.62" style="font-size:6.9px"><tspan style="font-style:italic">n</tspan> = 16</text>
<text x="173.7" y="651.32" text-anchor="middle" style="font-size:9.35px" transform="rotate(-90 173.7 648.05)">Percentage of</text>
<text x="184.3" y="651.53" text-anchor="middle" style="font-size:9.1px" transform="rotate(-90 184.3 648.35)">CD4<tspan dy="-3.9" style="font-size:6px">+</tspan><tspan dy="3.9"> T cells</tspan></text>
<text x="228.6" y="688.75" text-anchor="middle" style="font-size:9px">TAA</text>
<text x="265.7" y="688.75" text-anchor="middle" style="font-size:9px;letter-spacing:0.45px">Control</text>
<line x1="364.7" y1="618.1" x2="364.7" y2="678.6" stroke="#9a9a9a" stroke-width="0.8"/>
<line x1="364.7" y1="678.6" x2="439.6" y2="678.6" stroke="#9a9a9a" stroke-width="0.8"/>
<line x1="362.3" y1="678.6" x2="364.7" y2="678.6" stroke="#9a9a9a" stroke-width="0.8"/>
<text x="360.5" y="681.4" text-anchor="end" style="font-size:8px">0</text>
<line x1="362.3" y1="658.43" x2="364.7" y2="658.43" stroke="#9a9a9a" stroke-width="0.8"/>
<text x="360.5" y="661.23" text-anchor="end" style="font-size:8px">10</text>
<line x1="362.3" y1="638.27" x2="364.7" y2="638.27" stroke="#9a9a9a" stroke-width="0.8"/>
<text x="360.5" y="641.07" text-anchor="end" style="font-size:8px">20</text>
<line x1="362.3" y1="618.1" x2="364.7" y2="618.1" stroke="#9a9a9a" stroke-width="0.8"/>
<text x="360.5" y="620.9" text-anchor="end" style="font-size:8px">30</text>
<text x="400.1" y="612.48" text-anchor="middle" style="font-size:8.8px">CD4<tspan dy="-3.9" style="font-size:6px">+</tspan><tspan dy="3.9">4-1BB</tspan><tspan dy="-3.9" style="font-size:6px">+</tspan></text>
<rect x="377.6" y="656.42" width="10.7" height="22.18" fill="url(#pPB)"/>
<rect x="377.6" y="652.38" width="10.7" height="4.03" fill="url(#pSB)"/>
<rect x="377.6" y="643.31" width="10.7" height="9.07" fill="#0000ff"/>
<rect x="377.6" y="636.25" width="10.7" height="7.06" fill="url(#pNB)"/>
<rect x="377.6" y="633.63" width="10.7" height="2.62" fill="url(#pVB)"/>
<rect x="377.6" y="633.63" width="10.7" height="44.97" fill="none" stroke="#444" stroke-width="0.5"/>
<line x1="377.6" y1="656.42" x2="388.3" y2="656.42" stroke="#333" stroke-width="0.5"/>
<line x1="377.6" y1="652.38" x2="388.3" y2="652.38" stroke="#333" stroke-width="0.5"/>
<line x1="377.6" y1="643.31" x2="388.3" y2="643.31" stroke="#333" stroke-width="0.5"/>
<line x1="377.6" y1="636.25" x2="388.3" y2="636.25" stroke="#333" stroke-width="0.5"/>
<rect x="377.6" y="652.38" width="10.7" height="4.03" fill="none" stroke="#444" stroke-width="0.55"/>
<line x1="382.95" y1="633.63" x2="382.95" y2="632.62" stroke="#444" stroke-width="0.6"/>
<line x1="380.95" y1="632.62" x2="384.95" y2="632.62" stroke="#444" stroke-width="0.6"/>
<line x1="419.8" y1="674.16" x2="419.8" y2="672.55" stroke="#888" stroke-width="0.6"/>
<line x1="417.8" y1="672.55" x2="421.8" y2="672.55" stroke="#888" stroke-width="0.6"/>
<rect x="415.6" y="674.16" width="8.4" height="4.44" fill="#a9a9a9"/>
<rect x="418.8" y="622" width="4.6" height="4.6" fill="url(#pVB)" stroke="#333" stroke-width="0.5"/>
<text x="427.2" y="627.1" style="font-size:8px">Survivin</text>
<rect x="418.8" y="629.3" width="4.6" height="4.6" fill="url(#pNB)" stroke="#333" stroke-width="0.5"/>
<text x="427.2" y="634.4" style="font-size:8px" textLength="34.1" lengthAdjust="spacingAndGlyphs">NY-ESO-1</text>
<rect x="418.8" y="636.6" width="4.6" height="4.6" fill="#0000ff" stroke="#333" stroke-width="0.5"/>
<text x="427.2" y="641.7" style="font-size:8px" textLength="34.6" lengthAdjust="spacingAndGlyphs">MAGE-A4</text>
<rect x="418.8" y="643.9" width="4.6" height="4.6" fill="url(#pSB)" stroke="#333" stroke-width="0.5"/>
<text x="427.2" y="649" style="font-size:8px">SSX2</text>
<rect x="418.8" y="651.2" width="4.6" height="4.6" fill="url(#pPB)" stroke="#333" stroke-width="0.5"/>
<text x="427.2" y="656.3" style="font-size:8px" textLength="25.4" lengthAdjust="spacingAndGlyphs">PRAME</text>
<rect x="418.8" y="658.5" width="4.6" height="4.6" fill="#a9a9a9"/>
<text x="427.2" y="663.6" style="font-size:8px">Control</text>
<text x="442.9" y="678.62" style="font-size:6.9px"><tspan style="font-style:italic">n</tspan> = 16</text>
<text x="328" y="651.32" text-anchor="middle" style="font-size:9.35px" transform="rotate(-90 328 648.05)">Percentage of</text>
<text x="339.4" y="651.53" text-anchor="middle" style="font-size:9.1px" transform="rotate(-90 339.4 648.35)">CD4<tspan dy="-3.9" style="font-size:6px">+</tspan><tspan dy="3.9"> T cells</tspan></text>
<text x="383.8" y="688.75" text-anchor="middle" style="font-size:9px">TAA</text>
<text x="420.9" y="688.75" text-anchor="middle" style="font-size:9px;letter-spacing:0.45px">Control</text>
<line x1="518.3" y1="618.3" x2="518.3" y2="678.2" stroke="#9a9a9a" stroke-width="0.8"/>
<line x1="518.3" y1="678.2" x2="595.2" y2="678.2" stroke="#9a9a9a" stroke-width="0.8"/>
<line x1="515.9" y1="678.2" x2="518.3" y2="678.2" stroke="#9a9a9a" stroke-width="0.8"/>
<text x="514.1" y="681" text-anchor="end" style="font-size:8px">0</text>
<line x1="515.9" y1="648.25" x2="518.3" y2="648.25" stroke="#9a9a9a" stroke-width="0.8"/>
<text x="514.1" y="651.05" text-anchor="end" style="font-size:8px">50</text>
<line x1="515.9" y1="618.3" x2="518.3" y2="618.3" stroke="#9a9a9a" stroke-width="0.8"/>
<text x="514.1" y="621.1" text-anchor="end" style="font-size:8px">100</text>
<text x="557.5" y="612.48" text-anchor="middle" style="font-size:8.8px">CD4<tspan dy="-3.9" style="font-size:6px">+</tspan><tspan dy="3.9">CD107a</tspan><tspan dy="-3.9" style="font-size:6px">+</tspan></text>
<rect x="531.8" y="667.42" width="11.7" height="10.78" fill="url(#pPB)"/>
<rect x="531.8" y="660.23" width="11.7" height="7.19" fill="url(#pSB)"/>
<rect x="531.8" y="653.04" width="11.7" height="7.19" fill="#0000ff"/>
<rect x="531.8" y="645.25" width="11.7" height="7.79" fill="url(#pNB)"/>
<rect x="531.8" y="639.26" width="11.7" height="5.99" fill="url(#pVB)"/>
<rect x="531.8" y="639.26" width="11.7" height="38.94" fill="none" stroke="#444" stroke-width="0.5"/>
<line x1="531.8" y1="667.42" x2="543.5" y2="667.42" stroke="#333" stroke-width="0.5"/>
<line x1="531.8" y1="660.23" x2="543.5" y2="660.23" stroke="#333" stroke-width="0.5"/>
<line x1="531.8" y1="653.04" x2="543.5" y2="653.04" stroke="#333" stroke-width="0.5"/>
<line x1="531.8" y1="645.25" x2="543.5" y2="645.25" stroke="#333" stroke-width="0.5"/>
<rect x="531.8" y="660.23" width="11.7" height="7.19" fill="none" stroke="#444" stroke-width="0.55"/>
<line x1="537.65" y1="639.26" x2="537.65" y2="638.37" stroke="#444" stroke-width="0.6"/>
<line x1="535.65" y1="638.37" x2="539.65" y2="638.37" stroke="#444" stroke-width="0.6"/>
<line x1="575.8" y1="672.21" x2="575.8" y2="671.01" stroke="#888" stroke-width="0.6"/>
<line x1="573.8" y1="671.01" x2="577.8" y2="671.01" stroke="#888" stroke-width="0.6"/>
<rect x="570.7" y="672.21" width="10.2" height="5.99" fill="#a9a9a9"/>
<rect x="572.8" y="622" width="4.6" height="4.6" fill="url(#pVB)" stroke="#333" stroke-width="0.5"/>
<text x="581.8" y="627.1" style="font-size:8px">Survivin</text>
<rect x="572.8" y="629.3" width="4.6" height="4.6" fill="url(#pNB)" stroke="#333" stroke-width="0.5"/>
<text x="581.8" y="634.4" style="font-size:8px" textLength="34.1" lengthAdjust="spacingAndGlyphs">NY-ESO-1</text>
<rect x="572.8" y="636.6" width="4.6" height="4.6" fill="#0000ff" stroke="#333" stroke-width="0.5"/>
<text x="581.8" y="641.7" style="font-size:8px" textLength="34.6" lengthAdjust="spacingAndGlyphs">MAGE-A4</text>
<rect x="572.8" y="643.9" width="4.6" height="4.6" fill="url(#pSB)" stroke="#333" stroke-width="0.5"/>
<text x="581.8" y="649" style="font-size:8px">SSX2</text>
<rect x="572.8" y="651.2" width="4.6" height="4.6" fill="url(#pPB)" stroke="#333" stroke-width="0.5"/>
<text x="581.8" y="656.3" style="font-size:8px" textLength="25.4" lengthAdjust="spacingAndGlyphs">PRAME</text>
<rect x="572.8" y="658.5" width="4.6" height="4.6" fill="#a9a9a9"/>
<text x="581.8" y="663.6" style="font-size:8px">Control</text>
<text x="597.3" y="678.21" style="font-size:6.9px"><tspan style="font-style:italic">n</tspan> = 16</text>
<text x="482" y="651.22" text-anchor="middle" style="font-size:9.35px" transform="rotate(-90 482 647.95)">Percentage of</text>
<text x="492" y="651.43" text-anchor="middle" style="font-size:9.1px" transform="rotate(-90 492 648.25)">CD4<tspan dy="-3.9" style="font-size:6px">+</tspan><tspan dy="3.9"> T cells</tspan></text>
<text x="538.8" y="688.85" text-anchor="middle" style="font-size:9px">TAA</text>
<text x="576.7" y="688.85" text-anchor="middle" style="font-size:9px;letter-spacing:0.45px">Control</text>
<line x1="52.9" y1="711.1" x2="52.9" y2="771.4" stroke="#9a9a9a" stroke-width="0.8"/>
<line x1="52.9" y1="771.4" x2="129" y2="771.4" stroke="#9a9a9a" stroke-width="0.8"/>
<line x1="50.5" y1="771.4" x2="52.9" y2="771.4" stroke="#9a9a9a" stroke-width="0.8"/>
<text x="48.7" y="774.2" text-anchor="end" style="font-size:8px">0</text>
<line x1="50.5" y1="756.33" x2="52.9" y2="756.33" stroke="#9a9a9a" stroke-width="0.8"/>
<text x="48.7" y="759.12" text-anchor="end" style="font-size:8px">5</text>
<line x1="50.5" y1="741.25" x2="52.9" y2="741.25" stroke="#9a9a9a" stroke-width="0.8"/>
<text x="48.7" y="744.05" text-anchor="end" style="font-size:8px">10</text>
<line x1="50.5" y1="726.17" x2="52.9" y2="726.17" stroke="#9a9a9a" stroke-width="0.8"/>
<text x="48.7" y="728.97" text-anchor="end" style="font-size:8px">15</text>
<line x1="50.5" y1="711.1" x2="52.9" y2="711.1" stroke="#9a9a9a" stroke-width="0.8"/>
<text x="48.7" y="713.9" text-anchor="end" style="font-size:8px">20</text>
<text x="89" y="707.28" text-anchor="middle" style="font-size:8.8px">CD8<tspan dy="-3.9" style="font-size:6px">+</tspan><tspan dy="3.9">IFNγ</tspan><tspan dy="-3.9" style="font-size:6px">+</tspan></text>
<rect x="68.2" y="756.33" width="10.7" height="15.07" fill="url(#pPR)"/>
<rect x="68.2" y="730.7" width="10.7" height="25.63" fill="url(#pSR)"/>
<rect x="68.2" y="723.16" width="10.7" height="7.54" fill="#d60000"/>
<rect x="68.2" y="717.73" width="10.7" height="5.43" fill="url(#pNR)"/>
<rect x="68.2" y="714.72" width="10.7" height="3.01" fill="url(#pVR)"/>
<rect x="68.2" y="714.72" width="10.7" height="56.68" fill="none" stroke="#444" stroke-width="0.5"/>
<line x1="68.2" y1="756.33" x2="78.9" y2="756.33" stroke="#333" stroke-width="0.5"/>
<line x1="68.2" y1="730.7" x2="78.9" y2="730.7" stroke="#333" stroke-width="0.5"/>
<line x1="68.2" y1="723.16" x2="78.9" y2="723.16" stroke="#333" stroke-width="0.5"/>
<line x1="68.2" y1="717.73" x2="78.9" y2="717.73" stroke="#333" stroke-width="0.5"/>
<rect x="68.2" y="730.7" width="10.7" height="25.63" fill="none" stroke="#444" stroke-width="0.55"/>
<line x1="68.2" y1="744.87" x2="78.9" y2="744.87" stroke="#444" stroke-width="0.5"/>
<line x1="73.55" y1="714.72" x2="73.55" y2="713.81" stroke="#444" stroke-width="0.6"/>
<line x1="71.55" y1="713.81" x2="75.55" y2="713.81" stroke="#444" stroke-width="0.6"/>
<rect x="106.7" y="770.19" width="8.7" height="1.21" fill="#a9a9a9"/>
<rect x="108.5" y="715.5" width="4.6" height="4.6" fill="url(#pVR)" stroke="#333" stroke-width="0.5"/>
<text x="117.9" y="720.6" style="font-size:8px">Survivin</text>
<rect x="108.5" y="722.8" width="4.6" height="4.6" fill="url(#pNR)" stroke="#333" stroke-width="0.5"/>
<text x="117.9" y="727.9" style="font-size:8px" textLength="34.1" lengthAdjust="spacingAndGlyphs">NY-ESO-1</text>
<rect x="108.5" y="730.1" width="4.6" height="4.6" fill="#d60000" stroke="#333" stroke-width="0.5"/>
<text x="117.9" y="735.2" style="font-size:8px" textLength="34.6" lengthAdjust="spacingAndGlyphs">MAGE-A4</text>
<rect x="108.5" y="737.4" width="4.6" height="4.6" fill="url(#pSR)" stroke="#333" stroke-width="0.5"/>
<text x="117.9" y="742.5" style="font-size:8px">SSX2</text>
<rect x="108.5" y="744.7" width="4.6" height="4.6" fill="url(#pPR)" stroke="#333" stroke-width="0.5"/>
<text x="117.9" y="749.8" style="font-size:8px" textLength="25.4" lengthAdjust="spacingAndGlyphs">PRAME</text>
<rect x="108.5" y="752" width="4.6" height="4.6" fill="#a9a9a9"/>
<text x="117.9" y="757.1" style="font-size:8px">Control</text>
<text x="132.8" y="771.91" style="font-size:6.9px"><tspan style="font-style:italic">n</tspan> = 16</text>
<text x="21.1" y="744.22" text-anchor="middle" style="font-size:9.35px" transform="rotate(-90 21.1 740.95)">Percentage of</text>
<text x="32.3" y="744.43" text-anchor="middle" style="font-size:9.1px" transform="rotate(-90 32.3 741.25)">CD8<tspan dy="-3.9" style="font-size:6px">+</tspan><tspan dy="3.9"> T cells</tspan></text>
<text x="74.8" y="783.25" text-anchor="middle" style="font-size:9px">TAA</text>
<text x="111.7" y="783.25" text-anchor="middle" style="font-size:9px;letter-spacing:0.45px">Control</text>
<line x1="209.6" y1="711.1" x2="209.6" y2="771.4" stroke="#9a9a9a" stroke-width="0.8"/>
<line x1="209.6" y1="771.4" x2="284.1" y2="771.4" stroke="#9a9a9a" stroke-width="0.8"/>
<line x1="207.2" y1="771.4" x2="209.6" y2="771.4" stroke="#9a9a9a" stroke-width="0.8"/>
<text x="205.4" y="774.2" text-anchor="end" style="font-size:8px">0</text>
<line x1="207.2" y1="751.3" x2="209.6" y2="751.3" stroke="#9a9a9a" stroke-width="0.8"/>
<text x="205.4" y="754.1" text-anchor="end" style="font-size:8px">10</text>
<line x1="207.2" y1="731.2" x2="209.6" y2="731.2" stroke="#9a9a9a" stroke-width="0.8"/>
<text x="205.4" y="734" text-anchor="end" style="font-size:8px">20</text>
<line x1="207.2" y1="711.1" x2="209.6" y2="711.1" stroke="#9a9a9a" stroke-width="0.8"/>
<text x="205.4" y="713.9" text-anchor="end" style="font-size:8px">30</text>
<text x="245.3" y="706.78" text-anchor="middle" style="font-size:8.8px">CD8<tspan dy="-3.9" style="font-size:6px">+</tspan><tspan dy="3.9">TNF</tspan><tspan dy="-3.9" style="font-size:6px">+</tspan></text>
<rect x="223.3" y="762.36" width="10.4" height="9.04" fill="url(#pPR)"/>
<rect x="223.3" y="745.27" width="10.4" height="17.08" fill="url(#pSR)"/>
<rect x="223.3" y="738.24" width="10.4" height="7.03" fill="#d60000"/>
<rect x="223.3" y="732.21" width="10.4" height="6.03" fill="url(#pNR)"/>
<rect x="223.3" y="729.99" width="10.4" height="2.21" fill="url(#pVR)"/>
<rect x="223.3" y="729.99" width="10.4" height="41.41" fill="none" stroke="#444" stroke-width="0.5"/>
<line x1="223.3" y1="762.36" x2="233.7" y2="762.36" stroke="#333" stroke-width="0.5"/>
<line x1="223.3" y1="745.27" x2="233.7" y2="745.27" stroke="#333" stroke-width="0.5"/>
<line x1="223.3" y1="738.24" x2="233.7" y2="738.24" stroke="#333" stroke-width="0.5"/>
<line x1="223.3" y1="732.21" x2="233.7" y2="732.21" stroke="#333" stroke-width="0.5"/>
<rect x="223.3" y="745.27" width="10.4" height="17.08" fill="none" stroke="#444" stroke-width="0.55"/>
<line x1="223.3" y1="759.34" x2="233.7" y2="759.34" stroke="#444" stroke-width="0.5"/>
<line x1="228.5" y1="729.99" x2="228.5" y2="729.19" stroke="#444" stroke-width="0.6"/>
<line x1="226.5" y1="729.19" x2="230.5" y2="729.19" stroke="#444" stroke-width="0.6"/>
<rect x="261.3" y="770.19" width="7.9" height="1.21" fill="#a9a9a9"/>
<rect x="263.7" y="715.2" width="4.6" height="4.6" fill="url(#pVR)" stroke="#333" stroke-width="0.5"/>
<text x="272.9" y="720.3" style="font-size:8px">Survivin</text>
<rect x="263.7" y="722.5" width="4.6" height="4.6" fill="url(#pNR)" stroke="#333" stroke-width="0.5"/>
<text x="272.9" y="727.6" style="font-size:8px" textLength="34.1" lengthAdjust="spacingAndGlyphs">NY-ESO-1</text>
<rect x="263.7" y="729.8" width="4.6" height="4.6" fill="#d60000" stroke="#333" stroke-width="0.5"/>
<text x="272.9" y="734.9" style="font-size:8px" textLength="34.6" lengthAdjust="spacingAndGlyphs">MAGE-A4</text>
<rect x="263.7" y="737.1" width="4.6" height="4.6" fill="url(#pSR)" stroke="#333" stroke-width="0.5"/>
<text x="272.9" y="742.2" style="font-size:8px">SSX2</text>
<rect x="263.7" y="744.4" width="4.6" height="4.6" fill="url(#pPR)" stroke="#333" stroke-width="0.5"/>
<text x="272.9" y="749.5" style="font-size:8px" textLength="25.4" lengthAdjust="spacingAndGlyphs">PRAME</text>
<rect x="263.7" y="751.7" width="4.6" height="4.6" fill="#a9a9a9"/>
<text x="272.9" y="756.8" style="font-size:8px">Control</text>
<text x="287.8" y="771.71" style="font-size:6.9px"><tspan style="font-style:italic">n</tspan> = 16</text>
<text x="173.7" y="744.22" text-anchor="middle" style="font-size:9.35px" transform="rotate(-90 173.7 740.95)">Percentage of</text>
<text x="184.3" y="744.43" text-anchor="middle" style="font-size:9.1px" transform="rotate(-90 184.3 741.25)">CD8<tspan dy="-3.9" style="font-size:6px">+</tspan><tspan dy="3.9"> T cells</tspan></text>
<text x="228.6" y="782.65" text-anchor="middle" style="font-size:9px">TAA</text>
<text x="265.7" y="782.65" text-anchor="middle" style="font-size:9px;letter-spacing:0.45px">Control</text>
<line x1="364.7" y1="711.1" x2="364.7" y2="771.4" stroke="#9a9a9a" stroke-width="0.8"/>
<line x1="364.7" y1="771.4" x2="439.6" y2="771.4" stroke="#9a9a9a" stroke-width="0.8"/>
<line x1="362.3" y1="771.4" x2="364.7" y2="771.4" stroke="#9a9a9a" stroke-width="0.8"/>
<text x="360.5" y="774.2" text-anchor="end" style="font-size:8px">0</text>
<line x1="362.3" y1="751.3" x2="364.7" y2="751.3" stroke="#9a9a9a" stroke-width="0.8"/>
<text x="360.5" y="754.1" text-anchor="end" style="font-size:8px">20</text>
<line x1="362.3" y1="731.2" x2="364.7" y2="731.2" stroke="#9a9a9a" stroke-width="0.8"/>
<text x="360.5" y="734" text-anchor="end" style="font-size:8px">40</text>
<line x1="362.3" y1="711.1" x2="364.7" y2="711.1" stroke="#9a9a9a" stroke-width="0.8"/>
<text x="360.5" y="713.9" text-anchor="end" style="font-size:8px">60</text>
<text x="401.9" y="706.78" text-anchor="middle" style="font-size:8.8px">CD8<tspan dy="-3.9" style="font-size:6px">+</tspan><tspan dy="3.9">4-1BB</tspan><tspan dy="-3.9" style="font-size:6px">+</tspan></text>
<rect x="377.6" y="758.34" width="10.7" height="13.06" fill="url(#pPR)"/>
<rect x="377.6" y="744.26" width="10.7" height="14.07" fill="url(#pSR)"/>
<rect x="377.6" y="734.22" width="10.7" height="10.05" fill="#d60000"/>
<rect x="377.6" y="727.18" width="10.7" height="7.03" fill="url(#pNR)"/>
<rect x="377.6" y="723.16" width="10.7" height="4.02" fill="url(#pVR)"/>
<rect x="377.6" y="723.16" width="10.7" height="48.24" fill="none" stroke="#444" stroke-width="0.5"/>
<line x1="377.6" y1="758.34" x2="388.3" y2="758.34" stroke="#333" stroke-width="0.5"/>
<line x1="377.6" y1="744.26" x2="388.3" y2="744.26" stroke="#333" stroke-width="0.5"/>
<line x1="377.6" y1="734.22" x2="388.3" y2="734.22" stroke="#333" stroke-width="0.5"/>
<line x1="377.6" y1="727.18" x2="388.3" y2="727.18" stroke="#333" stroke-width="0.5"/>
<rect x="377.6" y="744.26" width="10.7" height="14.07" fill="none" stroke="#444" stroke-width="0.55"/>
<line x1="377.6" y1="756.33" x2="388.3" y2="756.33" stroke="#444" stroke-width="0.5"/>
<line x1="382.95" y1="723.16" x2="382.95" y2="722.15" stroke="#444" stroke-width="0.6"/>
<line x1="380.95" y1="722.15" x2="384.95" y2="722.15" stroke="#444" stroke-width="0.6"/>
<line x1="419.8" y1="767.88" x2="419.8" y2="766.38" stroke="#888" stroke-width="0.6"/>
<line x1="417.8" y1="766.38" x2="421.8" y2="766.38" stroke="#888" stroke-width="0.6"/>
<rect x="415.6" y="767.88" width="8.4" height="3.52" fill="#a9a9a9"/>
<rect x="418.8" y="715.2" width="4.6" height="4.6" fill="url(#pVR)" stroke="#333" stroke-width="0.5"/>
<text x="427.2" y="720.3" style="font-size:8px">Survivin</text>
<rect x="418.8" y="722.5" width="4.6" height="4.6" fill="url(#pNR)" stroke="#333" stroke-width="0.5"/>
<text x="427.2" y="727.6" style="font-size:8px" textLength="34.1" lengthAdjust="spacingAndGlyphs">NY-ESO-1</text>
<rect x="418.8" y="729.8" width="4.6" height="4.6" fill="#d60000" stroke="#333" stroke-width="0.5"/>
<text x="427.2" y="734.9" style="font-size:8px" textLength="34.6" lengthAdjust="spacingAndGlyphs">MAGE-A4</text>
<rect x="418.8" y="737.1" width="4.6" height="4.6" fill="url(#pSR)" stroke="#333" stroke-width="0.5"/>
<text x="427.2" y="742.2" style="font-size:8px">SSX2</text>
<rect x="418.8" y="744.4" width="4.6" height="4.6" fill="url(#pPR)" stroke="#333" stroke-width="0.5"/>
<text x="427.2" y="749.5" style="font-size:8px" textLength="25.4" lengthAdjust="spacingAndGlyphs">PRAME</text>
<rect x="418.8" y="751.7" width="4.6" height="4.6" fill="#a9a9a9"/>
<text x="427.2" y="756.8" style="font-size:8px">Control</text>
<text x="442.9" y="771.71" style="font-size:6.9px"><tspan style="font-style:italic">n</tspan> = 16</text>
<text x="328" y="744.22" text-anchor="middle" style="font-size:9.35px" transform="rotate(-90 328 740.95)">Percentage of</text>
<text x="339.4" y="744.43" text-anchor="middle" style="font-size:9.1px" transform="rotate(-90 339.4 741.25)">CD8<tspan dy="-3.9" style="font-size:6px">+</tspan><tspan dy="3.9"> T cells</tspan></text>
<text x="383.8" y="782.65" text-anchor="middle" style="font-size:9px">TAA</text>
<text x="420.9" y="782.65" text-anchor="middle" style="font-size:9px;letter-spacing:0.45px">Control</text>
<line x1="518.3" y1="710.9" x2="518.3" y2="771.3" stroke="#9a9a9a" stroke-width="0.8"/>
<line x1="518.3" y1="771.3" x2="595.2" y2="771.3" stroke="#9a9a9a" stroke-width="0.8"/>
<line x1="515.9" y1="771.3" x2="518.3" y2="771.3" stroke="#9a9a9a" stroke-width="0.8"/>
<text x="514.1" y="774.1" text-anchor="end" style="font-size:8px">0</text>
<line x1="515.9" y1="751.17" x2="518.3" y2="751.17" stroke="#9a9a9a" stroke-width="0.8"/>
<text x="514.1" y="753.97" text-anchor="end" style="font-size:8px">20</text>
<line x1="515.9" y1="731.03" x2="518.3" y2="731.03" stroke="#9a9a9a" stroke-width="0.8"/>
<text x="514.1" y="733.83" text-anchor="end" style="font-size:8px">40</text>
<line x1="515.9" y1="710.9" x2="518.3" y2="710.9" stroke="#9a9a9a" stroke-width="0.8"/>
<text x="514.1" y="713.7" text-anchor="end" style="font-size:8px">60</text>
<text x="556.6" y="707.08" text-anchor="middle" style="font-size:8.8px">CD8<tspan dy="-3.9" style="font-size:6px">+</tspan><tspan dy="3.9">CD107a</tspan><tspan dy="-3.9" style="font-size:6px">+</tspan></text>
<rect x="531.8" y="758.21" width="11.7" height="13.09" fill="url(#pPR)"/>
<rect x="531.8" y="743.11" width="11.7" height="15.1" fill="url(#pSR)"/>
<rect x="531.8" y="732.04" width="11.7" height="11.07" fill="#d60000"/>
<rect x="531.8" y="724.99" width="11.7" height="7.05" fill="url(#pNR)"/>
<rect x="531.8" y="718.95" width="11.7" height="6.04" fill="url(#pVR)"/>
<rect x="531.8" y="718.95" width="11.7" height="52.35" fill="none" stroke="#444" stroke-width="0.5"/>
<line x1="531.8" y1="758.21" x2="543.5" y2="758.21" stroke="#333" stroke-width="0.5"/>
<line x1="531.8" y1="743.11" x2="543.5" y2="743.11" stroke="#333" stroke-width="0.5"/>
<line x1="531.8" y1="732.04" x2="543.5" y2="732.04" stroke="#333" stroke-width="0.5"/>
<line x1="531.8" y1="724.99" x2="543.5" y2="724.99" stroke="#333" stroke-width="0.5"/>
<rect x="531.8" y="743.11" width="11.7" height="15.1" fill="none" stroke="#444" stroke-width="0.55"/>
<line x1="531.8" y1="756.2" x2="543.5" y2="756.2" stroke="#444" stroke-width="0.5"/>
<line x1="537.65" y1="718.95" x2="537.65" y2="717.95" stroke="#444" stroke-width="0.6"/>
<line x1="535.65" y1="717.95" x2="539.65" y2="717.95" stroke="#444" stroke-width="0.6"/>
<line x1="575.8" y1="765.26" x2="575.8" y2="763.75" stroke="#888" stroke-width="0.6"/>
<line x1="573.8" y1="763.75" x2="577.8" y2="763.75" stroke="#888" stroke-width="0.6"/>
<rect x="570.7" y="765.26" width="10.2" height="6.04" fill="#a9a9a9"/>
<rect x="572.8" y="715.7" width="4.6" height="4.6" fill="url(#pVR)" stroke="#333" stroke-width="0.5"/>
<text x="581.8" y="720.8" style="font-size:8px">Survivin</text>
<rect x="572.8" y="723" width="4.6" height="4.6" fill="url(#pNR)" stroke="#333" stroke-width="0.5"/>
<text x="581.8" y="728.1" style="font-size:8px" textLength="34.1" lengthAdjust="spacingAndGlyphs">NY-ESO-1</text>
<rect x="572.8" y="730.3" width="4.6" height="4.6" fill="#d60000" stroke="#333" stroke-width="0.5"/>
<text x="581.8" y="735.4" style="font-size:8px" textLength="34.6" lengthAdjust="spacingAndGlyphs">MAGE-A4</text>
<rect x="572.8" y="737.6" width="4.6" height="4.6" fill="url(#pSR)" stroke="#333" stroke-width="0.5"/>
<text x="581.8" y="742.7" style="font-size:8px">SSX2</text>
<rect x="572.8" y="744.9" width="4.6" height="4.6" fill="url(#pPR)" stroke="#333" stroke-width="0.5"/>
<text x="581.8" y="750" style="font-size:8px" textLength="25.4" lengthAdjust="spacingAndGlyphs">PRAME</text>
<rect x="572.8" y="752.2" width="4.6" height="4.6" fill="#a9a9a9"/>
<text x="581.8" y="757.3" style="font-size:8px">Control</text>
<text x="597.3" y="771.41" style="font-size:6.9px"><tspan style="font-style:italic">n</tspan> = 16</text>
<text x="482" y="744.07" text-anchor="middle" style="font-size:9.35px" transform="rotate(-90 482 740.8)">Percentage of</text>
<text x="492" y="744.28" text-anchor="middle" style="font-size:9.1px" transform="rotate(-90 492 741.1)">CD8<tspan dy="-3.9" style="font-size:6px">+</tspan><tspan dy="3.9"> T cells</tspan></text>
<text x="538.8" y="782.65" text-anchor="middle" style="font-size:9px">TAA</text>
<text x="576.7" y="782.65" text-anchor="middle" style="font-size:9px;letter-spacing:0.45px">Control</text>
<text x="0.3" y="801.9" style="font-size:13.6px;font-weight:bold;fill:#000">k</text>
<line x1="52.9" y1="813.1" x2="52.9" y2="873.1" stroke="#9a9a9a" stroke-width="0.8"/>
<line x1="52.9" y1="873.1" x2="129.1" y2="873.1" stroke="#9a9a9a" stroke-width="0.8"/>
<line x1="50.5" y1="873.1" x2="52.9" y2="873.1" stroke="#9a9a9a" stroke-width="0.8"/>
<text x="48.7" y="875.9" text-anchor="end" style="font-size:8px">0</text>
<line x1="50.5" y1="843.1" x2="52.9" y2="843.1" stroke="#9a9a9a" stroke-width="0.8"/>
<text x="48.7" y="845.9" text-anchor="end" style="font-size:8px">500</text>
<line x1="50.5" y1="813.1" x2="52.9" y2="813.1" stroke="#9a9a9a" stroke-width="0.8"/>
<text x="48.7" y="815.9" text-anchor="end" style="font-size:8px">1,000</text>
<rect x="69" y="840.64" width="9.4" height="32.46" fill="#5f5ff7"/>
<rect x="69" y="836.02" width="9.4" height="4.62" fill="#3b8eea"/>
<rect x="69" y="826.9" width="9.4" height="9.12" fill="#f04a4a"/>
<rect x="69" y="822.1" width="9.4" height="4.8" fill="#4b5470"/>
<rect x="69" y="819.52" width="9.4" height="2.58" fill="#2f9a3c"/>
<line x1="73.7" y1="840.7" x2="73.7" y2="831.1" stroke="#111" stroke-width="0.6"/>
<line x1="71.9" y1="840.7" x2="75.5" y2="840.7" stroke="#111" stroke-width="0.6"/>
<line x1="71.9" y1="831.1" x2="75.5" y2="831.1" stroke="#111" stroke-width="0.6"/>
<line x1="73.7" y1="831.7" x2="73.7" y2="824.5" stroke="#111" stroke-width="0.6"/>
<line x1="71.9" y1="831.7" x2="75.5" y2="831.7" stroke="#111" stroke-width="0.6"/>
<line x1="71.9" y1="824.5" x2="75.5" y2="824.5" stroke="#111" stroke-width="0.6"/>
<line x1="73.7" y1="823.9" x2="73.7" y2="820.3" stroke="#111" stroke-width="0.6"/>
<line x1="71.9" y1="823.9" x2="75.5" y2="823.9" stroke="#111" stroke-width="0.6"/>
<line x1="71.9" y1="820.3" x2="75.5" y2="820.3" stroke="#111" stroke-width="0.6"/>
<line x1="73.7" y1="820.6" x2="73.7" y2="818.8" stroke="#111" stroke-width="0.6"/>
<line x1="71.9" y1="820.6" x2="75.5" y2="820.6" stroke="#111" stroke-width="0.6"/>
<line x1="71.9" y1="818.8" x2="75.5" y2="818.8" stroke="#111" stroke-width="0.6"/>
<rect x="107" y="872.38" width="8.5" height="0.72" fill="#9a9a9a"/>
<line x1="111.2" y1="872.38" x2="111.2" y2="871.6" stroke="#777" stroke-width="0.5"/>
<rect x="108.1" y="820.4" width="5.2" height="5.2" fill="#2f9a3c"/>
<text x="117.9" y="825.8" style="font-size:8px">Survivin</text>
<rect x="108.1" y="827.78" width="5.2" height="5.2" fill="#4b5470"/>
<text x="117.9" y="833.18" style="font-size:8px" textLength="34.1" lengthAdjust="spacingAndGlyphs">NY-ESO-1</text>
<rect x="108.1" y="835.16" width="5.2" height="5.2" fill="#f04a4a"/>
<text x="117.9" y="840.56" style="font-size:8px" textLength="34.6" lengthAdjust="spacingAndGlyphs">MAGE-A4</text>
<rect x="108.1" y="842.54" width="5.2" height="5.2" fill="#3b8eea"/>
<text x="117.9" y="847.94" style="font-size:8px">SSX2</text>
<rect x="108.1" y="849.92" width="5.2" height="5.2" fill="#5f5ff7"/>
<text x="117.9" y="855.32" style="font-size:8px" textLength="25.4" lengthAdjust="spacingAndGlyphs">PRAME</text>
<text x="130.3" y="873.36" style="font-size:7.6px"><tspan style="font-style:italic">n</tspan> = 54</text>
<text x="73.2" y="884.45" text-anchor="middle" style="font-size:9px;letter-spacing:0.28px">Targeted</text>
<text x="72.8" y="894.95" text-anchor="middle" style="font-size:9px;letter-spacing:0.28px">antigens</text>
<text x="111.4" y="884.45" text-anchor="middle" style="font-size:9px;letter-spacing:0.45px">Control</text>
<text x="18.6" y="846.51" text-anchor="middle" style="font-size:8.9px" transform="rotate(-90 18.6 843.4)">SFCs per 2 × 10<tspan dy="-3.4" style="font-size:6px">5</tspan></text>
<text x="168.1" y="801.5" style="font-size:13.6px;font-weight:bold;fill:#000">l</text>
<line x1="209.6" y1="812.8" x2="209.6" y2="873.9" stroke="#9a9a9a" stroke-width="0.8"/>
<line x1="209.6" y1="873.9" x2="286.6" y2="873.9" stroke="#9a9a9a" stroke-width="0.8"/>
<line x1="286.6" y1="812.8" x2="286.6" y2="873.9" stroke="#b5b5b5" stroke-width="0.8"/>
<line x1="207.2" y1="873.9" x2="209.6" y2="873.9" stroke="#9a9a9a" stroke-width="0.8"/>
<text x="204.6" y="876.7" text-anchor="end" style="font-size:8px">0</text>
<line x1="207.2" y1="858.62" x2="209.6" y2="858.62" stroke="#9a9a9a" stroke-width="0.8"/>
<text x="204.6" y="861.42" text-anchor="end" style="font-size:8px">200</text>
<line x1="207.2" y1="843.35" x2="209.6" y2="843.35" stroke="#9a9a9a" stroke-width="0.8"/>
<text x="204.6" y="846.15" text-anchor="end" style="font-size:8px">400</text>
<line x1="207.2" y1="828.07" x2="209.6" y2="828.07" stroke="#9a9a9a" stroke-width="0.8"/>
<text x="204.6" y="830.87" text-anchor="end" style="font-size:8px">600</text>
<line x1="207.2" y1="812.8" x2="209.6" y2="812.8" stroke="#9a9a9a" stroke-width="0.8"/>
<text x="204.6" y="815.6" text-anchor="end" style="font-size:8px">800</text>
<line x1="286.6" y1="873.9" x2="289" y2="873.9" stroke="#b5b5b5" stroke-width="0.8"/>
<text x="290.8" y="876.7" style="font-size:8px">0</text>
<line x1="286.6" y1="853.53" x2="289" y2="853.53" stroke="#b5b5b5" stroke-width="0.8"/>
<text x="290.8" y="856.33" style="font-size:8px">1,000</text>
<line x1="286.6" y1="833.17" x2="289" y2="833.17" stroke="#b5b5b5" stroke-width="0.8"/>
<text x="290.8" y="835.97" style="font-size:8px">2,000</text>
<line x1="286.6" y1="812.8" x2="289" y2="812.8" stroke="#b5b5b5" stroke-width="0.8"/>
<text x="290.8" y="815.6" style="font-size:8px">3,000</text>
<line x1="228.5" y1="833.42" x2="228.5" y2="819.29" stroke="#777" stroke-width="0.6"/>
<line x1="226.3" y1="819.29" x2="230.7" y2="819.29" stroke="#777" stroke-width="0.6"/>
<rect x="223.3" y="833.42" width="10.4" height="40.48" fill="#000"/>
<circle cx="228.5" cy="826.5" r="1.75" fill="#a8a8a8" stroke="#555" stroke-width="0.5"/>
<circle cx="228.5" cy="840.9" r="1.75" fill="#c4c4c4" stroke="#333" stroke-width="0.5"/>
<circle cx="228.5" cy="845.1" r="1.75" fill="#c4c4c4" stroke="#333" stroke-width="0.5"/>
<circle cx="228.5" cy="848.8" r="1.75" fill="#c4c4c4" stroke="#333" stroke-width="0.5"/>
<circle cx="228.5" cy="857.5" r="1.75" fill="#c4c4c4" stroke="#333" stroke-width="0.5"/>
<circle cx="228.5" cy="865.7" r="1.75" fill="#c4c4c4" stroke="#333" stroke-width="0.5"/>
<circle cx="228.5" cy="869.9" r="1.75" fill="#c4c4c4" stroke="#333" stroke-width="0.5"/>
<circle cx="228.5" cy="872.6" r="1.75" fill="#c4c4c4" stroke="#333" stroke-width="0.5"/>
<rect x="260.5" y="871.2" width="9.9" height="2.7" fill="#bdbdbd"/>
<circle cx="265.5" cy="868.3" r="1.3" fill="#d0d0d0" stroke="#888" stroke-width="0.45"/>
<circle cx="265.5" cy="870.8" r="1.3" fill="#d0d0d0" stroke="#888" stroke-width="0.45"/>
<circle cx="265.5" cy="873" r="1.3" fill="#d0d0d0" stroke="#888" stroke-width="0.45"/>
<text x="228.9" y="885.75" text-anchor="middle" style="font-size:9px">TAA mix</text>
<text x="266.5" y="885.75" text-anchor="middle" style="font-size:9px;letter-spacing:0.45px">Control</text>
<text x="291.5" y="885.03" style="font-size:6.95px"><tspan style="font-style:italic">n</tspan> = 16</text>
<text x="169.9" y="845.88" text-anchor="middle" style="font-size:8.8px" transform="rotate(-90 169.9 842.8)">Mean SFCs</text>
<text x="181.1" y="845.88" text-anchor="middle" style="font-size:8.8px" transform="rotate(-90 181.1 842.8)">per 2 × 10<tspan dy="-3.4" style="font-size:6px">5</tspan></text>
<text x="331" y="846.38" text-anchor="middle" style="font-size:8.8px" transform="rotate(90 331 843.3)">Individual SFCs</text>
<text x="321.1" y="846.38" text-anchor="middle" style="font-size:8.8px" transform="rotate(90 321.1 843.3)">per 2 × 10<tspan dy="-3.4" style="font-size:6px">5</tspan></text>
<text x="342.3" y="800.8" style="font-size:13.6px;font-weight:bold;fill:#000">m</text>
<line x1="381.9" y1="812.8" x2="381.9" y2="873.6" stroke="#9a9a9a" stroke-width="0.8"/>
<line x1="379" y1="873.6" x2="381.9" y2="873.6" stroke="#9a9a9a" stroke-width="0.8"/>
<text x="375" y="876.4" text-anchor="end" style="font-size:8px">0</text>
<line x1="379" y1="861.44" x2="381.9" y2="861.44" stroke="#9a9a9a" stroke-width="0.8"/>
<text x="375" y="864.24" text-anchor="end" style="font-size:8px">20</text>
<line x1="379" y1="849.28" x2="381.9" y2="849.28" stroke="#9a9a9a" stroke-width="0.8"/>
<text x="375" y="852.08" text-anchor="end" style="font-size:8px">40</text>
<line x1="379" y1="837.12" x2="381.9" y2="837.12" stroke="#9a9a9a" stroke-width="0.8"/>
<text x="375" y="839.92" text-anchor="end" style="font-size:8px">60</text>
<line x1="379" y1="824.96" x2="381.9" y2="824.96" stroke="#9a9a9a" stroke-width="0.8"/>
<text x="375" y="827.76" text-anchor="end" style="font-size:8px">80</text>
<line x1="379" y1="812.8" x2="381.9" y2="812.8" stroke="#9a9a9a" stroke-width="0.8"/>
<text x="375" y="815.6" text-anchor="end" style="font-size:8px">100</text>
<line x1="400.9" y1="818.5" x2="400.9" y2="866.9" stroke="#555" stroke-width="0.6"/>
<line x1="397.5" y1="818.5" x2="404.3" y2="818.5" stroke="#555" stroke-width="0.6"/>
<line x1="397.5" y1="866.9" x2="404.3" y2="866.9" stroke="#555" stroke-width="0.6"/>
<rect x="391.8" y="835.1" width="18.2" height="28" fill="#808080" stroke="#666" stroke-width="0.5"/>
<line x1="391.8" y1="857.4" x2="410" y2="857.4" stroke="#555" stroke-width="0.7"/>
<circle cx="400.9" cy="820" r="0.75" fill="#444"/>
<circle cx="402.4" cy="822.5" r="0.75" fill="#444"/>
<circle cx="400.4" cy="827" r="0.75" fill="#444"/>
<circle cx="401.9" cy="837" r="0.75" fill="#444"/>
<circle cx="399.4" cy="838" r="0.75" fill="#444"/>
<circle cx="402.9" cy="839.2" r="0.75" fill="#444"/>
<circle cx="401.4" cy="852" r="0.75" fill="#444"/>
<circle cx="399.9" cy="860" r="0.75" fill="#444"/>
<circle cx="402.4" cy="862" r="0.75" fill="#444"/>
<circle cx="398.9" cy="863.5" r="0.75" fill="#444"/>
<circle cx="403.4" cy="864.5" r="0.75" fill="#444"/>
<circle cx="400.9" cy="865.5" r="0.75" fill="#444"/>
<circle cx="397.9" cy="864" r="0.75" fill="#444"/>
<circle cx="403.9" cy="863" r="0.75" fill="#444"/>
<line x1="381.9" y1="865.6" x2="458.8" y2="865.6" stroke="#555" stroke-width="0.8" stroke-dasharray="3.5,2.2"/>
<line x1="381.9" y1="873.6" x2="457.6" y2="873.6" stroke="#c4c4c4" stroke-width="0.8"/>
<line x1="428.5" y1="872.6" x2="449.5" y2="872.6" stroke="#555" stroke-width="1.4"/>
<circle cx="429" cy="872.4" r="0.8" fill="#444"/>
<circle cx="431.5" cy="872.4" r="0.8" fill="#444"/>
<circle cx="434" cy="872.4" r="0.8" fill="#444"/>
<circle cx="436.5" cy="872.4" r="0.8" fill="#444"/>
<circle cx="439" cy="872.4" r="0.8" fill="#444"/>
<circle cx="441.5" cy="872.4" r="0.8" fill="#444"/>
<circle cx="444" cy="872.4" r="0.8" fill="#444"/>
<circle cx="446.5" cy="872.4" r="0.8" fill="#444"/>
<circle cx="449" cy="872.4" r="0.8" fill="#444"/>
<text x="401.4" y="884.45" text-anchor="middle" style="font-size:9px">TAAs</text>
<text x="439" y="884.45" text-anchor="middle" style="font-size:9px;letter-spacing:0.18px">Irrelevant</text>
<text x="439" y="895.35" text-anchor="middle" style="font-size:9px;letter-spacing:0.2px">control</text>
<text x="459.9" y="872.28" style="font-size:7.1px"><tspan style="font-style:italic">n</tspan> = 16</text>
<text x="350.9" y="847.05" text-anchor="middle" style="font-size:9px" transform="rotate(-90 350.9 843.9)">Specific lysis (%)</text>
<text x="493.6" y="800.8" style="font-size:13.6px;font-weight:bold;fill:#000">n</text>
<line x1="529.9" y1="813.5" x2="529.9" y2="873.6" stroke="#9a9a9a" stroke-width="0.8"/>
<line x1="527" y1="873.6" x2="529.9" y2="873.6" stroke="#9a9a9a" stroke-width="0.8"/>
<text x="524.3" y="876.4" text-anchor="end" style="font-size:8px">0</text>
<line x1="527" y1="861.58" x2="529.9" y2="861.58" stroke="#9a9a9a" stroke-width="0.8"/>
<text x="524.3" y="864.38" text-anchor="end" style="font-size:8px">20</text>
<line x1="527" y1="849.56" x2="529.9" y2="849.56" stroke="#9a9a9a" stroke-width="0.8"/>
<text x="524.3" y="852.36" text-anchor="end" style="font-size:8px">40</text>
<line x1="527" y1="837.54" x2="529.9" y2="837.54" stroke="#9a9a9a" stroke-width="0.8"/>
<text x="524.3" y="840.34" text-anchor="end" style="font-size:8px">60</text>
<line x1="527" y1="825.52" x2="529.9" y2="825.52" stroke="#9a9a9a" stroke-width="0.8"/>
<text x="524.3" y="828.32" text-anchor="end" style="font-size:8px">80</text>
<line x1="527" y1="813.5" x2="529.9" y2="813.5" stroke="#9a9a9a" stroke-width="0.8"/>
<text x="524.3" y="816.3" text-anchor="end" style="font-size:8px">100</text>
<line x1="529.9" y1="866.1" x2="605.1" y2="866.1" stroke="#555" stroke-width="0.8" stroke-dasharray="3.5,2.2"/>
<line x1="529.9" y1="873.6" x2="605.1" y2="873.6" stroke="#c4c4c4" stroke-width="0.8"/>
<line x1="568.6" y1="864.5" x2="568.6" y2="873.6" stroke="#888" stroke-width="0.6"/>
<line x1="567" y1="864.5" x2="570.2" y2="864.5" stroke="#888" stroke-width="0.6"/>
<rect x="566.6" y="867" width="4" height="5.5" fill="#b0b0b0" stroke="#888" stroke-width="0.4"/>
<circle cx="568.6" cy="866" r="0.8" fill="#888"/>
<circle cx="567.6" cy="867.5" r="0.8" fill="#888"/>
<circle cx="569.6" cy="868.5" r="0.8" fill="#888"/>
<circle cx="568.6" cy="870" r="0.8" fill="#888"/>
<circle cx="567.4" cy="871.2" r="0.8" fill="#888"/>
<circle cx="569.8" cy="872" r="0.8" fill="#888"/>
<circle cx="568.6" cy="873" r="0.8" fill="#888"/>
<text x="568.5" y="884.7" text-anchor="middle" style="font-size:8.3px">E:T 20:1</text>
<text x="607.8" y="872.96" style="font-size:7.6px"><tspan style="font-style:italic">n</tspan> = 54</text>
<text x="500.9" y="847.05" text-anchor="middle" style="font-size:9px" transform="rotate(-90 500.9 843.9)">Specific lysis (%)</text>
</svg>
</body></html>
